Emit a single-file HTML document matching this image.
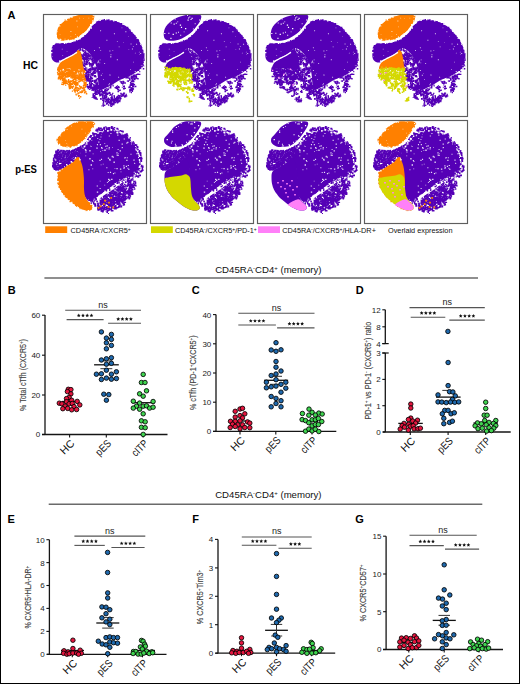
<!DOCTYPE html>
<html><head><meta charset="utf-8"><style>
html,body{margin:0;padding:0;background:#fff;}
#w{position:relative;width:518px;height:682px;border:1px solid #000;overflow:hidden;background:#fff;}
svg{position:absolute;left:-1px;top:-1px;}
text{font-family:"Liberation Sans", sans-serif;}
</style></head><body><div id="w">
<svg width="520" height="684" viewBox="0 0 520 684">
<defs><g id="hcb"><path d="M12,30 C12.58,29.55 12.67,29.42 14,29.3 C15.33,29.18 17.83,29.38 20,29.3 C22.17,29.22 24.83,29.13 27,28.8 C29.17,28.47 31.17,28.02 33,27.3 C34.83,26.58 36.33,25.63 38,24.5 C39.67,23.37 41.5,21.92 43,20.5 C44.5,19.08 45.83,17.5 47,16 C48.17,14.5 49.08,12.75 50,11.5 C50.92,10.25 51.5,9.33 52.5,8.5 C53.5,7.67 54.42,7 56,6.5 C57.58,6 59.83,5.53 62,5.5 C64.17,5.47 66.83,5.88 69,6.3 C71.17,6.72 73,7.22 75,8 C77,8.78 79.17,9.92 81,11 C82.83,12.08 84.42,13.08 86,14.5 C87.58,15.92 89.08,17.83 90.5,19.5 C91.92,21.17 93.33,22.83 94.5,24.5 C95.67,26.17 96.58,27.75 97.5,29.5 C98.42,31.25 99.33,33.08 100,35 C100.67,36.92 101.33,39 101.5,41 C101.67,43 101.25,45 101,47 C100.75,49 100.93,51.43 100,53 C99.07,54.57 96.93,55.27 95.4,56.4 C93.87,57.53 92.37,58.83 90.8,59.8 C89.23,60.77 88.13,61.23 86,62.2 C83.87,63.17 80.67,64.25 78,65.6 C75.33,66.95 72.5,68.93 70,70.3 C67.5,71.67 65.08,72.85 63,73.8 C60.92,74.75 58.75,76.63 57.5,76 C56.25,75.37 56,72.67 55.5,70 C55,67.33 55,63.33 54.5,60 C54,56.67 53.5,53 52.5,50 C51.5,47 49.92,44.17 48.5,42 C47.08,39.83 45.42,38.25 44,37 C42.58,35.75 41.33,34.83 40,34.5 C38.67,34.17 37.17,34.33 36,35 C34.83,35.67 34.17,37.5 33,38.5 C31.83,39.5 30.5,40.17 29,41 C27.5,41.83 25.67,42.58 24,43.5 C22.33,44.42 20.33,45.67 19,46.5 C17.67,47.33 17.17,48.25 16,48.5 C14.83,48.75 13.17,48.58 12,48 C10.83,47.42 9.62,46.33 9,45 C8.38,43.67 8.3,41.67 8.3,40 C8.3,38.33 8.63,36.33 9,35 C9.37,33.67 10,32.83 10.5,32 C11,31.17 11.42,30.45 12,30Z" fill="#5500b6" /><path d="M50 44.5h0.9v0.9h-0.9zM55.2 46.5h0.9v0.9h-0.9zM66.6 61h0.8v0.8h-0.8zM97.9 51.3h0.7v0.7h-0.7zM9.3 42.4h0.7v0.7h-0.7zM51.1 36.1h0.9v0.9h-0.9zM67.5 40.3h0.9v0.9h-0.9zM73.9 27.3h0.8v0.8h-0.8zM66.6 60.1h0.7v0.7h-0.7zM78.6 13.5h0.7v0.7h-0.7zM18.8 34.8h0.8v0.8h-0.8zM80 28.4h0.6v0.6h-0.6zM16.2 46.1h1v1h-1zM97.1 39h1.1v1.1h-1.1zM90.2 47.7h0.7v0.7h-0.7zM63.4 25.7h1v1h-1zM60 65.2h0.8v0.8h-0.8zM99.2 51.3h1v1h-1zM91.7 56.9h1.1v1.1h-1.1zM93 29.7h1.1v1.1h-1.1zM88.9 34.4h1.1v1.1h-1.1zM61.2 49.1h0.9v0.9h-0.9zM75.7 32.4h0.9v0.9h-0.9zM54.3 48.4h0.8v0.8h-0.8zM70.9 19.2h1.1v1.1h-1.1zM69.4 36.3h0.8v0.8h-0.8zM89.9 32.2h0.8v0.8h-0.8zM87 55.3h0.8v0.8h-0.8zM23.7 36.9h0.7v0.7h-0.7zM99.5 37.1h0.6v0.6h-0.6zM73.8 45.2h1.1v1.1h-1.1zM85.3 21.9h0.6v0.6h-0.6zM66.4 36.5h1v1h-1zM56.4 48.4h0.8v0.8h-0.8zM66.1 69.2h0.9v0.9h-0.9zM95.9 37.8h0.7v0.7h-0.7zM75.1 62.7h1v1h-1zM57.8 60.7h1.1v1.1h-1.1zM87.6 29.6h0.9v0.9h-0.9zM59.3 59.4h0.6v0.6h-0.6zM82.3 17.2h1.1v1.1h-1.1zM55.9 56h1v1h-1zM96.1 39.9h0.7v0.7h-0.7zM67.4 41.9h0.9v0.9h-0.9zM56.7 45.4h0.9v0.9h-0.9zM54.6 47.6h1.2v1.2h-1.2zM55.9 33.3h0.9v0.9h-0.9zM53.6 53.8h0.9v0.9h-0.9zM91.9 38.7h0.7v0.7h-0.7zM65.4 70.2h1.1v1.1h-1.1zM19.4 41.1h0.7v0.7h-0.7zM57.3 35.9h0.8v0.8h-0.8zM57.1 16.3h1v1h-1zM67.3 42.4h1v1h-1zM85.5 34.9h0.7v0.7h-0.7z" fill="#fff" fill-opacity="0.75"/><path d="M44.3 48.2h1.4v1.4h-1.4zM43.7 49.8h1.1v1.1h-1.1zM43.1 50.1h1.2v1.2h-1.2zM43.1 49.7h1.4v1.4h-1.4zM42.7 48.9h1.4v1.4h-1.4zM52 72h1.3v1.3h-1.3zM52.4 70.9h1.1v1.1h-1.1zM54.2 71h1.1v1.1h-1.1zM54.2 69.8h1.2v1.2h-1.2zM51.9 71.8h1.1v1.1h-1.1zM49.9 73.9h1.3v1.3h-1.3zM50.3 72.7h1.3v1.3h-1.3zM49.1 74.9h1.6v1.6h-1.6zM48.7 72.8h1.4v1.4h-1.4zM50.2 72.4h1.4v1.4h-1.4zM45.5 66.7h1.1v1.1h-1.1zM46.6 67.1h1.2v1.2h-1.2zM45.8 65.8h1.2v1.2h-1.2zM47.6 67.5h1.2v1.2h-1.2zM47.5 66.8h1.2v1.2h-1.2zM41 46.5h1.4v1.4h-1.4zM42.9 46.6h1.5v1.5h-1.5zM41.3 47.5h1.4v1.4h-1.4zM43 48.1h1.3v1.3h-1.3zM42.8 46.9h1.2v1.2h-1.2zM48.4 52.8h1.4v1.4h-1.4zM48.6 53h1.3v1.3h-1.3zM49.7 53.3h1.5v1.5h-1.5zM49 53.3h1.3v1.3h-1.3zM48.7 53h1.1v1.1h-1.1zM56.2 72.7h1.3v1.3h-1.3zM53.6 72h1.2v1.2h-1.2zM54.7 73.4h1.5v1.5h-1.5zM53.5 72.7h1.6v1.6h-1.6zM55 70.9h1.5v1.5h-1.5zM45.1 40.3h1.3v1.3h-1.3zM45.7 41.7h1.3v1.3h-1.3zM44.3 43.2h1.1v1.1h-1.1zM45.5 42.3h1v1h-1zM46.2 40.8h1.6v1.6h-1.6zM49 58.6h1.1v1.1h-1.1zM48.9 60.8h1.4v1.4h-1.4zM48.9 59.9h1.5v1.5h-1.5zM47.5 61.2h1v1h-1zM47.3 60h1.5v1.5h-1.5zM48.2 72.9h1v1h-1zM49.4 73.6h1.2v1.2h-1.2zM48.5 72.6h1.1v1.1h-1.1zM47.4 72.8h1.5v1.5h-1.5zM47.4 72.3h1.5v1.5h-1.5zM56.7 73.8h1.1v1.1h-1.1zM56.4 74.3h1.4v1.4h-1.4zM54.8 73.6h1.4v1.4h-1.4zM55.4 74.3h1.3v1.3h-1.3zM56.5 73.5h1.3v1.3h-1.3zM51.5 73.2h1.6v1.6h-1.6zM50.4 74.8h1v1h-1zM51.4 72.6h1.1v1.1h-1.1zM51.5 75h1.2v1.2h-1.2zM50.9 73.7h1.4v1.4h-1.4zM46.3 53.9h1.5v1.5h-1.5zM47.8 54.4h1v1h-1zM45.7 55.7h1.1v1.1h-1.1zM45.4 55.4h1.1v1.1h-1.1zM47.3 53.6h1.2v1.2h-1.2zM59.6 79.6h1.1v1.1h-1.1zM58.8 77.7h1.3v1.3h-1.3zM59.3 78.2h1.3v1.3h-1.3zM57.4 79.6h1.4v1.4h-1.4zM59.5 77.2h1.4v1.4h-1.4zM50.3 57.9h1.2v1.2h-1.2zM51 56h1.2v1.2h-1.2zM49.5 57.8h1.5v1.5h-1.5zM50.2 55.1h1.3v1.3h-1.3zM48.3 55.1h1.2v1.2h-1.2zM43.8 41.1h1.5v1.5h-1.5zM42.7 38.8h1.6v1.6h-1.6zM42.7 39.4h1.5v1.5h-1.5zM43.2 41.2h1.4v1.4h-1.4zM44.3 38.8h1.6v1.6h-1.6zM51.2 74.1h1.1v1.1h-1.1zM53.3 73.5h1.1v1.1h-1.1zM52.3 73.8h1.1v1.1h-1.1zM51.2 74h1v1h-1zM52.6 75.1h1.2v1.2h-1.2zM50.3 47.8h1.4v1.4h-1.4zM49.5 49.3h1.6v1.6h-1.6zM50.4 47.9h1.5v1.5h-1.5zM48.6 46.8h1.4v1.4h-1.4zM47.8 49.5h1.2v1.2h-1.2zM48.6 51.9h1v1h-1zM47.8 50h1.6v1.6h-1.6zM48 50.6h1.6v1.6h-1.6zM48.1 50.5h1.2v1.2h-1.2zM47.6 51.5h1.2v1.2h-1.2zM51.5 67.1h1.6v1.6h-1.6zM52.2 68.5h1.4v1.4h-1.4zM50.6 66.8h1.5v1.5h-1.5zM50.8 68.1h1.2v1.2h-1.2zM50.4 65.8h1.4v1.4h-1.4zM45.3 64h1.4v1.4h-1.4zM43.7 64.2h1v1h-1zM44 63.9h1.5v1.5h-1.5zM44.8 64h1.1v1.1h-1.1zM42.9 62h1.6v1.6h-1.6zM46.3 68.3h1v1h-1zM45.8 65.7h1.5v1.5h-1.5zM44.3 66h1.3v1.3h-1.3zM46.1 65.7h1.4v1.4h-1.4zM44.7 66.8h1v1h-1zM46.3 49.9h1.2v1.2h-1.2zM46.4 48.9h1.5v1.5h-1.5zM45.4 49.3h1.3v1.3h-1.3zM44.8 48.5h1v1h-1zM46 48.1h1.1v1.1h-1.1zM35.3 35.5h1.6v1.6h-1.6zM37.5 35.2h1.2v1.2h-1.2zM36.4 33.8h1.2v1.2h-1.2zM35.6 35.8h1.3v1.3h-1.3zM36.4 36h1.2v1.2h-1.2zM61.7 76.1h1.5v1.5h-1.5zM62.9 75.9h1.6v1.6h-1.6zM60.7 77h1.5v1.5h-1.5zM61.9 74.5h1.5v1.5h-1.5zM61.1 75.2h1.6v1.6h-1.6zM42.2 40.9h1.2v1.2h-1.2zM41.6 39.4h1.3v1.3h-1.3zM41 40.2h1.5v1.5h-1.5zM42.8 39.3h1.3v1.3h-1.3zM40.9 39.9h1.5v1.5h-1.5zM44.6 74h1.3v1.3h-1.3zM44.3 72.8h1.3v1.3h-1.3zM46.3 72.7h1.4v1.4h-1.4zM45.4 73.1h1.2v1.2h-1.2zM46.2 72.5h1.3v1.3h-1.3zM46.6 43.9h1.5v1.5h-1.5zM49.3 45.2h1.2v1.2h-1.2zM48.9 43.3h1.4v1.4h-1.4zM48 44.6h1.2v1.2h-1.2zM49.4 43.6h1.5v1.5h-1.5zM42.6 58.1h1.2v1.2h-1.2zM43.4 56.4h1.3v1.3h-1.3zM41 56.7h1.1v1.1h-1.1zM43.3 56.3h1.4v1.4h-1.4zM42.2 58.7h1.5v1.5h-1.5zM40.6 41h1.4v1.4h-1.4zM39.2 40.9h1.2v1.2h-1.2zM41.4 41h1.4v1.4h-1.4zM40 39.8h1.1v1.1h-1.1zM39.3 41.7h1.1v1.1h-1.1zM49.5 53.7h1.6v1.6h-1.6zM50.9 53.7h1.2v1.2h-1.2zM49.2 53.4h1.3v1.3h-1.3zM51.5 52.6h1.1v1.1h-1.1zM49.8 54.1h1v1h-1zM52 72h1.6v1.6h-1.6zM52.5 73.7h1v1h-1zM50.2 71.4h1.3v1.3h-1.3zM50.2 71.8h1v1h-1zM53.1 72.7h1.2v1.2h-1.2zM41.1 51.4h1.5v1.5h-1.5zM38.9 50.4h1.5v1.5h-1.5zM40.1 51.2h1v1h-1zM40.4 51h1.3v1.3h-1.3zM39 51.5h1.5v1.5h-1.5zM39 44h1.3v1.3h-1.3zM38.9 43.8h1.6v1.6h-1.6zM39.7 42.9h1.1v1.1h-1.1zM39.2 41.2h1.5v1.5h-1.5zM39.6 41.8h1.1v1.1h-1.1zM42.6 43.3h1.5v1.5h-1.5zM43.4 43.9h1.3v1.3h-1.3zM43 44.6h1.2v1.2h-1.2zM43.4 46.2h1.1v1.1h-1.1zM43 43.1h1.5v1.5h-1.5zM46.8 62.1h1.1v1.1h-1.1zM46.6 64.7h1.3v1.3h-1.3zM47 62.9h1.2v1.2h-1.2zM47.6 62.8h1.4v1.4h-1.4zM46.8 63.8h1.5v1.5h-1.5zM51.5 80.8h1.1v1.1h-1.1zM48.7 83h1v1h-1zM49.9 82.1h1.3v1.3h-1.3zM51.7 82.3h1v1h-1zM49.6 80.7h1.5v1.5h-1.5zM48.1 59.8h1.4v1.4h-1.4zM50 60.5h1.1v1.1h-1.1zM49.7 58.7h1.6v1.6h-1.6zM49.1 58.5h1.3v1.3h-1.3zM49.1 59.5h1.2v1.2h-1.2zM52.8 65.5h1v1h-1zM53.7 64h1.5v1.5h-1.5zM53.2 65.7h1.2v1.2h-1.2zM53.4 64.4h1.1v1.1h-1.1zM53.2 64.9h1.3v1.3h-1.3zM42 54.9h1.5v1.5h-1.5zM41.2 54.1h1.4v1.4h-1.4zM42.4 55.8h1.2v1.2h-1.2zM41.2 54.1h1.1v1.1h-1.1zM39.9 56.5h1.4v1.4h-1.4zM50.1 73.1h1.3v1.3h-1.3zM50.3 73.6h1.1v1.1h-1.1zM50.5 74.4h1.1v1.1h-1.1zM48.9 74.5h1.6v1.6h-1.6zM50.8 74.8h1.4v1.4h-1.4zM48.6 66.5h1.6v1.6h-1.6zM46.2 67.2h1.3v1.3h-1.3zM48.6 68.9h1.5v1.5h-1.5zM47.8 68.6h1.2v1.2h-1.2zM46 68.2h1.1v1.1h-1.1zM43.1 63.6h1.5v1.5h-1.5zM41.6 64.9h1.6v1.6h-1.6zM43.8 63h1.2v1.2h-1.2zM41.5 63.7h1.2v1.2h-1.2zM41.6 63.9h1.5v1.5h-1.5zM38.8 40.7h1.1v1.1h-1.1zM40 39.2h1.3v1.3h-1.3zM39.3 40.6h1.1v1.1h-1.1zM40 41.9h1.1v1.1h-1.1zM38.2 39.8h1.2v1.2h-1.2zM49.4 47.8h1.1v1.1h-1.1zM49.8 45.3h1.1v1.1h-1.1zM50.9 47.4h1.4v1.4h-1.4zM49.7 46.9h1.1v1.1h-1.1zM48.8 45.5h1.2v1.2h-1.2zM47 64.1h1.5v1.5h-1.5zM47 63.6h1.1v1.1h-1.1zM48.1 63.7h1.1v1.1h-1.1zM48.5 63.4h1.6v1.6h-1.6zM46.8 62.1h1.5v1.5h-1.5zM50.4 43.4h1.2v1.2h-1.2zM50 45.6h1.3v1.3h-1.3zM49 44.1h1.4v1.4h-1.4zM50.1 45.3h1.3v1.3h-1.3zM48.7 45.1h1.4v1.4h-1.4zM56 80h1.6v1.6h-1.6zM58.3 80.1h1.5v1.5h-1.5zM56.3 81.3h1.3v1.3h-1.3zM59.1 80.1h1.2v1.2h-1.2zM57.1 80.5h1.3v1.3h-1.3zM42 61h1.2v1.2h-1.2zM41.3 61.3h1.5v1.5h-1.5zM41.9 60.1h1.6v1.6h-1.6zM41.3 60.2h1.5v1.5h-1.5zM41.1 59.7h1.4v1.4h-1.4zM48.6 50.3h1.2v1.2h-1.2zM46.5 50.1h1.5v1.5h-1.5zM49 50.9h1.3v1.3h-1.3zM49 51.4h1.2v1.2h-1.2zM48.1 49.9h1.1v1.1h-1.1zM51.8 46.3h1.1v1.1h-1.1zM49.4 48.3h1.2v1.2h-1.2zM51.3 48.5h1.2v1.2h-1.2zM51.5 45.9h1v1h-1zM50.9 46.5h1.1v1.1h-1.1zM51.1 81.1h1.1v1.1h-1.1zM50.9 79h1.1v1.1h-1.1zM49.5 79.2h1.6v1.6h-1.6zM49.5 80.3h1v1h-1zM49.3 81.5h1.3v1.3h-1.3zM51.8 79.2h1.6v1.6h-1.6zM51.8 78.4h1.4v1.4h-1.4zM53.2 79.6h1v1h-1zM52 79.2h1.4v1.4h-1.4zM53.2 79.6h1.5v1.5h-1.5zM37.8 42.4h1v1h-1zM37.9 42.5h1.2v1.2h-1.2zM38.4 42.1h1.5v1.5h-1.5zM37.4 40.8h1.5v1.5h-1.5zM37.9 40.7h1.6v1.6h-1.6zM47.5 71.4h1.3v1.3h-1.3zM46.5 71h1.5v1.5h-1.5zM47.7 69.2h1v1h-1zM47.8 71h1.1v1.1h-1.1zM45.8 69.4h1.2v1.2h-1.2zM42.5 64.8h1.6v1.6h-1.6zM44.9 64.3h1.4v1.4h-1.4zM42.1 64.8h1.5v1.5h-1.5zM44.2 66h1.3v1.3h-1.3zM43.3 64h1.4v1.4h-1.4zM38.9 49.2h1.5v1.5h-1.5zM40.9 48.6h1.4v1.4h-1.4zM39.3 48.3h1.4v1.4h-1.4zM38.9 49h1.4v1.4h-1.4zM38.7 47.5h1.5v1.5h-1.5zM52.3 65.5h1v1h-1zM53.3 65.2h1.1v1.1h-1.1zM53.5 67.3h1.1v1.1h-1.1zM52.4 65.2h1.2v1.2h-1.2zM52.5 65.6h1.2v1.2h-1.2zM48.4 75.8h1.2v1.2h-1.2zM48.5 74.7h1.5v1.5h-1.5zM50.2 74.6h1.4v1.4h-1.4zM49.3 74.6h1v1h-1zM50.9 74.6h1.3v1.3h-1.3zM45.7 43.4h1.2v1.2h-1.2zM47.6 45.2h1.4v1.4h-1.4zM46.7 43.9h1.2v1.2h-1.2zM45.6 45.2h1.1v1.1h-1.1zM47.1 43.3h1.4v1.4h-1.4zM42.3 44.1h1.4v1.4h-1.4zM42.9 43.4h1.5v1.5h-1.5zM43.6 43.1h1.3v1.3h-1.3zM42.9 43.6h1.5v1.5h-1.5zM44.1 44.8h1v1h-1zM37.5 40.5h1.3v1.3h-1.3zM37.8 41h1.4v1.4h-1.4zM36.9 40.4h1.5v1.5h-1.5zM37.8 40.5h1.2v1.2h-1.2zM37.7 40.3h1.1v1.1h-1.1zM50.4 70.5h1.4v1.4h-1.4zM52.1 72.3h1.5v1.5h-1.5zM51.9 71.1h1.2v1.2h-1.2zM52 72.7h1.4v1.4h-1.4zM50.1 70h1.4v1.4h-1.4zM42.1 49.3h1.1v1.1h-1.1zM40.9 49.2h1v1h-1zM42.5 50h1.1v1.1h-1.1zM40.3 51h1v1h-1zM41.2 50h1.3v1.3h-1.3zM39.7 37h1.1v1.1h-1.1zM39.2 35.8h1.5v1.5h-1.5zM41.4 36.3h1.5v1.5h-1.5zM40.7 37.9h1.5v1.5h-1.5zM40.6 36.3h1.2v1.2h-1.2zM43.9 39h1.2v1.2h-1.2zM45 40.6h1.2v1.2h-1.2zM44.2 38.5h1.3v1.3h-1.3zM44.9 40h1.4v1.4h-1.4zM44.6 40.8h1.5v1.5h-1.5zM40.3 44.2h1.1v1.1h-1.1zM41.1 45.3h1v1h-1zM40.1 43.1h1.3v1.3h-1.3zM39.8 44.7h1.4v1.4h-1.4zM40.3 44.3h1.6v1.6h-1.6zM61.1 90.6h1.3v1.3h-1.3zM59.6 90.1h1.3v1.3h-1.3zM58.5 91.3h1.2v1.2h-1.2zM59.3 89.4h1.1v1.1h-1.1zM60 91.6h1.1v1.1h-1.1zM59.1 85.7h1.4v1.4h-1.4zM58.9 84.5h1.1v1.1h-1.1zM57.8 84.5h1.1v1.1h-1.1zM57 84.1h1.6v1.6h-1.6zM59.3 83.4h1.5v1.5h-1.5zM45.2 58.9h1.1v1.1h-1.1zM44.4 56.7h1.4v1.4h-1.4zM43.1 57.4h1.4v1.4h-1.4zM44.8 57.7h1.6v1.6h-1.6zM43.7 57.9h1.1v1.1h-1.1zM43.8 70h1.3v1.3h-1.3zM44.2 71.7h1.4v1.4h-1.4zM43.3 71.4h1.4v1.4h-1.4zM43.5 72.4h1.1v1.1h-1.1zM45.4 72.5h1.6v1.6h-1.6zM51.5 77.1h1.6v1.6h-1.6zM53.3 75.3h1.6v1.6h-1.6zM53.2 77.3h1.4v1.4h-1.4zM54.6 76.3h1.1v1.1h-1.1zM51.7 75h1.2v1.2h-1.2zM39.9 50h1v1h-1zM38.6 49.3h1.5v1.5h-1.5zM40.3 51h1.1v1.1h-1.1zM41.2 51.1h1.3v1.3h-1.3zM41.3 50.1h1.2v1.2h-1.2zM57 80.6h1.4v1.4h-1.4zM59.1 82.5h1v1h-1zM59 80.7h1.2v1.2h-1.2zM59.2 81.1h1.3v1.3h-1.3zM58.8 82.2h1.6v1.6h-1.6zM44.9 61.5h1.3v1.3h-1.3zM44.9 61.6h1.5v1.5h-1.5zM45 60.9h1.3v1.3h-1.3zM47 61.7h1.1v1.1h-1.1zM45.4 60.5h1.2v1.2h-1.2zM51.3 56.7h1.3v1.3h-1.3zM51 56.7h1.5v1.5h-1.5zM51.3 58.7h1.3v1.3h-1.3zM51.8 57.3h1.1v1.1h-1.1zM53.1 56.9h1.3v1.3h-1.3zM47.2 73.7h1.3v1.3h-1.3zM46.1 74.7h1.4v1.4h-1.4zM46 72.8h1.5v1.5h-1.5zM48.6 73.7h1v1h-1zM48.4 72.4h1.6v1.6h-1.6zM43.2 66.7h1.1v1.1h-1.1zM42.5 63.8h1.5v1.5h-1.5zM43.3 65h1.3v1.3h-1.3zM41.6 65.3h1.2v1.2h-1.2zM41.3 63.9h1.4v1.4h-1.4zM50.6 71.4h1.3v1.3h-1.3zM52.6 71.3h1.2v1.2h-1.2zM52.6 69.2h1.6v1.6h-1.6zM52.9 69.3h1.1v1.1h-1.1zM52.3 69.8h1.5v1.5h-1.5zM42.5 37.4h1.2v1.2h-1.2zM41 38.4h1.2v1.2h-1.2zM41.4 38.1h1.4v1.4h-1.4zM41.9 37.5h1.5v1.5h-1.5zM42.3 38.7h1.4v1.4h-1.4zM44.7 65.5h1.4v1.4h-1.4zM42.3 64.1h1.4v1.4h-1.4zM43.5 65.8h1.5v1.5h-1.5zM44.4 65.3h1.6v1.6h-1.6zM44.1 64.4h1.4v1.4h-1.4zM54.3 76.5h1.2v1.2h-1.2zM54.2 77.1h1.2v1.2h-1.2zM56.4 77.3h1.4v1.4h-1.4zM54.3 75.5h1v1h-1zM56.6 76.7h1.2v1.2h-1.2zM55.6 75.4h1.3v1.3h-1.3zM56 76.7h1.5v1.5h-1.5zM56 76.2h1.5v1.5h-1.5zM55.8 76.1h1.5v1.5h-1.5zM55.7 76.5h1v1h-1zM52.7 79.2h1.2v1.2h-1.2zM52.5 78.1h1.2v1.2h-1.2zM54.7 78.7h1.3v1.3h-1.3zM52.3 79.6h1.5v1.5h-1.5zM54.7 78.3h1.1v1.1h-1.1zM42.4 39.9h1.1v1.1h-1.1zM41.9 37.4h1.3v1.3h-1.3zM41.1 38h1.3v1.3h-1.3zM41.1 38.1h1.1v1.1h-1.1zM41.2 38h1.2v1.2h-1.2zM55.9 79.1h1.2v1.2h-1.2zM56.6 79.2h1.5v1.5h-1.5zM54.5 76.7h1.2v1.2h-1.2zM54.1 79.2h1.3v1.3h-1.3zM55.2 78h1v1h-1zM58.9 77h1.6v1.6h-1.6zM60.9 76.7h1.2v1.2h-1.2zM61.1 75.8h1.3v1.3h-1.3zM58.5 77.2h1.2v1.2h-1.2zM60.9 77.1h1.2v1.2h-1.2zM52 66.3h1.5v1.5h-1.5zM51.6 65.9h1.5v1.5h-1.5zM53.7 68.1h1.1v1.1h-1.1zM51.6 65.8h1.2v1.2h-1.2zM53.4 67.8h1.2v1.2h-1.2zM59.8 88.3h1.5v1.5h-1.5zM62.5 86.1h1.5v1.5h-1.5zM62 87.1h1.4v1.4h-1.4zM59.8 86.2h1.3v1.3h-1.3zM62.4 86.1h1.1v1.1h-1.1zM60 81.3h1.1v1.1h-1.1zM59.5 83.1h1v1h-1zM60.8 81.3h1.5v1.5h-1.5zM60.3 83.5h1.6v1.6h-1.6zM61 82.7h1.5v1.5h-1.5zM49.4 55.4h1.3v1.3h-1.3zM48.2 54.4h1.4v1.4h-1.4zM47.5 56.7h1.1v1.1h-1.1zM49.3 54.5h1.1v1.1h-1.1zM47.4 56.5h1.3v1.3h-1.3zM40.9 54.6h1.4v1.4h-1.4zM42.4 53.4h1.3v1.3h-1.3zM41.1 55.7h1.2v1.2h-1.2zM39.9 53.6h1.1v1.1h-1.1zM42.3 55.4h1.5v1.5h-1.5zM46.5 54.6h1.6v1.6h-1.6zM44.4 54.8h1.5v1.5h-1.5zM45.9 55h1v1h-1zM45.8 55.7h1.3v1.3h-1.3zM45.1 55h1.6v1.6h-1.6zM46.4 57.8h1.5v1.5h-1.5zM45.2 57.8h1.2v1.2h-1.2zM45.4 60.1h1.4v1.4h-1.4zM47.5 58.8h1.6v1.6h-1.6zM46.5 57.9h1.1v1.1h-1.1zM59.8 87h1.3v1.3h-1.3zM60.2 84.7h1.4v1.4h-1.4zM61 86.5h1.1v1.1h-1.1zM62.5 86.9h1v1h-1zM60.3 85.4h1v1h-1zM51.5 77.5h1.6v1.6h-1.6zM51.4 78h1.4v1.4h-1.4zM51.8 79.1h1.2v1.2h-1.2zM52.7 77h1.2v1.2h-1.2zM52.6 79.2h1.5v1.5h-1.5zM47.6 41.5h1.2v1.2h-1.2zM47.1 40.7h1.2v1.2h-1.2zM47.5 42.5h1.2v1.2h-1.2zM47.5 41.2h1.2v1.2h-1.2zM46.1 41.2h1.5v1.5h-1.5zM49.7 57h1.4v1.4h-1.4zM51.8 58.1h1.5v1.5h-1.5zM50.7 58.3h1.4v1.4h-1.4zM50.3 57.6h1.4v1.4h-1.4zM49.2 58.3h1.5v1.5h-1.5zM43.9 46.5h1.3v1.3h-1.3zM45 46.4h1.1v1.1h-1.1zM43.2 47.3h1.1v1.1h-1.1zM44.8 46h1.5v1.5h-1.5zM43.5 46.8h1.6v1.6h-1.6zM51.8 72.8h1.5v1.5h-1.5zM53.8 73.4h1.2v1.2h-1.2zM53.2 74.6h1.5v1.5h-1.5zM52.2 73.1h1.6v1.6h-1.6zM52.7 72.9h1.3v1.3h-1.3zM46.8 65.3h1.6v1.6h-1.6zM47.7 63.7h1.4v1.4h-1.4zM48.8 66.1h1.3v1.3h-1.3zM48.6 65.3h1v1h-1zM47.9 63.5h1.3v1.3h-1.3zM49.3 48.6h1.6v1.6h-1.6zM48.4 48.8h1.4v1.4h-1.4zM49.2 49.4h1.1v1.1h-1.1zM47.8 50.4h1.4v1.4h-1.4zM49.4 50.1h1.4v1.4h-1.4zM43.9 42h1.3v1.3h-1.3zM43.3 41.6h1.2v1.2h-1.2zM42.3 41.1h1.2v1.2h-1.2zM42.7 41h1.2v1.2h-1.2zM42.1 42.2h1.3v1.3h-1.3zM45.5 54.8h1.4v1.4h-1.4zM45.8 55h1.3v1.3h-1.3zM44.2 57.3h1.4v1.4h-1.4zM46.2 56h1v1h-1zM45.2 56.3h1.4v1.4h-1.4zM55.4 72.4h1.3v1.3h-1.3zM54.1 73h1.2v1.2h-1.2zM54 73h1.5v1.5h-1.5zM54.2 71.8h1.3v1.3h-1.3zM54.4 71.8h1v1h-1zM43.5 42.8h1.4v1.4h-1.4zM45.4 43.5h1.3v1.3h-1.3zM43.9 44.7h1.2v1.2h-1.2zM44.9 44.2h1.4v1.4h-1.4zM43.7 42.4h1.4v1.4h-1.4zM36.5 33.9h1.6v1.6h-1.6zM36.3 35.4h1.3v1.3h-1.3zM38.9 35.9h1.3v1.3h-1.3zM39 34.2h1.3v1.3h-1.3zM39.2 35.2h1.1v1.1h-1.1zM46.4 70.3h1.4v1.4h-1.4zM46 68.2h1.3v1.3h-1.3zM47 69.4h1.6v1.6h-1.6zM47.7 70.3h1.5v1.5h-1.5zM47.7 70.3h1.5v1.5h-1.5zM51.7 73.8h1.5v1.5h-1.5zM53 75h1.6v1.6h-1.6zM52 76.2h1v1h-1zM52.8 74.6h1v1h-1zM52.9 74.9h1.2v1.2h-1.2zM45.9 49.9h1.3v1.3h-1.3zM46.1 51.5h1v1h-1zM48.2 49.3h1.4v1.4h-1.4zM47.7 49.2h1.3v1.3h-1.3zM46.2 51.7h1.1v1.1h-1.1zM44.8 40.2h1.6v1.6h-1.6zM44.4 39.7h1.5v1.5h-1.5zM45.4 42.1h1.1v1.1h-1.1zM45 42.2h1.1v1.1h-1.1zM45.7 40.1h1.1v1.1h-1.1zM48 70.8h1v1h-1zM47.3 70.1h1.4v1.4h-1.4zM47.2 70.6h1v1h-1zM48.1 70.5h1.2v1.2h-1.2zM46.9 69.9h1.4v1.4h-1.4zM51.2 55.2h1.6v1.6h-1.6zM50.8 54.8h1.2v1.2h-1.2zM50.2 54.6h1.5v1.5h-1.5zM52.1 54.5h1.4v1.4h-1.4zM51.9 54.8h1.1v1.1h-1.1zM57.7 76.3h1.6v1.6h-1.6zM56.2 77.8h1.3v1.3h-1.3zM55.9 75.8h1.4v1.4h-1.4zM57.6 76.8h1.1v1.1h-1.1zM55.8 77.6h1.5v1.5h-1.5zM41.9 44.5h1.1v1.1h-1.1zM40.4 44.9h1.6v1.6h-1.6zM42.3 45h1.2v1.2h-1.2zM40.6 46.4h1.6v1.6h-1.6zM42.3 44.7h1.5v1.5h-1.5zM50.8 61.6h1.6v1.6h-1.6zM51.4 61h1.5v1.5h-1.5zM52.3 62.2h1.3v1.3h-1.3zM51.5 61.1h1.6v1.6h-1.6zM51 60.9h1.6v1.6h-1.6zM60.7 83.3h1.3v1.3h-1.3zM61.7 84.2h1.2v1.2h-1.2zM62.9 83h1.2v1.2h-1.2zM62.3 84.5h1.5v1.5h-1.5zM62.8 84.8h1.2v1.2h-1.2zM52.5 83.1h1.3v1.3h-1.3zM53.3 84.2h1.3v1.3h-1.3zM53.5 84.8h1.3v1.3h-1.3zM52.2 82.6h1.1v1.1h-1.1zM51.4 83.7h1.5v1.5h-1.5zM53.2 77.6h1.4v1.4h-1.4zM51.8 76.2h1.1v1.1h-1.1zM53.7 75.9h1.2v1.2h-1.2zM53.9 77.3h1v1h-1zM51.6 76.6h1.2v1.2h-1.2zM42.1 44.4h1.5v1.5h-1.5zM42.9 43.3h1.2v1.2h-1.2zM43 45h1.3v1.3h-1.3zM42 44.2h1.3v1.3h-1.3zM41 43.1h1.5v1.5h-1.5zM51.4 56.1h1.2v1.2h-1.2zM51.4 54.1h1.2v1.2h-1.2zM51.5 55.6h1v1h-1zM51.7 55.4h1.3v1.3h-1.3zM50.6 53.8h1.2v1.2h-1.2zM46.9 56h1.5v1.5h-1.5zM48.1 54.7h1.1v1.1h-1.1zM45.2 56.8h1.3v1.3h-1.3zM46.3 55.1h1.5v1.5h-1.5zM47.1 56.2h1v1h-1zM45.5 71.7h1.2v1.2h-1.2zM44.9 73.2h1v1h-1zM45.9 73.1h1.1v1.1h-1.1zM45.9 72.4h1.4v1.4h-1.4zM45.9 71.2h1.3v1.3h-1.3zM43.2 62.9h1.4v1.4h-1.4zM43 62.4h1.6v1.6h-1.6zM44.3 61.7h1.4v1.4h-1.4zM44.4 63.6h1.1v1.1h-1.1zM44.8 62.7h1.4v1.4h-1.4zM43.3 60.8h1.4v1.4h-1.4zM45.4 60.8h1.2v1.2h-1.2zM44.4 60.1h1.2v1.2h-1.2zM43.5 59.1h1.2v1.2h-1.2zM43 60.4h1.5v1.5h-1.5zM53.4 70.8h1.4v1.4h-1.4zM53.8 70.1h1.5v1.5h-1.5zM52.8 70.5h1.2v1.2h-1.2zM54 68.6h1.3v1.3h-1.3zM53.6 68.1h1.1v1.1h-1.1zM42.3 62.9h1.1v1.1h-1.1zM42.8 62.2h1.3v1.3h-1.3zM43.1 60.6h1.3v1.3h-1.3zM42.6 62.4h1.4v1.4h-1.4zM43.1 62.8h1.2v1.2h-1.2zM42.3 55.4h1.5v1.5h-1.5zM40.8 55.8h1.2v1.2h-1.2zM41.8 53.3h1.3v1.3h-1.3zM40.1 55.9h1.1v1.1h-1.1zM40.7 54.1h1.6v1.6h-1.6zM50.9 83.1h1.6v1.6h-1.6zM50.1 83.2h1.2v1.2h-1.2zM51 82.3h1.4v1.4h-1.4zM52.5 83.5h1.3v1.3h-1.3zM51.9 83.8h1.6v1.6h-1.6zM53.6 53.7h1.2v1.2h-1.2zM52.3 54.2h1.3v1.3h-1.3zM52.5 55.6h1.3v1.3h-1.3zM52.9 52.9h1.4v1.4h-1.4zM51.9 53.6h1.5v1.5h-1.5zM40.5 55.5h1.1v1.1h-1.1zM41.6 55.2h1.2v1.2h-1.2zM42.5 55.9h1.1v1.1h-1.1zM43.3 53.6h1v1h-1zM42.4 55.3h1.2v1.2h-1.2zM49.3 74.9h1.5v1.5h-1.5zM50.4 76.2h1v1h-1zM49.9 75.4h1.4v1.4h-1.4zM51.7 74.2h1.3v1.3h-1.3zM51.4 73.7h1.2v1.2h-1.2zM60.4 77.6h1.3v1.3h-1.3zM59.5 77.2h1.2v1.2h-1.2zM58.2 75.9h1.6v1.6h-1.6zM58.4 78.4h1.3v1.3h-1.3zM58.1 76.7h1.1v1.1h-1.1zM43.8 61.7h1v1h-1zM41.9 61.9h1.3v1.3h-1.3zM42.2 62.2h1v1h-1zM42.2 60.8h1.5v1.5h-1.5zM44.8 61.7h1.3v1.3h-1.3zM35.9 40.1h1.5v1.5h-1.5zM36.2 40.3h1.1v1.1h-1.1zM36.7 38.4h1.3v1.3h-1.3zM36.5 39.7h1.4v1.4h-1.4zM36.2 38.3h1.1v1.1h-1.1z" fill="#5500b6" /><path d="M99.2 53.9h1.6v1.6h-1.6zM97.9 52.5h1.4v1.4h-1.4zM98.2 52.4h1.1v1.1h-1.1zM99.8 54.1h1.5v1.5h-1.5zM97.9 54.3h1.3v1.3h-1.3zM74.2 88.4h1v1h-1zM72.9 85.8h1.6v1.6h-1.6zM74.7 87.6h1.2v1.2h-1.2zM74.2 88.2h1.1v1.1h-1.1zM72.9 85.5h1.3v1.3h-1.3zM75.3 72.1h1.1v1.1h-1.1zM73.4 73.5h1.2v1.2h-1.2zM75.1 72h1.3v1.3h-1.3zM72.5 73.6h1.5v1.5h-1.5zM73.8 71.3h1.3v1.3h-1.3zM73.7 85.4h1v1h-1zM74.1 87.4h1.1v1.1h-1.1zM72.7 85.8h1.6v1.6h-1.6zM71.4 84.5h1.5v1.5h-1.5zM73 85.8h1.5v1.5h-1.5zM80.9 78.6h1.2v1.2h-1.2zM82.6 79.7h1.2v1.2h-1.2zM82.4 80.6h1.4v1.4h-1.4zM81.4 80.9h1.5v1.5h-1.5zM83.4 81.4h1v1h-1zM70.3 88.3h1.4v1.4h-1.4zM71.7 88.5h1v1h-1zM69.9 89.9h1.4v1.4h-1.4zM69.7 89.9h1.3v1.3h-1.3zM70.5 90.2h1.1v1.1h-1.1zM89.3 73.9h1.5v1.5h-1.5zM86.8 75.2h1.1v1.1h-1.1zM88.6 75.2h1.4v1.4h-1.4zM88.4 74.3h1.5v1.5h-1.5zM87.8 73.4h1.3v1.3h-1.3zM80 71.9h1.2v1.2h-1.2zM80.4 72.4h1.4v1.4h-1.4zM79.2 70.5h1.1v1.1h-1.1zM78.8 72.7h1v1h-1zM80.5 71.5h1.5v1.5h-1.5zM61.5 79h1.4v1.4h-1.4zM61.3 79.4h1.1v1.1h-1.1zM60.2 79.4h1v1h-1zM60.7 77.8h1.5v1.5h-1.5zM60.7 78.4h1.3v1.3h-1.3zM66.9 91.5h1.1v1.1h-1.1zM67.8 91.7h1.4v1.4h-1.4zM67.2 88.8h1.3v1.3h-1.3zM67.3 91.1h1.2v1.2h-1.2zM68.2 89.9h1.4v1.4h-1.4zM80.3 73.9h1.3v1.3h-1.3zM81.5 73.7h1.4v1.4h-1.4zM80.6 74.2h1.3v1.3h-1.3zM80 74.1h1.5v1.5h-1.5zM79.9 74.2h1.4v1.4h-1.4zM62.1 80h1.6v1.6h-1.6zM63.8 79.7h1.2v1.2h-1.2zM63 79h1.5v1.5h-1.5zM63.9 78.6h1.4v1.4h-1.4zM62.9 79.6h1.5v1.5h-1.5zM91.1 64.8h1.4v1.4h-1.4zM88.6 64.2h1.1v1.1h-1.1zM90.2 64.3h1.4v1.4h-1.4zM88.4 65.7h1.4v1.4h-1.4zM89.1 64.5h1.2v1.2h-1.2zM65.7 84.5h1.4v1.4h-1.4zM68.2 84.7h1.3v1.3h-1.3zM67.6 85.3h1.4v1.4h-1.4zM67.3 85.6h1v1h-1zM67.7 83.7h1.2v1.2h-1.2zM61.6 77.6h1.5v1.5h-1.5zM61.7 76.5h1.2v1.2h-1.2zM63.1 76.2h1.1v1.1h-1.1zM61.5 78.6h1.5v1.5h-1.5zM63.5 76h1.3v1.3h-1.3zM77.4 79.7h1.1v1.1h-1.1zM77.9 81.3h1.6v1.6h-1.6zM78.6 81h1.4v1.4h-1.4zM77.2 78.7h1.5v1.5h-1.5zM76.3 81.1h1.5v1.5h-1.5zM69.9 87.5h1.2v1.2h-1.2zM67.9 90h1.1v1.1h-1.1zM68.8 89.4h1.2v1.2h-1.2zM69.3 89h1.2v1.2h-1.2zM70.1 89h1.4v1.4h-1.4zM63 88.6h1.1v1.1h-1.1zM63 89.2h1.3v1.3h-1.3zM62.9 88.8h1.4v1.4h-1.4zM62.9 89.3h1.4v1.4h-1.4zM64.9 90.3h1.5v1.5h-1.5zM82.1 81.9h1.4v1.4h-1.4zM79.6 80.6h1.4v1.4h-1.4zM80.4 81.5h1.5v1.5h-1.5zM81.2 82.5h1.2v1.2h-1.2zM79.3 80.6h1.5v1.5h-1.5zM75.6 81.7h1.5v1.5h-1.5zM73.6 82.6h1.6v1.6h-1.6zM74.8 80.8h1.3v1.3h-1.3zM75.4 81.2h1.3v1.3h-1.3zM76.2 82h1.2v1.2h-1.2zM71.9 84.6h1.1v1.1h-1.1zM72.2 85.9h1.3v1.3h-1.3zM72.4 85.9h1.2v1.2h-1.2zM74 85h1.2v1.2h-1.2zM73.1 86.8h1.2v1.2h-1.2zM85.1 61.1h1.5v1.5h-1.5zM82.4 61.9h1.3v1.3h-1.3zM85.1 63.5h1.2v1.2h-1.2zM82.3 63.2h1.4v1.4h-1.4zM85.1 61.4h1.4v1.4h-1.4zM96 59.7h1.4v1.4h-1.4zM96.2 57.1h1.1v1.1h-1.1zM94.1 59.4h1.4v1.4h-1.4zM94.7 59.6h1.3v1.3h-1.3zM93.8 59.6h1.4v1.4h-1.4zM69 90.6h1.1v1.1h-1.1zM67.2 91.1h1.2v1.2h-1.2zM69.2 89h1.3v1.3h-1.3zM69.2 89.7h1.2v1.2h-1.2zM68.3 89.4h1.4v1.4h-1.4zM65 87.2h1.5v1.5h-1.5zM63.7 88.8h1.4v1.4h-1.4zM64.3 86.2h1.3v1.3h-1.3zM63.3 88.2h1.2v1.2h-1.2zM63.3 86.5h1.2v1.2h-1.2zM89.4 66.6h1.3v1.3h-1.3zM90.1 66.8h1.4v1.4h-1.4zM89 66h1.2v1.2h-1.2zM89.6 66.1h1.3v1.3h-1.3zM88.6 66.6h1.3v1.3h-1.3zM67.5 86.5h1.4v1.4h-1.4zM67.5 85.4h1.1v1.1h-1.1zM68.3 84.4h1.5v1.5h-1.5zM66.4 86.3h1.5v1.5h-1.5zM67.8 84.1h1.5v1.5h-1.5zM64.2 87.5h1v1h-1zM62.8 85.4h1.1v1.1h-1.1zM64.9 85h1.2v1.2h-1.2zM64.7 85h1.3v1.3h-1.3zM64.5 87.5h1.5v1.5h-1.5zM89 71.7h1.2v1.2h-1.2zM89.6 70h1.5v1.5h-1.5zM87.1 69.3h1.4v1.4h-1.4zM89.2 71.3h1v1h-1zM89.5 71.9h1.5v1.5h-1.5zM84.2 63.1h1.4v1.4h-1.4zM82.8 62.2h1.3v1.3h-1.3zM83.5 61.3h1.2v1.2h-1.2zM83.7 62.8h1.6v1.6h-1.6zM83.2 62.8h1.1v1.1h-1.1zM76.2 87.1h1.2v1.2h-1.2zM76.1 85.7h1v1h-1zM74.7 86.5h1.4v1.4h-1.4zM73.4 84.7h1.4v1.4h-1.4zM76.1 86.1h1.5v1.5h-1.5zM63.8 84.7h1.3v1.3h-1.3zM63.8 86.3h1.3v1.3h-1.3zM63.9 84.6h1.4v1.4h-1.4zM65 85.7h1.1v1.1h-1.1zM64.4 84.8h1.3v1.3h-1.3zM73 73.4h1.1v1.1h-1.1zM72.2 73h1.3v1.3h-1.3zM71.5 73h1.3v1.3h-1.3zM73.7 74h1.5v1.5h-1.5zM71.9 73.1h1.2v1.2h-1.2zM71.7 85h1.3v1.3h-1.3zM69.4 86.1h1.5v1.5h-1.5zM70.1 86.6h1.4v1.4h-1.4zM70.5 85.2h1.4v1.4h-1.4zM71.8 87.4h1.6v1.6h-1.6zM61.5 81h1.4v1.4h-1.4zM61 81.5h1.5v1.5h-1.5zM63.1 81.8h1.3v1.3h-1.3zM61.7 82.9h1.3v1.3h-1.3zM62.6 81.2h1.6v1.6h-1.6zM69.1 78.8h1.3v1.3h-1.3zM68.6 80.1h1.2v1.2h-1.2zM67 79.7h1.4v1.4h-1.4zM68.1 81.2h1.2v1.2h-1.2zM68.4 81.6h1.2v1.2h-1.2zM91.1 63.5h1.2v1.2h-1.2zM89.2 64.7h1.1v1.1h-1.1zM90.6 64.2h1.4v1.4h-1.4zM89.1 66.1h1.1v1.1h-1.1zM91 63.9h1.3v1.3h-1.3zM89.2 75.4h1.1v1.1h-1.1zM87.3 74.1h1.4v1.4h-1.4zM88.2 72.9h1.3v1.3h-1.3zM87.7 73.8h1.6v1.6h-1.6zM88 75.2h1.6v1.6h-1.6zM64.8 72.6h1v1h-1zM66.4 72.8h1.6v1.6h-1.6zM66.5 73.4h1.2v1.2h-1.2zM67 71.4h1.5v1.5h-1.5zM66.9 73h1.5v1.5h-1.5zM64.5 83.4h1.5v1.5h-1.5zM66.3 84.7h1v1h-1zM64.3 85.6h1.4v1.4h-1.4zM64.7 86h1.3v1.3h-1.3zM64 86.2h1.2v1.2h-1.2zM64.9 75.2h1v1h-1zM63.8 74.3h1v1h-1zM65.1 74.3h1.1v1.1h-1.1zM63 74.2h1.3v1.3h-1.3zM64.2 75h1.3v1.3h-1.3zM86 72.3h1.5v1.5h-1.5zM85.3 72.4h1.6v1.6h-1.6zM86.5 70.6h1.6v1.6h-1.6zM85.5 72.8h1.5v1.5h-1.5zM86.4 72.6h1.4v1.4h-1.4zM73.9 83.5h1.4v1.4h-1.4zM75 83h1.3v1.3h-1.3zM74.6 80.7h1.4v1.4h-1.4zM74 82.3h1.5v1.5h-1.5zM75.5 82.9h1.1v1.1h-1.1zM80 78.7h1.3v1.3h-1.3zM80.2 79.5h1.4v1.4h-1.4zM78.5 79.6h1.4v1.4h-1.4zM80 78.5h1.3v1.3h-1.3zM79.6 79.7h1.1v1.1h-1.1zM90.7 61.7h1.2v1.2h-1.2zM92.6 59.9h1.2v1.2h-1.2zM90.6 61.1h1v1h-1zM90.5 60.3h1v1h-1zM91.8 61.9h1.6v1.6h-1.6zM72.7 83.4h1.5v1.5h-1.5zM73.1 83.5h1.1v1.1h-1.1zM72.3 85h1.6v1.6h-1.6zM74.5 84.2h1.2v1.2h-1.2zM74 84.2h1.2v1.2h-1.2zM87.8 78h1.2v1.2h-1.2zM86.2 77.3h1.3v1.3h-1.3zM88.7 76.4h1.4v1.4h-1.4zM86.6 76.4h1.1v1.1h-1.1zM86 75.3h1.4v1.4h-1.4zM74.5 85.4h1.3v1.3h-1.3zM74.4 87.3h1.4v1.4h-1.4zM73.7 88.1h1.5v1.5h-1.5zM72.8 85.4h1.1v1.1h-1.1zM73.8 85.8h1.2v1.2h-1.2zM73.9 82.4h1.6v1.6h-1.6zM76.2 82.4h1.1v1.1h-1.1zM73.7 82.4h1.5v1.5h-1.5zM73.4 82.8h1.4v1.4h-1.4zM73.5 83.5h1.1v1.1h-1.1zM67.8 69.3h1.2v1.2h-1.2zM69.6 71.4h1.2v1.2h-1.2zM67.3 70.8h1.3v1.3h-1.3zM69.3 70.4h1.2v1.2h-1.2zM67.3 70.2h1.1v1.1h-1.1zM67 89.5h1.2v1.2h-1.2zM66.6 87.1h1.5v1.5h-1.5zM65.7 88.2h1.5v1.5h-1.5zM68.2 88.2h1.2v1.2h-1.2zM66 87.8h1.1v1.1h-1.1zM79.3 69h1.3v1.3h-1.3zM80 66.9h1.4v1.4h-1.4zM80 68.3h1.4v1.4h-1.4zM81.5 68.3h1.4v1.4h-1.4zM79.4 66.8h1.6v1.6h-1.6zM68.7 89.2h1.1v1.1h-1.1zM69.5 87.1h1.2v1.2h-1.2zM70.5 87.8h1.5v1.5h-1.5zM70.6 87.4h1.4v1.4h-1.4zM69.6 89.4h1.5v1.5h-1.5zM62.1 77.1h1.1v1.1h-1.1zM62.4 78.3h1.5v1.5h-1.5zM60 78.5h1v1h-1zM62.3 78h1.2v1.2h-1.2zM61.1 77h1.3v1.3h-1.3zM87.8 75.7h1.5v1.5h-1.5zM88.4 74.2h1.5v1.5h-1.5zM88.7 73.8h1.1v1.1h-1.1zM87.9 75.2h1.4v1.4h-1.4zM89.7 74.4h1.4v1.4h-1.4zM75.8 86.3h1.2v1.2h-1.2zM76.7 85.5h1v1h-1zM76.4 83.6h1.4v1.4h-1.4zM76.3 85.2h1v1h-1zM73.7 85.3h1.4v1.4h-1.4zM70.3 85.7h1.3v1.3h-1.3zM69.1 86.2h1v1h-1zM68.1 85.5h1.1v1.1h-1.1zM71 85.9h1.3v1.3h-1.3zM70.8 86.4h1.1v1.1h-1.1zM88.4 62.1h1.6v1.6h-1.6zM89.2 62.8h1.5v1.5h-1.5zM87.6 61.6h1.3v1.3h-1.3zM90.1 62.5h1.3v1.3h-1.3zM87.7 62.8h1.4v1.4h-1.4zM66.6 85.5h1.1v1.1h-1.1zM68.1 85.5h1.3v1.3h-1.3zM68.1 86.7h1.1v1.1h-1.1zM66.8 86.1h1.3v1.3h-1.3zM67.2 87.6h1.6v1.6h-1.6zM66.6 88.4h1.6v1.6h-1.6zM67.3 89.8h1.3v1.3h-1.3zM66.7 88.5h1.2v1.2h-1.2zM67.3 89.9h1.1v1.1h-1.1zM65.5 87.8h1.5v1.5h-1.5zM90.6 70.1h1.5v1.5h-1.5zM88.8 69.9h1.4v1.4h-1.4zM89.2 68.7h1.4v1.4h-1.4zM88 70.6h1.3v1.3h-1.3zM90 69.3h1.1v1.1h-1.1zM67.1 83.2h1v1h-1zM68.4 83.2h1.1v1.1h-1.1zM66.5 80.8h1.2v1.2h-1.2zM66.3 81h1v1h-1zM68 82.8h1.3v1.3h-1.3zM88.7 76.8h1.2v1.2h-1.2zM87.5 75.8h1.5v1.5h-1.5zM88.9 74.6h1.2v1.2h-1.2zM88.3 75.3h1.6v1.6h-1.6zM86.9 75.1h1.1v1.1h-1.1zM92.6 63h1.5v1.5h-1.5zM92.4 64.1h1.1v1.1h-1.1zM91.7 61.3h1.5v1.5h-1.5zM94.2 63.9h1.5v1.5h-1.5zM93.2 63.5h1.2v1.2h-1.2zM77.2 83.9h1.4v1.4h-1.4zM77.1 83.3h1.3v1.3h-1.3zM76 82.3h1.6v1.6h-1.6zM76.6 84h1.1v1.1h-1.1zM76.4 84.1h1.5v1.5h-1.5zM87.9 63.7h1.6v1.6h-1.6zM88.6 64.4h1.1v1.1h-1.1zM88.6 65.3h1.1v1.1h-1.1zM86 63.4h1.5v1.5h-1.5zM86.6 65.5h1.1v1.1h-1.1zM90.1 72h1.4v1.4h-1.4zM89 71h1.5v1.5h-1.5zM89.8 69.5h1.5v1.5h-1.5zM91.9 71.7h1.5v1.5h-1.5zM89.3 70.7h1.5v1.5h-1.5zM72.9 84h1v1h-1zM74.8 84.3h1.2v1.2h-1.2zM75.1 83.3h1.5v1.5h-1.5zM72.9 82.7h1.1v1.1h-1.1zM73.6 82.1h1.3v1.3h-1.3zM75.4 72.9h1.4v1.4h-1.4zM74.2 74.8h1.4v1.4h-1.4zM72.7 72.1h1.2v1.2h-1.2zM72.8 72.7h1.5v1.5h-1.5zM74.3 72.8h1.4v1.4h-1.4zM70.9 82.8h1.2v1.2h-1.2zM68.5 82.2h1.3v1.3h-1.3zM70.5 81.1h1.3v1.3h-1.3zM70.6 82.1h1.4v1.4h-1.4zM69.1 83.4h1.2v1.2h-1.2zM92.9 62h1.2v1.2h-1.2zM90.7 60.5h1.1v1.1h-1.1zM90.7 61.2h1.4v1.4h-1.4zM93 60.3h1.2v1.2h-1.2zM92.4 60.2h1.6v1.6h-1.6zM88.8 69.4h1.2v1.2h-1.2zM88 69h1.5v1.5h-1.5zM87.1 68.5h1.2v1.2h-1.2zM86.9 67.8h1.2v1.2h-1.2zM87.9 66.8h1.6v1.6h-1.6zM70.8 85h1.3v1.3h-1.3zM71.5 84.1h1.2v1.2h-1.2zM70.5 84.2h1.5v1.5h-1.5zM69.6 84.7h1.6v1.6h-1.6zM71.1 84.3h1.3v1.3h-1.3zM90.6 62h1.3v1.3h-1.3zM89.7 61.4h1.4v1.4h-1.4zM90.4 60.8h1.6v1.6h-1.6zM89.2 63h1v1h-1zM89.5 60.8h1.3v1.3h-1.3zM61.5 78.6h1.5v1.5h-1.5zM60.4 78.8h1.5v1.5h-1.5zM61.8 77.8h1.2v1.2h-1.2zM60.3 77.1h1.3v1.3h-1.3zM61 78.1h1.3v1.3h-1.3zM65.8 88h1.2v1.2h-1.2zM67.9 88.4h1.1v1.1h-1.1zM67 89.5h1.2v1.2h-1.2zM68.1 88.3h1.5v1.5h-1.5zM67.4 89.5h1.2v1.2h-1.2zM66.3 78.8h1.1v1.1h-1.1zM65.5 77.8h1.6v1.6h-1.6zM66.5 78.3h1.2v1.2h-1.2zM65.3 79.3h1.1v1.1h-1.1zM65.6 78.4h1.3v1.3h-1.3zM76.4 75.4h1.4v1.4h-1.4zM75.4 76.1h1.1v1.1h-1.1zM74.5 76.7h1.6v1.6h-1.6zM76.7 75.9h1.1v1.1h-1.1zM75 75.1h1.1v1.1h-1.1zM85.9 65.7h1.1v1.1h-1.1zM84.7 66.7h1.2v1.2h-1.2zM86 65.1h1.6v1.6h-1.6zM84.6 66.3h1.3v1.3h-1.3zM83.8 66.4h1.2v1.2h-1.2zM78.1 67.2h1.2v1.2h-1.2zM76.4 66.5h1.1v1.1h-1.1zM77.4 66.9h1.2v1.2h-1.2zM77.4 67.9h1.3v1.3h-1.3zM78.2 68.4h1.5v1.5h-1.5z" fill="#5500b6" /><path d="M12.3 28.8h1.7v1.7h-1.7zM18.8 29.1h1.4v1.4h-1.4zM14.7 28.8h1.1v1.1h-1.1zM17.3 28.5h1.7v1.7h-1.7zM13.9 28.9h1v1h-1zM24.8 28.6h1.3v1.3h-1.3zM21.7 29.4h1.2v1.2h-1.2zM20.9 29.1h1.1v1.1h-1.1zM20.1 29.7h1.4v1.4h-1.4zM24.1 29.6h1.2v1.2h-1.2zM28.8 28.1h1.2v1.2h-1.2zM30.3 26.9h1.3v1.3h-1.3zM29.8 27.9h0.9v0.9h-0.9zM30.5 26.8h1.4v1.4h-1.4zM33.1 26.1h1v1h-1zM32.6 26.4h1.4v1.4h-1.4zM36.1 24.9h1.4v1.4h-1.4zM34.9 25.7h1.6v1.6h-1.6zM39.6 23.5h1.5v1.5h-1.5zM40.8 21.1h1v1h-1zM37.5 23.8h1.7v1.7h-1.7zM42.6 21.4h1v1h-1zM41.4 21.8h1.5v1.5h-1.5zM45.6 16.4h1v1h-1zM46.1 16.8h1.6v1.6h-1.6zM45.3 18.8h1v1h-1zM47.2 16.5h1.2v1.2h-1.2zM47 15.4h1.5v1.5h-1.5zM47.3 13.8h1.1v1.1h-1.1zM48.5 11.4h1.6v1.6h-1.6zM47.3 14.4h1v1h-1zM52.9 8.8h1.2v1.2h-1.2zM50.1 11h1.6v1.6h-1.6zM49.9 11.2h1.6v1.6h-1.6zM53.7 7.4h1.5v1.5h-1.5zM52.7 7.5h1.4v1.4h-1.4zM54.2 7.4h1.2v1.2h-1.2zM60.9 5.1h1.4v1.4h-1.4zM61 5.5h0.9v0.9h-0.9zM56.8 5.6h1v1h-1zM56.2 6.1h1.2v1.2h-1.2zM64.3 6h1.4v1.4h-1.4zM66.1 5.7h1.4v1.4h-1.4zM65.2 5.2h1.3v1.3h-1.3zM63.4 5.9h1.5v1.5h-1.5zM63 5.5h1.3v1.3h-1.3zM70.4 6.1h0.9v0.9h-0.9zM74.1 8.4h1.3v1.3h-1.3zM72.2 6.9h1.5v1.5h-1.5zM73.8 8.3h1.3v1.3h-1.3zM79.8 11.7h0.9v0.9h-0.9zM76.7 9.1h1.1v1.1h-1.1zM78 9.1h1.5v1.5h-1.5zM79.5 9.7h1.5v1.5h-1.5zM75.5 8.8h1.5v1.5h-1.5zM84.6 14.8h1.2v1.2h-1.2zM83.9 12.8h1.5v1.5h-1.5zM82.4 12.1h1.1v1.1h-1.1zM80.9 12.2h1v1h-1zM86.5 15.2h1v1h-1zM88 17.9h1.4v1.4h-1.4zM89.2 18.9h0.9v0.9h-0.9zM85.6 15.1h1.5v1.5h-1.5zM89.1 19h1.1v1.1h-1.1zM91.2 22.7h1.2v1.2h-1.2zM92.5 24.3h1.4v1.4h-1.4zM92 21.4h1v1h-1zM89.3 19.5h1.5v1.5h-1.5zM93 24.1h1.7v1.7h-1.7zM95.3 26h0.9v0.9h-0.9zM94 25.4h1.7v1.7h-1.7zM94.5 25.3h1.5v1.5h-1.5zM94.6 26.3h1v1h-1zM97.6 34h1.5v1.5h-1.5zM99.1 34.3h0.9v0.9h-0.9zM96.4 31.1h1.3v1.3h-1.3zM97.5 30.1h1v1h-1zM98.5 37.2h1.6v1.6h-1.6zM99.6 39.3h1.1v1.1h-1.1zM100.4 39h1.3v1.3h-1.3zM98.3 35h1v1h-1zM99.6 43.8h1.4v1.4h-1.4zM100 44.3h1.5v1.5h-1.5zM99.4 45.7h1.7v1.7h-1.7zM100.6 45.4h1.4v1.4h-1.4zM99.4 46.8h1.2v1.2h-1.2zM99.5 51.3h1.7v1.7h-1.7zM100.7 46.8h0.9v0.9h-0.9zM98.6 46.7h1.6v1.6h-1.6zM95 55.4h1.5v1.5h-1.5zM95.2 54.3h1.1v1.1h-1.1zM94.2 54.8h1.4v1.4h-1.4zM97.7 52.9h1.5v1.5h-1.5zM8.4 36.7h1.6v1.6h-1.6zM9.4 37.6h0.9v0.9h-0.9zM9.2 37h0.9v0.9h-0.9zM8.3 35.8h1.4v1.4h-1.4zM9.1 32.3h1.7v1.7h-1.7zM8.7 33.6h1.3v1.3h-1.3zM9.7 31h1.5v1.5h-1.5zM10.4 31.4h1.6v1.6h-1.6z" fill="#5500b6" /><path d="M11.6 28.7h0.9v0.9h-0.9zM17.7 28h1.1v1.1h-1.1zM17.3 28.2h0.8v0.8h-0.8zM16.6 28h1.2v1.2h-1.2zM25.6 27.4h1.1v1.1h-1.1zM20.9 28.6h1.4v1.4h-1.4zM24.2 27.7h1.1v1.1h-1.1zM22.9 28.4h1.2v1.2h-1.2zM27.1 27.2h1.2v1.2h-1.2zM30.6 27.2h0.9v0.9h-0.9zM28.2 26.9h1.2v1.2h-1.2zM36 24.3h1.1v1.1h-1.1zM37.1 24.3h0.9v0.9h-0.9zM35 24.4h1.1v1.1h-1.1zM39.9 21.3h1.3v1.3h-1.3zM41.1 19.5h1.2v1.2h-1.2zM39 21h1.1v1.1h-1.1zM39.8 20.4h1.3v1.3h-1.3zM43.2 17.5h1.2v1.2h-1.2zM45.5 15.3h1.2v1.2h-1.2zM45.9 15.2h1.1v1.1h-1.1zM48.3 10.6h0.9v0.9h-0.9zM45.5 14.3h1.4v1.4h-1.4zM47.4 13.6h1.3v1.3h-1.3zM51.7 8.1h1.1v1.1h-1.1zM51.1 8.9h1.1v1.1h-1.1zM52.3 7.3h1v1h-1zM52.2 7.6h0.9v0.9h-0.9zM56.2 5.9h1.1v1.1h-1.1zM57.2 4.7h1.1v1.1h-1.1zM57 5.7h1v1h-1zM66.6 5.5h1.1v1.1h-1.1zM67.2 4.5h1.1v1.1h-1.1zM67.5 4.9h1v1h-1zM62 4.9h1.4v1.4h-1.4zM70.9 5.1h1.5v1.5h-1.5zM74.2 7h0.8v0.8h-0.8zM70.1 6.1h1.3v1.3h-1.3zM79.1 8.3h1.3v1.3h-1.3zM80.5 9.6h1.1v1.1h-1.1zM79.4 9.7h1.3v1.3h-1.3zM79.5 8.7h0.8v0.8h-0.8zM82.2 10.1h0.9v0.9h-0.9zM83.1 11.4h1.1v1.1h-1.1zM85.6 12.5h1v1h-1zM87 13.8h1.1v1.1h-1.1zM86.7 15.4h0.8v0.8h-0.8zM88.2 16.7h1.2v1.2h-1.2zM89.8 18h1.5v1.5h-1.5zM90.9 18.6h1.3v1.3h-1.3zM93.6 23.9h1.2v1.2h-1.2zM92.7 21.3h1.1v1.1h-1.1zM91.8 19.4h1.4v1.4h-1.4zM97.2 26.7h1.2v1.2h-1.2zM95.1 24h0.9v0.9h-0.9zM97 27.4h0.9v0.9h-0.9zM97.3 30h0.9v0.9h-0.9zM99.3 34.1h1.4v1.4h-1.4zM97.5 29.6h1.1v1.1h-1.1zM101.4 36.3h1v1h-1zM100.3 37.5h0.9v0.9h-0.9zM100.7 38.5h1.1v1.1h-1.1zM100.6 44.7h0.8v0.8h-0.8zM102.1 44.8h0.8v0.8h-0.8zM102 43.1h1.4v1.4h-1.4zM99.9 52.3h1.5v1.5h-1.5zM100.7 46.7h1.4v1.4h-1.4zM100.5 48.9h1.1v1.1h-1.1zM98.2 54.4h1.5v1.5h-1.5zM98.4 53.3h1.4v1.4h-1.4zM96.6 55.8h1.3v1.3h-1.3zM7.2 34.6h1.2v1.2h-1.2zM8 37.9h1.4v1.4h-1.4zM7.2 35h1v1h-1zM8.5 31.7h0.9v0.9h-0.9zM8.6 34.5h1v1h-1zM10 29.3h1.4v1.4h-1.4z" fill="#fff" /></g><g id="peb"><path d="M66.3 46.1h1.3v1.3h-1.3zM80.5 74.2h1.5v1.5h-1.5zM54.7 25.2h1.1v1.1h-1.1zM42.5 55.3h1.2v1.2h-1.2zM80.7 24.8h1.3v1.3h-1.3zM75.6 80h1.6v1.6h-1.6zM11.8 33h1.5v1.5h-1.5zM82.6 15.3h1.8v1.8h-1.8zM49.8 52.3h1.4v1.4h-1.4zM52.8 21h1.1v1.1h-1.1zM87 24.8h1.7v1.7h-1.7zM77.7 54.6h1.7v1.7h-1.7zM19.7 45.6h1.8v1.8h-1.8zM89.1 40h1.4v1.4h-1.4zM49.4 37.7h1.9v1.9h-1.9zM98.6 47.4h1.5v1.5h-1.5zM58.7 69.2h1.3v1.3h-1.3zM63.8 52.6h1.6v1.6h-1.6zM79 36.9h1.6v1.6h-1.6zM69.7 81.9h1.9v1.9h-1.9zM88.7 47h1.4v1.4h-1.4zM81.6 71.3h1.5v1.5h-1.5zM32.1 29.7h1.4v1.4h-1.4zM51.9 26.3h1.9v1.9h-1.9zM56.5 67.6h1.1v1.1h-1.1zM63.1 41.4h1.6v1.6h-1.6zM85.6 31.2h1.5v1.5h-1.5zM62.3 60h1.8v1.8h-1.8zM61.7 26.9h1.4v1.4h-1.4zM49 16.7h1.8v1.8h-1.8zM68 15.6h1.5v1.5h-1.5zM25.3 37.2h1.7v1.7h-1.7zM58.4 8.6h1.7v1.7h-1.7zM87.7 71.2h1.7v1.7h-1.7zM9.6 44.8h1.2v1.2h-1.2zM77.8 19.7h1.7v1.7h-1.7zM43.8 31.2h1.8v1.8h-1.8zM58.6 86.5h1.2v1.2h-1.2zM63.1 48.4h1.7v1.7h-1.7zM96.2 31.3h1.7v1.7h-1.7zM56.5 53.1h1.2v1.2h-1.2zM40.7 31.9h1.9v1.9h-1.9zM77.5 43.2h1.6v1.6h-1.6zM48.9 49.3h1.4v1.4h-1.4zM45.3 24.3h1.1v1.1h-1.1zM47.9 25.9h1.7v1.7h-1.7zM82.7 67h1.5v1.5h-1.5zM30.2 37.9h1.5v1.5h-1.5zM16.5 46h1.5v1.5h-1.5zM73.5 81.2h1.7v1.7h-1.7zM65.4 69.9h1.6v1.6h-1.6zM86.4 64.8h1.6v1.6h-1.6zM43.5 57.5h1.8v1.8h-1.8zM37.1 38.5h1.2v1.2h-1.2zM58.9 11.7h1.3v1.3h-1.3zM50.4 13.9h1.9v1.9h-1.9zM72.5 22.5h1.4v1.4h-1.4zM66.9 63.5h1.3v1.3h-1.3zM94.9 32.5h1.3v1.3h-1.3zM85.2 17.9h1.6v1.6h-1.6zM93.9 44.9h1.4v1.4h-1.4zM64.7 29h1.2v1.2h-1.2zM43.7 28.3h1.3v1.3h-1.3zM54.1 8.1h1.6v1.6h-1.6zM72.3 25.6h1.1v1.1h-1.1zM58.1 13h1.3v1.3h-1.3zM49.9 81.7h1.4v1.4h-1.4zM83.4 50.5h1.1v1.1h-1.1zM25.7 39.4h1.5v1.5h-1.5zM61.3 11.5h1.8v1.8h-1.8zM76.5 70.2h1.3v1.3h-1.3zM63.7 58.1h1.5v1.5h-1.5zM81.3 33.9h1.3v1.3h-1.3zM40.7 30.3h1.6v1.6h-1.6zM70.2 21.2h1.3v1.3h-1.3zM53.5 63.2h1.6v1.6h-1.6zM93 51.1h1.4v1.4h-1.4zM71.3 67.3h1.5v1.5h-1.5zM40.6 50.5h1.6v1.6h-1.6zM53.3 18.5h1.8v1.8h-1.8zM70.1 23.3h1.7v1.7h-1.7zM90.3 50.4h1.8v1.8h-1.8zM96.4 38.1h1.9v1.9h-1.9zM64.2 56.9h1.7v1.7h-1.7zM67.1 18.5h1.8v1.8h-1.8zM57.4 80.7h1.3v1.3h-1.3zM78.8 68.2h1.8v1.8h-1.8zM45.4 20.1h1.5v1.5h-1.5zM82.7 36h1.2v1.2h-1.2zM11.2 41.1h1.6v1.6h-1.6zM92.5 49.6h1.8v1.8h-1.8zM55.4 15.4h1.3v1.3h-1.3zM47 59.8h1.7v1.7h-1.7zM76.8 60.8h1.3v1.3h-1.3zM47.7 37.3h1.5v1.5h-1.5zM83.1 55.1h1.7v1.7h-1.7zM75.2 67.4h1.9v1.9h-1.9zM43.1 38.8h1.1v1.1h-1.1zM68.8 54.7h1.6v1.6h-1.6zM82.4 46.5h1.1v1.1h-1.1zM54 44.5h1.4v1.4h-1.4zM65.5 56.1h1.7v1.7h-1.7zM87.1 69.4h1.4v1.4h-1.4zM73.2 23.4h1.6v1.6h-1.6zM42.2 21.5h1.2v1.2h-1.2zM46 15.2h1.8v1.8h-1.8zM67.9 6.5h1.7v1.7h-1.7zM62.6 42.9h1.5v1.5h-1.5zM95.8 36.9h1.6v1.6h-1.6zM66.3 36.3h1.4v1.4h-1.4zM77.1 59.4h1.5v1.5h-1.5zM55.1 23.9h1.7v1.7h-1.7zM49.9 23.8h1.6v1.6h-1.6zM61.5 12.2h1.5v1.5h-1.5zM38.5 33.1h1.3v1.3h-1.3zM85.6 23.9h1.2v1.2h-1.2zM57.2 14.7h1.4v1.4h-1.4zM77.5 22.1h1.7v1.7h-1.7zM57.6 12.2h1.3v1.3h-1.3zM63.1 13.1h1.3v1.3h-1.3zM60.9 75.1h1.5v1.5h-1.5zM68.9 5.6h1.3v1.3h-1.3zM11.7 47.5h1.8v1.8h-1.8zM78.7 54.7h1.2v1.2h-1.2zM74 50.5h1.2v1.2h-1.2zM68 38.1h1.7v1.7h-1.7zM13.7 29.6h1.2v1.2h-1.2zM77 17.7h1.3v1.3h-1.3zM48.9 24.7h1.4v1.4h-1.4zM87 41.2h1.7v1.7h-1.7zM65.5 45.5h1.5v1.5h-1.5zM41.7 21.8h1.5v1.5h-1.5zM36.4 33.3h1.2v1.2h-1.2zM91.5 41.5h1.3v1.3h-1.3zM87.3 33.7h1.6v1.6h-1.6zM49.5 68.1h1.5v1.5h-1.5zM42.7 28.8h1.6v1.6h-1.6zM84 64.2h1.5v1.5h-1.5zM85.3 17.2h1.6v1.6h-1.6zM78.4 62.7h1.9v1.9h-1.9zM88.1 25.7h1.9v1.9h-1.9zM38.2 37.2h1.9v1.9h-1.9zM23.8 38.7h1.6v1.6h-1.6zM33.3 27.6h1.7v1.7h-1.7zM64.1 68.6h1.7v1.7h-1.7zM53.9 65.1h1.5v1.5h-1.5zM47.8 61.9h1.3v1.3h-1.3zM20.6 38.1h1.2v1.2h-1.2zM50 70.6h1.1v1.1h-1.1zM66.4 14.3h1.5v1.5h-1.5zM73.2 40.3h1.4v1.4h-1.4zM74.7 14.8h1.4v1.4h-1.4zM72.1 76.4h1.9v1.9h-1.9zM85.4 16.4h1.4v1.4h-1.4zM93.4 35h1.6v1.6h-1.6zM82.7 28.6h1.7v1.7h-1.7zM24 34.6h1.3v1.3h-1.3zM58.8 77.7h1.8v1.8h-1.8zM64.9 19.2h1.7v1.7h-1.7zM36.8 26.6h1.3v1.3h-1.3zM44.5 72.7h1.8v1.8h-1.8zM76.4 67.6h1.3v1.3h-1.3zM37.8 30.9h1.4v1.4h-1.4zM91.8 44.3h1.7v1.7h-1.7zM79.7 20.8h1.6v1.6h-1.6zM73.3 46.4h1.8v1.8h-1.8zM74.2 7.5h1.3v1.3h-1.3zM65.6 10h1.9v1.9h-1.9zM96.1 42.6h1.6v1.6h-1.6zM41.7 56.9h1.4v1.4h-1.4zM48.8 69.4h1.2v1.2h-1.2zM46 31.8h1.3v1.3h-1.3zM39.5 29.7h1.8v1.8h-1.8zM68.2 45.3h1.7v1.7h-1.7zM70.8 31.8h1.6v1.6h-1.6zM76.1 50.6h1.7v1.7h-1.7zM66.1 84.6h1.3v1.3h-1.3zM56.7 82.8h1.2v1.2h-1.2zM74.1 27.5h1.7v1.7h-1.7zM47.2 50.9h1.3v1.3h-1.3zM67.1 59h1.2v1.2h-1.2zM71.8 48.6h1.5v1.5h-1.5zM46.7 63.5h1.6v1.6h-1.6zM65.7 78.5h1.5v1.5h-1.5zM62 81.8h1.1v1.1h-1.1zM41.6 37h1.4v1.4h-1.4zM74.2 62.9h1.2v1.2h-1.2zM52.2 78.6h1.6v1.6h-1.6zM23.9 38.8h1.8v1.8h-1.8zM61.8 60.1h1.5v1.5h-1.5zM43.2 60.9h1.5v1.5h-1.5zM80.9 46h1.2v1.2h-1.2zM74.5 39.2h1.7v1.7h-1.7zM97.1 49.9h1.3v1.3h-1.3zM41.2 47.7h1.4v1.4h-1.4zM17.9 39h1.6v1.6h-1.6zM82.4 70.1h1.8v1.8h-1.8zM81.2 40.1h1.6v1.6h-1.6zM72.8 27.6h1.5v1.5h-1.5zM47.2 71.7h1.8v1.8h-1.8zM79.2 37.5h1.4v1.4h-1.4zM25.8 35.8h1.7v1.7h-1.7zM77.2 29.1h1.5v1.5h-1.5zM51 72.5h1.9v1.9h-1.9zM38.7 24.4h1.3v1.3h-1.3zM79.5 16.7h1.5v1.5h-1.5zM65.5 50.1h1.9v1.9h-1.9zM55.1 46.8h1.8v1.8h-1.8zM76.7 17.1h1.7v1.7h-1.7zM95.9 47.2h1.4v1.4h-1.4zM29.4 28.6h1.3v1.3h-1.3zM62.8 68h1.6v1.6h-1.6zM92.8 29.1h1.2v1.2h-1.2zM61.3 27.7h1.9v1.9h-1.9zM84.2 25.8h1.5v1.5h-1.5zM43.4 34.5h1.4v1.4h-1.4zM52.2 61.2h1.1v1.1h-1.1zM57.4 15.6h1.9v1.9h-1.9zM58.8 55.5h1.4v1.4h-1.4zM72.5 65.6h1.8v1.8h-1.8zM61.2 27.9h1.6v1.6h-1.6zM43.8 49.6h1.7v1.7h-1.7zM71.4 71.9h1.7v1.7h-1.7zM40 45.4h1.7v1.7h-1.7zM66.2 78.1h1.3v1.3h-1.3zM69.1 23.6h1.2v1.2h-1.2zM51.9 60.4h1.6v1.6h-1.6zM56.8 46.1h1.3v1.3h-1.3zM67.1 61.4h1.3v1.3h-1.3zM85.8 31.6h1.8v1.8h-1.8zM20.6 34.7h1.4v1.4h-1.4zM95.2 30.5h1.4v1.4h-1.4zM88.1 27.7h1.5v1.5h-1.5zM66.3 54.5h1.4v1.4h-1.4zM67.3 31.9h1.2v1.2h-1.2zM60.9 73.7h1.2v1.2h-1.2zM69.6 43.7h1.5v1.5h-1.5zM84 49.4h1.4v1.4h-1.4zM67 17.3h1.8v1.8h-1.8zM55.6 8.4h1.5v1.5h-1.5zM47.2 27.4h1.8v1.8h-1.8zM69.8 10.6h1.4v1.4h-1.4zM74.7 34.5h1.2v1.2h-1.2zM73 42.2h1.7v1.7h-1.7zM52.6 74.6h1.5v1.5h-1.5zM74 46.9h1.6v1.6h-1.6zM78.1 78.6h1.5v1.5h-1.5zM98.6 45.3h1.9v1.9h-1.9zM16 37.3h1.6v1.6h-1.6zM82.7 49.4h1.7v1.7h-1.7zM42.5 62.9h1.7v1.7h-1.7zM63 6.5h1.6v1.6h-1.6zM44.9 58.4h1.2v1.2h-1.2zM89.3 46.9h1.6v1.6h-1.6zM90.2 21.7h1.7v1.7h-1.7zM60 60.3h1.4v1.4h-1.4zM79.4 31.4h1.6v1.6h-1.6zM80.1 13.1h1.2v1.2h-1.2zM41 38.7h1.7v1.7h-1.7zM49.6 30.9h1.6v1.6h-1.6zM66.6 44.4h1.2v1.2h-1.2zM67.4 73.9h1.4v1.4h-1.4zM73.4 50.6h1.2v1.2h-1.2zM86.5 31.6h1.5v1.5h-1.5zM77.5 79.9h1.8v1.8h-1.8zM47.8 79.1h1.7v1.7h-1.7zM68.5 74.5h1.4v1.4h-1.4zM49 13.7h1.4v1.4h-1.4zM63.2 43.3h1.2v1.2h-1.2zM49.3 53.4h1.2v1.2h-1.2zM97.2 35.8h1.4v1.4h-1.4zM15.2 36.1h1.6v1.6h-1.6zM52.2 32.7h1.5v1.5h-1.5zM14.4 31.2h1.4v1.4h-1.4zM78.2 41.8h1.4v1.4h-1.4zM67.9 28.5h1.5v1.5h-1.5zM57.4 60.8h1.8v1.8h-1.8zM49 36.3h1.5v1.5h-1.5zM81.8 30.8h1.2v1.2h-1.2zM72.5 10.6h1.1v1.1h-1.1zM12.7 44.9h1.2v1.2h-1.2zM82.5 50.2h1.6v1.6h-1.6zM63.8 42.5h1.4v1.4h-1.4zM64.6 85.8h1.9v1.9h-1.9zM83.8 26h1.5v1.5h-1.5zM48.9 16.5h1.3v1.3h-1.3zM59.9 78.5h1.5v1.5h-1.5zM85.7 39.9h1.8v1.8h-1.8zM49.2 35.7h1.4v1.4h-1.4zM78.3 20.2h1.4v1.4h-1.4zM61.5 38h1.1v1.1h-1.1zM35 28h1.4v1.4h-1.4zM57.9 89.2h1.2v1.2h-1.2zM51 13.4h1.5v1.5h-1.5zM18.9 32.8h1.1v1.1h-1.1zM55.4 45h1.3v1.3h-1.3zM73.5 43.9h1.6v1.6h-1.6zM81.9 39.6h1.4v1.4h-1.4zM87.8 58h1.6v1.6h-1.6zM57.1 55.7h1.2v1.2h-1.2zM31.4 35.3h1.3v1.3h-1.3zM46.9 68.5h1.4v1.4h-1.4zM94 25.7h1.5v1.5h-1.5zM47.2 72.9h1.2v1.2h-1.2zM58.1 43.7h1.6v1.6h-1.6zM49.3 11.7h1.5v1.5h-1.5zM77 72h1.2v1.2h-1.2zM63.5 17.7h1.2v1.2h-1.2zM55.9 30.3h1.6v1.6h-1.6zM56.3 24.3h1.8v1.8h-1.8zM63.8 44.3h1.3v1.3h-1.3zM69 33.8h1.6v1.6h-1.6zM58.6 79.1h1.8v1.8h-1.8zM77.1 22.3h1.4v1.4h-1.4zM16.6 33.7h1.2v1.2h-1.2zM30.3 29.8h1.5v1.5h-1.5zM64.9 84.6h1.1v1.1h-1.1zM51.2 56.7h1.8v1.8h-1.8zM83.3 40.4h1.5v1.5h-1.5zM80.2 26.9h1.3v1.3h-1.3zM83.7 34.4h1.4v1.4h-1.4zM10.7 43.9h1.9v1.9h-1.9zM71.5 82.3h1.2v1.2h-1.2zM14.3 39.6h1.8v1.8h-1.8zM67.2 70.2h1.5v1.5h-1.5zM17.9 45.5h1.8v1.8h-1.8zM26.8 38.2h1.7v1.7h-1.7zM59.8 21.4h1.5v1.5h-1.5zM14.2 48.2h1.1v1.1h-1.1zM95.8 29.9h1.5v1.5h-1.5zM88 41.2h1.7v1.7h-1.7zM22.6 42.9h1.7v1.7h-1.7zM51 20.5h1.8v1.8h-1.8zM64.4 16.5h1.1v1.1h-1.1zM59.1 86.1h1.3v1.3h-1.3zM80 36.9h1.6v1.6h-1.6zM69.8 15.1h1.8v1.8h-1.8zM48.5 48.9h1.8v1.8h-1.8zM24.9 40.2h1.7v1.7h-1.7zM48.9 19.8h1.6v1.6h-1.6zM80.7 43.3h1.4v1.4h-1.4zM20.6 39.5h1.8v1.8h-1.8zM41 45.6h1.7v1.7h-1.7zM47.1 43.7h1.2v1.2h-1.2zM57.6 75.3h1.3v1.3h-1.3zM49.6 45.9h1.9v1.9h-1.9zM69.5 83.8h1.3v1.3h-1.3zM48.5 65.3h1.2v1.2h-1.2zM60.6 58.7h1.1v1.1h-1.1zM46.7 38.1h1.8v1.8h-1.8zM83.2 52.6h1.2v1.2h-1.2zM71 81.2h1.6v1.6h-1.6zM60.9 85.9h1.5v1.5h-1.5zM59.5 64.8h1.6v1.6h-1.6zM86.9 51h1.3v1.3h-1.3zM86.6 66.1h1.2v1.2h-1.2zM50.4 77.9h1.6v1.6h-1.6zM74.8 21.6h1.7v1.7h-1.7zM86.7 54.1h1.9v1.9h-1.9zM68.3 76h1.8v1.8h-1.8zM81.6 45.7h1.1v1.1h-1.1zM50 53.4h1.1v1.1h-1.1zM23.4 39.3h1.1v1.1h-1.1zM16.4 43.9h1.8v1.8h-1.8zM49.1 65.2h1.7v1.7h-1.7zM81.5 73.2h1.5v1.5h-1.5zM33.9 33.7h1.6v1.6h-1.6zM53.9 29.7h1.2v1.2h-1.2zM72.2 16.8h1.7v1.7h-1.7zM81.1 51h1.6v1.6h-1.6zM86.7 45.8h1.7v1.7h-1.7zM60.4 21.1h1.6v1.6h-1.6zM83.5 43.1h1.3v1.3h-1.3zM95.7 31.4h1.5v1.5h-1.5zM58.2 29.5h1.5v1.5h-1.5zM83.6 52.3h1.9v1.9h-1.9zM93.2 50.2h1.3v1.3h-1.3zM78.1 23.7h1.2v1.2h-1.2zM66.2 40.2h1.2v1.2h-1.2zM53.4 51.3h1.7v1.7h-1.7zM60.5 79.2h1.8v1.8h-1.8zM55.7 35.7h1.5v1.5h-1.5zM74.1 42.9h1.1v1.1h-1.1zM44.5 32.6h1.1v1.1h-1.1zM81.6 76.8h1.6v1.6h-1.6zM71.5 68.7h1.2v1.2h-1.2zM70.3 22h1.5v1.5h-1.5zM50 82.5h1.2v1.2h-1.2zM56.4 60.7h1.2v1.2h-1.2zM62.5 32.1h1.1v1.1h-1.1zM57.9 9h1.5v1.5h-1.5zM67.2 50.8h1.6v1.6h-1.6zM30.5 38.3h1.7v1.7h-1.7zM90 61.9h1.3v1.3h-1.3zM41.8 28.9h1.7v1.7h-1.7zM71.7 76.2h1.5v1.5h-1.5zM49.6 21h1.2v1.2h-1.2zM69.3 42h1.6v1.6h-1.6zM43.9 53.3h1.3v1.3h-1.3zM86.1 73h1.5v1.5h-1.5zM59 36.7h1.7v1.7h-1.7zM46.3 60.5h1.2v1.2h-1.2zM79.4 76.1h1.2v1.2h-1.2zM39.3 26h1.4v1.4h-1.4zM49.6 15h1.2v1.2h-1.2zM73.8 44.5h1.7v1.7h-1.7zM61.2 37.7h1.2v1.2h-1.2zM86.1 63.3h1.3v1.3h-1.3zM50.9 14.3h1.5v1.5h-1.5zM82.5 27h1.8v1.8h-1.8zM76.7 36.8h1.7v1.7h-1.7zM63.1 55.8h1.4v1.4h-1.4zM55.5 41.7h1.9v1.9h-1.9zM59.3 13.2h1.6v1.6h-1.6zM52 71h1.8v1.8h-1.8zM16.3 44.8h1.1v1.1h-1.1zM65.2 11.2h1.6v1.6h-1.6zM65.6 15.8h1.8v1.8h-1.8zM59 7.7h1.2v1.2h-1.2zM53.8 38.5h1.2v1.2h-1.2zM82.3 16.4h1.7v1.7h-1.7zM46.1 58.9h1.8v1.8h-1.8zM71.7 24.4h1.3v1.3h-1.3zM53.5 19.6h1.3v1.3h-1.3zM82.5 77.2h1.7v1.7h-1.7zM58.1 52.6h1.1v1.1h-1.1zM40.9 23.3h1.6v1.6h-1.6zM52.4 61.3h1.4v1.4h-1.4zM76.7 51h1.5v1.5h-1.5zM33.7 26.7h1.9v1.9h-1.9zM39.3 36.4h1.5v1.5h-1.5zM80.8 70.2h1.8v1.8h-1.8zM93.1 27.6h1.7v1.7h-1.7zM71.4 58.6h1.5v1.5h-1.5zM91.9 53h1.9v1.9h-1.9zM18.4 35.7h1.2v1.2h-1.2zM74 44.3h1.4v1.4h-1.4zM65.2 6.6h1.3v1.3h-1.3zM56.2 61.7h1.6v1.6h-1.6zM74.9 41.9h1.8v1.8h-1.8zM78.2 48.1h1.6v1.6h-1.6zM81.7 29h1.3v1.3h-1.3zM54.1 48.4h1.1v1.1h-1.1zM54.1 83.6h1.8v1.8h-1.8zM57.7 65h1.4v1.4h-1.4zM57.5 57.2h1.6v1.6h-1.6zM60.3 67.8h1.6v1.6h-1.6zM37.4 35h1.7v1.7h-1.7zM89.2 52.4h1.5v1.5h-1.5zM69 7.1h1.4v1.4h-1.4zM36.8 29h1.2v1.2h-1.2zM25.8 36.6h1.6v1.6h-1.6zM85.7 32.1h1.7v1.7h-1.7zM73.4 13.7h1.3v1.3h-1.3zM65.3 54.9h1.7v1.7h-1.7zM79.2 75.2h1.2v1.2h-1.2zM74.1 81.8h1.6v1.6h-1.6zM36.2 34.5h1.3v1.3h-1.3zM42.7 41.8h1.5v1.5h-1.5zM93 34.9h1.3v1.3h-1.3zM68.4 38h1.8v1.8h-1.8zM81.4 53.8h1.6v1.6h-1.6zM46.7 20.6h1.3v1.3h-1.3zM74.6 47.3h1.5v1.5h-1.5zM68.2 85.5h1.2v1.2h-1.2zM54.6 62.3h1.6v1.6h-1.6zM44.7 56.6h1.8v1.8h-1.8zM84.7 43.9h1.7v1.7h-1.7zM57.7 48.8h1.6v1.6h-1.6zM77.2 36.7h1.6v1.6h-1.6zM45.4 16h1.7v1.7h-1.7zM71 37.9h1.2v1.2h-1.2zM46.2 79.6h1.8v1.8h-1.8zM71.1 37.7h1.8v1.8h-1.8zM54.6 33.9h1.8v1.8h-1.8zM69.6 9.8h1.2v1.2h-1.2zM51.7 71.5h1.5v1.5h-1.5zM56.7 16.4h1.6v1.6h-1.6zM45.9 35.9h1.3v1.3h-1.3zM62.3 76h1.5v1.5h-1.5zM63.5 52.5h1.7v1.7h-1.7zM96.3 47.2h1.1v1.1h-1.1zM74.3 70.2h1.4v1.4h-1.4zM63 8.1h1.7v1.7h-1.7zM69.7 74.1h1.5v1.5h-1.5zM92.2 40.6h1.1v1.1h-1.1zM16.9 32.7h1.3v1.3h-1.3zM67.3 81h1.8v1.8h-1.8zM40.7 47.7h1.5v1.5h-1.5zM63.2 67.4h1.4v1.4h-1.4zM96.3 53.9h1.7v1.7h-1.7zM60.4 88.5h1.2v1.2h-1.2zM60.5 33.4h1.5v1.5h-1.5zM38.7 27.7h1.8v1.8h-1.8zM69.4 76.2h1.9v1.9h-1.9zM48.5 50.7h1.1v1.1h-1.1zM67 27.9h1.9v1.9h-1.9zM83.8 57.6h1.4v1.4h-1.4zM48.1 51.6h1.8v1.8h-1.8zM77.3 45.4h1.5v1.5h-1.5zM86.6 59.2h1.6v1.6h-1.6zM85.7 49.2h1.6v1.6h-1.6zM81.7 26.8h1.6v1.6h-1.6zM71.4 50.1h1.6v1.6h-1.6zM61.8 27.9h1.1v1.1h-1.1zM49.7 30h1.5v1.5h-1.5zM97.3 37.2h1.7v1.7h-1.7zM71.2 42.1h1.7v1.7h-1.7zM10.6 47.4h1.6v1.6h-1.6zM45.4 72.3h1.2v1.2h-1.2zM34.5 33.7h1.3v1.3h-1.3zM50.1 22.2h1.7v1.7h-1.7zM58.7 44.2h1.7v1.7h-1.7zM76.2 26.1h1.4v1.4h-1.4zM58.8 57.3h1.4v1.4h-1.4zM48.1 32h1.5v1.5h-1.5zM34.8 32.6h1.1v1.1h-1.1zM30.8 35.9h1.8v1.8h-1.8zM48.9 62.9h1.7v1.7h-1.7zM44 22.3h1.1v1.1h-1.1zM86.7 54h1.7v1.7h-1.7zM62.3 14.3h1.6v1.6h-1.6zM52.8 13.6h1.1v1.1h-1.1zM39.9 36.6h1.8v1.8h-1.8zM43.2 36h1.6v1.6h-1.6zM76.3 9.9h1.6v1.6h-1.6zM54.7 34.6h1.7v1.7h-1.7zM46 36.1h1.8v1.8h-1.8zM27.3 38.8h1.7v1.7h-1.7zM50.8 34h1.2v1.2h-1.2zM57 47.5h1.7v1.7h-1.7zM50.8 26.6h1.7v1.7h-1.7zM83.9 23.6h1.8v1.8h-1.8zM52.4 34.5h1.3v1.3h-1.3zM51 52.9h1.6v1.6h-1.6zM63.6 65.7h1.7v1.7h-1.7zM89 32.2h1.5v1.5h-1.5zM84.9 18.5h1.5v1.5h-1.5zM96.2 39h1.4v1.4h-1.4zM47.1 46h1.7v1.7h-1.7zM18.7 44.4h1.4v1.4h-1.4zM35.2 32h1.9v1.9h-1.9zM67.2 62.8h1.6v1.6h-1.6zM28.9 39.2h1.8v1.8h-1.8zM59.2 78.4h1.7v1.7h-1.7zM80.1 33.7h1.7v1.7h-1.7zM74.5 44.6h1.4v1.4h-1.4zM66.7 74.1h1.8v1.8h-1.8zM86.7 48.6h1.7v1.7h-1.7zM91.6 55.6h1.2v1.2h-1.2zM45.1 63.6h1.1v1.1h-1.1zM70.6 6.2h1.7v1.7h-1.7zM64 37.4h1.6v1.6h-1.6zM70.8 63.4h1.6v1.6h-1.6zM48.4 21.8h1.2v1.2h-1.2zM93.4 29.7h1.4v1.4h-1.4zM24.7 30.1h1.3v1.3h-1.3zM79.8 79.3h1.6v1.6h-1.6zM66.1 56.6h1.1v1.1h-1.1zM70.1 32.5h1.6v1.6h-1.6zM62 42.1h1.6v1.6h-1.6zM59.2 25.7h1.3v1.3h-1.3zM73.3 33.4h1.1v1.1h-1.1zM65.4 23h1.7v1.7h-1.7zM78.9 27.6h1.5v1.5h-1.5zM38.9 37.6h1.8v1.8h-1.8zM60.8 59h1.8v1.8h-1.8zM91.8 62.6h1.1v1.1h-1.1zM69.4 52.3h1.7v1.7h-1.7zM59.1 29.1h1.4v1.4h-1.4zM20.7 40.7h1.5v1.5h-1.5zM65.9 59.5h1.7v1.7h-1.7zM50.9 12.2h1.5v1.5h-1.5zM67 30.1h1.6v1.6h-1.6zM14.7 28h1.7v1.7h-1.7zM78.5 75.9h1.4v1.4h-1.4zM41.4 27.4h1.2v1.2h-1.2zM28.6 33.3h1.4v1.4h-1.4zM52.4 76.6h1.4v1.4h-1.4zM51.2 73.9h1.5v1.5h-1.5zM89.8 28.5h1.8v1.8h-1.8zM92.7 25h1.2v1.2h-1.2zM74.8 61.9h1.3v1.3h-1.3zM97.4 44.6h1.9v1.9h-1.9zM54.1 66.8h1.2v1.2h-1.2zM82.1 42.9h1.3v1.3h-1.3zM47.1 61.3h1.8v1.8h-1.8zM77.7 37h1.2v1.2h-1.2zM90.7 42h1.9v1.9h-1.9zM69.7 72.7h1.6v1.6h-1.6zM68.9 14.3h1.4v1.4h-1.4zM81.2 23.5h1.1v1.1h-1.1zM77.4 42.6h1.5v1.5h-1.5zM81.2 22.6h1.4v1.4h-1.4zM21.2 44h1.3v1.3h-1.3zM69.6 35.9h1.6v1.6h-1.6zM60.9 55.5h1.4v1.4h-1.4zM46.6 15.4h1.6v1.6h-1.6zM37.7 29h1.8v1.8h-1.8zM46.5 14h1.6v1.6h-1.6zM44.9 37.8h1.6v1.6h-1.6zM54.4 82h1.3v1.3h-1.3zM82.4 77.5h1.3v1.3h-1.3zM56.8 79.3h1.5v1.5h-1.5zM59 21.2h1.5v1.5h-1.5zM54.2 23h1.2v1.2h-1.2zM87.8 28.9h1.8v1.8h-1.8zM76.3 55.2h1.8v1.8h-1.8zM67.9 14.5h1.1v1.1h-1.1zM72.4 29.2h1.2v1.2h-1.2zM17.2 31.7h1.2v1.2h-1.2zM44.2 49.7h1.3v1.3h-1.3zM43.9 21.9h1.4v1.4h-1.4zM12.2 37h1.8v1.8h-1.8zM59.4 27.9h1.5v1.5h-1.5zM56.9 17.2h1.5v1.5h-1.5zM29.2 33.9h1.7v1.7h-1.7zM13.1 46.3h1.6v1.6h-1.6zM85.3 16.8h1.7v1.7h-1.7zM69.4 65.9h1.9v1.9h-1.9zM93.8 50.4h1.7v1.7h-1.7zM20 29.8h1.4v1.4h-1.4zM54.5 49.4h1.5v1.5h-1.5zM76.7 68.2h1.4v1.4h-1.4zM40.9 40.8h1.7v1.7h-1.7zM76.1 78h1.3v1.3h-1.3zM59.1 52.3h1.3v1.3h-1.3zM53.5 9.4h1.9v1.9h-1.9zM89.6 40.2h1.2v1.2h-1.2zM32.6 35.3h1.9v1.9h-1.9zM67.8 5.4h1.4v1.4h-1.4zM89 53h1.5v1.5h-1.5zM71 64.5h1.4v1.4h-1.4zM64.7 6.6h1.6v1.6h-1.6zM84.4 57.9h1.5v1.5h-1.5zM71.5 72.1h1.4v1.4h-1.4zM67.4 85.8h1.1v1.1h-1.1zM61.1 83h1.1v1.1h-1.1zM70.1 60.1h1.8v1.8h-1.8zM57.6 63.2h1.7v1.7h-1.7zM73.2 19h1.2v1.2h-1.2zM88.6 45.5h1.7v1.7h-1.7zM64.4 28.6h1.1v1.1h-1.1zM68.5 20.8h1.3v1.3h-1.3zM67 11.7h1.4v1.4h-1.4zM57.7 87.2h1.4v1.4h-1.4zM82.1 75.1h1.7v1.7h-1.7zM80.4 23.9h1.5v1.5h-1.5zM46.6 57h1.9v1.9h-1.9zM78.7 24.2h1.5v1.5h-1.5zM66 75.1h1.4v1.4h-1.4zM17.5 40.5h1.2v1.2h-1.2zM90.7 38.7h1.1v1.1h-1.1zM68.9 46.8h1.2v1.2h-1.2zM93 32.2h1.9v1.9h-1.9zM60.3 66.6h1.7v1.7h-1.7zM37.2 27.4h1.6v1.6h-1.6zM67.1 67h1.5v1.5h-1.5zM64.8 55.2h1.7v1.7h-1.7zM55.3 33h1.3v1.3h-1.3zM40.9 28h1.5v1.5h-1.5zM60.4 34.1h1.2v1.2h-1.2zM62.5 25.5h1.8v1.8h-1.8zM51.1 54.1h1.6v1.6h-1.6zM52.3 8.8h1.7v1.7h-1.7zM59.9 13.9h1.9v1.9h-1.9zM86.7 59h1.2v1.2h-1.2zM67.3 37.4h1.4v1.4h-1.4zM44.9 48.8h1.6v1.6h-1.6zM66.6 46.6h1.7v1.7h-1.7zM31.2 31h1.7v1.7h-1.7zM53.5 35.5h1.2v1.2h-1.2zM73.4 45.3h1.3v1.3h-1.3zM45.3 53.9h1.9v1.9h-1.9zM65.9 32.6h1.2v1.2h-1.2zM43.4 32.3h1.2v1.2h-1.2zM75.2 81.7h1.7v1.7h-1.7zM19.3 29.6h1.2v1.2h-1.2zM53.7 62.8h1.5v1.5h-1.5zM77.1 78.3h1.7v1.7h-1.7zM47.2 59.6h1.6v1.6h-1.6zM71.5 70.9h1.8v1.8h-1.8zM50.3 72.9h1.5v1.5h-1.5zM85.2 43h1.8v1.8h-1.8zM76.7 13.2h1.3v1.3h-1.3zM56 67.3h1.4v1.4h-1.4zM71.8 24.8h1.8v1.8h-1.8zM28.6 38.9h1.4v1.4h-1.4zM61.6 74.9h1.6v1.6h-1.6zM70.3 42.9h1.5v1.5h-1.5zM38.8 40.9h1.8v1.8h-1.8zM80.4 32.7h1.7v1.7h-1.7zM91.1 36.8h1.9v1.9h-1.9zM87.6 51.1h1.8v1.8h-1.8zM46.6 48h1.2v1.2h-1.2zM9.7 41.6h1.2v1.2h-1.2zM42.5 46.6h1.4v1.4h-1.4zM77.2 72.5h1.5v1.5h-1.5zM57.5 89.5h1.5v1.5h-1.5zM50.1 66.8h1.1v1.1h-1.1zM54.9 6.5h1.7v1.7h-1.7zM77.9 44.4h1.8v1.8h-1.8zM52.7 37.5h1.2v1.2h-1.2zM45.5 35.1h1.7v1.7h-1.7zM83.8 14h1.5v1.5h-1.5zM56.8 38.5h1.5v1.5h-1.5zM96.2 38.8h1.4v1.4h-1.4zM59.6 82h1.6v1.6h-1.6zM97.4 35.8h1.7v1.7h-1.7zM67.3 13.4h1.7v1.7h-1.7zM75 27.5h1.3v1.3h-1.3zM55.6 52h1.4v1.4h-1.4zM82.2 25.2h1.6v1.6h-1.6zM57 16.6h1.8v1.8h-1.8zM18.5 43.5h1.6v1.6h-1.6zM82.1 63.7h1.5v1.5h-1.5zM59.2 48.5h1.3v1.3h-1.3zM92.4 23.6h1.9v1.9h-1.9zM94.7 50.3h1.8v1.8h-1.8zM72.3 50.8h1.2v1.2h-1.2zM64.3 38.2h1.7v1.7h-1.7zM74.3 36.7h1.3v1.3h-1.3zM54 11.6h1.4v1.4h-1.4zM88.7 51.2h1.2v1.2h-1.2zM56.3 72.6h1.8v1.8h-1.8zM73.2 30.8h1.1v1.1h-1.1zM70.1 50.7h1.4v1.4h-1.4zM41.9 47.2h1.4v1.4h-1.4zM73.7 27h1.5v1.5h-1.5zM55.1 42.7h1.2v1.2h-1.2zM81.4 28.5h1.3v1.3h-1.3zM81.2 78.3h1.6v1.6h-1.6zM73.3 28.7h1.9v1.9h-1.9zM77.2 78.4h1.4v1.4h-1.4zM32.9 29.3h1.8v1.8h-1.8zM82.2 17.5h1.5v1.5h-1.5zM41.2 39h1.4v1.4h-1.4zM45.2 39.4h1.3v1.3h-1.3zM71.3 56.2h1.6v1.6h-1.6zM74.9 25.7h1.1v1.1h-1.1zM88.4 64.2h1.5v1.5h-1.5zM94 36.8h1.4v1.4h-1.4zM81.7 13.1h1.3v1.3h-1.3zM85.9 29.3h1.6v1.6h-1.6zM62.4 64.3h1.3v1.3h-1.3zM36.8 36.8h1.9v1.9h-1.9zM60.3 73.9h1.6v1.6h-1.6zM72.6 42.8h1.8v1.8h-1.8zM54.1 60.2h1.1v1.1h-1.1zM66.7 15h1.2v1.2h-1.2zM93.5 25.4h1.8v1.8h-1.8zM65.8 7.9h1.2v1.2h-1.2zM69.6 82.8h1.3v1.3h-1.3zM48.8 15.7h1.6v1.6h-1.6zM76.1 39h1.2v1.2h-1.2zM65.6 34h1.3v1.3h-1.3zM75.1 65.7h1.2v1.2h-1.2zM64.8 31.2h1.3v1.3h-1.3zM44.1 43.4h1.5v1.5h-1.5zM61 58.7h1.6v1.6h-1.6zM69.4 83.4h1.5v1.5h-1.5zM83.4 40.1h1.1v1.1h-1.1zM62.9 49.8h1.3v1.3h-1.3zM68.5 32.6h1.8v1.8h-1.8zM55.3 38.8h1.6v1.6h-1.6zM65.3 74.3h1.4v1.4h-1.4zM79.7 37.5h1.4v1.4h-1.4zM11.7 40.7h1.7v1.7h-1.7zM82.4 48.7h1.8v1.8h-1.8zM62.7 46.4h1.5v1.5h-1.5zM67.3 33.4h1.3v1.3h-1.3zM81.3 17.2h1.8v1.8h-1.8zM69.3 81.2h1.7v1.7h-1.7zM57.9 62.2h1.7v1.7h-1.7zM50.8 50.2h1.3v1.3h-1.3zM47 68.4h1.8v1.8h-1.8zM68.7 33.9h1.1v1.1h-1.1zM68.2 75.8h1.1v1.1h-1.1zM85.8 56.5h1.4v1.4h-1.4zM73.3 7h1.9v1.9h-1.9zM94.4 47.2h1.7v1.7h-1.7zM45.8 22.7h1.7v1.7h-1.7zM52.2 62.4h1.5v1.5h-1.5zM92.5 38.7h1.3v1.3h-1.3zM80.9 65.4h1.5v1.5h-1.5zM43.9 28.3h1.2v1.2h-1.2zM88.1 23.7h1.7v1.7h-1.7zM50.9 47.2h1.8v1.8h-1.8zM46.7 20.2h1.4v1.4h-1.4zM89.7 20.4h1.3v1.3h-1.3zM73.2 18.3h1.4v1.4h-1.4zM32 36.8h1.3v1.3h-1.3zM96.6 31.5h1.9v1.9h-1.9zM47.1 72.4h1.7v1.7h-1.7zM55 76.8h1.3v1.3h-1.3zM54.2 64h1.7v1.7h-1.7zM42.6 31.5h1.7v1.7h-1.7zM95 32.9h1.1v1.1h-1.1zM40.2 39.4h1.2v1.2h-1.2zM49.4 25.2h1.1v1.1h-1.1zM46.7 55.2h1.3v1.3h-1.3zM73.7 61.2h1.2v1.2h-1.2zM46.2 34.2h1.6v1.6h-1.6zM97 33.4h1.1v1.1h-1.1zM58.5 83.2h1.2v1.2h-1.2zM10.3 39.5h1.8v1.8h-1.8zM70.9 33.2h1.8v1.8h-1.8zM13.3 32.9h1.4v1.4h-1.4zM55.3 68h1.1v1.1h-1.1zM90.2 31.1h1.7v1.7h-1.7zM83.5 26h1.3v1.3h-1.3zM78.3 31.8h1.3v1.3h-1.3zM70.3 26.3h1.9v1.9h-1.9zM88.6 20.9h1.5v1.5h-1.5zM58.9 73.1h1.2v1.2h-1.2zM84.8 61.1h1.4v1.4h-1.4zM52.6 46.6h1.3v1.3h-1.3zM27.5 30h1.2v1.2h-1.2zM60.9 40.6h1.4v1.4h-1.4zM62.3 32.7h1.2v1.2h-1.2zM65 69.5h1.4v1.4h-1.4zM79.8 16.4h1.8v1.8h-1.8zM63.4 53.6h1.7v1.7h-1.7zM60.3 36.4h1.3v1.3h-1.3zM62.2 56.7h1.8v1.8h-1.8zM74 28.2h1.2v1.2h-1.2zM83 32.8h1.4v1.4h-1.4zM62.3 75.5h1.8v1.8h-1.8zM67.2 79.4h1.2v1.2h-1.2zM41.3 30.7h1.9v1.9h-1.9zM41.1 30.1h1.1v1.1h-1.1zM51.3 20.5h1.9v1.9h-1.9zM89 46.7h1.5v1.5h-1.5zM66.3 67.3h1.1v1.1h-1.1zM92 45.7h1.2v1.2h-1.2zM77.8 62.1h1.4v1.4h-1.4zM74.9 43h1.5v1.5h-1.5zM49.9 72.4h1.8v1.8h-1.8zM83.2 64.7h1.7v1.7h-1.7zM47.9 54.8h1.7v1.7h-1.7zM75.8 42.8h1.1v1.1h-1.1zM57.9 32.3h1.4v1.4h-1.4zM40.8 44.4h1.5v1.5h-1.5zM81.6 68.5h1.4v1.4h-1.4zM89.1 28.5h1.6v1.6h-1.6zM72.2 40.5h1.7v1.7h-1.7zM47.4 14.4h1.7v1.7h-1.7zM63.4 50.9h1.1v1.1h-1.1zM47.6 81.4h1.4v1.4h-1.4zM59.7 30.4h1.2v1.2h-1.2zM87.4 52.5h1.5v1.5h-1.5zM56.4 76.2h1.2v1.2h-1.2zM34.5 33.7h1.5v1.5h-1.5zM26.4 31.7h1.2v1.2h-1.2zM85.8 17.4h1.4v1.4h-1.4zM61.5 63.9h1.5v1.5h-1.5zM51.8 13.7h1.1v1.1h-1.1zM97.9 49.1h1.7v1.7h-1.7zM77.7 51.4h1.9v1.9h-1.9zM64.9 10h1.8v1.8h-1.8zM80.4 67.2h1.5v1.5h-1.5zM80.9 29.4h1.6v1.6h-1.6zM78.7 74.6h1.7v1.7h-1.7zM48.1 27.4h1.2v1.2h-1.2zM80.7 15.6h1.7v1.7h-1.7zM67 26.2h1.5v1.5h-1.5zM61.1 35.6h1.5v1.5h-1.5zM15.3 33.6h1.7v1.7h-1.7zM48.3 52.7h1.4v1.4h-1.4zM66 28.7h1.6v1.6h-1.6zM88.2 45.8h1.2v1.2h-1.2zM40.6 33.6h1.1v1.1h-1.1zM21.2 31.2h1.7v1.7h-1.7zM57.4 83h1.6v1.6h-1.6zM61 45.1h1.8v1.8h-1.8zM75.6 66.4h1.3v1.3h-1.3zM68.3 67.4h1.2v1.2h-1.2zM12.1 43.6h1.6v1.6h-1.6zM30.9 29h1.3v1.3h-1.3zM61.8 83h1.1v1.1h-1.1zM49.4 31.1h1.5v1.5h-1.5zM72 54h1.1v1.1h-1.1zM17.9 29.4h1.1v1.1h-1.1zM22.1 41.9h1.7v1.7h-1.7zM22 42h1.2v1.2h-1.2zM97.9 44.1h1.5v1.5h-1.5zM58.7 21.1h1.2v1.2h-1.2zM61.2 37.3h1.3v1.3h-1.3zM57.7 75h1.3v1.3h-1.3zM21.9 32.3h1.8v1.8h-1.8zM72.5 10.7h1.5v1.5h-1.5zM88.7 56.3h1.8v1.8h-1.8zM84.1 46h1.2v1.2h-1.2zM75.9 72.4h1.7v1.7h-1.7zM45.6 28.7h1.2v1.2h-1.2zM61.6 68.9h1.8v1.8h-1.8zM65.6 71.3h1.4v1.4h-1.4zM24.4 43.8h1.4v1.4h-1.4zM55.2 20.8h1.8v1.8h-1.8zM76.1 60h1.1v1.1h-1.1zM48.9 11.6h1.5v1.5h-1.5zM21 34.4h1.3v1.3h-1.3zM21 32.7h1.7v1.7h-1.7zM69.5 69.7h1.3v1.3h-1.3zM80.1 13.3h1.6v1.6h-1.6zM65.9 6.3h1.6v1.6h-1.6zM72.5 42h1.4v1.4h-1.4zM72.1 36.6h1.5v1.5h-1.5zM51.1 48.9h1.1v1.1h-1.1zM43.3 21h1.2v1.2h-1.2zM48.7 79.3h1.8v1.8h-1.8zM10.4 46.3h1.8v1.8h-1.8zM45.5 27.6h1.5v1.5h-1.5zM95 32.4h1.2v1.2h-1.2zM75.2 55.1h1.9v1.9h-1.9zM9.1 44.1h1.8v1.8h-1.8zM59.8 38.7h1.8v1.8h-1.8zM76.3 71.3h1.7v1.7h-1.7zM87 62.7h1.1v1.1h-1.1zM43.7 28.8h1.6v1.6h-1.6zM88.8 31h1.5v1.5h-1.5zM61.3 10.1h1.9v1.9h-1.9zM64.2 66.6h1.4v1.4h-1.4zM60.5 61.1h1.3v1.3h-1.3zM75.8 54.2h1.7v1.7h-1.7zM90.4 44.3h1.9v1.9h-1.9zM12.6 30.7h1.2v1.2h-1.2zM69.2 9.6h1.4v1.4h-1.4zM64.1 69.7h1.4v1.4h-1.4zM66.8 75.1h1.6v1.6h-1.6zM39.7 38.9h1.7v1.7h-1.7zM91.9 60.9h1.2v1.2h-1.2zM41.9 49h1.4v1.4h-1.4zM48.7 34.2h1.1v1.1h-1.1zM18.9 43.3h1.4v1.4h-1.4zM64.6 12.8h1.6v1.6h-1.6zM70.6 26h1.1v1.1h-1.1zM92.9 45.5h1.4v1.4h-1.4zM78.6 22h1.9v1.9h-1.9zM74.6 8.6h1.1v1.1h-1.1zM49.7 76h1.5v1.5h-1.5zM44.8 78.6h1.6v1.6h-1.6zM18 34.2h1.4v1.4h-1.4zM85.8 73.8h1.8v1.8h-1.8zM61.5 30.8h1.1v1.1h-1.1zM56.1 31.8h1.2v1.2h-1.2zM81.1 63.1h1.3v1.3h-1.3zM70.3 71.6h1.7v1.7h-1.7zM79.5 15.9h1.6v1.6h-1.6zM78.9 67.5h1.6v1.6h-1.6zM73.2 35.8h1.2v1.2h-1.2zM74.3 60.5h1.2v1.2h-1.2zM66.6 47.2h1.4v1.4h-1.4zM66.9 22.8h1.3v1.3h-1.3zM59.2 48.1h1.6v1.6h-1.6zM81.9 58.4h1.5v1.5h-1.5zM90.4 45h1.3v1.3h-1.3zM45.5 19h1.5v1.5h-1.5zM78.8 15.1h1.4v1.4h-1.4zM47.6 28.6h1.3v1.3h-1.3zM67.1 24.2h1.2v1.2h-1.2zM81.6 52.8h1.9v1.9h-1.9zM47.7 50.4h1.5v1.5h-1.5zM55.6 13h1.3v1.3h-1.3zM86.5 58.7h1.4v1.4h-1.4zM68.4 32.5h1.3v1.3h-1.3zM35.2 29.6h1.9v1.9h-1.9zM48.5 38.4h1.6v1.6h-1.6zM64.6 78.6h1.5v1.5h-1.5zM86 17.5h1.5v1.5h-1.5zM75.7 18.4h1.5v1.5h-1.5zM51.5 34h1.2v1.2h-1.2zM91.1 49h1.3v1.3h-1.3zM53.4 38.2h1.6v1.6h-1.6zM62.8 20.9h1.3v1.3h-1.3zM64.6 86.7h1.2v1.2h-1.2zM52.6 55.5h1.3v1.3h-1.3zM87.4 63.4h1.9v1.9h-1.9zM47.1 80.3h1.2v1.2h-1.2zM49.9 78.1h1.4v1.4h-1.4zM48.8 53.1h1.6v1.6h-1.6zM86.2 46.5h1.4v1.4h-1.4zM60.5 7.8h1.7v1.7h-1.7zM36.8 25.5h1.3v1.3h-1.3zM87.3 22.7h1.3v1.3h-1.3zM83.8 58.9h1.2v1.2h-1.2zM45.2 20.3h1.8v1.8h-1.8zM57.8 69.7h1.2v1.2h-1.2zM22.4 42.8h1.6v1.6h-1.6zM65.3 6.4h1.2v1.2h-1.2zM51.5 54.5h1.5v1.5h-1.5zM76.8 40.3h1.2v1.2h-1.2zM80.7 50.6h1.2v1.2h-1.2zM55.3 51.7h1.2v1.2h-1.2zM66.1 74.9h1.6v1.6h-1.6zM69 76.4h1.7v1.7h-1.7zM55.5 52.9h1.6v1.6h-1.6zM57.4 17.6h1.3v1.3h-1.3zM45.6 32.6h1.2v1.2h-1.2zM46.8 33.9h1.3v1.3h-1.3zM88.8 65.1h1.7v1.7h-1.7zM85.3 39.3h1.6v1.6h-1.6zM48.5 54.7h1.6v1.6h-1.6zM63.3 42.7h1.7v1.7h-1.7zM45.2 40.9h1.2v1.2h-1.2zM91.4 59.8h1.2v1.2h-1.2zM88.7 54.3h1.8v1.8h-1.8zM59.7 14.8h1.7v1.7h-1.7zM93.2 40.3h1.4v1.4h-1.4zM49.5 22.6h1.4v1.4h-1.4zM55.1 55.2h1.5v1.5h-1.5zM81.9 60.6h1.7v1.7h-1.7zM59.8 22h1.4v1.4h-1.4zM83 39.2h1.2v1.2h-1.2zM41.6 53.2h1.1v1.1h-1.1zM15.6 31.1h1.1v1.1h-1.1zM78.7 46h1.3v1.3h-1.3zM68.3 26.4h1.2v1.2h-1.2zM72.2 37.4h1.6v1.6h-1.6zM51.9 82.5h1.4v1.4h-1.4zM63.5 56.8h1.3v1.3h-1.3zM61.8 62.1h1.1v1.1h-1.1zM42 57.2h1.8v1.8h-1.8zM71.3 15.2h1.2v1.2h-1.2zM63.9 33.2h1.6v1.6h-1.6zM84.1 47.4h1.6v1.6h-1.6zM54.6 10.8h1.3v1.3h-1.3zM82 27.3h1.6v1.6h-1.6zM17.8 34h1.1v1.1h-1.1zM53.2 44.6h1.2v1.2h-1.2zM76.3 18.4h1.1v1.1h-1.1zM43.7 29.1h1.8v1.8h-1.8zM45.3 48.8h1.7v1.7h-1.7zM50 28.1h1.8v1.8h-1.8zM85.9 65.2h1.9v1.9h-1.9zM48.4 72.9h1.1v1.1h-1.1zM75.3 10.5h1.5v1.5h-1.5zM59 56h1.8v1.8h-1.8zM51.4 41.8h1.2v1.2h-1.2zM98.7 45.2h1.5v1.5h-1.5zM36 28.8h1.7v1.7h-1.7zM46.6 80.9h1.7v1.7h-1.7zM50.9 16.5h1.5v1.5h-1.5zM95 52h1.5v1.5h-1.5zM13.3 30.3h1.2v1.2h-1.2zM54.6 52h1.2v1.2h-1.2zM49.6 36.4h1.3v1.3h-1.3zM67.7 69.4h1.7v1.7h-1.7zM84.1 63.6h1.7v1.7h-1.7zM90.4 64.2h1.5v1.5h-1.5zM64.4 81.1h1.7v1.7h-1.7zM79.1 50.8h1.5v1.5h-1.5zM9 44.5h1.9v1.9h-1.9zM61.7 9.3h1.5v1.5h-1.5zM51.6 59.9h1.4v1.4h-1.4zM78.6 74.9h1.5v1.5h-1.5zM81.6 13.5h1.6v1.6h-1.6zM32.1 37.2h1.9v1.9h-1.9zM47.7 30.1h1.2v1.2h-1.2zM78.5 42.3h1.8v1.8h-1.8zM82.7 14.5h1.8v1.8h-1.8zM69.3 7.9h1.5v1.5h-1.5zM96.3 29.2h1.1v1.1h-1.1zM81.1 72.3h1.2v1.2h-1.2zM21.7 43h1.6v1.6h-1.6zM48.7 18.5h1.1v1.1h-1.1zM46.7 47.6h1.5v1.5h-1.5zM58.6 80h1.9v1.9h-1.9zM29.4 29.5h1.5v1.5h-1.5zM79.2 35.8h1.7v1.7h-1.7zM67.2 21.4h1.4v1.4h-1.4zM48.5 53.2h1.2v1.2h-1.2zM55.1 67.2h1.2v1.2h-1.2zM37.5 38.7h1.8v1.8h-1.8zM70.5 73.3h1.5v1.5h-1.5zM88.8 48.3h1.2v1.2h-1.2zM28.4 38.4h1.4v1.4h-1.4zM66.2 72.9h1.8v1.8h-1.8zM51.6 40.8h1.2v1.2h-1.2zM32.9 32.2h1.4v1.4h-1.4zM41.3 47.5h1.3v1.3h-1.3zM71.9 57.5h1.1v1.1h-1.1zM89.2 37.4h1.2v1.2h-1.2zM65.6 29.3h1.6v1.6h-1.6zM81.2 43.6h1.6v1.6h-1.6zM86.6 33.6h1.8v1.8h-1.8zM74.5 65h1.8v1.8h-1.8zM35.4 34.5h1.6v1.6h-1.6zM14.6 32.4h1.3v1.3h-1.3zM63.3 31h1.5v1.5h-1.5zM16 45.9h1.7v1.7h-1.7zM90.3 46.1h1.6v1.6h-1.6zM74.7 21h1.7v1.7h-1.7zM77.2 60.8h1.5v1.5h-1.5zM82.5 66.9h1.8v1.8h-1.8zM52.9 39.9h1.8v1.8h-1.8zM91.1 34.3h1.1v1.1h-1.1zM60.6 9.4h1.5v1.5h-1.5zM55.7 35.2h1.2v1.2h-1.2zM79.2 65.3h1.7v1.7h-1.7zM62.4 61.8h1.8v1.8h-1.8zM74.1 26.9h1.7v1.7h-1.7zM75.3 28.9h1.5v1.5h-1.5zM53.2 79.9h1.7v1.7h-1.7zM79.8 29.4h1.9v1.9h-1.9zM86.1 58.8h1.7v1.7h-1.7zM85.7 56.9h1.4v1.4h-1.4zM57.3 13h1.3v1.3h-1.3zM59.5 61.4h1.9v1.9h-1.9zM51.6 77.6h1.7v1.7h-1.7zM67 84.1h1.7v1.7h-1.7zM42.9 42.7h1.8v1.8h-1.8zM83.8 17.3h1.8v1.8h-1.8zM44.2 31.4h1.2v1.2h-1.2zM79.7 73.8h1.2v1.2h-1.2zM52.5 35h1.4v1.4h-1.4zM54 67.8h1.9v1.9h-1.9zM73.3 73.3h1.7v1.7h-1.7zM51.3 45.5h1.7v1.7h-1.7zM51.4 36.8h1.3v1.3h-1.3zM85.9 22.3h1.7v1.7h-1.7zM41.4 26.4h1.4v1.4h-1.4zM19.7 39.7h1.3v1.3h-1.3zM45.2 19.6h1.6v1.6h-1.6zM66.4 71.9h1.8v1.8h-1.8zM48.6 61.9h1.8v1.8h-1.8zM70.7 58.5h1.5v1.5h-1.5zM58.6 58.2h1.1v1.1h-1.1zM13.8 38.9h1.7v1.7h-1.7zM63.8 48.9h1.9v1.9h-1.9zM29 34.1h1.9v1.9h-1.9zM41.7 56h1.6v1.6h-1.6zM53.4 84.7h1.2v1.2h-1.2zM55.2 22.5h1.6v1.6h-1.6zM79.3 24h1.2v1.2h-1.2zM49.7 23.5h1.1v1.1h-1.1zM69.6 7.2h1.5v1.5h-1.5zM43.1 37.8h1.8v1.8h-1.8zM78.1 26.9h1.5v1.5h-1.5zM75.7 25.6h1.6v1.6h-1.6zM47.6 70.4h1.4v1.4h-1.4zM84.7 16.2h1.6v1.6h-1.6zM95.1 55.1h1.2v1.2h-1.2zM60.5 6h1.7v1.7h-1.7zM94.9 47.8h1.4v1.4h-1.4zM95.9 36.4h1.9v1.9h-1.9zM55.1 8.4h1.2v1.2h-1.2zM41.9 49.3h1.6v1.6h-1.6zM87.9 71.2h1.4v1.4h-1.4zM29.9 39.2h1.1v1.1h-1.1zM47.5 26.5h1.4v1.4h-1.4zM71.5 36h1.8v1.8h-1.8zM43.9 30.7h1.8v1.8h-1.8zM20.5 44.2h1.1v1.1h-1.1zM79.7 38.6h1.8v1.8h-1.8zM26 35.6h1.4v1.4h-1.4zM83.4 50.2h1.4v1.4h-1.4zM73.2 37.7h1.2v1.2h-1.2zM56.4 39.2h1.8v1.8h-1.8zM40 23.9h1.6v1.6h-1.6zM80.5 14.5h1.5v1.5h-1.5zM70.6 23h1.5v1.5h-1.5zM56.3 8.7h1.9v1.9h-1.9zM57.5 37.1h1.7v1.7h-1.7zM45.8 46.4h1.5v1.5h-1.5zM75 60.4h1.6v1.6h-1.6zM58.9 78h1.5v1.5h-1.5zM83.2 42.5h1.9v1.9h-1.9zM93.3 37.4h1.4v1.4h-1.4zM22.7 40.9h1.4v1.4h-1.4zM51.4 31.5h1.8v1.8h-1.8zM91.8 35h1.8v1.8h-1.8zM86.3 50.1h1.4v1.4h-1.4zM68.3 14.4h1.6v1.6h-1.6zM83.1 48.1h1.3v1.3h-1.3zM9.7 46.2h1.3v1.3h-1.3zM77.2 18.2h1.2v1.2h-1.2zM42.7 38h1.3v1.3h-1.3zM59.4 88.4h1.5v1.5h-1.5zM20 34.4h1.8v1.8h-1.8zM85.4 28.1h1.3v1.3h-1.3zM67.2 46.8h1.8v1.8h-1.8zM71.5 29.6h1.7v1.7h-1.7zM18.1 43h1.5v1.5h-1.5zM88.3 32.2h1.7v1.7h-1.7zM82.9 12.6h1.9v1.9h-1.9zM71.7 28.1h1.3v1.3h-1.3zM65.7 64.5h1.2v1.2h-1.2zM65.1 61.3h1.3v1.3h-1.3zM95.1 37.5h1.1v1.1h-1.1zM14.6 28.5h1.5v1.5h-1.5zM70.3 39.7h1.1v1.1h-1.1zM12.6 45.8h1.2v1.2h-1.2zM50.9 54.5h1.6v1.6h-1.6zM96.9 50h1.9v1.9h-1.9zM64.9 68.8h1.7v1.7h-1.7zM63.4 50.4h1.2v1.2h-1.2zM47.8 82.7h1.1v1.1h-1.1zM57.3 26.9h1.6v1.6h-1.6zM59.2 8.4h1.3v1.3h-1.3zM65.4 84.3h1.3v1.3h-1.3zM47.2 49.7h1.7v1.7h-1.7zM55.6 59.9h1.6v1.6h-1.6zM45 16.1h1.5v1.5h-1.5zM42.8 44.1h1.2v1.2h-1.2zM88.7 26.5h1.9v1.9h-1.9zM72.5 57.6h1.5v1.5h-1.5zM84.9 58.8h1.5v1.5h-1.5zM52.1 68.7h1.4v1.4h-1.4zM47 70.1h1.2v1.2h-1.2zM50.7 57.7h1.5v1.5h-1.5zM42.3 50.7h1.6v1.6h-1.6zM90.6 36.8h1.5v1.5h-1.5zM55.3 32.9h1.4v1.4h-1.4zM77.6 59h1.5v1.5h-1.5zM67.6 34.7h1.3v1.3h-1.3zM60.1 43.9h1.5v1.5h-1.5zM79.4 65h1.3v1.3h-1.3zM80.3 64.4h1.2v1.2h-1.2zM92.8 41.1h1.8v1.8h-1.8zM69.6 82.4h1.2v1.2h-1.2zM89.3 58.6h1.4v1.4h-1.4zM65.6 7.5h1.7v1.7h-1.7zM42 38.9h1.7v1.7h-1.7zM71.5 76.4h1.3v1.3h-1.3zM86.2 43h1.1v1.1h-1.1zM87.8 21.4h1.6v1.6h-1.6zM56.7 12.3h1.3v1.3h-1.3zM92.9 39.4h1.5v1.5h-1.5zM62 30.5h1.6v1.6h-1.6zM47.1 64.9h1.4v1.4h-1.4zM40.2 30.7h1.7v1.7h-1.7zM79.3 65.6h1.8v1.8h-1.8zM45.2 75.7h1.6v1.6h-1.6zM74.9 13.9h1.5v1.5h-1.5zM49.7 12.1h1.8v1.8h-1.8zM52.4 74.3h1.4v1.4h-1.4zM56.1 7.7h1.3v1.3h-1.3zM51 33.1h1.3v1.3h-1.3zM96.9 33.5h1.7v1.7h-1.7zM93.2 32.9h1.1v1.1h-1.1zM77.2 69.2h1.9v1.9h-1.9zM86.9 37.8h1.2v1.2h-1.2zM43.6 56.6h1.8v1.8h-1.8zM47.7 75.9h1.4v1.4h-1.4zM42.1 47.4h1.4v1.4h-1.4zM77.8 66.8h1.4v1.4h-1.4zM83.8 70.6h1.4v1.4h-1.4zM74 28.1h1.5v1.5h-1.5zM72.8 17.5h1.4v1.4h-1.4zM58.3 8.2h1.3v1.3h-1.3zM23.4 29.5h1.6v1.6h-1.6zM58 16.8h1.2v1.2h-1.2zM59.7 74.6h1.2v1.2h-1.2zM59.8 43h1.9v1.9h-1.9zM61.9 25.2h1.8v1.8h-1.8zM14.2 30h1.2v1.2h-1.2zM83.4 46.2h1.6v1.6h-1.6zM52.9 52.4h1.6v1.6h-1.6zM90.3 30.9h1.5v1.5h-1.5zM44 17.5h1.9v1.9h-1.9zM22.6 36h1.4v1.4h-1.4zM57.4 70h1.2v1.2h-1.2zM65.8 57.2h1.3v1.3h-1.3zM53.7 71.1h1.7v1.7h-1.7zM77.3 61.4h1.7v1.7h-1.7zM98 49.9h1.5v1.5h-1.5zM63.2 53.1h1.1v1.1h-1.1zM77.7 37.3h1.4v1.4h-1.4zM51.6 83.2h1.3v1.3h-1.3zM92.7 41.6h1.6v1.6h-1.6zM52.1 23.4h1.7v1.7h-1.7zM76.3 62.9h1.2v1.2h-1.2zM52.7 19.3h1.3v1.3h-1.3zM89 46.9h1.7v1.7h-1.7zM24.8 32.4h1.7v1.7h-1.7zM77 21.7h1.8v1.8h-1.8zM88.3 26.6h1.4v1.4h-1.4zM52.8 29h1.8v1.8h-1.8zM56.6 86.2h1.8v1.8h-1.8zM59.9 52h1.4v1.4h-1.4zM47.7 47.2h1.2v1.2h-1.2zM33.7 32.8h1.6v1.6h-1.6zM59.3 64.1h1.8v1.8h-1.8zM45.6 46.4h1.8v1.8h-1.8zM23.2 29.1h1.4v1.4h-1.4zM56.4 75.6h1.3v1.3h-1.3zM32.8 32.4h1.2v1.2h-1.2zM65.8 42h1.4v1.4h-1.4zM43.9 31h1.8v1.8h-1.8zM85.5 60.4h1.8v1.8h-1.8zM47.3 20.2h1.3v1.3h-1.3zM71.4 27.9h1.8v1.8h-1.8zM86.5 60.3h1.8v1.8h-1.8zM95.6 44.3h1.5v1.5h-1.5zM83.9 49.7h1.7v1.7h-1.7zM76.2 20.8h1.4v1.4h-1.4zM52.1 70.4h1.7v1.7h-1.7zM60.7 53.2h1.6v1.6h-1.6zM42.3 37.9h1.1v1.1h-1.1zM61 66.7h1.4v1.4h-1.4zM65.3 63.5h1.3v1.3h-1.3zM69.2 55.5h1.2v1.2h-1.2zM52.7 52.9h1.2v1.2h-1.2zM54.4 13.3h1.6v1.6h-1.6zM84.5 64.2h1.4v1.4h-1.4zM83.7 37.9h1.6v1.6h-1.6zM69.1 74.8h1.2v1.2h-1.2zM75.7 76.2h1.2v1.2h-1.2zM52.8 35.8h1.6v1.6h-1.6zM16.7 46.1h1.6v1.6h-1.6zM77.6 9.9h1.6v1.6h-1.6zM79.6 10.3h1.2v1.2h-1.2zM87.6 46.7h1.2v1.2h-1.2zM46.4 21.3h1.6v1.6h-1.6zM66.7 83.2h1.7v1.7h-1.7zM70.5 25.6h1.2v1.2h-1.2zM22 29.8h1.6v1.6h-1.6zM75.5 80.2h1.8v1.8h-1.8zM47.1 25.5h1.2v1.2h-1.2zM80 74.1h1.5v1.5h-1.5zM80.3 25.3h1.3v1.3h-1.3zM83.7 71.4h1.6v1.6h-1.6zM68.3 27.7h1.3v1.3h-1.3zM64.3 16.4h1.4v1.4h-1.4zM70.8 83.3h1.2v1.2h-1.2zM67.2 60.2h1.2v1.2h-1.2zM59.3 49.2h1.7v1.7h-1.7zM91.3 23.2h1.4v1.4h-1.4zM70.5 8.2h1.6v1.6h-1.6zM50.6 82.2h1.2v1.2h-1.2zM92.8 55.1h1.1v1.1h-1.1zM62.7 38.7h1.6v1.6h-1.6zM45.8 57.2h1.6v1.6h-1.6zM38.1 32.9h1.8v1.8h-1.8zM56.7 19.2h1.5v1.5h-1.5zM15.3 46.3h1.1v1.1h-1.1zM58.6 58.7h1.3v1.3h-1.3zM61 54.9h1.7v1.7h-1.7zM64.3 62.2h1.5v1.5h-1.5zM34 29.2h1.3v1.3h-1.3zM87.7 43.9h1.2v1.2h-1.2zM67.8 47.8h1.4v1.4h-1.4zM38.9 31.1h1.3v1.3h-1.3zM70.1 12.2h1.7v1.7h-1.7zM69.2 21.5h1.7v1.7h-1.7zM67.6 85.6h1.3v1.3h-1.3zM62.8 51.5h1.5v1.5h-1.5zM67.5 24.7h1.8v1.8h-1.8zM70.3 82.5h1.4v1.4h-1.4zM72.6 46.9h1.3v1.3h-1.3zM60.3 60.2h1.7v1.7h-1.7zM67 35.6h1.2v1.2h-1.2zM78.1 15h1.9v1.9h-1.9zM48 40.6h1.1v1.1h-1.1zM22.2 38.3h1.5v1.5h-1.5zM79.5 10.9h1.1v1.1h-1.1zM54.6 41.2h1.4v1.4h-1.4zM78.5 69.7h1.6v1.6h-1.6zM61.8 82.3h1.5v1.5h-1.5zM82.6 18.9h1.7v1.7h-1.7zM90.9 23.9h1.8v1.8h-1.8zM20.1 41.2h1.3v1.3h-1.3zM24.1 38.9h1.9v1.9h-1.9zM86 19h1.5v1.5h-1.5zM67.9 70.3h1.8v1.8h-1.8zM93.5 41.3h1.4v1.4h-1.4zM83.1 43.3h1.7v1.7h-1.7zM53.1 27h1.1v1.1h-1.1zM53.3 7.7h1.8v1.8h-1.8zM92.4 39.4h1.4v1.4h-1.4zM53.7 74h1.6v1.6h-1.6zM89.3 65.5h1.4v1.4h-1.4zM51.9 12.3h1.9v1.9h-1.9zM61.9 35.8h1.5v1.5h-1.5zM81.7 65.3h1.2v1.2h-1.2zM68.4 41.3h1.9v1.9h-1.9zM70.7 43.6h1.6v1.6h-1.6zM73.8 63.4h1.6v1.6h-1.6zM90.4 63.1h1.5v1.5h-1.5zM82.3 41.3h1.5v1.5h-1.5zM66.3 34h1.5v1.5h-1.5zM64.7 8.4h1.7v1.7h-1.7zM74.3 21.4h1.8v1.8h-1.8zM74.9 49.8h1.4v1.4h-1.4zM87.5 62.1h1.1v1.1h-1.1zM60.6 77.5h1.9v1.9h-1.9zM91.3 39.8h1.1v1.1h-1.1zM49 35.5h1.2v1.2h-1.2zM77.4 77.3h1.6v1.6h-1.6zM47.7 53.6h1.7v1.7h-1.7zM71.9 9.9h1.4v1.4h-1.4zM72.2 33.5h1.6v1.6h-1.6zM66.8 11.7h1.8v1.8h-1.8zM71.9 74h1.8v1.8h-1.8zM96.3 32.2h1.7v1.7h-1.7zM99.1 48.8h1.3v1.3h-1.3zM61 19.7h1.1v1.1h-1.1zM65.9 22.4h1.1v1.1h-1.1zM49.4 78.2h1.8v1.8h-1.8zM84.4 30.6h1.8v1.8h-1.8zM69.3 65.7h1.4v1.4h-1.4zM69.1 68.4h1.6v1.6h-1.6zM96 42.5h1.7v1.7h-1.7zM63 63.3h1.8v1.8h-1.8zM88.7 20.9h1.8v1.8h-1.8zM67.4 57.9h1.6v1.6h-1.6zM60.8 6.5h1.3v1.3h-1.3zM17.8 47.3h1.8v1.8h-1.8zM69.5 9.7h1.6v1.6h-1.6zM31.2 32.2h1.6v1.6h-1.6zM45.7 57.8h1.3v1.3h-1.3zM73.4 62.8h1.7v1.7h-1.7zM39 24.7h1.9v1.9h-1.9zM44 71.3h1.3v1.3h-1.3zM68.5 69.1h1.5v1.5h-1.5zM50.8 41.4h1.4v1.4h-1.4zM83.5 16.5h1.8v1.8h-1.8zM63.8 28.6h1.4v1.4h-1.4zM79.2 17.3h1.7v1.7h-1.7zM51.2 62.1h1.8v1.8h-1.8zM13.3 30.9h1.5v1.5h-1.5zM46.9 16.1h1.1v1.1h-1.1zM47.7 75.8h1.3v1.3h-1.3zM55 57.9h1.7v1.7h-1.7zM73.4 10.9h1.8v1.8h-1.8zM65.4 11.9h1.8v1.8h-1.8zM75.8 45.5h1.3v1.3h-1.3zM60.4 31.8h1.2v1.2h-1.2zM47.1 20.2h1.4v1.4h-1.4zM58.2 44.7h1.5v1.5h-1.5zM96.8 45h1.4v1.4h-1.4zM47.2 54h1.7v1.7h-1.7zM30.3 37.9h1.5v1.5h-1.5zM87 44.7h1.7v1.7h-1.7zM78.1 38.3h1.1v1.1h-1.1zM37.9 35.4h1.6v1.6h-1.6zM50.8 63.3h1.3v1.3h-1.3zM62.1 38.5h1.6v1.6h-1.6zM53.2 36.7h1.6v1.6h-1.6zM72 77.2h1.8v1.8h-1.8zM61.1 66h1.3v1.3h-1.3zM61.2 52.7h1.8v1.8h-1.8zM47.8 40.3h1.7v1.7h-1.7zM91.3 23.3h1.8v1.8h-1.8zM75.4 42h1.5v1.5h-1.5zM51.5 43.2h1.2v1.2h-1.2zM88 43.2h1.6v1.6h-1.6zM91.5 33.1h1.1v1.1h-1.1zM85.1 31.3h1.8v1.8h-1.8zM85.8 34.6h1.7v1.7h-1.7zM51.5 77h1.7v1.7h-1.7zM60 42.1h1.4v1.4h-1.4zM65.8 23.1h1.7v1.7h-1.7zM48.4 60.7h1.2v1.2h-1.2zM77.1 39.5h1.8v1.8h-1.8zM61 42.2h1.6v1.6h-1.6zM83.3 25h1.6v1.6h-1.6zM49.2 65.2h1.4v1.4h-1.4zM56.9 81h1.1v1.1h-1.1zM57.2 57.1h1.5v1.5h-1.5zM17.5 36.1h1.4v1.4h-1.4zM64.8 52.5h1.7v1.7h-1.7zM60.6 47.3h1.2v1.2h-1.2zM49 74.5h1.4v1.4h-1.4zM53.3 29.7h1.7v1.7h-1.7zM16.3 44h1.9v1.9h-1.9zM81 30.9h1.5v1.5h-1.5zM78.7 20.8h1.8v1.8h-1.8zM55.1 20.2h1.4v1.4h-1.4zM69.4 38h1.8v1.8h-1.8zM21.2 41.6h1.6v1.6h-1.6zM42.1 52.9h1.2v1.2h-1.2zM58.8 89.3h1.4v1.4h-1.4zM46.7 38.9h1.9v1.9h-1.9zM49.3 80.6h1.1v1.1h-1.1zM55.4 87.9h1.2v1.2h-1.2zM67.8 14.9h1.8v1.8h-1.8zM88.7 29.2h1.9v1.9h-1.9zM89 68.5h1.3v1.3h-1.3zM56.7 73.8h1.2v1.2h-1.2zM71.4 30h1.8v1.8h-1.8zM92.9 54.3h1.7v1.7h-1.7zM58.8 89.9h1.9v1.9h-1.9zM49.4 41.1h1.7v1.7h-1.7zM53.4 57.4h1.7v1.7h-1.7zM60 75.1h1.3v1.3h-1.3zM58.4 68.6h1.5v1.5h-1.5zM64.2 39.7h1.3v1.3h-1.3zM59.2 7.7h1.4v1.4h-1.4zM77.2 61.1h1.2v1.2h-1.2zM56.6 46.9h1.6v1.6h-1.6zM55.7 29.9h1.8v1.8h-1.8zM87.2 61.5h1.1v1.1h-1.1zM67.6 40.6h1.2v1.2h-1.2zM48.5 53.6h1.3v1.3h-1.3zM61.8 43.5h1.6v1.6h-1.6zM75.5 78.8h1.3v1.3h-1.3zM58.3 61.4h1.4v1.4h-1.4zM81.8 38.9h1.2v1.2h-1.2zM61.3 88.3h1.1v1.1h-1.1zM57.1 21.4h1.7v1.7h-1.7zM88 53.4h1.6v1.6h-1.6zM72.8 56.6h1.9v1.9h-1.9zM50.2 80.5h1.1v1.1h-1.1zM70.9 80.7h1.7v1.7h-1.7zM57.9 79.1h1.8v1.8h-1.8zM76.5 58.9h1.1v1.1h-1.1zM43.5 20.8h1.2v1.2h-1.2zM44.4 60.4h1.5v1.5h-1.5zM91.6 61h1.7v1.7h-1.7zM70.8 11h1.5v1.5h-1.5zM74.2 35.2h1.7v1.7h-1.7zM59.7 19.6h1.6v1.6h-1.6zM59.1 29.8h1.6v1.6h-1.6zM16.7 33.4h1.1v1.1h-1.1zM97.3 38.4h1.6v1.6h-1.6zM74.2 56h1.6v1.6h-1.6zM77.9 21.2h1.7v1.7h-1.7zM53.6 78.1h1.3v1.3h-1.3zM56.2 88h1.5v1.5h-1.5zM65.7 13.7h1.5v1.5h-1.5zM91.6 30.3h1.8v1.8h-1.8zM39.3 39.1h1.4v1.4h-1.4zM56.4 39.7h1.6v1.6h-1.6zM24.8 41h1.4v1.4h-1.4zM71.6 40.3h1.3v1.3h-1.3zM48.9 53.9h1.5v1.5h-1.5zM68.4 81.8h1.3v1.3h-1.3zM50.4 60.7h1.9v1.9h-1.9zM15.6 46.7h1.6v1.6h-1.6zM89.9 20.8h1.2v1.2h-1.2zM70.2 30.1h1.8v1.8h-1.8zM77.4 31.7h1.8v1.8h-1.8zM87.3 47.6h1.6v1.6h-1.6zM26.1 30.7h1.5v1.5h-1.5zM56.3 31.1h1.8v1.8h-1.8zM69.5 14h1.1v1.1h-1.1zM88.7 55.1h1.8v1.8h-1.8zM76.6 9.2h1.8v1.8h-1.8zM62.7 69.7h1.8v1.8h-1.8zM35.6 26.3h1.4v1.4h-1.4zM86.5 20.6h1.7v1.7h-1.7zM73.8 64.8h1.6v1.6h-1.6zM61.6 87.9h1.7v1.7h-1.7zM60.1 6.5h1.4v1.4h-1.4zM88.2 28.9h1.3v1.3h-1.3zM72.3 29.3h1.1v1.1h-1.1zM66.6 54.6h1.9v1.9h-1.9zM79.7 34.2h1.4v1.4h-1.4zM60.6 47.9h1.8v1.8h-1.8zM59.7 57.3h1.5v1.5h-1.5zM83 71.2h1.3v1.3h-1.3zM25.5 41h1.5v1.5h-1.5zM75.8 20.2h1.5v1.5h-1.5zM50 66.1h1.8v1.8h-1.8zM41.7 42.1h1.7v1.7h-1.7zM59.2 13.1h1.6v1.6h-1.6zM51.7 55h1.9v1.9h-1.9zM43.9 50.2h1.7v1.7h-1.7zM65.6 31.5h1.2v1.2h-1.2zM72.1 38.5h1.6v1.6h-1.6zM45.5 78h1.1v1.1h-1.1zM17.7 32.7h1.3v1.3h-1.3zM51 51.1h1.8v1.8h-1.8zM54.5 75.1h1.4v1.4h-1.4zM60.7 68.8h1.8v1.8h-1.8zM40.8 32.9h1.7v1.7h-1.7zM87.7 36.4h1.3v1.3h-1.3zM48.9 30.5h1.5v1.5h-1.5zM66.7 81.9h1.5v1.5h-1.5zM50.4 42.8h1.2v1.2h-1.2zM62.3 9.6h1.8v1.8h-1.8zM52.3 43.2h1.8v1.8h-1.8zM73.4 77.7h1.2v1.2h-1.2zM54.1 8.1h1.5v1.5h-1.5zM63.1 58h1.6v1.6h-1.6zM63 48.6h1.7v1.7h-1.7zM46.1 40.8h1.7v1.7h-1.7zM62 33.2h1.7v1.7h-1.7zM89.4 28.3h1.8v1.8h-1.8zM66.7 30.2h1.3v1.3h-1.3zM77.5 54.3h1.3v1.3h-1.3zM80.7 74.7h1.5v1.5h-1.5zM66.1 81.7h1.7v1.7h-1.7zM57.7 31.8h1.6v1.6h-1.6zM51.7 55h1.7v1.7h-1.7zM67.6 47.2h1.5v1.5h-1.5zM55.5 73.5h1.2v1.2h-1.2zM66.7 24.2h1.4v1.4h-1.4zM60.8 45.1h1.3v1.3h-1.3zM77.4 36h1.2v1.2h-1.2zM70.7 82h1.6v1.6h-1.6zM70.3 61.1h1.9v1.9h-1.9zM64.3 26.8h1.3v1.3h-1.3zM56.3 67.6h1.6v1.6h-1.6zM76.5 49.9h1.4v1.4h-1.4zM25.3 32h1.8v1.8h-1.8zM27.6 33.9h1.3v1.3h-1.3zM95.3 54.3h1.3v1.3h-1.3zM51.1 37.7h1.3v1.3h-1.3zM52.2 53.6h1.7v1.7h-1.7zM68 30.3h1.1v1.1h-1.1zM76.6 64.9h1.1v1.1h-1.1zM83.3 40.1h1.2v1.2h-1.2zM86.2 25.3h1.4v1.4h-1.4zM73.1 68.1h1.9v1.9h-1.9zM54.4 25.1h1.6v1.6h-1.6zM62.2 47h1.1v1.1h-1.1zM61.2 43.4h1.6v1.6h-1.6zM45.4 69.1h1.3v1.3h-1.3zM51.7 83.7h1.4v1.4h-1.4zM71.2 30.9h1.6v1.6h-1.6zM70.9 28.9h1.3v1.3h-1.3zM58.1 41h1.5v1.5h-1.5zM70.3 17h1.7v1.7h-1.7zM26.8 41.5h1.3v1.3h-1.3zM87.4 47.1h1.4v1.4h-1.4zM73.7 47.1h1.5v1.5h-1.5zM51.7 45h1.2v1.2h-1.2zM27.2 30.7h1.2v1.2h-1.2zM74.6 71.8h1.7v1.7h-1.7zM41.5 48.2h1.7v1.7h-1.7zM20.1 44.5h1.1v1.1h-1.1zM63.1 85.4h1.6v1.6h-1.6zM58.7 51.1h1.3v1.3h-1.3zM93.6 50.7h1.9v1.9h-1.9zM76.5 24.6h1.5v1.5h-1.5zM79.2 67.7h1.1v1.1h-1.1zM73.1 60.6h1.7v1.7h-1.7zM51.4 71.9h1.3v1.3h-1.3zM82.7 43.3h1.1v1.1h-1.1zM62.5 75h1.4v1.4h-1.4zM56.8 75.9h1.7v1.7h-1.7zM75.9 59.1h1.3v1.3h-1.3zM61.8 66.6h1.2v1.2h-1.2zM13 31.2h1.4v1.4h-1.4zM42.9 64.4h1.7v1.7h-1.7zM53 22.9h1.8v1.8h-1.8zM70.4 35.9h1.9v1.9h-1.9zM82.3 35.4h1.8v1.8h-1.8zM55.2 60.3h1.6v1.6h-1.6zM15.1 48.5h1.4v1.4h-1.4zM15.3 44.1h1.9v1.9h-1.9zM87.4 59.5h1.4v1.4h-1.4zM79.4 65.7h1.9v1.9h-1.9zM54.4 88.4h1.7v1.7h-1.7zM94.2 28h1.6v1.6h-1.6zM61.6 24.5h1.2v1.2h-1.2zM45.9 72.1h1.6v1.6h-1.6zM44.5 43.1h1.3v1.3h-1.3zM55.1 51h1.6v1.6h-1.6zM46.9 62.1h1.6v1.6h-1.6zM64.3 32.2h1.5v1.5h-1.5zM85.9 42.1h1.1v1.1h-1.1zM63.4 63.9h1.3v1.3h-1.3zM84.9 28.2h1.8v1.8h-1.8zM61.7 75.1h1.7v1.7h-1.7zM57.8 32.7h1.9v1.9h-1.9zM97.8 37h1.8v1.8h-1.8zM60.5 15h1.7v1.7h-1.7zM35.9 29.2h1.8v1.8h-1.8zM75.8 36.1h1.5v1.5h-1.5zM88.3 68.5h1.1v1.1h-1.1zM97.4 39.5h1.8v1.8h-1.8zM56.7 71.9h1.2v1.2h-1.2zM50.5 77.5h1.8v1.8h-1.8zM74.5 18.1h1.5v1.5h-1.5zM99.2 48.9h1.4v1.4h-1.4zM75.5 50h1.7v1.7h-1.7zM55.1 28.5h1.6v1.6h-1.6zM59.2 40.4h1.2v1.2h-1.2zM55.6 59.2h1.8v1.8h-1.8zM48.9 64.1h1.9v1.9h-1.9zM48.4 63.7h1.7v1.7h-1.7zM83.4 29.8h1.7v1.7h-1.7zM51.3 84.4h1.7v1.7h-1.7zM49.2 74.5h1.3v1.3h-1.3zM54.6 14.1h1.2v1.2h-1.2zM83.7 42.4h1.3v1.3h-1.3zM41.9 52.4h1.6v1.6h-1.6zM34.3 29h1.1v1.1h-1.1zM59.6 19.1h1.4v1.4h-1.4zM81.2 26h1.6v1.6h-1.6zM77.6 27.5h1.7v1.7h-1.7zM40.4 42.3h1.8v1.8h-1.8zM53.1 71.2h1.5v1.5h-1.5zM69 65.3h1.8v1.8h-1.8zM12.1 43.8h1.4v1.4h-1.4zM80.7 42.6h1.8v1.8h-1.8zM19.5 43h1.2v1.2h-1.2zM70.4 28.1h1.9v1.9h-1.9zM82 18.2h1.7v1.7h-1.7zM74.9 52.9h1.2v1.2h-1.2zM83 54.1h1.7v1.7h-1.7zM62.2 36.2h1.5v1.5h-1.5zM50 80.5h1.5v1.5h-1.5zM50.3 77h1.3v1.3h-1.3zM23.5 41.8h1.2v1.2h-1.2zM80.8 35.2h1.9v1.9h-1.9zM54.1 60.7h1.8v1.8h-1.8zM46.7 73.4h1.8v1.8h-1.8zM40.5 37.9h1.5v1.5h-1.5zM79.4 61.6h1.3v1.3h-1.3zM98.7 44.7h1.9v1.9h-1.9zM94 55.1h1.4v1.4h-1.4zM58.6 14h1.5v1.5h-1.5zM51.7 74.8h1.3v1.3h-1.3zM44.6 64.5h1.7v1.7h-1.7zM52.8 76.3h1.9v1.9h-1.9zM73 63.4h1.5v1.5h-1.5zM64.4 82.5h1.9v1.9h-1.9zM62.9 28.2h1.4v1.4h-1.4zM14.3 39.1h1.7v1.7h-1.7zM44.2 25.1h1.7v1.7h-1.7zM39.6 27.9h1.4v1.4h-1.4zM63 86.3h1.2v1.2h-1.2zM56.4 63.2h1.9v1.9h-1.9zM57.7 15.4h1.3v1.3h-1.3zM95.2 49.6h1.8v1.8h-1.8zM85.9 56.5h1.3v1.3h-1.3zM63.8 79.8h1.2v1.2h-1.2zM78.7 9.7h1.8v1.8h-1.8zM72 54.7h1.6v1.6h-1.6zM61.1 66.1h1.2v1.2h-1.2zM85.5 66.9h1.5v1.5h-1.5zM88.6 35h1.5v1.5h-1.5zM67.9 11h1.5v1.5h-1.5zM51.4 69.7h1.8v1.8h-1.8zM83.9 76.5h1.3v1.3h-1.3zM51.7 12.8h1.7v1.7h-1.7zM54.4 52.5h1.3v1.3h-1.3zM49.8 62h1.8v1.8h-1.8zM76.1 44.9h1.8v1.8h-1.8zM48.4 35.2h1.5v1.5h-1.5zM90 31.1h1.8v1.8h-1.8zM50.4 52.6h1.3v1.3h-1.3zM55.2 28.1h1.7v1.7h-1.7zM88 49h1.3v1.3h-1.3zM54.1 75.1h1.8v1.8h-1.8zM68.9 71.5h1.8v1.8h-1.8zM43.8 35.7h1.8v1.8h-1.8zM67.2 42.7h1.4v1.4h-1.4zM58.6 31.9h1.3v1.3h-1.3zM79 61.3h1.4v1.4h-1.4zM64.8 16.7h1.3v1.3h-1.3zM26.4 34.2h1.7v1.7h-1.7zM95.6 29.6h1.5v1.5h-1.5zM52.6 74.5h1.2v1.2h-1.2zM60.4 46.9h1.2v1.2h-1.2zM56.5 25.1h1.3v1.3h-1.3zM79.1 21.9h1.6v1.6h-1.6zM76.8 23.3h1.6v1.6h-1.6zM97.2 45h1.6v1.6h-1.6zM71 76.9h1.7v1.7h-1.7zM64.8 78.5h1.6v1.6h-1.6zM89.5 20.7h1.3v1.3h-1.3zM57 11.2h1.2v1.2h-1.2zM54.9 44.9h1.7v1.7h-1.7zM66.8 10.5h1.8v1.8h-1.8zM42.3 47.4h1.2v1.2h-1.2zM48.5 26.1h1.7v1.7h-1.7zM87.7 64.4h1.3v1.3h-1.3zM58.4 20.9h1.8v1.8h-1.8zM55.9 27.9h1.8v1.8h-1.8zM76.5 62.8h1.5v1.5h-1.5zM79.7 34.5h1.9v1.9h-1.9zM43.9 23.2h1.2v1.2h-1.2zM18.1 36.4h1.5v1.5h-1.5zM74.9 35.4h1.2v1.2h-1.2zM71.4 29.4h1.8v1.8h-1.8zM23.7 34.8h1.7v1.7h-1.7zM56.7 6.9h1.5v1.5h-1.5zM94 45.6h1.5v1.5h-1.5zM23.3 41.3h1.6v1.6h-1.6zM89 33.1h1.2v1.2h-1.2zM44.6 64.7h1.1v1.1h-1.1zM57.3 65.1h1.3v1.3h-1.3zM91.5 46.6h1.2v1.2h-1.2zM86.7 23.5h1.4v1.4h-1.4zM76.3 68.5h1.4v1.4h-1.4zM42.8 26.2h1.9v1.9h-1.9zM74.6 33.8h1.3v1.3h-1.3zM15.5 41h1.2v1.2h-1.2zM43.3 72.6h1.9v1.9h-1.9zM12.4 35.1h1.7v1.7h-1.7zM62.2 5.5h1.3v1.3h-1.3zM90.1 52.7h1.8v1.8h-1.8zM57.7 16.9h1.4v1.4h-1.4zM70.5 64.8h1.8v1.8h-1.8zM84.9 16.4h1.7v1.7h-1.7zM86.7 16.4h1.2v1.2h-1.2zM59.8 68.8h1.7v1.7h-1.7zM75.1 20.6h1.7v1.7h-1.7zM65.7 32h1.4v1.4h-1.4zM85.8 68.6h1.1v1.1h-1.1zM41.8 40.1h1.5v1.5h-1.5zM92.2 34.6h1.3v1.3h-1.3zM87.9 31.3h1.5v1.5h-1.5zM75.8 70.8h1.7v1.7h-1.7zM51.1 60.3h1.2v1.2h-1.2zM65.5 40.4h1.9v1.9h-1.9zM63 55.6h1.4v1.4h-1.4zM91.9 30h1.8v1.8h-1.8zM59.3 12.7h1.3v1.3h-1.3zM38.8 32.6h1.7v1.7h-1.7zM21.4 31h1.2v1.2h-1.2zM9.8 44.7h1.3v1.3h-1.3zM52.1 43.7h1.6v1.6h-1.6zM27.4 36.3h1.6v1.6h-1.6zM55.3 49.4h1.2v1.2h-1.2zM45.7 78.1h1.4v1.4h-1.4zM79.3 48.2h1.4v1.4h-1.4zM75.8 31.2h1.2v1.2h-1.2zM40.6 23.2h1.4v1.4h-1.4zM76 78.2h1.3v1.3h-1.3zM56.7 86.8h1.9v1.9h-1.9zM53.8 30.6h1.6v1.6h-1.6zM84.5 26.3h1.6v1.6h-1.6zM39.8 23.7h1.3v1.3h-1.3zM60.5 7h1.9v1.9h-1.9zM78.2 15.8h1.6v1.6h-1.6zM55.9 34.9h1.2v1.2h-1.2zM72.1 55.1h1.6v1.6h-1.6zM41.3 23h1.7v1.7h-1.7zM92.1 62.3h1.2v1.2h-1.2zM55.7 11.7h1.7v1.7h-1.7zM80.5 27.1h1.4v1.4h-1.4zM84.2 56.2h1.6v1.6h-1.6zM53.7 54.6h1.6v1.6h-1.6zM80.8 58.5h1.2v1.2h-1.2zM67.9 21.6h1.9v1.9h-1.9zM77.3 76.3h1.8v1.8h-1.8zM59.6 66h1.2v1.2h-1.2zM43.9 61.8h1.4v1.4h-1.4zM66.8 23h1.7v1.7h-1.7zM68.3 48.3h1.7v1.7h-1.7zM77 14.1h1.4v1.4h-1.4zM37.6 35.4h1.4v1.4h-1.4zM54.6 44h1.3v1.3h-1.3zM41.4 52.5h1.7v1.7h-1.7zM51.7 77.8h1.2v1.2h-1.2zM52.3 78.9h1.6v1.6h-1.6zM19.6 41.5h1.7v1.7h-1.7zM71.6 59.6h1.4v1.4h-1.4zM76.5 28.6h1.8v1.8h-1.8zM35.3 29h1.2v1.2h-1.2zM79.8 51.8h1.6v1.6h-1.6zM51.8 53.1h1.7v1.7h-1.7zM66.7 78.7h1.8v1.8h-1.8zM63.1 7.8h1.5v1.5h-1.5zM89.6 20.9h1.5v1.5h-1.5zM17.5 40.2h1.4v1.4h-1.4zM15.2 36.4h1.2v1.2h-1.2zM51.1 83.1h1.5v1.5h-1.5zM50.1 49.4h1.5v1.5h-1.5zM46.2 50.7h1.2v1.2h-1.2zM66.8 22.7h1.6v1.6h-1.6zM46.6 45.4h1.2v1.2h-1.2zM49.7 37.9h1.3v1.3h-1.3zM86.9 66.8h1.8v1.8h-1.8zM73.3 63.1h1.4v1.4h-1.4zM60.4 47.4h1.7v1.7h-1.7zM70.9 54.7h1.4v1.4h-1.4zM87.2 47.3h1.2v1.2h-1.2zM50.8 46.4h1.6v1.6h-1.6zM51.7 26.1h1.2v1.2h-1.2zM57.3 6.7h1.6v1.6h-1.6zM53.1 19.5h1.8v1.8h-1.8zM72.5 25.5h1.6v1.6h-1.6zM65 68.5h1.1v1.1h-1.1zM75.1 79.8h1.3v1.3h-1.3zM94.1 41.3h1.7v1.7h-1.7zM51.6 53h1.7v1.7h-1.7zM34.6 29h1.2v1.2h-1.2zM73.4 55.5h1.6v1.6h-1.6zM41.4 32.1h1.4v1.4h-1.4zM74.9 30.9h1.3v1.3h-1.3zM52.5 56.9h1.6v1.6h-1.6zM73.2 67.7h1.7v1.7h-1.7zM86.1 34.7h1.3v1.3h-1.3zM14.9 41.1h1.2v1.2h-1.2zM74.3 46.6h1.2v1.2h-1.2zM25.8 34.8h1.3v1.3h-1.3zM52.8 36.3h1.9v1.9h-1.9zM20.5 44.1h1.6v1.6h-1.6zM39.1 39.4h1.3v1.3h-1.3zM83.9 59.3h1.9v1.9h-1.9zM76.8 25h1.7v1.7h-1.7zM56.3 58.8h1.7v1.7h-1.7zM19.9 29.1h1.5v1.5h-1.5zM76.5 67.9h1.6v1.6h-1.6zM13.5 36.2h1.1v1.1h-1.1zM80.8 48.7h1.2v1.2h-1.2zM46.7 71.1h1.8v1.8h-1.8zM91.2 32.4h1.4v1.4h-1.4zM62.6 81.7h1.5v1.5h-1.5zM67.8 50h1.6v1.6h-1.6zM88.7 68.3h1.5v1.5h-1.5zM55.3 33.4h1.4v1.4h-1.4zM64 23.9h1.4v1.4h-1.4zM77 25.9h1.6v1.6h-1.6zM87.7 66.9h1.5v1.5h-1.5zM57.6 83.8h1.3v1.3h-1.3zM57.2 16.1h1.2v1.2h-1.2zM62.8 70.8h1.9v1.9h-1.9zM72.9 31.8h1.7v1.7h-1.7zM66.2 18.1h1.6v1.6h-1.6zM42.3 39.9h1.6v1.6h-1.6zM63.3 53.4h1.2v1.2h-1.2zM88.3 69.7h1.2v1.2h-1.2zM67.7 77.7h1.6v1.6h-1.6zM21.6 43.7h1.6v1.6h-1.6zM81.6 28.7h1.6v1.6h-1.6zM55.2 7.5h1.4v1.4h-1.4zM73.6 26.5h1.3v1.3h-1.3zM12.2 30.9h1.4v1.4h-1.4zM58.2 30.9h1.4v1.4h-1.4zM89.2 53.2h1.5v1.5h-1.5zM81 63h1.2v1.2h-1.2zM57 87.7h1.3v1.3h-1.3zM80.1 74.4h1.6v1.6h-1.6zM66.4 74.6h1.9v1.9h-1.9zM61.8 56.2h1.6v1.6h-1.6zM25.7 30.9h1.8v1.8h-1.8zM66.9 9.9h1.4v1.4h-1.4zM57.3 42.3h1.2v1.2h-1.2zM76.2 29.3h1.2v1.2h-1.2zM88.8 35.3h1.4v1.4h-1.4zM53.5 76.3h1.6v1.6h-1.6zM49.1 78.4h1.3v1.3h-1.3zM60.4 61.5h1.8v1.8h-1.8zM93.1 39.6h1.4v1.4h-1.4zM94.4 55.1h1.9v1.9h-1.9zM88.1 58.6h1.3v1.3h-1.3zM35.4 28.6h1.6v1.6h-1.6zM55 15.9h1.2v1.2h-1.2zM52.2 17.1h1.4v1.4h-1.4zM80.1 51h1.6v1.6h-1.6zM45.5 40.6h1.4v1.4h-1.4zM84.8 37.1h1.1v1.1h-1.1zM68.3 24.6h1.6v1.6h-1.6zM47.8 55.8h1.4v1.4h-1.4zM81.2 68.2h1.1v1.1h-1.1zM77.5 34.8h1.4v1.4h-1.4zM56.6 12.2h1.2v1.2h-1.2zM90.2 60.3h1.3v1.3h-1.3zM63.8 13.7h1.8v1.8h-1.8zM60.2 50.2h1.8v1.8h-1.8zM93.2 33.8h1.5v1.5h-1.5zM70.7 51.2h1.6v1.6h-1.6zM64.3 53.3h1.8v1.8h-1.8zM42.5 58.4h1.2v1.2h-1.2zM57.4 17.4h1.2v1.2h-1.2zM49 63.3h1.8v1.8h-1.8zM60.5 24h1.3v1.3h-1.3zM49.7 55.8h1.6v1.6h-1.6zM59.7 42.2h1.9v1.9h-1.9zM71.6 34.5h1.7v1.7h-1.7zM14.4 32.6h1.8v1.8h-1.8zM43.1 49.5h1.4v1.4h-1.4zM39.9 34.8h1.4v1.4h-1.4zM28.2 30.9h1.1v1.1h-1.1zM64.1 27.5h1.1v1.1h-1.1zM52.3 19.1h1.8v1.8h-1.8zM67.3 54h1.8v1.8h-1.8zM70.9 28.3h1.7v1.7h-1.7zM68 78.7h1.9v1.9h-1.9zM78.5 54.1h1.5v1.5h-1.5zM75.2 46.8h1.3v1.3h-1.3zM26.8 36.2h1.6v1.6h-1.6zM69 84.3h1.2v1.2h-1.2zM96.6 40.8h1.4v1.4h-1.4zM83.8 69.8h1.8v1.8h-1.8zM67.3 79.3h1.9v1.9h-1.9zM13.1 47h1.7v1.7h-1.7zM70.4 14.1h1.2v1.2h-1.2zM56.9 26.9h1.4v1.4h-1.4zM80.1 70.2h1.7v1.7h-1.7zM55.5 31.9h1.7v1.7h-1.7zM49.7 14.9h1.6v1.6h-1.6zM63.1 67.7h1.2v1.2h-1.2zM82.1 14.3h1.5v1.5h-1.5zM79.6 39.1h1.4v1.4h-1.4zM69.9 58h1.1v1.1h-1.1zM60 58.3h1.7v1.7h-1.7zM89.2 52.9h1.9v1.9h-1.9zM61.9 72.8h1.7v1.7h-1.7zM63.9 82.3h1.1v1.1h-1.1zM49.9 54.6h1.3v1.3h-1.3zM19.1 43h1.8v1.8h-1.8zM14.4 32.5h1.6v1.6h-1.6zM77.4 39.8h1.9v1.9h-1.9zM67.1 64.3h1.8v1.8h-1.8zM72.4 21.4h1.3v1.3h-1.3zM50.9 44h1.5v1.5h-1.5zM72.8 30.9h1.4v1.4h-1.4zM76.2 43.5h1.5v1.5h-1.5zM56.6 45.1h1.8v1.8h-1.8zM75.2 40.1h1.3v1.3h-1.3z" fill="#5500b6" /><path d="M35.5,36.5 C36,33.5 39.08,30.92 41,28 C42.92,25.08 44.83,21.5 47,19 C49.17,16.5 51.5,14.42 54,13 C56.5,11.58 59.33,10.92 62,10.5 C64.67,10.08 67.33,10.17 70,10.5 C72.67,10.83 75.5,11.42 78,12.5 C80.5,13.58 82.83,15.08 85,17 C87.17,18.92 89.33,21.33 91,24 C92.67,26.67 94.08,29.83 95,33 C95.92,36.17 96.5,40 96.5,43 C96.5,46 96.08,49 95,51 C93.92,53 92,53.92 90,55 C88,56.08 85.33,56.58 83,57.5 C80.67,58.42 78.17,59.33 76,60.5 C73.83,61.67 72,63.08 70,64.5 C68,65.92 66,67.5 64,69 C62,70.5 60,72 58,73.5 C56,75 53.83,76.75 52,78 C50.17,79.25 48.58,81.17 47,81 C45.42,80.83 43.67,78.83 42.5,77 C41.33,75.17 40.5,73.17 40,70 C39.5,66.83 39.83,62 39.5,58 C39.17,54 38.67,49.58 38,46 C37.33,42.42 35,39.5 35.5,36.5Z" fill="#5500b6" /><path d="M74.8 34.4h0.9v0.9h-0.9zM93.4 32.3h1.4v1.4h-1.4zM78.1 13.4h1.1v1.1h-1.1zM53.9 23.4h1.1v1.1h-1.1zM93.6 49.9h1.1v1.1h-1.1zM50.6 77.3h1.2v1.2h-1.2zM67.4 12.2h1.1v1.1h-1.1zM66.4 38.7h1.3v1.3h-1.3zM66.1 38.1h1.3v1.3h-1.3zM45.5 48.6h0.9v0.9h-0.9zM56.8 23.4h1.1v1.1h-1.1zM83.5 55.5h1.2v1.2h-1.2zM91.2 42.4h1v1h-1zM66.9 51.1h1.2v1.2h-1.2zM63.9 61.3h0.9v0.9h-0.9zM73.6 33.9h1.2v1.2h-1.2zM61.3 28.8h1.4v1.4h-1.4zM56.5 18.4h0.9v0.9h-0.9zM88 22.9h0.8v0.8h-0.8zM63.6 24.5h1.2v1.2h-1.2zM64.8 36.9h1.2v1.2h-1.2zM63.4 27.6h0.9v0.9h-0.9zM38.8 56.8h1.3v1.3h-1.3zM74.3 13.9h1.1v1.1h-1.1zM37.5 44.2h1.2v1.2h-1.2zM49.3 47.7h0.9v0.9h-0.9zM68.6 35.5h1.1v1.1h-1.1zM46.3 29.4h1.3v1.3h-1.3zM65.9 58.9h1.4v1.4h-1.4zM81.5 37.3h0.8v0.8h-0.8zM58 26.4h1.4v1.4h-1.4zM71.6 47.3h0.7v0.7h-0.7zM90.4 38.9h1.2v1.2h-1.2zM74.9 32.7h0.9v0.9h-0.9zM54.3 17.3h0.9v0.9h-0.9zM56.6 67.3h1.1v1.1h-1.1zM57.8 12.8h1.1v1.1h-1.1zM48.3 19.1h0.9v0.9h-0.9zM65.8 14.9h1v1h-1zM90.7 51h1.1v1.1h-1.1zM57.1 30.3h0.8v0.8h-0.8zM73.3 11.4h1.1v1.1h-1.1zM53.3 26.7h1.4v1.4h-1.4zM69.9 52.4h1.1v1.1h-1.1zM48.8 39.2h1.2v1.2h-1.2zM53.7 64.7h1.2v1.2h-1.2zM78.6 26.5h1v1h-1zM74.6 28.4h1v1h-1zM84.3 21.1h1.1v1.1h-1.1zM57.7 43.7h0.8v0.8h-0.8zM65.6 27.9h1v1h-1zM77.6 50.8h0.8v0.8h-0.8zM85.3 48.1h1.1v1.1h-1.1zM76.9 47.7h1.4v1.4h-1.4zM91.2 42h0.8v0.8h-0.8zM83.3 21.9h1.1v1.1h-1.1zM41.8 28.2h1.3v1.3h-1.3zM73.4 31.5h1.2v1.2h-1.2zM57.5 15.8h0.9v0.9h-0.9zM46.3 37.4h1.3v1.3h-1.3zM84.4 47h1v1h-1zM42.3 34.7h0.9v0.9h-0.9zM56.4 39.1h1.2v1.2h-1.2zM61.3 64h0.9v0.9h-0.9zM42.4 30.7h1.2v1.2h-1.2zM56.8 60h0.7v0.7h-0.7zM47.2 25h0.9v0.9h-0.9zM64.7 51.2h1v1h-1zM78.8 58.3h1v1h-1zM63.3 46.5h1.1v1.1h-1.1zM49.7 32.7h0.8v0.8h-0.8zM38.3 48.1h1.1v1.1h-1.1zM65.7 26.4h1.1v1.1h-1.1zM76.2 58.6h1.1v1.1h-1.1zM83.8 36.6h1v1h-1zM58.9 27.6h0.8v0.8h-0.8zM87.5 33h1v1h-1zM42.2 29h1.4v1.4h-1.4zM51.3 14.9h1.4v1.4h-1.4zM83.3 39h1.2v1.2h-1.2zM80.3 44.6h1.2v1.2h-1.2zM49.4 40.4h1v1h-1zM84.7 44.2h1.2v1.2h-1.2zM65 58.1h1.3v1.3h-1.3zM68.1 58h1.4v1.4h-1.4zM71.4 51.9h1v1h-1zM81.5 36.2h1.2v1.2h-1.2zM69.7 35.8h1.2v1.2h-1.2zM76.6 29.6h1.3v1.3h-1.3zM59.8 43h0.8v0.8h-0.8zM48 25.3h0.7v0.7h-0.7zM80.6 46.2h1.2v1.2h-1.2zM53.8 70.7h1.4v1.4h-1.4zM79.1 26.2h0.9v0.9h-0.9zM68.8 35h1v1h-1zM59.4 29.2h0.9v0.9h-0.9zM75.6 19.1h1.1v1.1h-1.1zM80.5 47.4h1v1h-1zM62.2 25h1.1v1.1h-1.1zM80.7 17.7h1.1v1.1h-1.1zM69.3 26.5h0.7v0.7h-0.7zM70.5 40.9h1.3v1.3h-1.3zM55.3 20.9h1.1v1.1h-1.1zM58 38.1h1.1v1.1h-1.1zM82.8 45h1.2v1.2h-1.2zM78.6 22.8h1.2v1.2h-1.2zM47.6 43.6h1.4v1.4h-1.4zM61.3 22.2h0.9v0.9h-0.9zM64.9 60.4h1v1h-1zM73.4 47.3h1.3v1.3h-1.3z" fill="#fff" fill-opacity="0.85"/><path d="M41.2 27.1h0.9v0.9h-0.9zM42.8 25.3h1.5v1.5h-1.5zM44.1 23.7h1.3v1.3h-1.3zM46.3 20.2h1v1h-1zM44.2 22.5h1.3v1.3h-1.3zM42.6 26.1h1.1v1.1h-1.1zM42.3 24.8h1.1v1.1h-1.1zM42.2 26.2h1.4v1.4h-1.4zM47.2 18.9h1v1h-1zM51.1 14.8h1.3v1.3h-1.3zM52.3 14.5h1.4v1.4h-1.4zM48.3 16.5h1.4v1.4h-1.4zM50.8 16h1.6v1.6h-1.6zM47.9 17.5h1.5v1.5h-1.5zM57.3 12.9h0.9v0.9h-0.9zM56.8 12.3h1.7v1.7h-1.7zM57.4 11.2h1.4v1.4h-1.4zM56.2 12.5h1.2v1.2h-1.2zM55 12.5h1.5v1.5h-1.5zM57.5 11.8h1.4v1.4h-1.4zM65.6 9.6h1.2v1.2h-1.2zM68.2 10.4h1.5v1.5h-1.5zM68.9 9.5h1.5v1.5h-1.5zM65.4 9.7h1.1v1.1h-1.1zM65.1 10.2h1.6v1.6h-1.6zM64.2 11h1.2v1.2h-1.2zM76.7 13.3h1v1h-1zM76 11.5h1.2v1.2h-1.2zM76.5 12.3h0.9v0.9h-0.9zM68.9 11.1h1.6v1.6h-1.6zM77.1 12.2h1.1v1.1h-1.1zM74.8 11h1.4v1.4h-1.4zM78.3 12.5h1.5v1.5h-1.5zM78.1 14.1h1.4v1.4h-1.4zM81.2 15.4h1.1v1.1h-1.1zM84 15.8h1.6v1.6h-1.6zM80.6 14.9h1.3v1.3h-1.3zM80.1 13.7h1.2v1.2h-1.2zM87.9 20.9h1.5v1.5h-1.5zM88.9 21.2h1v1h-1zM89.1 22.9h1v1h-1zM86.9 20.4h1.5v1.5h-1.5zM86.4 20.8h0.9v0.9h-0.9zM89 23.2h1.2v1.2h-1.2zM90.7 24.2h1.5v1.5h-1.5zM92.6 29.8h1v1h-1zM90.4 24.6h1v1h-1zM91.9 26h1.1v1.1h-1.1zM91.7 29h0.9v0.9h-0.9zM91.4 26.3h1.1v1.1h-1.1zM92.4 27h1.1v1.1h-1.1zM93.6 35.3h1.1v1.1h-1.1zM94.2 39.3h1.5v1.5h-1.5zM94.7 36.7h1.3v1.3h-1.3zM94.7 36h1.2v1.2h-1.2zM93.7 33.1h1.2v1.2h-1.2zM94.3 33.2h1v1h-1zM94.2 37.3h1.7v1.7h-1.7zM94.8 43.3h1.5v1.5h-1.5zM94.9 44.2h1.4v1.4h-1.4zM95 43h1.6v1.6h-1.6zM93.4 49.6h0.9v0.9h-0.9zM93.9 47.6h1.2v1.2h-1.2zM94.7 44.1h1.2v1.2h-1.2zM89.5 53.6h1.6v1.6h-1.6zM90.5 52.8h1.5v1.5h-1.5zM89.3 53.3h1.1v1.1h-1.1zM93.2 50.1h1.5v1.5h-1.5zM85 55.7h1.4v1.4h-1.4zM84.2 55.7h1.5v1.5h-1.5zM84.4 54.9h0.9v0.9h-0.9zM82.5 55.9h1v1h-1zM88 54.4h1.4v1.4h-1.4zM78 58h1.6v1.6h-1.6zM78.3 57.6h1.5v1.5h-1.5zM76.7 59.5h1v1h-1zM78.4 57h1.6v1.6h-1.6zM78.5 58.4h1.4v1.4h-1.4zM69.8 62.5h1v1h-1zM74.9 59.7h1.1v1.1h-1.1zM72.7 60.2h1.5v1.5h-1.5zM71.1 60.9h1.5v1.5h-1.5zM74.2 60.2h1.1v1.1h-1.1zM63.3 68h1.1v1.1h-1.1zM63.4 66.6h1.2v1.2h-1.2zM67.6 65.1h0.9v0.9h-0.9zM65.4 66.8h1.7v1.7h-1.7zM64.2 67.2h1.4v1.4h-1.4zM58.3 72.1h1.4v1.4h-1.4zM57.7 71.5h1.6v1.6h-1.6zM62.1 69.8h1.1v1.1h-1.1zM57.3 72.7h1.2v1.2h-1.2zM62.8 68.4h1.1v1.1h-1.1zM54.7 75.4h1v1h-1zM56.3 71.7h1.5v1.5h-1.5zM56 73.7h1.1v1.1h-1.1zM53.9 74.5h1.5v1.5h-1.5zM53.7 75.8h1.4v1.4h-1.4zM51.1 77.2h0.9v0.9h-0.9zM49.5 78.4h1.5v1.5h-1.5zM48.9 77.8h1v1h-1zM49.8 77.6h1.3v1.3h-1.3z" fill="#5500b6" /><path d="M44.4 20.1h1.1v1.1h-1.1zM40.7 25h1.5v1.5h-1.5zM42.2 23.1h0.8v0.8h-0.8zM43.6 22.7h1.1v1.1h-1.1zM43.1 21.3h1.2v1.2h-1.2zM45.6 19.6h0.9v0.9h-0.9zM49 14.9h1.3v1.3h-1.3zM46.7 18.2h1v1h-1zM49 14.8h1v1h-1zM45.8 17.1h1.4v1.4h-1.4zM52.1 14.1h1v1h-1zM54.6 10.9h0.9v0.9h-0.9zM54.3 11.9h1.4v1.4h-1.4zM54.7 10.7h1v1h-1zM58.7 10.8h1v1h-1zM60 9h1v1h-1zM64.3 10.2h0.9v0.9h-0.9zM64.5 9.3h1.2v1.2h-1.2zM64.2 9.9h1.2v1.2h-1.2zM64.1 9.5h1.5v1.5h-1.5zM73.9 11.2h1.5v1.5h-1.5zM77.1 11.3h1.5v1.5h-1.5zM70.7 9h0.9v0.9h-0.9zM76.4 10.7h1.5v1.5h-1.5zM79.8 12.4h1.5v1.5h-1.5zM78.3 12.5h1.2v1.2h-1.2zM78.4 12.9h0.8v0.8h-0.8zM80.3 12.8h1.1v1.1h-1.1zM88 21h0.9v0.9h-0.9zM88 20.6h0.8v0.8h-0.8zM85.2 16.2h1.5v1.5h-1.5zM87.3 20.2h0.9v0.9h-0.9zM89.4 20.6h0.9v0.9h-0.9zM92.1 27.7h1.2v1.2h-1.2zM93.9 29.9h1.3v1.3h-1.3zM92.1 25.2h1.1v1.1h-1.1zM92.7 28.9h1.1v1.1h-1.1zM93 28.9h1.2v1.2h-1.2zM94.7 32.4h1.5v1.5h-1.5zM95.8 38.7h1.4v1.4h-1.4zM96.1 39.3h1.1v1.1h-1.1zM96.4 41.1h1.1v1.1h-1.1zM95.1 36.3h0.9v0.9h-0.9zM95.8 38.3h1.3v1.3h-1.3zM95.6 46.1h1.2v1.2h-1.2zM96.8 44.6h1.2v1.2h-1.2zM95.9 44.8h1.4v1.4h-1.4zM95.2 50.1h1.4v1.4h-1.4zM90.6 53.9h1.1v1.1h-1.1zM91.9 52.1h1.2v1.2h-1.2zM92.4 53.5h1v1h-1zM82.9 57.7h1.2v1.2h-1.2zM88.2 56.1h1.3v1.3h-1.3zM85.1 56.1h0.9v0.9h-0.9zM88.5 56.1h1.1v1.1h-1.1zM77.8 59.7h1.4v1.4h-1.4zM80.3 57.7h1.5v1.5h-1.5zM82 58.7h1.1v1.1h-1.1zM82.3 57.1h1.3v1.3h-1.3zM73.1 61.6h0.9v0.9h-0.9zM75.5 60.7h1.1v1.1h-1.1zM71.4 62.6h1v1h-1zM72.2 62.3h1.3v1.3h-1.3zM68.4 65.8h1.3v1.3h-1.3zM67.5 66.6h1v1h-1zM64.6 68.9h1v1h-1zM64.7 68.2h1.4v1.4h-1.4zM59.9 72.6h1.2v1.2h-1.2zM61.8 70.6h1.4v1.4h-1.4zM60.8 71.5h1.2v1.2h-1.2zM61.4 69.9h1.2v1.2h-1.2zM56.6 73.9h1.3v1.3h-1.3zM55.2 74.8h1.5v1.5h-1.5zM54.4 76.2h0.9v0.9h-0.9zM53.1 76.5h1.3v1.3h-1.3zM47.3 81.3h1v1h-1zM47.3 81h0.9v0.9h-0.9zM51.2 77.6h1.2v1.2h-1.2z" fill="#fff" /><path d="M36.8 26.3h1.6v1.6h-1.6zM22.2 37.4h1.2v1.2h-1.2zM14.9 35.3h1.3v1.3h-1.3zM11.5 41.7h1.4v1.4h-1.4zM25 42.3h1.4v1.4h-1.4zM10.5 43.4h1.6v1.6h-1.6zM29.3 39.3h1.9v1.9h-1.9zM20.2 42.9h1.4v1.4h-1.4zM26.8 40.5h1.4v1.4h-1.4zM11.4 35.8h1.7v1.7h-1.7zM27.3 35.2h1.6v1.6h-1.6zM14.6 28.7h1.4v1.4h-1.4zM34.6 29.2h1.2v1.2h-1.2zM17.3 38.2h1.8v1.8h-1.8zM19.3 33.4h1.3v1.3h-1.3zM18.3 43.3h1.5v1.5h-1.5zM34.8 30.1h1.5v1.5h-1.5zM38.3 28.2h1.9v1.9h-1.9zM10.7 34.6h1.1v1.1h-1.1zM11.3 35.8h1.3v1.3h-1.3zM16.6 34.4h1.8v1.8h-1.8zM22.6 32.5h1.8v1.8h-1.8zM30.3 34.3h1.7v1.7h-1.7zM16.3 31.5h1.4v1.4h-1.4zM12.2 39.8h1.4v1.4h-1.4zM16.7 47.7h1.2v1.2h-1.2zM26.6 37.6h1.3v1.3h-1.3zM26.4 35.8h1.5v1.5h-1.5zM20.8 43.6h1.2v1.2h-1.2zM36 29.2h1.6v1.6h-1.6zM14.2 35.3h1.4v1.4h-1.4zM11.3 41.4h1.5v1.5h-1.5zM30.4 37.4h1.5v1.5h-1.5zM25.2 31.4h1.8v1.8h-1.8zM11.3 45.6h1.8v1.8h-1.8zM24.4 43.2h1.6v1.6h-1.6zM27.9 31.5h1.4v1.4h-1.4zM19.6 31.5h1.9v1.9h-1.9zM19.5 33.8h1.4v1.4h-1.4zM26.3 30.6h1.3v1.3h-1.3zM17.1 45.1h1.5v1.5h-1.5zM12.4 35.7h1.2v1.2h-1.2zM26.4 34.9h1.8v1.8h-1.8zM17 45.2h1.3v1.3h-1.3zM10.2 44.1h1.3v1.3h-1.3zM35 26.4h1.7v1.7h-1.7zM21.3 41h1.3v1.3h-1.3zM11.2 46.6h1.6v1.6h-1.6zM13.9 48h1.8v1.8h-1.8zM31.7 35.7h1.7v1.7h-1.7zM27.5 32.4h1.2v1.2h-1.2zM11.8 45.4h1.3v1.3h-1.3zM22.1 32h1.6v1.6h-1.6zM22.4 33.1h1.6v1.6h-1.6zM18.4 45.8h1.9v1.9h-1.9zM20.6 43.1h1.8v1.8h-1.8zM25.6 29.4h1.4v1.4h-1.4zM22.2 44.4h1.6v1.6h-1.6zM21.9 30.3h1.4v1.4h-1.4zM30 35.3h1.2v1.2h-1.2zM28.3 34.7h1.6v1.6h-1.6zM29.7 35h1.2v1.2h-1.2zM35.3 33.9h1.4v1.4h-1.4zM29.9 31.1h1.2v1.2h-1.2zM27.3 36.8h1.5v1.5h-1.5zM28.9 31.8h1.6v1.6h-1.6zM25.6 29.1h1.4v1.4h-1.4zM17.7 36.3h1.5v1.5h-1.5zM33.5 31.3h1.9v1.9h-1.9zM9.4 43.6h1.6v1.6h-1.6zM37.1 27.9h1.7v1.7h-1.7zM12.1 46.6h1.9v1.9h-1.9zM12.4 44.7h1.2v1.2h-1.2zM11.2 43.6h1.7v1.7h-1.7zM24.8 30.9h1.6v1.6h-1.6zM36.2 29h1.7v1.7h-1.7zM34.7 28.7h1.3v1.3h-1.3zM10.8 40.6h1.2v1.2h-1.2zM26.6 38.1h1.7v1.7h-1.7zM33.8 32.9h1.6v1.6h-1.6zM22 45.3h1.2v1.2h-1.2zM19 40.6h1.6v1.6h-1.6zM34.8 29.2h1.7v1.7h-1.7zM34 27.9h1.2v1.2h-1.2zM28.1 34.7h1.5v1.5h-1.5zM25.5 38.6h1.8v1.8h-1.8zM17 38.8h1.8v1.8h-1.8zM37.6 27.4h1.5v1.5h-1.5zM20 29.3h1.5v1.5h-1.5zM20.4 46h1.5v1.5h-1.5zM13.9 37.8h1.3v1.3h-1.3zM9.8 38.6h1.9v1.9h-1.9zM13.5 38h1.6v1.6h-1.6zM32.8 35.4h1.1v1.1h-1.1zM37.9 30.7h1.7v1.7h-1.7zM23.4 43.4h1.4v1.4h-1.4zM11.7 34.7h1.5v1.5h-1.5zM33.6 34.1h1.6v1.6h-1.6zM20.7 42.3h1.2v1.2h-1.2zM9.4 45.2h1.7v1.7h-1.7zM38 27.9h1.3v1.3h-1.3zM25.3 36.9h1.9v1.9h-1.9zM28.7 39.4h1.6v1.6h-1.6zM21.6 32.7h1.2v1.2h-1.2zM23.9 32.7h1.8v1.8h-1.8zM35.6 31.1h1.2v1.2h-1.2zM27.8 29.6h1.9v1.9h-1.9zM16.6 46.8h1.9v1.9h-1.9zM31.8 32.6h1.5v1.5h-1.5zM18.8 43.8h1.2v1.2h-1.2zM12.3 34.8h1.8v1.8h-1.8zM29.8 32.4h1.6v1.6h-1.6zM32.2 35.3h1.7v1.7h-1.7zM32.3 31.2h1.5v1.5h-1.5zM23.6 41.9h1.8v1.8h-1.8zM35.6 35.1h1.3v1.3h-1.3zM12.2 48.5h1.6v1.6h-1.6zM16.9 37.2h1.2v1.2h-1.2zM27.9 34.8h1.7v1.7h-1.7zM35.9 28.5h1.8v1.8h-1.8zM15.8 30.1h1.6v1.6h-1.6zM18.2 29.3h1.2v1.2h-1.2zM14.2 28.8h1.8v1.8h-1.8zM10.2 37.6h1.3v1.3h-1.3zM20.6 42.5h1.1v1.1h-1.1zM21.7 32.2h1.5v1.5h-1.5zM35.9 30.8h1.7v1.7h-1.7zM11.5 45.1h1.5v1.5h-1.5zM24.3 36.6h1.7v1.7h-1.7zM24.5 39.4h1.8v1.8h-1.8zM18.8 38.7h1.1v1.1h-1.1zM25.9 40.4h1.8v1.8h-1.8zM30.6 31.8h1.9v1.9h-1.9zM28.3 31.8h1.7v1.7h-1.7zM15.6 30h1.8v1.8h-1.8zM10.5 45.6h1.4v1.4h-1.4zM26.6 41h1.8v1.8h-1.8zM24.9 29.8h1.4v1.4h-1.4zM17.3 33.9h1.2v1.2h-1.2zM9.9 44.1h1.2v1.2h-1.2zM19.4 45.2h1.7v1.7h-1.7zM13.6 46.2h1.7v1.7h-1.7zM13.9 42.3h1.1v1.1h-1.1zM14.9 37.5h1.3v1.3h-1.3zM15.6 33h1.5v1.5h-1.5zM26.4 42h1.3v1.3h-1.3zM34.4 35.3h1.5v1.5h-1.5zM11 35.4h1.6v1.6h-1.6zM19.3 42.6h1.8v1.8h-1.8zM19.3 45.8h1.1v1.1h-1.1zM26.5 35.3h1.8v1.8h-1.8zM28.5 29.3h1.2v1.2h-1.2zM9.8 42.6h1.7v1.7h-1.7zM20.5 29.7h1.5v1.5h-1.5zM15 37.2h1.4v1.4h-1.4zM18.9 41.3h1.3v1.3h-1.3zM19 37.9h1.9v1.9h-1.9zM13.6 31.8h1.3v1.3h-1.3zM18.5 36.1h1.8v1.8h-1.8zM14.5 41.9h1.4v1.4h-1.4zM26.7 36.5h1.6v1.6h-1.6zM14.4 39.4h1.4v1.4h-1.4zM12.8 41.3h1.2v1.2h-1.2zM18.3 39.7h1.1v1.1h-1.1zM31.5 33.6h1.8v1.8h-1.8zM19.5 33.5h1.7v1.7h-1.7zM13.6 34.6h1.4v1.4h-1.4zM32.4 27.8h1.4v1.4h-1.4zM9.3 41.5h1.6v1.6h-1.6zM11 47.3h1.9v1.9h-1.9zM17.5 30.2h1.1v1.1h-1.1zM28.9 38.8h1.4v1.4h-1.4zM32.4 30.1h1.3v1.3h-1.3zM12.2 29.9h1.8v1.8h-1.8zM24 42.2h1.8v1.8h-1.8zM29.6 32.9h1.9v1.9h-1.9zM11.1 34.2h1.8v1.8h-1.8zM30.1 32.8h1.8v1.8h-1.8zM17.1 40.8h1.6v1.6h-1.6zM15.5 38.5h1.3v1.3h-1.3zM28 32h1.9v1.9h-1.9zM19.4 43.5h1.8v1.8h-1.8zM20.6 38.8h1.3v1.3h-1.3zM20.5 34.9h1.7v1.7h-1.7zM29.2 36.9h1.5v1.5h-1.5zM24.6 34.1h1.4v1.4h-1.4zM30.3 35.2h1.2v1.2h-1.2zM20.8 35.6h1.3v1.3h-1.3zM16.2 35.3h1.3v1.3h-1.3zM16.9 36.2h1.7v1.7h-1.7zM28.5 33h1.9v1.9h-1.9zM14.9 43.7h1.4v1.4h-1.4zM36.9 25.8h1.9v1.9h-1.9zM28.2 34.2h1.8v1.8h-1.8zM25.7 35.6h1.2v1.2h-1.2zM33.5 27.9h1.3v1.3h-1.3zM23.7 32.9h1.1v1.1h-1.1zM23.5 31.4h1.3v1.3h-1.3zM26 32.6h1.1v1.1h-1.1zM16.2 40.4h1.6v1.6h-1.6zM16.7 37.5h1.3v1.3h-1.3zM17.6 35.5h1.1v1.1h-1.1zM15.9 48.2h1.7v1.7h-1.7zM19.2 45.2h1.4v1.4h-1.4zM36.8 35.2h1.8v1.8h-1.8zM13.1 34h1.4v1.4h-1.4zM13.2 34.4h1.2v1.2h-1.2zM19.2 32.2h1.4v1.4h-1.4zM17.6 47.2h1.1v1.1h-1.1zM24.5 29.8h1.7v1.7h-1.7zM9.9 36.7h1.7v1.7h-1.7zM36.6 24.5h1.8v1.8h-1.8zM36 33.3h1.6v1.6h-1.6zM23.6 38.6h1.4v1.4h-1.4zM35.6 31.8h1.5v1.5h-1.5zM36.7 33h1.4v1.4h-1.4zM13.7 37.6h1.5v1.5h-1.5zM27.9 31h1.3v1.3h-1.3zM26 41.1h1.7v1.7h-1.7zM14.4 43.4h1.5v1.5h-1.5zM13.3 31.8h1.9v1.9h-1.9zM24.6 39.9h1.4v1.4h-1.4zM32 37.4h1.4v1.4h-1.4zM10.2 44.4h1.2v1.2h-1.2zM17.7 35.5h1.3v1.3h-1.3zM22.9 35h1.5v1.5h-1.5zM12.4 32.4h1.5v1.5h-1.5zM34.2 28h1.7v1.7h-1.7zM17.7 34.9h1.6v1.6h-1.6zM29.2 29.3h1.6v1.6h-1.6zM24.9 37.7h1.4v1.4h-1.4zM37.5 31.5h1.4v1.4h-1.4zM14 31.5h1.2v1.2h-1.2zM16.3 43.9h1.8v1.8h-1.8zM19.3 42.1h1.7v1.7h-1.7zM29.1 39.4h1.7v1.7h-1.7zM18.9 32.5h1.3v1.3h-1.3zM16 36.8h1.5v1.5h-1.5zM13.5 39.3h1.7v1.7h-1.7zM25.6 40.1h1.4v1.4h-1.4zM11 42.5h1.7v1.7h-1.7zM13.3 31.8h1.6v1.6h-1.6zM31 28.3h1.4v1.4h-1.4zM20.8 37.5h1.8v1.8h-1.8zM13.2 33.3h1.8v1.8h-1.8zM14.2 28.5h1.7v1.7h-1.7zM28.4 35.9h1.5v1.5h-1.5zM10.8 40h1.3v1.3h-1.3zM24.4 34h1.4v1.4h-1.4zM17.6 39.3h1.7v1.7h-1.7zM24.4 35.7h1.9v1.9h-1.9zM18.9 30.7h1.4v1.4h-1.4zM29.6 30.2h1.3v1.3h-1.3zM31.3 37.4h1.2v1.2h-1.2zM35.5 27.4h1.3v1.3h-1.3zM25.8 35.3h1.7v1.7h-1.7zM13.5 40.4h1.2v1.2h-1.2zM12.3 41.3h1.7v1.7h-1.7zM15.3 38.5h1.1v1.1h-1.1zM21 44.3h1.2v1.2h-1.2zM14.1 42.6h1.5v1.5h-1.5zM24.5 36h1.1v1.1h-1.1zM27 36.2h1.8v1.8h-1.8zM23.5 37.3h1.7v1.7h-1.7zM13.4 44.4h1.6v1.6h-1.6zM25.2 31.6h1.1v1.1h-1.1zM16.3 30.6h1.5v1.5h-1.5zM10.8 47.3h1.1v1.1h-1.1zM32 35.6h1.9v1.9h-1.9zM35.8 35.6h1.5v1.5h-1.5zM30.9 30.8h1.1v1.1h-1.1zM16 47.8h1.8v1.8h-1.8zM17.8 35h1.9v1.9h-1.9zM24.7 32h1.5v1.5h-1.5zM14.2 38.4h1.2v1.2h-1.2zM10 42.7h1.5v1.5h-1.5zM13.6 33.9h1.8v1.8h-1.8zM20.1 30.9h1.5v1.5h-1.5zM23.7 39.7h1.4v1.4h-1.4zM38.3 31h1.3v1.3h-1.3zM24 43.8h1.7v1.7h-1.7zM13.3 36.5h1.7v1.7h-1.7zM23.3 37.4h1.6v1.6h-1.6zM31.2 36.6h1.1v1.1h-1.1zM17.8 28.8h1.9v1.9h-1.9zM31.7 27.5h1.4v1.4h-1.4zM21.8 39.5h1.9v1.9h-1.9zM19.3 41.4h1.4v1.4h-1.4zM21 35.1h1.6v1.6h-1.6zM20.1 36.2h1.5v1.5h-1.5zM20.9 32.3h1.2v1.2h-1.2zM11.3 33.2h1.9v1.9h-1.9zM34.3 26.4h1.1v1.1h-1.1zM19 38.6h1.7v1.7h-1.7zM11.9 44.1h1.1v1.1h-1.1zM20.8 44.8h1.8v1.8h-1.8zM23.1 34.7h1.5v1.5h-1.5zM25.1 29.6h1.4v1.4h-1.4zM14.5 35.4h1.7v1.7h-1.7zM34.5 34.9h1.5v1.5h-1.5zM21.3 34.5h1.3v1.3h-1.3zM14.7 45.7h1.7v1.7h-1.7zM34.8 32.1h1.7v1.7h-1.7zM18.4 31.4h1.9v1.9h-1.9zM26.1 38.3h1.6v1.6h-1.6zM17.1 39.2h1.2v1.2h-1.2zM10 42.1h1.1v1.1h-1.1zM37.6 29.6h1.8v1.8h-1.8zM18.5 41.8h1.4v1.4h-1.4zM30.7 28.8h1.3v1.3h-1.3zM37 33.5h1.9v1.9h-1.9zM38.2 27.7h1.6v1.6h-1.6zM15.5 32.8h1.3v1.3h-1.3zM15.9 38.7h1.3v1.3h-1.3zM17.3 43.3h1.3v1.3h-1.3zM25 31.9h1.4v1.4h-1.4zM16.4 45.9h1.4v1.4h-1.4zM26.6 33h1.7v1.7h-1.7zM27.1 36.6h1.2v1.2h-1.2zM15.2 47.3h1.2v1.2h-1.2zM24.2 32.5h1.9v1.9h-1.9zM23.5 43.3h1.1v1.1h-1.1zM14 44.5h1.5v1.5h-1.5zM30.1 38.9h1.8v1.8h-1.8zM16.8 28.7h1.3v1.3h-1.3zM36 36.5h1.7v1.7h-1.7zM33 32.5h1.7v1.7h-1.7zM25.3 35.8h1.5v1.5h-1.5zM15.2 38.2h1.8v1.8h-1.8zM16.8 34.5h1.4v1.4h-1.4z" fill="#5500b6" /><path d="M59.1 82h1.1v1.1h-1.1zM60.8 81.7h1.5v1.5h-1.5zM59.9 82h1.7v1.7h-1.7zM58.9 81h1.7v1.7h-1.7zM61 81h1.2v1.2h-1.2zM90.9 64.3h1.1v1.1h-1.1zM89.4 62.5h1.4v1.4h-1.4zM89.4 64.2h1.6v1.6h-1.6zM89.6 64.5h1v1h-1zM88.7 63.5h1.6v1.6h-1.6zM87.2 70.1h1.1v1.1h-1.1zM86.4 67.8h1.1v1.1h-1.1zM86.1 69h1.7v1.7h-1.7zM85 68.5h1.7v1.7h-1.7zM87.2 68.9h1.2v1.2h-1.2zM77.8 69h1.3v1.3h-1.3zM78.3 68.3h1.3v1.3h-1.3zM78.5 67.9h1.1v1.1h-1.1zM77.5 68.2h1.6v1.6h-1.6zM76.8 68.3h1v1h-1zM70.3 71.1h1v1h-1zM71.7 70.6h1.6v1.6h-1.6zM70.4 70.4h1.3v1.3h-1.3zM70.1 69.4h1.2v1.2h-1.2zM69.5 69.5h1.6v1.6h-1.6zM73.5 82h1.6v1.6h-1.6zM73.1 81.3h1.5v1.5h-1.5zM73.4 82.5h1.3v1.3h-1.3zM72.6 81.8h1v1h-1zM74.8 82.8h1.4v1.4h-1.4zM87.9 66.3h1v1h-1zM88.7 65.6h1.7v1.7h-1.7zM88.2 67.8h1v1h-1zM89.2 68.1h1.1v1.1h-1.1zM86.9 66h1.4v1.4h-1.4zM55.8 85.7h1.2v1.2h-1.2zM56.1 84.8h1.5v1.5h-1.5zM55.3 86.4h1.6v1.6h-1.6zM56.8 84.7h1.1v1.1h-1.1zM54.5 83.8h1.7v1.7h-1.7zM63 87.7h1.2v1.2h-1.2zM63.1 88h1.4v1.4h-1.4zM65.1 86.5h1.2v1.2h-1.2zM62.2 86.2h1.7v1.7h-1.7zM63.9 87.2h1.2v1.2h-1.2zM60.2 84.9h1.2v1.2h-1.2zM58.8 86.1h1.5v1.5h-1.5zM58.7 85.2h1.2v1.2h-1.2zM60.6 85.6h1.7v1.7h-1.7zM58.6 86h1.4v1.4h-1.4zM88.2 72.5h1.7v1.7h-1.7zM89.3 71.4h1.1v1.1h-1.1zM89 73h1.3v1.3h-1.3zM89.1 72h1.2v1.2h-1.2zM87.8 71.6h1.7v1.7h-1.7zM87.6 70.8h1.4v1.4h-1.4zM86.3 68.8h1.5v1.5h-1.5zM87.5 69.1h1.1v1.1h-1.1zM85.5 70.6h1.6v1.6h-1.6zM86.8 70.1h1.5v1.5h-1.5zM58.7 77.7h1.1v1.1h-1.1zM59.8 75.4h1.4v1.4h-1.4zM60 75.2h1.3v1.3h-1.3zM57.3 76.5h1.3v1.3h-1.3zM60 76.3h1.6v1.6h-1.6zM77.3 66.7h1.7v1.7h-1.7zM76.3 65.1h1.3v1.3h-1.3zM78.6 65.3h1.3v1.3h-1.3zM76.8 64.7h1.4v1.4h-1.4zM76.5 65.9h1.5v1.5h-1.5zM79.1 68.1h1.5v1.5h-1.5zM77.2 67.3h1.5v1.5h-1.5zM78.9 68h1.4v1.4h-1.4zM79 68.6h1.6v1.6h-1.6zM79.6 69.2h1.4v1.4h-1.4zM58.5 79.6h1.7v1.7h-1.7zM58.1 81.9h1.4v1.4h-1.4zM60.4 81.6h1.1v1.1h-1.1zM58.1 81.8h1.3v1.3h-1.3zM58.9 81.4h1.4v1.4h-1.4zM80.3 77.3h1.1v1.1h-1.1zM81.6 77.5h1.1v1.1h-1.1zM79.4 77.9h1.1v1.1h-1.1zM81.1 76h1.1v1.1h-1.1zM80 75.1h1.6v1.6h-1.6zM57.7 87.8h1.6v1.6h-1.6zM56.9 86.7h1.1v1.1h-1.1zM54.9 86.8h1.7v1.7h-1.7zM57.9 86.3h1.4v1.4h-1.4zM57.5 85.9h1.5v1.5h-1.5zM75.9 72.9h1.1v1.1h-1.1zM75.4 75.2h1.6v1.6h-1.6zM74.8 74.7h1.1v1.1h-1.1zM76.2 75h1.6v1.6h-1.6zM77.3 75.3h1.4v1.4h-1.4zM80 77.7h1.6v1.6h-1.6zM79.2 79.2h1.1v1.1h-1.1zM78.3 78.8h1.5v1.5h-1.5zM79.3 79.2h1.5v1.5h-1.5zM78.2 78.2h1.7v1.7h-1.7zM80.2 78.7h1.5v1.5h-1.5zM80.2 77.2h1.6v1.6h-1.6zM79.2 77.5h1.3v1.3h-1.3zM77.4 78.7h1.7v1.7h-1.7zM78.7 79.2h1.1v1.1h-1.1zM77.7 63.8h1.5v1.5h-1.5zM77.6 65.7h1.5v1.5h-1.5zM76.1 66.4h1.5v1.5h-1.5zM78.7 64.6h1.2v1.2h-1.2zM78.1 66.6h1.4v1.4h-1.4zM61.2 73.9h1.7v1.7h-1.7zM62.5 73h1.6v1.6h-1.6zM63.5 74h1v1h-1zM62.8 73.7h1.1v1.1h-1.1zM63.5 73.9h1.1v1.1h-1.1zM63.4 91.1h1.2v1.2h-1.2zM62.6 90.1h1v1h-1zM63.5 90.8h1.5v1.5h-1.5zM64.9 92.3h1.1v1.1h-1.1zM64 90.1h1.2v1.2h-1.2zM68.9 72.5h1.1v1.1h-1.1zM67.9 71.7h1.6v1.6h-1.6zM66.8 71.7h1v1h-1zM67.3 73.6h1.1v1.1h-1.1zM68.2 73.9h1.2v1.2h-1.2zM77 72.6h1v1h-1zM77.8 73.1h1.1v1.1h-1.1zM77.2 72.5h1.4v1.4h-1.4zM78.8 73.4h1v1h-1zM76.1 72.9h1.6v1.6h-1.6zM84.7 61.9h1.5v1.5h-1.5zM84.5 62.7h1.5v1.5h-1.5zM86 60.4h1.6v1.6h-1.6zM84.2 61.7h1v1h-1zM86.3 61.5h1.4v1.4h-1.4zM66 83.7h1v1h-1zM67.7 83.4h1v1h-1zM68.3 84h1.3v1.3h-1.3zM68.1 84h1.6v1.6h-1.6zM68.8 83.5h1.2v1.2h-1.2zM58.3 89.9h1.1v1.1h-1.1zM59.9 88.7h1.2v1.2h-1.2zM59.5 89.5h1.3v1.3h-1.3zM58.3 89.8h1.3v1.3h-1.3zM58.5 89h1.3v1.3h-1.3zM68 79.1h1.5v1.5h-1.5zM67.4 77.4h1.5v1.5h-1.5zM68 78.1h1.6v1.6h-1.6zM66.9 77.6h1.4v1.4h-1.4zM67.8 79.4h1.1v1.1h-1.1zM71.6 78.5h1.1v1.1h-1.1zM70.9 78.6h1.6v1.6h-1.6zM70.2 80h1.7v1.7h-1.7zM71.7 78.4h1.4v1.4h-1.4zM72.8 79.1h1.5v1.5h-1.5zM67.9 78.4h1v1h-1zM65.6 79.6h1.5v1.5h-1.5zM66.6 79.9h1.3v1.3h-1.3zM65.5 80.7h1.2v1.2h-1.2zM65 78.3h1.2v1.2h-1.2zM79.7 70.2h1.5v1.5h-1.5zM81.1 68.9h1.6v1.6h-1.6zM81 69.5h1.6v1.6h-1.6zM79.9 69.1h1.4v1.4h-1.4zM81.1 70h1.1v1.1h-1.1zM65.6 84.8h1.4v1.4h-1.4zM68.1 86.3h1.2v1.2h-1.2zM65.6 87.2h1.5v1.5h-1.5zM68.1 85.2h1.5v1.5h-1.5zM65.8 84.9h1.3v1.3h-1.3zM65.9 83.3h1.6v1.6h-1.6zM67.3 83.7h1.5v1.5h-1.5zM64.9 83.3h1.6v1.6h-1.6zM66.4 82.9h1.2v1.2h-1.2zM67.3 83.5h1.7v1.7h-1.7zM87.1 70.1h1.3v1.3h-1.3zM84.6 70.6h1.7v1.7h-1.7zM86.5 69.9h1.6v1.6h-1.6zM87.4 72.8h1.3v1.3h-1.3zM85.1 72.2h1.4v1.4h-1.4zM77.3 83.8h1.1v1.1h-1.1zM75.4 83.1h1.3v1.3h-1.3zM76.4 85.5h1.4v1.4h-1.4zM77.7 84.7h1.5v1.5h-1.5zM77.7 85.3h1.5v1.5h-1.5zM71.4 86h1.1v1.1h-1.1zM71.2 85.6h1.1v1.1h-1.1zM71.3 87.1h1.7v1.7h-1.7zM72.4 87.3h1.4v1.4h-1.4zM70.9 87.3h1.4v1.4h-1.4zM72.1 85.6h1v1h-1zM70.2 86.6h1.4v1.4h-1.4zM70 85.7h1.3v1.3h-1.3zM69.2 86.2h1.6v1.6h-1.6zM71.8 87.3h1.1v1.1h-1.1zM54.5 83.2h1.3v1.3h-1.3zM54.4 83.2h1.3v1.3h-1.3zM54.2 82h1.4v1.4h-1.4zM54.4 82.7h1.3v1.3h-1.3zM56.4 81.6h1.6v1.6h-1.6zM67.6 87.6h1.6v1.6h-1.6zM69.3 89.5h1.2v1.2h-1.2zM69 89.3h1.5v1.5h-1.5zM67.8 89.3h1.6v1.6h-1.6zM66.8 87.9h1.7v1.7h-1.7zM54.8 85.6h1.5v1.5h-1.5zM55.4 87.9h1.6v1.6h-1.6zM54.4 85.3h1.1v1.1h-1.1zM54.3 85.9h1.3v1.3h-1.3zM54 87.1h1.6v1.6h-1.6zM67.6 77.1h1.5v1.5h-1.5zM66.6 76h1.2v1.2h-1.2zM68.7 76.9h1.3v1.3h-1.3zM68.7 76.5h1.6v1.6h-1.6zM67.1 76.8h1.1v1.1h-1.1zM86.6 72.2h1.2v1.2h-1.2zM84.4 71.6h1.6v1.6h-1.6zM85 71.5h1.7v1.7h-1.7zM86.1 70.9h1.4v1.4h-1.4zM86.8 72.1h1v1h-1zM75.7 83.7h1.3v1.3h-1.3zM74.5 81.9h1.7v1.7h-1.7zM76.5 82.2h1.1v1.1h-1.1zM73.4 82.7h1.5v1.5h-1.5zM74.5 82.5h1.3v1.3h-1.3zM77.1 77.7h1.3v1.3h-1.3zM77.3 77.2h1.7v1.7h-1.7zM77.5 79h1.5v1.5h-1.5zM78.6 76.6h1.2v1.2h-1.2zM77.2 79.3h1.3v1.3h-1.3zM62.1 77.7h1.1v1.1h-1.1zM60.7 77.9h1.6v1.6h-1.6zM59.2 79.8h1.2v1.2h-1.2zM60.8 79.6h1.4v1.4h-1.4zM60.1 80.5h1.3v1.3h-1.3zM77.4 66.6h1.1v1.1h-1.1zM77.1 67.7h1.3v1.3h-1.3zM78.4 68.3h1.5v1.5h-1.5zM77.7 68.4h1.3v1.3h-1.3zM78.3 66.3h1.7v1.7h-1.7zM85.3 64h1.3v1.3h-1.3zM86.6 62.3h1.3v1.3h-1.3zM87.1 64.4h1.4v1.4h-1.4zM87.2 63.3h1.7v1.7h-1.7zM86 63.7h1.3v1.3h-1.3zM85 72.9h1.5v1.5h-1.5zM85.8 73.7h1v1h-1zM85.4 73.3h1.6v1.6h-1.6zM86.5 71.8h1v1h-1zM86.8 70.9h1.7v1.7h-1.7zM70 83.6h1.2v1.2h-1.2zM72.3 84.2h1.3v1.3h-1.3zM72.3 85.8h1.3v1.3h-1.3zM71.6 84.4h1.4v1.4h-1.4zM71.7 84.2h1v1h-1zM81.7 81h1.4v1.4h-1.4zM80.7 81.5h1.3v1.3h-1.3zM81 83.6h1.1v1.1h-1.1zM79.6 83.6h1.4v1.4h-1.4zM80.2 83.1h1.7v1.7h-1.7zM75.6 73.8h1.5v1.5h-1.5zM73.9 74.8h1.2v1.2h-1.2zM74.4 74.1h1.4v1.4h-1.4zM75.3 72.9h1.2v1.2h-1.2zM75.6 73.7h1.1v1.1h-1.1zM63.9 77.4h1.4v1.4h-1.4zM65 77.2h1.1v1.1h-1.1zM62.3 77.2h1.3v1.3h-1.3zM64.3 77.6h1v1h-1zM63.6 76.8h1.3v1.3h-1.3zM82 69.3h1.1v1.1h-1.1zM81.3 68.3h1.1v1.1h-1.1zM82.1 67.7h1.4v1.4h-1.4zM80.4 69h1.3v1.3h-1.3zM80.6 69.5h1.1v1.1h-1.1zM74.5 77.3h1.5v1.5h-1.5zM75.3 79.7h1.6v1.6h-1.6zM74.2 80.1h1.2v1.2h-1.2zM75.1 78h1.4v1.4h-1.4zM75.9 78h1.2v1.2h-1.2zM76.4 74.8h1.7v1.7h-1.7zM77.6 75h1.2v1.2h-1.2zM75.1 74.9h1v1h-1zM75.3 76.2h1.7v1.7h-1.7zM76.3 74.9h1.6v1.6h-1.6zM57.8 79.8h1.1v1.1h-1.1zM56.7 80.2h1.5v1.5h-1.5zM57.7 79.3h1.5v1.5h-1.5zM57.7 80.9h1.4v1.4h-1.4zM56.6 78.8h1.2v1.2h-1.2zM75.2 77.6h1.6v1.6h-1.6zM72.9 76.7h1.5v1.5h-1.5zM75.2 77.2h1.2v1.2h-1.2zM75.1 79.4h1.6v1.6h-1.6zM74.1 78.3h1.6v1.6h-1.6zM91 67.6h1.4v1.4h-1.4zM89 66h1.5v1.5h-1.5zM90.9 66.3h1v1h-1zM88.8 65.6h1.2v1.2h-1.2zM89.4 66.1h1.3v1.3h-1.3zM63.4 74.9h1.5v1.5h-1.5zM66 74.2h1.4v1.4h-1.4zM65.5 74.3h1.3v1.3h-1.3zM65.3 74.8h1.2v1.2h-1.2zM63.5 75.5h1.4v1.4h-1.4zM61.3 76.8h1.4v1.4h-1.4zM62.6 78.3h1.6v1.6h-1.6zM61.9 76.8h1.6v1.6h-1.6zM60.9 77.3h1.1v1.1h-1.1zM61.9 77.9h1.2v1.2h-1.2zM76.1 77.6h1.5v1.5h-1.5zM74.9 78.3h1.1v1.1h-1.1zM73.8 77.4h1.1v1.1h-1.1zM76.2 79.1h1.1v1.1h-1.1zM75.4 79.3h1.4v1.4h-1.4zM64.9 87.4h1.7v1.7h-1.7zM65.7 88.6h1.4v1.4h-1.4zM66.4 87.6h1.2v1.2h-1.2zM63.5 88.7h1.6v1.6h-1.6zM64.6 89.2h1.3v1.3h-1.3zM74 77.6h1.7v1.7h-1.7zM75.1 78.4h1.2v1.2h-1.2zM73.6 78.9h1.3v1.3h-1.3zM72.9 77.4h1.7v1.7h-1.7zM72.9 79.1h1.2v1.2h-1.2zM70.4 78.4h1.4v1.4h-1.4zM69.3 77.1h1.7v1.7h-1.7zM69.3 79.5h1.2v1.2h-1.2zM69.7 78.9h1.4v1.4h-1.4zM71.5 77.7h1.5v1.5h-1.5zM70 81.9h1v1h-1zM68.3 81.6h1.2v1.2h-1.2zM67.9 82h1.6v1.6h-1.6zM68.8 80.8h1.6v1.6h-1.6zM68.8 81h1.2v1.2h-1.2zM60.5 87.1h1.5v1.5h-1.5zM59.5 86.9h1v1h-1zM59.3 86.7h1.6v1.6h-1.6zM61.3 87.7h1.1v1.1h-1.1zM60.2 86.8h1.3v1.3h-1.3zM89.1 72.3h1.4v1.4h-1.4zM88 71.4h1.7v1.7h-1.7zM87.6 70.3h1.2v1.2h-1.2zM87.8 71.2h1.2v1.2h-1.2zM88.4 70.6h1.5v1.5h-1.5zM72.7 76.3h1.2v1.2h-1.2zM73.1 76.6h1.3v1.3h-1.3zM70.7 77h1.3v1.3h-1.3zM71.3 76.5h1.6v1.6h-1.6zM73.1 77.8h1.1v1.1h-1.1zM79.4 74.2h1.2v1.2h-1.2zM79.6 71.6h1.6v1.6h-1.6zM81.2 71.6h1.2v1.2h-1.2zM79.7 71.9h1.1v1.1h-1.1zM78.7 72.7h1.4v1.4h-1.4zM72.5 71.6h1.4v1.4h-1.4zM73.2 71.6h1.5v1.5h-1.5zM72.3 71.4h1.4v1.4h-1.4zM74.2 73.1h1.1v1.1h-1.1zM72.5 71h1.6v1.6h-1.6zM68.8 83.9h1.6v1.6h-1.6zM66 83h1.5v1.5h-1.5zM66.5 82.4h1.3v1.3h-1.3zM66.3 82.4h1.1v1.1h-1.1zM67.6 84h1.5v1.5h-1.5zM65.4 80.8h1.4v1.4h-1.4zM64.5 78.8h1.1v1.1h-1.1zM64.7 79.1h1.6v1.6h-1.6zM65.3 80.8h1.2v1.2h-1.2zM64.5 80.4h1.7v1.7h-1.7zM76.3 67.4h1.4v1.4h-1.4zM77.5 67.4h1.1v1.1h-1.1zM76.5 68.4h1.7v1.7h-1.7zM76.3 66.9h1.5v1.5h-1.5zM77.9 67.1h1.2v1.2h-1.2zM91.8 63.9h1.5v1.5h-1.5zM91.7 64.5h1.1v1.1h-1.1zM89.8 64.3h1.4v1.4h-1.4zM90 64.2h1v1h-1zM92.3 64.5h1.4v1.4h-1.4zM65.5 83.9h1.6v1.6h-1.6zM68.4 84.9h1v1h-1zM66.7 83.2h1.3v1.3h-1.3zM67.8 84.6h1.1v1.1h-1.1zM67 84.3h1.2v1.2h-1.2zM71.3 76.5h1.1v1.1h-1.1zM71.6 75.7h1.7v1.7h-1.7zM69.2 77.4h1.7v1.7h-1.7zM69.5 76.2h1.3v1.3h-1.3zM70.3 76.2h1.3v1.3h-1.3zM66 81.7h1.6v1.6h-1.6zM65.3 82.9h1.1v1.1h-1.1zM66.2 83.1h1.2v1.2h-1.2zM67.3 80.6h1.7v1.7h-1.7zM67.1 81.2h1.6v1.6h-1.6zM81 74.7h1.2v1.2h-1.2zM80.5 74.4h1.5v1.5h-1.5zM81 73.1h1v1h-1zM79.8 73.4h1.3v1.3h-1.3zM79.5 74.6h1.6v1.6h-1.6zM75.6 80.9h1.2v1.2h-1.2zM74.9 80.2h1v1h-1zM75.6 78.9h1.5v1.5h-1.5zM76.1 79.4h1.2v1.2h-1.2zM75.3 78.6h1.4v1.4h-1.4zM79.4 81.5h1.7v1.7h-1.7zM78.5 80.5h1.4v1.4h-1.4zM78.8 79.6h1.6v1.6h-1.6zM80.6 80.9h1v1h-1zM78.7 81.5h1.3v1.3h-1.3zM76.6 83.5h1.5v1.5h-1.5zM75.5 84.8h1.6v1.6h-1.6zM75 84.9h1.7v1.7h-1.7zM75.6 85.3h1v1h-1zM75.1 85.9h1.3v1.3h-1.3zM69.1 74.9h1.4v1.4h-1.4zM68.6 76.2h1.1v1.1h-1.1zM67.5 74.5h1.1v1.1h-1.1zM69.6 75.2h1.1v1.1h-1.1zM66.9 75.2h1.7v1.7h-1.7zM86.4 74.2h1.1v1.1h-1.1zM86.5 75.3h1.3v1.3h-1.3zM87.1 74.7h1.1v1.1h-1.1zM85.8 73.9h1.5v1.5h-1.5zM85 74.7h1.1v1.1h-1.1zM75.7 77.4h1.6v1.6h-1.6zM74.5 78h1.1v1.1h-1.1zM74.2 77.1h1.6v1.6h-1.6zM74.2 75.8h1.5v1.5h-1.5zM76.4 77.2h1.5v1.5h-1.5zM65.1 79.3h1.2v1.2h-1.2zM65.4 79.3h1.7v1.7h-1.7zM66.2 80.4h1.3v1.3h-1.3zM64.7 80.7h1.6v1.6h-1.6zM64.5 81.3h1.5v1.5h-1.5zM74.5 68h1.4v1.4h-1.4zM74.6 66.4h1.5v1.5h-1.5zM76.4 67.7h1.7v1.7h-1.7zM75.4 67.4h1.5v1.5h-1.5zM75.1 67h1.6v1.6h-1.6zM75.3 76.4h1.4v1.4h-1.4zM75.5 77.4h1.4v1.4h-1.4zM74.6 75.3h1.7v1.7h-1.7zM75.9 77.9h1.1v1.1h-1.1zM76.2 77.6h1.3v1.3h-1.3zM81.2 77.3h1.3v1.3h-1.3zM82.1 77h1v1h-1zM79.4 76.1h1.5v1.5h-1.5zM79.6 76.2h1.5v1.5h-1.5zM81.6 77.7h1.5v1.5h-1.5zM73.1 74.7h1.3v1.3h-1.3zM74.8 72.9h1.2v1.2h-1.2zM74.3 75.2h1.4v1.4h-1.4zM74.8 74.5h1.4v1.4h-1.4zM73 73.9h1v1h-1zM56.4 86.7h1.7v1.7h-1.7zM55 86.9h1.3v1.3h-1.3zM57.2 85.9h1.2v1.2h-1.2zM54.8 87.7h1.2v1.2h-1.2zM56.6 85.8h1.5v1.5h-1.5zM63.7 82.5h1.3v1.3h-1.3zM65.1 80.8h1.2v1.2h-1.2zM64.3 82.2h1.1v1.1h-1.1zM64 82.1h1v1h-1zM63.6 83.2h1.1v1.1h-1.1zM85.3 63.3h1.2v1.2h-1.2zM85.6 63.6h1.2v1.2h-1.2zM84 64.2h1.3v1.3h-1.3zM84 64.6h1v1h-1zM84.9 62.1h1.1v1.1h-1.1zM62.8 80.4h1.3v1.3h-1.3zM61.6 81.7h1.1v1.1h-1.1zM63.4 79.7h1.3v1.3h-1.3zM63.4 79.7h1.4v1.4h-1.4zM61.7 80.7h1.5v1.5h-1.5zM67.3 71.6h1.2v1.2h-1.2zM66.3 72.5h1.3v1.3h-1.3zM64.7 73.4h1.3v1.3h-1.3zM66.7 71.2h1v1h-1zM66.7 72.5h1v1h-1zM72.7 86.4h1.1v1.1h-1.1zM73.6 86h1.7v1.7h-1.7zM71 85.1h1.1v1.1h-1.1zM73.3 86.7h1v1h-1zM70.7 87h1.6v1.6h-1.6zM89.2 65.6h1.6v1.6h-1.6zM87.4 65.5h1.3v1.3h-1.3zM87.3 66.7h1.6v1.6h-1.6zM89.1 65.2h1.3v1.3h-1.3zM89.5 66.1h1.4v1.4h-1.4zM71.8 81.2h1.4v1.4h-1.4zM72.5 79.7h1.2v1.2h-1.2zM73.2 79.2h1.4v1.4h-1.4zM72.9 80.5h1.6v1.6h-1.6zM73.5 80.2h1.5v1.5h-1.5zM85.8 68.4h1.1v1.1h-1.1zM85.5 67.5h1.7v1.7h-1.7zM85.4 68.3h1.4v1.4h-1.4zM85.9 69.2h1v1h-1zM84.7 69.3h1.3v1.3h-1.3zM74.9 69h1.7v1.7h-1.7zM74.5 66.7h1.3v1.3h-1.3zM73.6 69h1.2v1.2h-1.2zM74 66.9h1v1h-1zM74.2 68.6h1.2v1.2h-1.2zM73.2 79.3h1.5v1.5h-1.5zM74.3 80h1v1h-1zM73.8 78.4h1.3v1.3h-1.3zM73.5 79.4h1v1h-1zM73.5 77.9h1.6v1.6h-1.6zM64 82.6h1.1v1.1h-1.1zM64.6 83.2h1v1h-1zM66 84h1.2v1.2h-1.2zM65.7 85.1h1.4v1.4h-1.4zM64.6 85.3h1.4v1.4h-1.4zM58.4 78.3h1.1v1.1h-1.1zM59.4 79h1.2v1.2h-1.2zM57.5 76.8h1.3v1.3h-1.3zM58.4 77.5h1.1v1.1h-1.1zM58.2 78.7h1v1h-1zM71.7 72.9h1.5v1.5h-1.5zM71.7 71.8h1.4v1.4h-1.4zM72.5 72.9h1.3v1.3h-1.3zM72.7 70.9h1.4v1.4h-1.4zM70.8 71.2h1.2v1.2h-1.2zM85.5 77.2h1.6v1.6h-1.6zM84.5 76.3h1.6v1.6h-1.6zM86.2 76.5h1.1v1.1h-1.1zM84.3 75.1h1.6v1.6h-1.6zM85.8 76.1h1.7v1.7h-1.7zM82.5 72.2h1.1v1.1h-1.1zM83.7 69.8h1.2v1.2h-1.2zM84.3 71h1.3v1.3h-1.3zM83.3 72.6h1.4v1.4h-1.4zM84.4 70.2h1.4v1.4h-1.4zM60.4 82.2h1.4v1.4h-1.4zM60.5 83.6h1.6v1.6h-1.6zM61.7 84.5h1.1v1.1h-1.1zM59.9 83.6h1.6v1.6h-1.6zM59.7 83.2h1.2v1.2h-1.2zM79.6 77.9h1.4v1.4h-1.4zM82 75.5h1.5v1.5h-1.5zM79.6 75.9h1.3v1.3h-1.3zM81.1 78.2h1.6v1.6h-1.6zM79.9 76.2h1.7v1.7h-1.7zM67.3 76h1.2v1.2h-1.2zM67.4 75.3h1.3v1.3h-1.3zM66.9 75.4h1.4v1.4h-1.4zM67.2 74.2h1.2v1.2h-1.2zM67.5 74.9h1.4v1.4h-1.4z" fill="#5500b6" /></g><g id="pegs"><path d="M50.8 79.9h1.1v1.1h-1.1zM75.8 61.5h1.2v1.2h-1.2zM52 76.9h1.7v1.7h-1.7zM51.4 76.9h1.7v1.7h-1.7zM78.5 59.9h1.3v1.3h-1.3zM52.6 77.9h1.4v1.4h-1.4zM73.5 61.6h1.6v1.6h-1.6zM66.1 69.1h1.3v1.3h-1.3zM71.9 64.6h1.1v1.1h-1.1zM51.3 78.7h1.4v1.4h-1.4zM79.9 58.6h1.4v1.4h-1.4zM70.5 65.1h1.5v1.5h-1.5zM74.2 62.2h1.2v1.2h-1.2zM66.2 67.8h1.2v1.2h-1.2zM62.8 69.4h1.4v1.4h-1.4zM52.8 78.7h1.2v1.2h-1.2zM74.3 61.3h1.3v1.3h-1.3zM65.7 67.5h1.1v1.1h-1.1z" fill="#5500b6" /></g><g id="hct"><path d="M13.7,20.1 C13.72,18.5 14.17,16.4 14.8,14.8 C15.43,13.2 16.3,11.88 17.5,10.5 C18.7,9.12 20.33,7.65 22,6.5 C23.67,5.35 25.67,4.38 27.5,3.6 C29.33,2.82 31.13,2.3 33,1.8 C34.87,1.3 36.87,0.82 38.7,0.6 C40.53,0.38 42.07,0.45 44,0.5 C45.93,0.55 49.1,0.35 50.3,0.9 C51.5,1.45 51.37,2.52 51.2,3.8 C51.03,5.08 50.1,7.17 49.3,8.6 C48.5,10.03 47.52,10.97 46.4,12.4 C45.28,13.83 44.03,15.75 42.6,17.2 C41.17,18.65 39.57,19.9 37.8,21.1 C36.03,22.3 34.08,23.52 32,24.4 C29.92,25.28 27.55,26.07 25.3,26.4 C23.05,26.73 20.27,26.73 18.5,26.4 C16.73,26.07 15.5,25.45 14.7,24.4 C13.9,23.35 13.68,21.7 13.7,20.1Z" fill="#5500b6" /><path d="M28 17.8h0.9v0.9h-0.9zM41.5 3.7h1.2v1.2h-1.2zM38 3.5h1.1v1.1h-1.1zM29.8 10.5h1.3v1.3h-1.3zM20.7 8.6h1v1h-1zM49.1 5.5h0.9v0.9h-0.9zM35 14h1.3v1.3h-1.3zM44.7 9.3h0.9v0.9h-0.9zM14.2 18.9h1.2v1.2h-1.2zM37.5 5.6h1.2v1.2h-1.2zM40.5 5h1.1v1.1h-1.1zM25.8 8.7h1v1h-1zM24.6 4.5h1.1v1.1h-1.1zM33.7 17.5h0.8v0.8h-0.8zM20.4 23.8h1.1v1.1h-1.1zM39.3 2.5h1v1h-1zM30.2 20.7h1v1h-1zM42.9 14.6h0.9v0.9h-0.9zM25.7 18.4h1.2v1.2h-1.2zM30.9 12.8h1.2v1.2h-1.2zM23.6 9.6h1.1v1.1h-1.1zM37.1 1.1h0.9v0.9h-0.9zM18.3 18.7h1.1v1.1h-1.1zM22.6 19.7h1.3v1.3h-1.3zM27.3 7.4h0.9v0.9h-0.9z" fill="#fff" /></g><g id="pet"><path d="M14.2,18 C14.42,16.87 15.28,16.38 16,15.5 C16.72,14.62 17.58,13.73 18.5,12.7 C19.42,11.67 20.53,10.42 21.5,9.3 C22.47,8.18 23.03,7.03 24.3,6 C25.57,4.97 27.33,3.95 29.1,3.1 C30.87,2.25 32.75,1.3 34.9,0.9 C37.05,0.5 39.6,0.7 42,0.7 C44.4,0.7 47.77,0.5 49.3,0.9 C50.83,1.3 51.2,1.93 51.2,3.1 C51.2,4.27 50.25,6.15 49.3,7.9 C48.35,9.65 46.93,11.68 45.5,13.6 C44.07,15.52 42.63,17.55 40.7,19.4 C38.77,21.25 36.32,23.58 33.9,24.7 C31.48,25.82 28.6,25.93 26.2,26.1 C23.8,26.27 21.42,26.33 19.5,25.7 C17.58,25.07 15.58,23.58 14.7,22.3 C13.82,21.02 13.98,19.13 14.2,18Z" fill="#5500b6" /><path d="M24.9 23h1v1h-1zM40.3 2.7h1.1v1.1h-1.1zM41.7 3.5h0.8v0.8h-0.8zM48 4.4h1.2v1.2h-1.2zM41 14.6h1.1v1.1h-1.1zM42.2 15.2h0.9v0.9h-0.9zM25.9 6.4h1v1h-1zM43.7 11.4h1.2v1.2h-1.2zM38.2 1.5h1v1h-1zM28 5.2h0.8v0.8h-0.8zM31.8 24.3h1.2v1.2h-1.2zM36.5 13.5h1.1v1.1h-1.1zM22 9.7h1.2v1.2h-1.2zM20.9 21.8h1.1v1.1h-1.1zM36 21h1.1v1.1h-1.1zM25.3 24.6h1.3v1.3h-1.3zM30.6 2.3h1v1h-1zM16.6 18.2h1.3v1.3h-1.3zM21.5 20h1.1v1.1h-1.1zM31.6 23.3h1v1h-1zM43.9 0.9h1.3v1.3h-1.3zM38.7 19.7h1v1h-1zM22.2 11.4h1v1h-1zM44.3 6.6h1.1v1.1h-1.1zM41.5 2h1.1v1.1h-1.1z" fill="#fff" /></g><g id="hcto"><path d="M14.6 17.6h1.3v1.3h-1.3zM13.6 17h1.4v1.4h-1.4zM14.9 18.5h1.1v1.1h-1.1zM14 14.3h1.3v1.3h-1.3zM16.7 12.4h1.6v1.6h-1.6zM15.6 13.1h1.6v1.6h-1.6zM15.5 13.9h1.5v1.5h-1.5zM16.7 10h1.5v1.5h-1.5zM19.7 9h1.5v1.5h-1.5zM17.7 10.7h1.6v1.6h-1.6zM19.2 9.9h1v1h-1zM21.8 6.9h0.9v0.9h-0.9zM26.1 3.9h1v1h-1zM22.2 5.3h1.3v1.3h-1.3zM23.6 6.3h1.2v1.2h-1.2zM21.7 5.2h1.5v1.5h-1.5zM27.8 4h1.5v1.5h-1.5zM30.3 2.7h1.1v1.1h-1.1zM32 1.7h1v1h-1zM30.2 2.9h1.7v1.7h-1.7zM49.9 1.4h1.3v1.3h-1.3zM49.1 0.9h1.1v1.1h-1.1zM48.8 4h1.7v1.7h-1.7zM49 5.9h1.7v1.7h-1.7zM48.8 5.8h1.2v1.2h-1.2zM48.9 7.1h1v1h-1zM47.5 9.3h1v1h-1zM47.6 8h1.1v1.1h-1.1zM45.3 10.6h1.6v1.6h-1.6zM43.2 15h1.5v1.5h-1.5zM45.2 11.5h1.6v1.6h-1.6zM42.6 13.6h1.3v1.3h-1.3zM42.6 15.3h1.2v1.2h-1.2zM38.6 18.7h1.2v1.2h-1.2zM37.7 19.1h1.7v1.7h-1.7zM39 18h1.7v1.7h-1.7zM39.1 18.3h1.4v1.4h-1.4zM34.4 22.4h1.1v1.1h-1.1zM35.1 20.7h1.3v1.3h-1.3zM34.5 21.4h1.5v1.5h-1.5zM35.2 21.7h1.1v1.1h-1.1zM32.5 22.9h1.2v1.2h-1.2zM30.3 24.1h1.7v1.7h-1.7zM31.2 23.8h1.1v1.1h-1.1zM29.4 23.3h0.9v0.9h-0.9zM24.8 25.1h1.3v1.3h-1.3zM27.7 23.7h1v1h-1zM21.3 25.6h1.5v1.5h-1.5zM23.1 24.5h1.4v1.4h-1.4zM17.9 24.3h1.4v1.4h-1.4zM24.5 25.3h1.4v1.4h-1.4zM21.1 25.1h1v1h-1zM17.6 24.9h1.5v1.5h-1.5zM18.4 24.8h1.1v1.1h-1.1zM16.9 24.4h1.4v1.4h-1.4zM14.6 22.6h1.6v1.6h-1.6zM14.9 21.9h1.5v1.5h-1.5zM13.9 20h1.4v1.4h-1.4z" fill="#ff8000" /><path d="M13.6 14.3h1.2v1.2h-1.2zM13.8 17.2h0.8v0.8h-0.8zM12.9 17.2h1.3v1.3h-1.3zM14.1 12.2h0.9v0.9h-0.9zM16.3 11.6h1v1h-1zM13.4 12.9h1.3v1.3h-1.3zM18.5 6.7h1.5v1.5h-1.5zM17.9 7.6h1v1h-1zM19.4 6.3h1.1v1.1h-1.1zM24.7 3.3h0.9v0.9h-0.9zM25.7 3.8h1v1h-1zM22.5 4.9h1.5v1.5h-1.5zM29.1 1.3h0.9v0.9h-0.9zM28.4 2.9h1.1v1.1h-1.1zM31.9 0.7h1.3v1.3h-1.3zM49.8 1h1v1h-1zM49.5 8h1.5v1.5h-1.5zM49.4 7.1h0.9v0.9h-0.9zM49.4 6.1h1.1v1.1h-1.1zM47.1 10h1.5v1.5h-1.5zM49.7 9.2h0.8v0.8h-0.8zM46.4 12.1h0.9v0.9h-0.9zM44.2 15.4h1.1v1.1h-1.1zM44.7 14.7h1v1h-1zM45.3 13.9h1.1v1.1h-1.1zM38.2 20.2h1.3v1.3h-1.3zM39.5 18.9h1.1v1.1h-1.1zM39.6 19.1h1.3v1.3h-1.3zM33.8 23.6h1v1h-1zM32.9 24.5h1.1v1.1h-1.1zM32.3 24h1v1h-1zM37.2 21.4h1.3v1.3h-1.3zM27.3 25.7h0.9v0.9h-0.9zM31.6 24.5h1.3v1.3h-1.3zM25.3 26.7h1.2v1.2h-1.2zM24.6 25.4h1.5v1.5h-1.5zM21.2 26.3h1.2v1.2h-1.2zM22.2 26.2h1.4v1.4h-1.4zM20 27.1h1.1v1.1h-1.1zM23.4 26.3h1.3v1.3h-1.3zM16.3 25.8h1.3v1.3h-1.3zM16.6 24.8h1.3v1.3h-1.3zM12.7 23h0.8v0.8h-0.8zM12.6 20.8h1.4v1.4h-1.4z" fill="#fff" /><path d="M34.1 12.5h0.7v0.7h-0.7zM32.2 20.2h0.8v0.8h-0.8zM49.6 3h0.9v0.9h-0.9zM18 25.4h0.9v0.9h-0.9zM33.9 22.3h1.1v1.1h-1.1zM27.5 22.4h0.7v0.7h-0.7zM27.4 17h1v1h-1zM16.7 19.9h0.7v0.7h-0.7zM24.2 6.4h0.7v0.7h-0.7zM45.5 3.7h0.7v0.7h-0.7zM40.4 4.4h0.6v0.6h-0.6zM21.6 24.7h0.9v0.9h-0.9zM36.3 3.7h0.8v0.8h-0.8zM33.3 6.5h1.1v1.1h-1.1z" fill="#fff" fill-opacity="0.7"/></g><g id="peto"><path d="M14.9 18.2h1.1v1.1h-1.1zM16.6 15.8h1.1v1.1h-1.1zM17 13.7h1.2v1.2h-1.2zM18.3 13.5h1.1v1.1h-1.1zM17.4 13.9h1.4v1.4h-1.4zM18.5 11.9h1.3v1.3h-1.3zM21.4 9.6h1.4v1.4h-1.4zM19.8 12.1h1.1v1.1h-1.1zM21.7 7.5h1.4v1.4h-1.4zM23.7 6.5h1.6v1.6h-1.6zM23.6 7h1.1v1.1h-1.1zM28.9 3.7h1.5v1.5h-1.5zM29 3.4h1.6v1.6h-1.6zM27.8 4.1h1.5v1.5h-1.5zM24.9 6.1h1.2v1.2h-1.2zM32.7 2.3h1.3v1.3h-1.3zM30.1 2.4h1.6v1.6h-1.6zM33.7 1.8h1.6v1.6h-1.6zM33.4 1.3h1v1h-1zM50.4 2h1.7v1.7h-1.7zM49.9 1.9h1v1h-1zM49.4 6h1.2v1.2h-1.2zM50.5 3.1h1.1v1.1h-1.1zM49.4 5.5h1.6v1.6h-1.6zM49.1 5.3h1.5v1.5h-1.5zM48.3 7.5h1.3v1.3h-1.3zM44.8 11.8h0.9v0.9h-0.9zM45.2 12.9h1v1h-1zM46.6 10.7h1.2v1.2h-1.2zM47.5 8.2h1.2v1.2h-1.2zM42.6 15.2h1.3v1.3h-1.3zM41.3 16.5h1.3v1.3h-1.3zM43.3 14.6h1v1h-1zM42.3 15.4h1v1h-1zM42.8 14.3h1.3v1.3h-1.3zM41.6 16.4h1.6v1.6h-1.6zM38.3 18.5h1.2v1.2h-1.2zM37.8 19.8h1.7v1.7h-1.7zM34.3 21.1h1.7v1.7h-1.7zM36.4 20.5h0.9v0.9h-0.9zM34.5 23h1.2v1.2h-1.2zM35.1 21.8h1.3v1.3h-1.3zM30.5 23.9h1.6v1.6h-1.6zM33 24.3h1.4v1.4h-1.4zM32.7 24.1h1.1v1.1h-1.1zM32.8 23.5h1.7v1.7h-1.7zM26.5 25.3h1.7v1.7h-1.7zM26.2 24.2h1v1h-1zM23.3 25.2h1.5v1.5h-1.5zM20.6 24.8h1.7v1.7h-1.7zM20.8 24.2h1.2v1.2h-1.2zM19.7 24.3h1.5v1.5h-1.5zM19.6 25.4h0.9v0.9h-0.9zM18.6 23.2h1.2v1.2h-1.2zM17.4 23.2h1.3v1.3h-1.3zM17.4 22.6h1.3v1.3h-1.3zM15 22.4h1.5v1.5h-1.5zM14.6 19.7h1v1h-1zM13.5 17.8h1.5v1.5h-1.5zM13.3 19.3h1.7v1.7h-1.7z" fill="#ff8000" /><path d="M13.4 16.7h1.4v1.4h-1.4zM16.4 13.5h1.3v1.3h-1.3zM15.8 13.7h1v1h-1zM20.4 9.8h1v1h-1zM20.9 9.1h1.1v1.1h-1.1zM21.2 7.9h1.2v1.2h-1.2zM22.7 4.8h1v1h-1zM27.3 2.9h0.9v0.9h-0.9zM24.9 4.5h1.1v1.1h-1.1zM28.1 1.8h0.9v0.9h-0.9zM31.9 1.1h1v1h-1zM33.6 0.7h1.3v1.3h-1.3zM33.9 0.9h1v1h-1zM50.1 2.3h1.1v1.1h-1.1zM51.2 4h1.4v1.4h-1.4zM49.5 6.4h0.9v0.9h-0.9zM49.1 7h1v1h-1zM49.3 8.4h1.1v1.1h-1.1zM47.8 8.2h1.1v1.1h-1.1zM48.3 7.4h1.1v1.1h-1.1zM47 10.7h1.4v1.4h-1.4zM44.7 13.3h0.9v0.9h-0.9zM42.7 17.2h1v1h-1zM42.1 16.4h0.9v0.9h-0.9zM43.6 14.7h1v1h-1zM38.2 20.6h1.4v1.4h-1.4zM35.8 23.8h0.9v0.9h-0.9zM34.8 23.2h1.4v1.4h-1.4zM36.4 22.8h1.2v1.2h-1.2zM40.2 19.2h0.9v0.9h-0.9zM31.5 25.5h1.1v1.1h-1.1zM32.5 25.4h1v1h-1zM32.6 24.7h1v1h-1zM29.2 25.6h1.3v1.3h-1.3zM29 25.5h1v1h-1zM20.9 26h1.4v1.4h-1.4zM21.3 26.6h0.8v0.8h-0.8zM23.4 25.6h1.3v1.3h-1.3zM20 26h1v1h-1zM16 23.1h1.2v1.2h-1.2zM18 25.7h1.5v1.5h-1.5zM17.7 25.3h0.8v0.8h-0.8zM13.5 21.5h0.8v0.8h-0.8zM13.3 19.9h1.4v1.4h-1.4z" fill="#fff" /><path d="M45.4 11.8h0.7v0.7h-0.7zM38.5 8h0.9v0.9h-0.9zM22.4 19.6h0.6v0.6h-0.6zM24.6 24h0.6v0.6h-0.6zM28.2 5h0.8v0.8h-0.8zM42.2 12h0.7v0.7h-0.7zM23.7 8.4h0.8v0.8h-0.8zM17.4 15.1h0.7v0.7h-0.7zM23.5 22.6h0.6v0.6h-0.6zM43 1.5h0.8v0.8h-0.8z" fill="#fff" fill-opacity="0.7"/></g><g id="pello"><path d="M34.2 36.7h1.4v1.4h-1.4zM34.9 36.6h1.5v1.5h-1.5zM35.8 37.9h1.4v1.4h-1.4zM45.8 82.7h1.6v1.6h-1.6zM46.8 83.6h1.7v1.7h-1.7zM45.5 81.3h1.6v1.6h-1.6zM48.4 84.4h1v1h-1zM47.4 85.8h1.2v1.2h-1.2zM45.8 88h1.1v1.1h-1.1zM47.2 87.3h1.4v1.4h-1.4zM42.8 89.1h1.5v1.5h-1.5zM45.5 88.4h1.3v1.3h-1.3zM45.8 88.2h1.4v1.4h-1.4zM40.7 87.6h1v1h-1zM36.6 87.1h1.5v1.5h-1.5zM38.7 88h1.1v1.1h-1.1zM32 83.1h1.4v1.4h-1.4zM32.8 84.8h1.3v1.3h-1.3zM32.1 84h1.3v1.3h-1.3zM32.1 82.8h1.1v1.1h-1.1zM26.5 80.3h1.3v1.3h-1.3zM27.7 79.6h1.4v1.4h-1.4zM30.8 81.6h1.4v1.4h-1.4zM27.6 79.1h1.5v1.5h-1.5zM25.1 77.7h1v1h-1zM26 77.7h1v1h-1zM27 78.7h1.3v1.3h-1.3zM22.5 74.6h1.5v1.5h-1.5zM21.5 74.7h1.2v1.2h-1.2zM21.6 74.2h1.4v1.4h-1.4zM19.7 70.9h1v1h-1zM17.4 68h1v1h-1zM18.4 68.8h1.4v1.4h-1.4zM16.6 65.5h1.4v1.4h-1.4zM14.6 63.8h1.2v1.2h-1.2zM15 62.9h1.7v1.7h-1.7zM15.2 65.2h1.5v1.5h-1.5zM14.3 61.6h1.6v1.6h-1.6zM14.1 58h0.9v0.9h-0.9zM14 59h1v1h-1zM14.5 59.2h1.2v1.2h-1.2zM14.5 52.4h1.4v1.4h-1.4zM14.9 54.6h1.5v1.5h-1.5zM14.3 51.4h1.7v1.7h-1.7zM17.5 49.7h1.3v1.3h-1.3zM16.1 48.8h1.7v1.7h-1.7zM17.9 48.7h1.1v1.1h-1.1zM21.7 46.5h1.2v1.2h-1.2zM20.3 47.9h1v1h-1zM23.1 45.2h1.4v1.4h-1.4zM22.3 46.3h1.3v1.3h-1.3zM25.2 44.3h1v1h-1zM24 44.1h1.2v1.2h-1.2zM27.5 43.6h1.4v1.4h-1.4zM27.9 41.9h1.2v1.2h-1.2zM28.2 42.9h1.3v1.3h-1.3zM31.6 38.6h1.5v1.5h-1.5zM32.2 39.7h1.5v1.5h-1.5zM32.6 37.1h1.7v1.7h-1.7zM32.4 38.7h1.6v1.6h-1.6z" fill="#ff8000" /><path d="M36.1 37.1h0.9v0.9h-0.9zM36.3 38.4h1.3v1.3h-1.3zM45.9 80.2h1.3v1.3h-1.3zM45.1 78.8h0.8v0.8h-0.8zM47.3 83h1.4v1.4h-1.4zM49.3 85.1h1.3v1.3h-1.3zM49.4 86.5h1.4v1.4h-1.4zM49.1 87.1h1.2v1.2h-1.2zM43.3 90.1h1.3v1.3h-1.3zM45 89.4h1.1v1.1h-1.1zM39.7 89.6h1.4v1.4h-1.4zM38.7 88.7h0.8v0.8h-0.8zM37.1 88h0.9v0.9h-0.9zM32.2 85.2h0.8v0.8h-0.8zM34 85.6h0.8v0.8h-0.8zM34.6 86.6h1.4v1.4h-1.4zM30.3 83.5h1.3v1.3h-1.3zM29.7 84.2h1.2v1.2h-1.2zM28.2 81.1h1.2v1.2h-1.2zM25.6 79.2h1.1v1.1h-1.1zM23.2 77.2h1.2v1.2h-1.2zM20.4 75.3h1v1h-1zM20.9 74.5h0.9v0.9h-0.9zM17.8 72.1h1.2v1.2h-1.2zM16.7 69.3h1.5v1.5h-1.5zM18.4 72.2h1.4v1.4h-1.4zM14.9 67.2h1v1h-1zM15.5 67.9h1.4v1.4h-1.4zM14.3 64.4h1.4v1.4h-1.4zM12.8 59.9h1.4v1.4h-1.4zM14.3 60.3h1.4v1.4h-1.4zM13.4 56.3h1.2v1.2h-1.2zM13.2 53.6h1.1v1.1h-1.1zM13.7 53.5h1.3v1.3h-1.3zM16.6 49.4h1v1h-1zM16.2 49.4h1.3v1.3h-1.3zM18.7 47.7h1.1v1.1h-1.1zM21 45.6h0.9v0.9h-0.9zM23.7 44h0.8v0.8h-0.8zM23.6 44.1h1v1h-1zM23 43.4h1.2v1.2h-1.2zM28.2 40.7h1.1v1.1h-1.1zM27.6 40.4h1.4v1.4h-1.4zM30.6 38.4h0.8v0.8h-0.8zM31.9 36.3h1.3v1.3h-1.3zM31.7 37.3h1v1h-1z" fill="#fff" /></g><linearGradient id="gY" gradientUnits="userSpaceOnUse" x1="0" y1="0" x2="0" y2="100"><stop offset="0.54" stop-color="#5500b6"/><stop offset="0.54" stop-color="#d4d800"/></linearGradient><linearGradient id="gOY" gradientUnits="userSpaceOnUse" x1="0" y1="0" x2="0" y2="100"><stop offset="0.555" stop-color="#ff8000"/><stop offset="0.555" stop-color="#d4d800"/></linearGradient><linearGradient id="pY" gradientUnits="userSpaceOnUse" x1="0" y1="0" x2="0" y2="100"><stop offset="0.55" stop-color="#5500b6"/><stop offset="0.55" stop-color="#d4d800"/></linearGradient><linearGradient id="pP" gradientUnits="userSpaceOnUse" x1="0" y1="0" x2="0" y2="100"><stop offset="0.79" stop-color="#5500b6"/><stop offset="0.79" stop-color="#ff80f8"/></linearGradient><linearGradient id="pOYP" gradientUnits="userSpaceOnUse" x1="0" y1="0" x2="0" y2="100"><stop offset="0.555" stop-color="#ff8000"/><stop offset="0.555" stop-color="#d4d800"/><stop offset="0.79" stop-color="#d4d800"/><stop offset="0.79" stop-color="#ff80f8"/></linearGradient></defs>
<g transform="translate(43,14)">
<use href="#hcb"/>
<path d="M13.7,20.1 C13.72,18.5 14.17,16.4 14.8,14.8 C15.43,13.2 16.3,11.88 17.5,10.5 C18.7,9.12 20.33,7.65 22,6.5 C23.67,5.35 25.67,4.38 27.5,3.6 C29.33,2.82 31.13,2.3 33,1.8 C34.87,1.3 36.87,0.82 38.7,0.6 C40.53,0.38 42.07,0.45 44,0.5 C45.93,0.55 49.1,0.35 50.3,0.9 C51.5,1.45 51.37,2.52 51.2,3.8 C51.03,5.08 50.1,7.17 49.3,8.6 C48.5,10.03 47.52,10.97 46.4,12.4 C45.28,13.83 44.03,15.75 42.6,17.2 C41.17,18.65 39.57,19.9 37.8,21.1 C36.03,22.3 34.08,23.52 32,24.4 C29.92,25.28 27.55,26.07 25.3,26.4 C23.05,26.73 20.27,26.73 18.5,26.4 C16.73,26.07 15.5,25.45 14.7,24.4 C13.9,23.35 13.68,21.7 13.7,20.1Z" fill="#ff8000" />
<use href="#hcto"/>
<path d="M35,36 C35.75,35.92 36.83,36.67 37.5,38 C38.17,39.33 38.58,41.67 39,44 C39.42,46.33 39.75,50.08 40,52 C40.25,53.92 41.5,55 40.5,55.5 C39.5,56 36.25,55.17 34,55 C31.75,54.83 29.33,54.53 27,54.5 C24.67,54.47 21.95,54.72 20,54.8 C18.05,54.88 16.05,55.47 15.3,55 C14.55,54.53 15.13,53.08 15.5,52 C15.87,50.92 16.75,49.42 17.5,48.5 C18.25,47.58 18.92,47.25 20,46.5 C21.08,45.75 22.5,44.83 24,44 C25.5,43.17 27.5,42.42 29,41.5 C30.5,40.58 32,39.42 33,38.5 C34,37.58 34.25,36.08 35,36Z" fill="#ff8000" />
<path d="M16.1 62.1h1.2v1.2h-1.2zM16.8 63.1h1v1h-1zM16.6 62h1.4v1.4h-1.4zM15.8 62.8h1.6v1.6h-1.6zM14.8 63.5h1.1v1.1h-1.1zM40.9 56.1h1.5v1.5h-1.5zM39.3 55.8h1.1v1.1h-1.1zM39.5 57.6h1.3v1.3h-1.3zM41.5 57.9h1.1v1.1h-1.1zM39.8 55.5h1.4v1.4h-1.4zM32.3 72.4h1.5v1.5h-1.5zM31.9 72.3h1.6v1.6h-1.6zM33.3 72.9h1.6v1.6h-1.6zM31.5 73.6h1.3v1.3h-1.3zM33.1 72.5h1v1h-1zM34.5 55.7h1.3v1.3h-1.3zM36.6 58.2h1.3v1.3h-1.3zM36.3 56.3h1.1v1.1h-1.1zM36.8 57.6h1.1v1.1h-1.1zM35.1 58h1v1h-1zM21.4 67.4h1.1v1.1h-1.1zM22.1 68.4h1.6v1.6h-1.6zM20 66.7h1.5v1.5h-1.5zM21 68.7h1.2v1.2h-1.2zM21.2 68.3h1.3v1.3h-1.3zM30.1 53.9h1.3v1.3h-1.3zM30.3 55.9h1v1h-1zM31.1 55h1v1h-1zM29.5 55.3h1.1v1.1h-1.1zM29.9 54.7h1.3v1.3h-1.3zM14.5 53.1h1.3v1.3h-1.3zM14 54.6h1.5v1.5h-1.5zM15 54.3h1.3v1.3h-1.3zM16.1 53.2h1v1h-1zM14.1 55.1h1.6v1.6h-1.6zM28.8 59.3h1.2v1.2h-1.2zM27 60.9h1.6v1.6h-1.6zM26.9 60.5h1.5v1.5h-1.5zM29.6 61h1.1v1.1h-1.1zM28.5 59.8h1.3v1.3h-1.3zM23.8 59.6h1.4v1.4h-1.4zM25.7 59.7h1v1h-1zM24.6 59.3h1.6v1.6h-1.6zM24.3 59.3h1.3v1.3h-1.3zM25 60.4h1.3v1.3h-1.3zM15.5 58.7h1.1v1.1h-1.1zM17.4 58.8h1.4v1.4h-1.4zM16.2 58.8h1.3v1.3h-1.3zM16.7 59.1h1.3v1.3h-1.3zM17.6 58.7h1.1v1.1h-1.1zM14.9 56.3h1.4v1.4h-1.4zM15.6 56.8h1.1v1.1h-1.1zM15.9 56.4h1.1v1.1h-1.1zM15.8 55.2h1.4v1.4h-1.4zM15.1 55.5h1.4v1.4h-1.4zM25.8 73.7h1.6v1.6h-1.6zM26.1 72h1.4v1.4h-1.4zM25.4 72.6h1v1h-1zM26.9 74h1.1v1.1h-1.1zM27.1 72.7h1.3v1.3h-1.3zM20.1 68.8h1.5v1.5h-1.5zM20.5 68.4h1.5v1.5h-1.5zM20.5 68.8h1.4v1.4h-1.4zM19.6 69.8h1.4v1.4h-1.4zM20.4 69.2h1.2v1.2h-1.2zM24.5 59.4h1.4v1.4h-1.4zM22.6 59.7h1.2v1.2h-1.2zM22.2 58.9h1.5v1.5h-1.5zM23.2 60h1.1v1.1h-1.1zM24.7 61.3h1.1v1.1h-1.1zM32.6 54.3h1.1v1.1h-1.1zM33.8 55.1h1.5v1.5h-1.5zM31.9 54.3h1.5v1.5h-1.5zM33.2 54.3h1.5v1.5h-1.5zM34 53.5h1.1v1.1h-1.1zM16.3 62.4h1.5v1.5h-1.5zM16.4 62.4h1.1v1.1h-1.1zM16.6 62.4h1.3v1.3h-1.3zM16.2 61.4h1.1v1.1h-1.1zM15.2 63.7h1.3v1.3h-1.3zM22 70.4h1.3v1.3h-1.3zM24.5 69.7h1v1h-1zM22.9 68.7h1.4v1.4h-1.4zM24.1 68.8h1.3v1.3h-1.3zM24.2 69.3h1.2v1.2h-1.2zM37.9 59.4h1.3v1.3h-1.3zM36.6 57.9h1.1v1.1h-1.1zM36.6 58.1h1.2v1.2h-1.2zM37.3 59.1h1.3v1.3h-1.3zM37.5 57.7h1.1v1.1h-1.1zM39.5 61h1.4v1.4h-1.4zM40.3 60.7h1.1v1.1h-1.1zM40.2 60.8h1.4v1.4h-1.4zM39.4 61.6h1.3v1.3h-1.3zM39.9 60.6h1.4v1.4h-1.4zM25 60.7h1.3v1.3h-1.3zM26.3 59.3h1.5v1.5h-1.5zM26.3 59.7h1.2v1.2h-1.2zM26 60.7h1.1v1.1h-1.1zM25 59h1.5v1.5h-1.5zM16.3 57.7h1.5v1.5h-1.5zM14.2 59.2h1.1v1.1h-1.1zM16.2 57.6h1.4v1.4h-1.4zM14.3 60h1v1h-1zM16.2 59.7h1.5v1.5h-1.5zM37.2 72.8h1.2v1.2h-1.2zM37.1 72.5h1.5v1.5h-1.5zM39.5 73.3h1.4v1.4h-1.4zM38.6 73.6h1.1v1.1h-1.1zM38.5 73.8h1.5v1.5h-1.5zM34.3 61.6h1.4v1.4h-1.4zM34 62.3h1.1v1.1h-1.1zM33.1 60.6h1.3v1.3h-1.3zM35 61.9h1.4v1.4h-1.4zM33.5 60.4h1.5v1.5h-1.5zM26.6 72.9h1.4v1.4h-1.4zM25.8 72.9h1.6v1.6h-1.6zM26.2 72.3h1.1v1.1h-1.1zM27.3 72.8h1.4v1.4h-1.4zM27.4 71.9h1v1h-1zM31.1 54.3h1v1h-1zM30.9 54.8h1.4v1.4h-1.4zM32.4 54.4h1.4v1.4h-1.4zM31.1 55.1h1.1v1.1h-1.1zM32 56.2h1.4v1.4h-1.4zM31.5 59h1.6v1.6h-1.6zM32 57.3h1.6v1.6h-1.6zM31.6 58.4h1.4v1.4h-1.4zM32.1 57.9h1v1h-1zM31.7 58.1h1.4v1.4h-1.4zM17.9 53.4h1.3v1.3h-1.3zM16.7 54.4h1.5v1.5h-1.5zM17 55.2h1v1h-1zM17.9 55h1.4v1.4h-1.4zM17.7 54.5h1.2v1.2h-1.2zM27 66.3h1.2v1.2h-1.2zM25.8 66.8h1.2v1.2h-1.2zM27 67h1.2v1.2h-1.2zM26.9 66.6h1.6v1.6h-1.6zM24.9 65h1.4v1.4h-1.4zM15.1 59.9h1.1v1.1h-1.1zM14.4 58.7h1.5v1.5h-1.5zM14.5 59.2h1.2v1.2h-1.2zM13.9 57.7h1.4v1.4h-1.4zM14.6 59.8h1.5v1.5h-1.5zM19.8 60.6h1.3v1.3h-1.3zM19.2 61.2h1.3v1.3h-1.3zM18.5 60.8h1.4v1.4h-1.4zM19.5 59.3h1.3v1.3h-1.3zM18.5 61.1h1.1v1.1h-1.1zM28.5 72.1h1v1h-1zM28.8 73.3h1.3v1.3h-1.3zM29.2 72.3h1.4v1.4h-1.4zM27.9 72.1h1.5v1.5h-1.5zM29.7 71.6h1.4v1.4h-1.4zM37.8 54.2h1.3v1.3h-1.3zM37.3 55.8h1.6v1.6h-1.6zM39.2 55.6h1.1v1.1h-1.1zM38 55.9h1.2v1.2h-1.2zM39.7 56h1.1v1.1h-1.1zM40.9 57.1h1.1v1.1h-1.1zM38.4 55.2h1.5v1.5h-1.5zM40 57.3h1.5v1.5h-1.5zM39.3 55.8h1.3v1.3h-1.3zM40.2 55.2h1.1v1.1h-1.1zM39.7 56.9h1v1h-1zM38 55.5h1.6v1.6h-1.6zM38.2 56.4h1v1h-1zM39.2 54.7h1.1v1.1h-1.1zM39 55.2h1.2v1.2h-1.2zM21.3 53.2h1.3v1.3h-1.3zM23.6 53h1.1v1.1h-1.1zM21 54.5h1.4v1.4h-1.4zM22.3 55.3h1.1v1.1h-1.1zM22.5 54.2h1.2v1.2h-1.2zM26.3 56.9h1.1v1.1h-1.1zM24.3 55.9h1.1v1.1h-1.1zM25.4 54.9h1.6v1.6h-1.6zM26.4 55.4h1.2v1.2h-1.2zM26 55.6h1.4v1.4h-1.4zM32.5 63.2h1.1v1.1h-1.1zM31.1 62.7h1.6v1.6h-1.6zM32.8 62.6h1.1v1.1h-1.1zM32.3 62.8h1.2v1.2h-1.2zM33.1 62.8h1.2v1.2h-1.2zM21.8 59.3h1.4v1.4h-1.4zM20.9 59.2h1.6v1.6h-1.6zM20.7 58.4h1v1h-1zM20.9 58.8h1.1v1.1h-1.1zM20.6 59.2h1.4v1.4h-1.4zM36.9 58.8h1.3v1.3h-1.3zM36.8 59.9h1.6v1.6h-1.6zM38.4 60.8h1.1v1.1h-1.1zM38.3 60h1v1h-1zM39.7 59.1h1.3v1.3h-1.3zM32.5 55.2h1v1h-1zM33.5 55.1h1.3v1.3h-1.3zM34.1 56h1.2v1.2h-1.2zM33.2 55.2h1v1h-1zM33.6 54.4h1.4v1.4h-1.4zM31.9 67.6h1.1v1.1h-1.1zM30.5 67.1h1.4v1.4h-1.4zM30.3 68.4h1.6v1.6h-1.6zM31.5 67.7h1.4v1.4h-1.4zM32.4 66.1h1.1v1.1h-1.1zM20.3 65.3h1.6v1.6h-1.6zM20.6 67.4h1.4v1.4h-1.4zM18.8 65.3h1.4v1.4h-1.4zM18.8 66.2h1.1v1.1h-1.1zM19.4 66h1.1v1.1h-1.1zM21.4 54.9h1.5v1.5h-1.5zM21.1 54.7h1.2v1.2h-1.2zM21.8 52.8h1.3v1.3h-1.3zM20.4 53.6h1.2v1.2h-1.2zM22.2 53.2h1.4v1.4h-1.4zM15.4 59.6h1.5v1.5h-1.5zM16.4 60.1h1.1v1.1h-1.1zM16.2 60.4h1.3v1.3h-1.3zM14.8 60.3h1.3v1.3h-1.3zM15.8 61h1.2v1.2h-1.2zM30.8 66.8h1.1v1.1h-1.1zM29.8 66.5h1v1h-1zM29 65.9h1.4v1.4h-1.4zM30.9 67.9h1.2v1.2h-1.2zM28.5 66.3h1.1v1.1h-1.1zM26.6 67.3h1.2v1.2h-1.2zM25.9 68h1.3v1.3h-1.3zM28 66.8h1.1v1.1h-1.1zM27.4 67.3h1v1h-1zM27.2 66.7h1.4v1.4h-1.4zM30.3 55.6h1.1v1.1h-1.1zM28.5 55.3h1.5v1.5h-1.5zM29 53.7h1.1v1.1h-1.1zM27.6 54.2h1.2v1.2h-1.2zM28 53.5h1.4v1.4h-1.4zM28.8 73.9h1v1h-1zM30.2 75.4h1.1v1.1h-1.1zM31.2 75.3h1.1v1.1h-1.1zM28.8 76.4h1.3v1.3h-1.3zM31.1 76.6h1.1v1.1h-1.1zM19.4 60.9h1.2v1.2h-1.2zM20.1 61.8h1.2v1.2h-1.2zM20.2 60.5h1.5v1.5h-1.5zM20.3 60.1h1.1v1.1h-1.1zM19.1 59.4h1.3v1.3h-1.3zM37.1 60.7h1.3v1.3h-1.3zM39.2 61h1.2v1.2h-1.2zM38.7 62.3h1.5v1.5h-1.5zM39.1 61.8h1.1v1.1h-1.1zM37.8 61.5h1.6v1.6h-1.6zM30.2 54.8h1.2v1.2h-1.2zM28.2 55.4h1.3v1.3h-1.3zM27.9 54.6h1.1v1.1h-1.1zM29.8 53.7h1.5v1.5h-1.5zM30 54.6h1.1v1.1h-1.1zM41.4 76.4h1.3v1.3h-1.3zM40.3 75.8h1.6v1.6h-1.6zM40.2 74.7h1.1v1.1h-1.1zM40.4 76.3h1.3v1.3h-1.3zM40.8 74.9h1.5v1.5h-1.5zM36.7 65.7h1.2v1.2h-1.2zM37.7 64.2h1.5v1.5h-1.5zM36.9 65.3h1.6v1.6h-1.6zM39.3 65.1h1.2v1.2h-1.2zM37.5 65.6h1.3v1.3h-1.3zM39.6 60h1.3v1.3h-1.3zM40.4 60.5h1v1h-1zM41.4 60.1h1.1v1.1h-1.1zM39.9 61h1.4v1.4h-1.4zM39.2 60.7h1.2v1.2h-1.2zM22.6 61.8h1.2v1.2h-1.2zM24.1 61.7h1.2v1.2h-1.2zM22.5 62.5h1.1v1.1h-1.1zM22.7 62.1h1.5v1.5h-1.5zM23.1 62.3h1.4v1.4h-1.4zM29.8 60.8h1.1v1.1h-1.1zM29.3 59.7h1.5v1.5h-1.5zM30.7 62.1h1.2v1.2h-1.2zM31.6 60.8h1.1v1.1h-1.1zM30.8 61.4h1.6v1.6h-1.6zM19.3 58.5h1.1v1.1h-1.1zM20.1 57.2h1.1v1.1h-1.1zM19.1 59h1.4v1.4h-1.4zM18.1 56.3h1.6v1.6h-1.6zM18.9 58.3h1.2v1.2h-1.2zM37.3 65.4h1.3v1.3h-1.3zM39.2 66.6h1.2v1.2h-1.2zM38.2 66.2h1.3v1.3h-1.3zM38.6 66.2h1.2v1.2h-1.2zM36.8 65.4h1.4v1.4h-1.4zM20.1 63.6h1.6v1.6h-1.6zM19.4 64.2h1.1v1.1h-1.1zM18.6 63.4h1.4v1.4h-1.4zM20.4 64.3h1.1v1.1h-1.1zM19 64.7h1.6v1.6h-1.6zM27 58.9h1.6v1.6h-1.6zM28.1 57.8h1.4v1.4h-1.4zM27.6 57.4h1.4v1.4h-1.4zM26.8 57.6h1.1v1.1h-1.1zM27.7 58.7h1v1h-1zM20.2 66.4h1.3v1.3h-1.3zM20.5 64.9h1.1v1.1h-1.1zM21.7 65.6h1.5v1.5h-1.5zM21 65.5h1.1v1.1h-1.1zM22.3 65.6h1.5v1.5h-1.5zM27.4 70.1h1.3v1.3h-1.3zM26 69.3h1.4v1.4h-1.4zM27.1 68.9h1.5v1.5h-1.5zM28.7 69.3h1.6v1.6h-1.6zM28.4 68.5h1.3v1.3h-1.3zM18 54.4h1.5v1.5h-1.5zM17.7 55.1h1.2v1.2h-1.2zM16.2 53.2h1.4v1.4h-1.4zM18.6 53h1.6v1.6h-1.6zM16.4 54h1v1h-1zM15.2 62.4h1.5v1.5h-1.5zM14.7 64.2h1.4v1.4h-1.4zM14.9 62.7h1.2v1.2h-1.2zM16.9 62.4h1.6v1.6h-1.6zM15.6 62.1h1.1v1.1h-1.1zM21.3 63.3h1.2v1.2h-1.2zM21.1 64.1h1.6v1.6h-1.6zM19.7 64.5h1.1v1.1h-1.1zM20.4 64.7h1.3v1.3h-1.3zM21 64.7h1.2v1.2h-1.2zM37.7 78h1.3v1.3h-1.3zM39.2 76.2h1.2v1.2h-1.2zM38.6 77h1.4v1.4h-1.4zM38.2 76.3h1.5v1.5h-1.5zM38.6 78h1.1v1.1h-1.1zM27.5 53.9h1.2v1.2h-1.2zM28.9 54h1.5v1.5h-1.5zM27.2 55.7h1.2v1.2h-1.2zM27.6 53.7h1.1v1.1h-1.1zM29.3 55.8h1v1h-1zM33.1 60.5h1.4v1.4h-1.4zM32.1 61.4h1.5v1.5h-1.5zM32.5 60.9h1.3v1.3h-1.3zM32.6 61.6h1.3v1.3h-1.3zM32.5 59.5h1.1v1.1h-1.1zM18.9 57.7h1.4v1.4h-1.4zM18.6 59.1h1.6v1.6h-1.6zM19.8 57.8h1.5v1.5h-1.5zM20.3 59.8h1.6v1.6h-1.6zM18.7 58.5h1v1h-1zM28.3 63.6h1v1h-1zM26.1 60.7h1.6v1.6h-1.6zM27.4 61.1h1.6v1.6h-1.6zM25.8 60.7h1.6v1.6h-1.6zM26.4 61.3h1.3v1.3h-1.3zM32.6 59.5h1.1v1.1h-1.1zM30.1 58h1.1v1.1h-1.1zM32.5 57.4h1.2v1.2h-1.2zM30.6 58.7h1v1h-1zM31.1 59.6h1.2v1.2h-1.2zM40.3 67.3h1.4v1.4h-1.4zM41.8 69h1v1h-1zM41 68.5h1.6v1.6h-1.6zM42.3 67.7h1.4v1.4h-1.4zM40.8 67.3h1.4v1.4h-1.4zM32.2 61.4h1.5v1.5h-1.5zM31.9 63.8h1v1h-1zM30.8 63.1h1.4v1.4h-1.4zM30.8 63.3h1.6v1.6h-1.6zM31.7 62.9h1.3v1.3h-1.3zM34.4 74.4h1.2v1.2h-1.2zM34.8 75.4h1.5v1.5h-1.5zM32.5 73.1h1.4v1.4h-1.4zM34.9 73.6h1.3v1.3h-1.3zM32.5 74.2h1.2v1.2h-1.2zM36.4 64.7h1.3v1.3h-1.3zM35.6 64.5h1.5v1.5h-1.5zM36 63.1h1.6v1.6h-1.6zM36.3 64.1h1.3v1.3h-1.3zM37.4 63.4h1.3v1.3h-1.3zM28.6 59.2h1.2v1.2h-1.2zM30 58.5h1.4v1.4h-1.4zM30.4 58h1.2v1.2h-1.2zM30.7 59.3h1.1v1.1h-1.1zM28.6 58.7h1.5v1.5h-1.5zM32.5 69h1.1v1.1h-1.1zM32.9 69.2h1.2v1.2h-1.2zM32.9 69.5h1.5v1.5h-1.5zM32.6 69.7h1.1v1.1h-1.1zM32 69.9h1.3v1.3h-1.3zM33.2 64.1h1v1h-1zM31.3 62.4h1v1h-1zM31.7 61.7h1.3v1.3h-1.3zM31.8 61.5h1.3v1.3h-1.3zM30.4 61.2h1.6v1.6h-1.6zM31.1 54.2h1.4v1.4h-1.4zM29.5 54.3h1.6v1.6h-1.6zM29.7 54.4h1.1v1.1h-1.1zM31.1 55.1h1.6v1.6h-1.6zM29.2 54h1.3v1.3h-1.3zM35 81.9h1.1v1.1h-1.1zM35.4 81h1.5v1.5h-1.5zM35 81.3h1.1v1.1h-1.1zM37 82h1.4v1.4h-1.4zM35.9 83.5h1.2v1.2h-1.2zM42.8 70.2h1.2v1.2h-1.2zM42.1 69.1h1.6v1.6h-1.6zM41 67.5h1.5v1.5h-1.5zM40.7 68.7h1.3v1.3h-1.3zM40.4 69.2h1.4v1.4h-1.4zM37.4 56.6h1.1v1.1h-1.1zM39.1 55.6h1.1v1.1h-1.1zM37.5 55.5h1.3v1.3h-1.3zM38.1 56.3h1.5v1.5h-1.5zM39 55.2h1.4v1.4h-1.4zM34.1 68.2h1.2v1.2h-1.2zM33.5 67.9h1.5v1.5h-1.5zM34.3 66.2h1v1h-1zM34 68.1h1.3v1.3h-1.3zM35.2 67h1.6v1.6h-1.6zM22.7 58.1h1.5v1.5h-1.5zM23.4 58.8h1.6v1.6h-1.6zM24.5 57.7h1.4v1.4h-1.4zM24 57.6h1.1v1.1h-1.1zM23.6 59.3h1.2v1.2h-1.2zM28.9 60.7h1.6v1.6h-1.6zM31.5 59.4h1.4v1.4h-1.4zM29.6 59h1.2v1.2h-1.2zM31 58.8h1.3v1.3h-1.3zM30 59.6h1.6v1.6h-1.6zM35.8 62.3h1.4v1.4h-1.4zM35.1 61.5h1.2v1.2h-1.2zM35.4 60.7h1.2v1.2h-1.2zM34.8 61.3h1.6v1.6h-1.6zM35.4 62.8h1.2v1.2h-1.2zM22.5 62.1h1.5v1.5h-1.5zM24.2 61.1h1.3v1.3h-1.3zM23.9 61.9h1.3v1.3h-1.3zM23.1 59.3h1.6v1.6h-1.6zM24.5 61.7h1.2v1.2h-1.2zM33.1 57.7h1.4v1.4h-1.4zM35 57.2h1.1v1.1h-1.1zM33 57.7h1v1h-1zM34.6 56.8h1.5v1.5h-1.5zM33 56.4h1.5v1.5h-1.5zM37.5 63.8h1.6v1.6h-1.6zM38 63.4h1.5v1.5h-1.5zM37.4 62.7h1.5v1.5h-1.5zM38 64h1.1v1.1h-1.1zM37.1 62.8h1.1v1.1h-1.1zM41.9 70.3h1.5v1.5h-1.5zM41.6 71.3h1.5v1.5h-1.5zM42.4 70.3h1.2v1.2h-1.2zM40.8 69.6h1.4v1.4h-1.4zM41 70.2h1.5v1.5h-1.5zM19 64.4h1.1v1.1h-1.1zM17.5 63.7h1.3v1.3h-1.3zM16.8 64.8h1.4v1.4h-1.4zM19.3 62.7h1.1v1.1h-1.1zM18.4 63h1.3v1.3h-1.3zM30.6 75.1h1.6v1.6h-1.6zM31.3 76.7h1.2v1.2h-1.2zM31.3 76.5h1.5v1.5h-1.5zM30.8 74.5h1.1v1.1h-1.1zM32.5 75h1.3v1.3h-1.3zM37 77.3h1.2v1.2h-1.2zM36.4 77.3h1.4v1.4h-1.4zM36.5 77.9h1.2v1.2h-1.2zM38.4 76.5h1.4v1.4h-1.4zM36.1 78.4h1v1h-1zM31.7 65.1h1.1v1.1h-1.1zM29.6 65.1h1.4v1.4h-1.4zM30.4 63.8h1.6v1.6h-1.6zM30.9 65h1v1h-1zM31.6 63.8h1v1h-1zM40.9 78.1h1.4v1.4h-1.4zM42.1 77.2h1.5v1.5h-1.5zM40.8 78h1.3v1.3h-1.3zM42 77.5h1.2v1.2h-1.2zM42.8 79.1h1.5v1.5h-1.5zM40.9 65.5h1v1h-1zM41.6 65.4h1.5v1.5h-1.5zM41.9 64.4h1v1h-1zM40 64.9h1v1h-1zM41.1 63.4h1.2v1.2h-1.2zM35.1 65h1.3v1.3h-1.3zM34.7 63.5h1.3v1.3h-1.3zM34.2 63h1.2v1.2h-1.2zM34.7 64.1h1.4v1.4h-1.4zM34.5 63h1.6v1.6h-1.6zM30.9 55.6h1.6v1.6h-1.6zM30.3 54.3h1.3v1.3h-1.3zM30.2 53.9h1.6v1.6h-1.6zM30.5 56h1.4v1.4h-1.4zM31 54h1.6v1.6h-1.6zM29.4 55.9h1.5v1.5h-1.5zM28.4 56h1.4v1.4h-1.4zM29.4 55.7h1.3v1.3h-1.3zM27.6 54h1.3v1.3h-1.3zM29.8 56.2h1.3v1.3h-1.3zM33.4 68.7h1.3v1.3h-1.3zM35.7 70.9h1v1h-1zM34.3 69.3h1.4v1.4h-1.4zM33.5 70.3h1.5v1.5h-1.5zM32.9 70.1h1.5v1.5h-1.5zM23.8 55.6h1v1h-1zM22 54.9h1v1h-1zM22 56.5h1.3v1.3h-1.3zM23 55.5h1.2v1.2h-1.2zM23.3 55.6h1.4v1.4h-1.4zM17.2 53.7h1.1v1.1h-1.1zM15 54.3h1.3v1.3h-1.3zM16.9 55h1.4v1.4h-1.4zM15.6 53.9h1.3v1.3h-1.3zM16.4 54.9h1.2v1.2h-1.2zM19 57h1v1h-1zM16.8 57.3h1.2v1.2h-1.2zM17.4 57.9h1v1h-1zM17.4 58.2h1.1v1.1h-1.1zM17.8 57.4h1.1v1.1h-1.1zM20.5 57.3h1.3v1.3h-1.3zM22.3 56.9h1.3v1.3h-1.3zM21.2 57.5h1.1v1.1h-1.1zM20.3 56.2h1.6v1.6h-1.6zM22.8 55.9h1.1v1.1h-1.1zM29.7 55.3h1v1h-1zM28.5 56.5h1.1v1.1h-1.1zM28 56.1h1.2v1.2h-1.2zM28.4 56.8h1.2v1.2h-1.2zM29.6 55.2h1.3v1.3h-1.3zM35.7 64.3h1.2v1.2h-1.2zM33.6 63.7h1.6v1.6h-1.6zM35.4 61.5h1.5v1.5h-1.5zM36.3 63.7h1.3v1.3h-1.3zM34.4 62.2h1v1h-1zM29.8 55.8h1.1v1.1h-1.1zM30.7 53.4h1.3v1.3h-1.3zM29.2 55.4h1v1h-1zM28.6 54.4h1.4v1.4h-1.4zM28.4 55.3h1.5v1.5h-1.5zM19.9 63.8h1.5v1.5h-1.5zM20.3 64h1.1v1.1h-1.1zM18.7 61.9h1.4v1.4h-1.4zM20.1 61.6h1.2v1.2h-1.2zM19.5 62.2h1.1v1.1h-1.1zM36.3 61.1h1v1h-1zM37.4 62.2h1.4v1.4h-1.4zM36.7 61.1h1.2v1.2h-1.2zM36 61h1.6v1.6h-1.6zM35.7 60.6h1.5v1.5h-1.5zM18 61.5h1v1h-1zM17.9 59.4h1.1v1.1h-1.1zM18 59.5h1.1v1.1h-1.1zM18.7 61.3h1.6v1.6h-1.6zM16.8 59.8h1.5v1.5h-1.5zM32.3 75.9h1.3v1.3h-1.3zM34 75.4h1.3v1.3h-1.3zM31.6 77.8h1.1v1.1h-1.1zM32.8 75.9h1.1v1.1h-1.1zM33.8 76.7h1.2v1.2h-1.2zM30.8 64.1h1.5v1.5h-1.5zM32.5 66h1.3v1.3h-1.3zM32.4 64.7h1.2v1.2h-1.2zM31.8 63.8h1.3v1.3h-1.3zM30.6 63.5h1.5v1.5h-1.5zM31.6 55.5h1.1v1.1h-1.1zM33 56.5h1v1h-1zM32.7 58.1h1.3v1.3h-1.3zM30.6 56.2h1.1v1.1h-1.1zM32.7 56.3h1.5v1.5h-1.5zM28.5 61.1h1.3v1.3h-1.3zM30.4 61.8h1v1h-1zM29.2 62.8h1.1v1.1h-1.1zM29.3 62.4h1.3v1.3h-1.3zM28.1 62h1.1v1.1h-1.1zM22.8 55.5h1v1h-1zM22.7 53.5h1v1h-1zM21.9 54.1h1.3v1.3h-1.3zM22.7 54.7h1.4v1.4h-1.4zM24.1 54.6h1.6v1.6h-1.6zM24.7 60.6h1.5v1.5h-1.5zM25.8 61.6h1.4v1.4h-1.4zM25.2 60.6h1.1v1.1h-1.1zM24.5 61.1h1.5v1.5h-1.5zM24.4 61.2h1.3v1.3h-1.3zM25.8 60.5h1.5v1.5h-1.5zM26.4 59.7h1.4v1.4h-1.4zM28.3 61.1h1.1v1.1h-1.1zM26.5 58.9h1.2v1.2h-1.2zM25.6 59.8h1.4v1.4h-1.4zM18.2 69.4h1.5v1.5h-1.5zM20 68.2h1.6v1.6h-1.6zM18.4 69.4h1.2v1.2h-1.2zM19.9 68.3h1.3v1.3h-1.3zM18.7 67.8h1.1v1.1h-1.1zM36 59.7h1.6v1.6h-1.6zM34.8 59.3h1.1v1.1h-1.1zM35.2 59.2h1.4v1.4h-1.4zM35.3 61.4h1.2v1.2h-1.2zM34.8 61.2h1.2v1.2h-1.2zM24.5 56.6h1v1h-1zM26.1 58.1h1.4v1.4h-1.4zM26 58.6h1.4v1.4h-1.4zM24.2 57.4h1.4v1.4h-1.4zM25.8 56.7h1v1h-1zM32.9 69.4h1.4v1.4h-1.4zM31.6 68.5h1.3v1.3h-1.3zM31.8 68.3h1.4v1.4h-1.4zM31 69.7h1.3v1.3h-1.3zM31.6 68h1.3v1.3h-1.3zM28.9 56h1.5v1.5h-1.5zM27.3 57.7h1.4v1.4h-1.4zM28.1 57h1.3v1.3h-1.3zM26.8 58.5h1.2v1.2h-1.2zM27.2 57h1.5v1.5h-1.5zM24 61h1.2v1.2h-1.2zM24.9 62h1.3v1.3h-1.3zM24.5 61.6h1.2v1.2h-1.2zM26.2 61.1h1.5v1.5h-1.5zM24.1 61.9h1.5v1.5h-1.5zM25.3 66.9h1.1v1.1h-1.1zM25 66.3h1.5v1.5h-1.5zM24.4 67.6h1.1v1.1h-1.1zM24.8 67.5h1.4v1.4h-1.4zM26.6 68.3h1.3v1.3h-1.3zM30 67h1.3v1.3h-1.3zM31.5 67.2h1.4v1.4h-1.4zM29.3 67.8h1.1v1.1h-1.1zM29.5 67.4h1.3v1.3h-1.3zM31 68.5h1.4v1.4h-1.4zM20.9 60.7h1v1h-1zM20.1 58.3h1.3v1.3h-1.3zM21.6 60h1.5v1.5h-1.5zM21.1 59h1.5v1.5h-1.5zM21 58.7h1.4v1.4h-1.4zM31.9 66.9h1.1v1.1h-1.1zM32 67.7h1.5v1.5h-1.5zM31.9 66.7h1.4v1.4h-1.4zM32.7 67.8h1.3v1.3h-1.3zM30.9 69.1h1.6v1.6h-1.6zM26.4 57.3h1.4v1.4h-1.4zM25.2 57.6h1.5v1.5h-1.5zM25.1 55.3h1.3v1.3h-1.3zM25.9 56.5h1.2v1.2h-1.2zM25.7 56.5h1.1v1.1h-1.1zM26.8 70.7h1.1v1.1h-1.1zM27 71.3h1.4v1.4h-1.4zM25.4 71.5h1.5v1.5h-1.5zM25.6 70h1.4v1.4h-1.4zM25.3 70h1.5v1.5h-1.5zM29 57.4h1.5v1.5h-1.5zM29.3 58.3h1.4v1.4h-1.4zM27.4 55.8h1.3v1.3h-1.3zM28.2 57.1h1.1v1.1h-1.1zM28.7 58.5h1.1v1.1h-1.1zM21.5 62.7h1.2v1.2h-1.2zM22.7 61.6h1v1h-1zM22.4 61.2h1.3v1.3h-1.3zM21.6 62.3h1v1h-1zM23.4 61.4h1.6v1.6h-1.6zM40.9 73.5h1.2v1.2h-1.2zM39.8 71.1h1.3v1.3h-1.3zM40.2 70.7h1.3v1.3h-1.3zM39.8 72.8h1.6v1.6h-1.6zM41.6 72.7h1.3v1.3h-1.3zM24.8 55.1h1.4v1.4h-1.4zM26.5 56.1h1.4v1.4h-1.4zM26.9 55.7h1.2v1.2h-1.2zM26 55.3h1.4v1.4h-1.4zM25.4 56.1h1.1v1.1h-1.1zM40.6 65.1h1.3v1.3h-1.3zM41.3 64.3h1.3v1.3h-1.3zM38.8 65.2h1.5v1.5h-1.5zM40.6 64.5h1.5v1.5h-1.5zM39.7 64.5h1.2v1.2h-1.2zM22.3 66.7h1.6v1.6h-1.6zM20.3 67.1h1.1v1.1h-1.1zM20.5 67.7h1.5v1.5h-1.5zM21.4 68.4h1.3v1.3h-1.3zM21.5 67.4h1.3v1.3h-1.3zM30.8 54.7h1.6v1.6h-1.6zM29.8 55.1h1.2v1.2h-1.2zM29.7 54.5h1.6v1.6h-1.6zM30.4 55.1h1.3v1.3h-1.3zM29.6 53.2h1.2v1.2h-1.2zM17.6 62.2h1.3v1.3h-1.3zM18.3 63.8h1.4v1.4h-1.4zM16.6 64.6h1.3v1.3h-1.3zM18.3 62.3h1.3v1.3h-1.3zM16.8 62.3h1.1v1.1h-1.1zM32 70.5h1v1h-1zM32.1 70.7h1.4v1.4h-1.4zM32.1 69.2h1.6v1.6h-1.6zM33.9 70.1h1.3v1.3h-1.3zM31.9 69.3h1.4v1.4h-1.4zM22.6 60.7h1.1v1.1h-1.1zM21.8 60.8h1.4v1.4h-1.4zM23 59.5h1.4v1.4h-1.4zM23.7 61.5h1.4v1.4h-1.4zM22.4 61.5h1.3v1.3h-1.3zM40.6 61.7h1v1h-1zM38.9 62.8h1.4v1.4h-1.4zM39.6 61.5h1.2v1.2h-1.2zM39.6 62.7h1.6v1.6h-1.6zM40.5 62h1.4v1.4h-1.4zM27.4 55.8h1.4v1.4h-1.4zM27.3 56.9h1.3v1.3h-1.3zM25.9 55.3h1.2v1.2h-1.2zM26.8 56.1h1.5v1.5h-1.5zM26.5 56.5h1.2v1.2h-1.2zM17.4 59.9h1.4v1.4h-1.4zM18.2 61h1.2v1.2h-1.2zM15.7 59h1.6v1.6h-1.6zM16.6 61.5h1.2v1.2h-1.2zM17.8 61.4h1.6v1.6h-1.6zM37.7 72.2h1.4v1.4h-1.4zM36.1 74.3h1.5v1.5h-1.5zM37.3 72.3h1.2v1.2h-1.2zM36.8 73.4h1.3v1.3h-1.3zM36.1 71.7h1.5v1.5h-1.5zM36.2 54.1h1.4v1.4h-1.4zM36.5 55.7h1.3v1.3h-1.3zM37.1 54.2h1v1h-1zM36.7 56.2h1.3v1.3h-1.3zM35.9 54.1h1v1h-1zM38 65.3h1.5v1.5h-1.5zM36.2 66.5h1.6v1.6h-1.6zM36.3 65h1.1v1.1h-1.1zM36.4 66.6h1.2v1.2h-1.2zM36.5 65.5h1.3v1.3h-1.3zM37.1 57.4h1.5v1.5h-1.5zM37.5 56.5h1.4v1.4h-1.4zM36 56.7h1.2v1.2h-1.2zM36.9 57.4h1.4v1.4h-1.4zM36.4 57h1.5v1.5h-1.5zM27.7 61.7h1.2v1.2h-1.2zM27.3 63.1h1.2v1.2h-1.2zM28.8 63.4h1.4v1.4h-1.4zM28.7 62h1.4v1.4h-1.4zM29.5 62.1h1.4v1.4h-1.4zM34.4 80.3h1v1h-1zM34.3 78.5h1.6v1.6h-1.6zM34.8 78.3h1.1v1.1h-1.1zM32.6 80.2h1.3v1.3h-1.3zM32.4 79.4h1.3v1.3h-1.3zM21.2 66.3h1.5v1.5h-1.5zM21.7 67.5h1.4v1.4h-1.4zM23.6 66.4h1.3v1.3h-1.3zM21.4 66.1h1.5v1.5h-1.5zM22.6 67.2h1.4v1.4h-1.4zM14.7 55.3h1.5v1.5h-1.5zM14.7 55.8h1.1v1.1h-1.1zM16.1 53.9h1.2v1.2h-1.2zM14.8 56.2h1v1h-1zM15.1 55.6h1.2v1.2h-1.2z" fill="#ff8000" />
<path d="M11,28.8 C12.5,28.72 17.17,28.55 20,28.3 C22.83,28.05 25.5,27.88 28,27.3 C30.5,26.72 32.83,25.98 35,24.8 C37.17,23.62 39.17,21.92 41,20.2 C42.83,18.48 44.5,16.28 46,14.5 C47.5,12.72 48.83,11 50,9.5 C51.17,8 52.5,6.17 53,5.5" fill="none" stroke="#fff" stroke-width="1.2" stroke-linecap="round"/>
<path d="M16.5,47.8 C17.42,47.33 20.08,45.97 22,45 C23.92,44.03 26.08,43.07 28,42 C29.92,40.93 32.58,39.17 33.5,38.6" fill="none" stroke="#fff" stroke-width="1.4" stroke-linecap="round"/>
</g>
<g transform="translate(43,120.7)">
<use href="#peb"/>
<path d="M14.2,18 C14.42,16.87 15.28,16.38 16,15.5 C16.72,14.62 17.58,13.73 18.5,12.7 C19.42,11.67 20.53,10.42 21.5,9.3 C22.47,8.18 23.03,7.03 24.3,6 C25.57,4.97 27.33,3.95 29.1,3.1 C30.87,2.25 32.75,1.3 34.9,0.9 C37.05,0.5 39.6,0.7 42,0.7 C44.4,0.7 47.77,0.5 49.3,0.9 C50.83,1.3 51.2,1.93 51.2,3.1 C51.2,4.27 50.25,6.15 49.3,7.9 C48.35,9.65 46.93,11.68 45.5,13.6 C44.07,15.52 42.63,17.55 40.7,19.4 C38.77,21.25 36.32,23.58 33.9,24.7 C31.48,25.82 28.6,25.93 26.2,26.1 C23.8,26.27 21.42,26.33 19.5,25.7 C17.58,25.07 15.58,23.58 14.7,22.3 C13.82,21.02 13.98,19.13 14.2,18Z" fill="#ff8000" />
<use href="#peto"/>
<path d="M35,36.3 C36.08,36.22 36.75,38.38 37.5,40 C38.25,41.62 39,43.83 39.5,46 C40,48.17 40.25,50.67 40.5,53 C40.75,55.33 40.92,57.5 41,60 C41.08,62.5 40.83,65.5 41,68 C41.17,70.5 41.42,73 42,75 C42.58,77 43.42,78.5 44.5,80 C45.58,81.5 47.62,82.75 48.5,84 C49.38,85.25 50.05,86.55 49.8,87.5 C49.55,88.45 48.3,89.35 47,89.7 C45.7,90.05 43.67,89.95 42,89.6 C40.33,89.25 38.67,88.45 37,87.6 C35.33,86.75 33.67,85.68 32,84.5 C30.33,83.32 28.5,81.7 27,80.5 C25.5,79.3 24.17,78.47 23,77.3 C21.83,76.13 21,74.88 20,73.5 C19,72.12 17.83,70.75 17,69 C16.17,67.25 15.42,65.17 15,63 C14.58,60.83 14.47,57.92 14.5,56 C14.53,54.08 14.62,52.7 15.2,51.5 C15.78,50.3 16.87,49.63 18,48.8 C19.13,47.97 20.5,47.38 22,46.5 C23.5,45.62 25.5,44.5 27,43.5 C28.5,42.5 29.67,41.7 31,40.5 C32.33,39.3 33.92,36.38 35,36.3Z" fill="#ff8000" />
<use href="#pello"/>
<path d="M50.5,79 C50.92,78.17 52.75,77.42 54,76.5 C55.25,75.58 56.67,74.5 58,73.5 C59.33,72.5 60.67,71.42 62,70.5 C63.33,69.58 64.67,68.92 66,68 C67.33,67.08 68.67,65.92 70,65 C71.33,64.08 72.67,63.33 74,62.5 C75.33,61.67 76.75,60.78 78,60 C79.25,59.22 81.08,57.72 81.5,57.8 C81.92,57.88 81.25,59.55 80.5,60.5 C79.75,61.45 78.25,62.5 77,63.5 C75.75,64.5 74.33,65.5 73,66.5 C71.67,67.5 70.33,68.58 69,69.5 C67.67,70.42 66.33,71.17 65,72 C63.67,72.83 62.33,73.58 61,74.5 C59.67,75.42 58.17,76.58 57,77.5 C55.83,78.42 54.92,79.33 54,80 C53.08,80.67 52.08,81.67 51.5,81.5 C50.92,81.33 50.08,79.83 50.5,79Z" fill="#fff" />
<path d="M67.3 76.2h1.8v1.8h-1.8zM65.1 81h1.8v1.8h-1.8zM59.9 82.6h1.8v1.8h-1.8zM56.7 84.7h1.8v1.8h-1.8zM64.6 85.2h1.8v1.8h-1.8zM69.4 85.7h1.8v1.8h-1.8zM54.6 86.3h1.8v1.8h-1.8zM61.1 79.1h1.8v1.8h-1.8z" fill="#ff8000" />
<use href="#pegs"/>
<path d="M12,27.6 C13.33,27.72 17.33,28.23 20,28.3 C22.67,28.37 25.5,28.47 28,28 C30.5,27.53 32.83,26.67 35,25.5 C37.17,24.33 39.17,22.75 41,21 C42.83,19.25 44.5,16.92 46,15 C47.5,13.08 48.83,11.08 50,9.5 C51.17,7.92 52.5,6.17 53,5.5" fill="none" stroke="#fff" stroke-width="1.2" stroke-linecap="round"/>
</g>
<g transform="translate(150,14)">
<use href="#hcb"/>
<use href="#hct"/>
<path d="M35,35.5 C36,35.25 38,35.58 39,37 C40,38.42 40.5,41.5 41,44 C41.5,46.5 41.75,50.08 42,52 C42.25,53.92 43.83,55 42.5,55.5 C41.17,56 36.58,55.17 34,55 C31.42,54.83 29.33,54.53 27,54.5 C24.67,54.47 21.95,54.72 20,54.8 C18.05,54.88 16.05,55.47 15.3,55 C14.55,54.53 15.13,53.08 15.5,52 C15.87,50.92 16.75,49.42 17.5,48.5 C18.25,47.58 18.92,47.25 20,46.5 C21.08,45.75 22.5,44.83 24,44 C25.5,43.17 27.5,42.42 29,41.5 C30.5,40.58 32,39.5 33,38.5 C34,37.5 34,35.75 35,35.5Z" fill="#5500b6" />
<path d="M26.7 61.5h1.4v1.4h-1.4zM25.7 60.9h1.4v1.4h-1.4zM25.8 62h1.4v1.4h-1.4zM26.6 61.2h1.1v1.1h-1.1zM24.7 62h1.1v1.1h-1.1zM34.1 73.3h1.5v1.5h-1.5zM34.3 73.9h1.4v1.4h-1.4zM34 73.7h1.4v1.4h-1.4zM32.3 75.9h1.4v1.4h-1.4zM34.8 73.6h1.2v1.2h-1.2zM33.6 75.4h1.2v1.2h-1.2zM31.5 74.8h1.2v1.2h-1.2zM32.9 74.3h1.2v1.2h-1.2zM31.1 73.3h1.3v1.3h-1.3zM33 74.1h1.4v1.4h-1.4zM32.1 63.1h1.5v1.5h-1.5zM34.6 65.3h1.1v1.1h-1.1zM33.8 63.3h1.5v1.5h-1.5zM33.9 65.1h1.4v1.4h-1.4zM33.1 65.3h1.6v1.6h-1.6zM35.6 67h1.1v1.1h-1.1zM34.6 66.8h1.5v1.5h-1.5zM33.7 68.7h1.2v1.2h-1.2zM35.2 68.1h1.4v1.4h-1.4zM33.5 66.7h1v1h-1zM15.6 61.1h1.1v1.1h-1.1zM16.8 60.3h1.6v1.6h-1.6zM16.8 62.1h1.3v1.3h-1.3zM16.4 62.7h1.5v1.5h-1.5zM17.4 60.2h1.4v1.4h-1.4zM34.1 58.3h1.3v1.3h-1.3zM33.5 59h1.4v1.4h-1.4zM34.5 60.7h1.2v1.2h-1.2zM32.3 60.4h1.4v1.4h-1.4zM34.3 60.6h1.2v1.2h-1.2zM34.9 60.9h1.1v1.1h-1.1zM34.4 60.4h1.3v1.3h-1.3zM35.9 62.6h1v1h-1zM35.3 62.1h1.4v1.4h-1.4zM33.3 62.4h1.1v1.1h-1.1zM36.9 65.6h1.1v1.1h-1.1zM38.8 64.6h1.1v1.1h-1.1zM38.3 64.7h1v1h-1zM38.7 64h1v1h-1zM38.5 65.1h1.2v1.2h-1.2zM20.7 60.3h1.5v1.5h-1.5zM20 60.3h1.1v1.1h-1.1zM19.7 58.3h1.5v1.5h-1.5zM21.4 60h1.5v1.5h-1.5zM19.9 60.5h1.1v1.1h-1.1zM20.5 58.2h1.5v1.5h-1.5zM19.2 59.9h1.1v1.1h-1.1zM20.6 60.1h1.5v1.5h-1.5zM20 59.8h1.5v1.5h-1.5zM20.8 58.1h1.5v1.5h-1.5zM38.1 65.2h1.3v1.3h-1.3zM38.2 65.3h1.2v1.2h-1.2zM37.6 65.4h1.2v1.2h-1.2zM37.6 66.5h1.1v1.1h-1.1zM37.9 66h1.3v1.3h-1.3zM22 60.8h1.5v1.5h-1.5zM24.1 61.5h1.2v1.2h-1.2zM23 62.9h1v1h-1zM23 61.1h1.6v1.6h-1.6zM22.5 63.3h1.3v1.3h-1.3zM33 54.4h1.1v1.1h-1.1zM33.2 53.5h1.3v1.3h-1.3zM34.7 55.6h1.4v1.4h-1.4zM34.8 55.3h1.4v1.4h-1.4zM33.2 53.4h1.5v1.5h-1.5zM43.8 80.1h1.3v1.3h-1.3zM42.5 79.4h1v1h-1zM43 80.4h1.1v1.1h-1.1zM43.6 80.9h1.5v1.5h-1.5zM42.7 79.6h1.3v1.3h-1.3zM22.3 59.1h1.3v1.3h-1.3zM21.9 59.9h1.1v1.1h-1.1zM23.8 58.4h1.5v1.5h-1.5zM22.2 60.4h1.5v1.5h-1.5zM24.1 58.6h1.6v1.6h-1.6zM18.9 64.3h1.3v1.3h-1.3zM20.1 66.2h1.4v1.4h-1.4zM17.8 66.9h1.2v1.2h-1.2zM20.2 64.5h1.2v1.2h-1.2zM20.2 66.3h1.1v1.1h-1.1zM27 70.9h1.3v1.3h-1.3zM27.6 71.6h1.3v1.3h-1.3zM27.3 71.7h1.5v1.5h-1.5zM26.8 70.9h1.3v1.3h-1.3zM27.1 71.9h1.5v1.5h-1.5zM20.8 64.7h1.1v1.1h-1.1zM20.8 66.5h1.3v1.3h-1.3zM22.3 65.3h1.4v1.4h-1.4zM21.6 65.4h1.6v1.6h-1.6zM21.6 65.4h1.1v1.1h-1.1zM25 57.8h1.1v1.1h-1.1zM25.9 58.7h1.6v1.6h-1.6zM25.9 58.3h1.5v1.5h-1.5zM25.7 57.6h1.3v1.3h-1.3zM27.1 57.2h1.5v1.5h-1.5zM33.8 54.4h1v1h-1zM32.7 54.6h1.3v1.3h-1.3zM32.5 55.7h1.4v1.4h-1.4zM32.5 54.3h1.5v1.5h-1.5zM31.9 54.4h1.5v1.5h-1.5zM17.7 59.2h1.4v1.4h-1.4zM17.6 57.2h1.2v1.2h-1.2zM17.2 58.1h1.2v1.2h-1.2zM17 57.8h1v1h-1zM17.5 57.1h1.3v1.3h-1.3zM35.5 69.8h1.4v1.4h-1.4zM36.3 69.2h1.2v1.2h-1.2zM35 68h1.4v1.4h-1.4zM33.9 69.6h1.4v1.4h-1.4zM35.4 68.2h1.4v1.4h-1.4zM14.3 55.1h1.6v1.6h-1.6zM14.9 55h1.2v1.2h-1.2zM16.3 52.7h1.6v1.6h-1.6zM15.4 53.2h1.3v1.3h-1.3zM14.2 52.6h1.3v1.3h-1.3zM28.2 66h1.4v1.4h-1.4zM28.9 65.6h1.4v1.4h-1.4zM29.9 64.7h1.5v1.5h-1.5zM30.9 65.8h1.1v1.1h-1.1zM29.3 65.2h1.6v1.6h-1.6zM27.9 69.3h1.4v1.4h-1.4zM28.3 70.7h1.4v1.4h-1.4zM28.5 69.9h1.5v1.5h-1.5zM27.8 70.3h1.5v1.5h-1.5zM30.4 69.5h1.4v1.4h-1.4zM27 58.2h1.5v1.5h-1.5zM26.6 58h1.5v1.5h-1.5zM27 56.6h1v1h-1zM26.8 55.8h1.2v1.2h-1.2zM27.9 56.4h1.4v1.4h-1.4zM32.8 62.6h1.6v1.6h-1.6zM32.6 64.2h1.3v1.3h-1.3zM32.6 63.8h1.2v1.2h-1.2zM30.5 63.5h1.4v1.4h-1.4zM32.1 63.1h1.3v1.3h-1.3zM17.8 59h1.4v1.4h-1.4zM17.7 57h1.4v1.4h-1.4zM16.4 56.8h1.3v1.3h-1.3zM15.6 57.4h1.1v1.1h-1.1zM15.8 59h1.3v1.3h-1.3zM29.3 58.9h1.3v1.3h-1.3zM31.2 58.6h1.2v1.2h-1.2zM30 57.8h1.6v1.6h-1.6zM30.9 59.2h1.4v1.4h-1.4zM31.9 59.2h1v1h-1zM16.1 54.6h1.4v1.4h-1.4zM16.1 53.9h1.5v1.5h-1.5zM16.1 55.6h1.3v1.3h-1.3zM17.4 54.3h1.4v1.4h-1.4zM17.6 54.5h1.2v1.2h-1.2zM15.6 60.6h1.1v1.1h-1.1zM15.9 60.6h1.5v1.5h-1.5zM14.6 61.7h1.3v1.3h-1.3zM14.4 59.4h1.5v1.5h-1.5zM14 61.3h1.5v1.5h-1.5zM36 56.1h1.3v1.3h-1.3zM34.6 55.9h1.1v1.1h-1.1zM35.3 58h1.1v1.1h-1.1zM33.5 56.8h1.2v1.2h-1.2zM35.9 56.1h1v1h-1zM23.2 66.8h1.6v1.6h-1.6zM22.1 66.6h1.5v1.5h-1.5zM22.8 66.7h1.2v1.2h-1.2zM23.8 68.3h1.5v1.5h-1.5zM22.7 68.8h1.1v1.1h-1.1zM37.5 82.2h1.3v1.3h-1.3zM38.5 83.8h1.5v1.5h-1.5zM36.4 82.3h1.6v1.6h-1.6zM38.6 83.8h1.1v1.1h-1.1zM36.8 82.9h1.4v1.4h-1.4zM41.6 67.1h1.4v1.4h-1.4zM41.3 68.5h1.3v1.3h-1.3zM40.7 68.3h1v1h-1zM40.5 66.3h1.4v1.4h-1.4zM41.7 67h1.1v1.1h-1.1zM22.6 63.3h1.5v1.5h-1.5zM22.7 62.9h1.1v1.1h-1.1zM23.2 64.5h1.2v1.2h-1.2zM21.9 63.3h1.2v1.2h-1.2zM23 63.2h1.3v1.3h-1.3zM26.8 61.2h1.2v1.2h-1.2zM26.1 61.6h1.3v1.3h-1.3zM25.7 61.4h1.2v1.2h-1.2zM26.2 63.4h1v1h-1zM26.5 60.8h1.4v1.4h-1.4zM25.8 64.8h1.2v1.2h-1.2zM25.1 65h1v1h-1zM25 63.7h1.5v1.5h-1.5zM25.2 63.7h1v1h-1zM24.2 63.7h1.1v1.1h-1.1zM27.1 56.2h1.1v1.1h-1.1zM27.2 56.2h1.1v1.1h-1.1zM28.7 57.5h1.1v1.1h-1.1zM26.2 56.8h1.2v1.2h-1.2zM28.5 56.3h1.6v1.6h-1.6zM23.5 58.7h1.3v1.3h-1.3zM24.3 59.5h1.6v1.6h-1.6zM24.1 58.4h1v1h-1zM23.7 58h1.4v1.4h-1.4zM22 59.2h1.3v1.3h-1.3zM34.6 60.7h1.1v1.1h-1.1zM34.1 61.4h1v1h-1zM34.5 61h1.3v1.3h-1.3zM35.3 61.8h1.3v1.3h-1.3zM33.7 59.9h1.6v1.6h-1.6zM28.4 69.9h1.3v1.3h-1.3zM28.1 71.3h1.5v1.5h-1.5zM29.3 71.4h1.1v1.1h-1.1zM28.4 69.6h1.2v1.2h-1.2zM28.1 70.2h1.3v1.3h-1.3zM25.8 58.2h1.6v1.6h-1.6zM27.6 56.2h1.4v1.4h-1.4zM26.7 56.6h1.5v1.5h-1.5zM27.7 55.6h1.6v1.6h-1.6zM27 56.5h1.2v1.2h-1.2zM26.1 68.5h1.5v1.5h-1.5zM25.8 69h1.3v1.3h-1.3zM27.7 68.6h1.5v1.5h-1.5zM26.3 69.6h1.3v1.3h-1.3zM28.3 71.3h1.2v1.2h-1.2zM32.8 65h1.3v1.3h-1.3zM31.3 64.3h1.3v1.3h-1.3zM32.8 64h1.3v1.3h-1.3zM32.8 63.5h1.1v1.1h-1.1zM32.5 63.3h1.6v1.6h-1.6zM26.9 75h1.5v1.5h-1.5zM27.5 74.3h1v1h-1zM26.5 75.5h1.1v1.1h-1.1zM26.2 74.8h1.1v1.1h-1.1zM27.5 74.5h1.1v1.1h-1.1zM26.4 70.5h1.3v1.3h-1.3zM25.1 68.9h1.3v1.3h-1.3zM24.9 69.4h1.4v1.4h-1.4zM26.6 70.8h1v1h-1zM26.4 69.5h1.1v1.1h-1.1zM24.6 54.7h1.3v1.3h-1.3zM22.3 54.2h1.2v1.2h-1.2zM24.4 53.6h1.2v1.2h-1.2zM22.1 52.9h1.2v1.2h-1.2zM22.6 54.1h1.5v1.5h-1.5zM31 74.2h1.3v1.3h-1.3zM29.1 74.8h1v1h-1zM30 73.6h1.6v1.6h-1.6zM29.8 73.8h1.4v1.4h-1.4zM29 74.7h1.3v1.3h-1.3zM21.3 60.8h1v1h-1zM21.5 62.5h1.2v1.2h-1.2zM19.9 62.8h1.2v1.2h-1.2zM21 62.9h1.1v1.1h-1.1zM21.6 61.3h1.4v1.4h-1.4zM27.7 59.4h1.3v1.3h-1.3zM27.9 61.5h1.2v1.2h-1.2zM26.4 60.1h1.5v1.5h-1.5zM26.3 61.5h1.3v1.3h-1.3zM27.4 60.6h1.4v1.4h-1.4zM32.1 63.4h1.2v1.2h-1.2zM31.8 65.3h1.5v1.5h-1.5zM33 64.8h1.2v1.2h-1.2zM31.8 63.3h1.5v1.5h-1.5zM33 64.7h1v1h-1zM29 65.5h1.1v1.1h-1.1zM28.1 63.9h1.2v1.2h-1.2zM29.7 65.1h1.3v1.3h-1.3zM27 65.2h1.4v1.4h-1.4zM29.6 63.7h1.2v1.2h-1.2zM27.9 68.5h1v1h-1zM26.2 66.4h1.3v1.3h-1.3zM26.1 67.7h1.5v1.5h-1.5zM26.4 68.5h1.1v1.1h-1.1zM25.8 66.2h1.5v1.5h-1.5zM37.5 72.2h1.4v1.4h-1.4zM37.3 72.8h1.2v1.2h-1.2zM38.7 72.8h1.6v1.6h-1.6zM38.3 72.6h1.1v1.1h-1.1zM39.4 73.5h1.3v1.3h-1.3zM24.9 52.8h1.2v1.2h-1.2zM25.6 52.9h1.6v1.6h-1.6zM25.6 54.3h1.4v1.4h-1.4zM25.4 54.4h1.2v1.2h-1.2zM24.9 53.1h1.3v1.3h-1.3zM32.6 54.9h1.2v1.2h-1.2zM34.1 54.5h1.5v1.5h-1.5zM34.2 54.2h1.4v1.4h-1.4zM31.9 54.5h1.2v1.2h-1.2zM32.6 54.4h1.1v1.1h-1.1zM34.2 62.2h1.2v1.2h-1.2zM31.8 61.5h1.1v1.1h-1.1zM32 63.2h1.4v1.4h-1.4zM32.6 62.5h1.2v1.2h-1.2zM32 64.1h1.1v1.1h-1.1zM26.7 53.2h1.4v1.4h-1.4zM26.8 54.9h1.3v1.3h-1.3zM26.3 54.9h1.3v1.3h-1.3zM27.7 55.5h1.5v1.5h-1.5zM27.4 53.9h1v1h-1zM40.1 58.4h1.2v1.2h-1.2zM39.6 58.1h1.1v1.1h-1.1zM38.8 59.7h1.4v1.4h-1.4zM38.6 60.8h1.1v1.1h-1.1zM38.7 59h1.1v1.1h-1.1zM26.3 53.6h1.3v1.3h-1.3zM25.4 55.4h1.1v1.1h-1.1zM26.5 54h1.6v1.6h-1.6zM24.5 53.8h1.5v1.5h-1.5zM25.1 55h1.5v1.5h-1.5zM15.7 60.1h1.5v1.5h-1.5zM15.8 61.1h1.2v1.2h-1.2zM14.7 62.3h1.2v1.2h-1.2zM14.8 61.6h1.3v1.3h-1.3zM15 60.3h1.4v1.4h-1.4zM27.1 55.5h1.3v1.3h-1.3zM27.6 56.8h1.3v1.3h-1.3zM26.6 57.4h1.3v1.3h-1.3zM26 56.8h1.6v1.6h-1.6zM28.4 57.1h1.4v1.4h-1.4zM20 59.8h1.2v1.2h-1.2zM19.6 60.9h1.1v1.1h-1.1zM18.7 59.8h1.2v1.2h-1.2zM20 58.9h1.1v1.1h-1.1zM18.4 58.3h1.2v1.2h-1.2zM24.4 54.4h1.4v1.4h-1.4zM24.8 54.8h1.5v1.5h-1.5zM24.6 53.4h1.3v1.3h-1.3zM24.5 53.9h1.1v1.1h-1.1zM23.5 53.7h1.2v1.2h-1.2zM35.2 64.1h1.3v1.3h-1.3zM35.1 63.3h1.4v1.4h-1.4zM32.7 62.9h1.2v1.2h-1.2zM32.7 61.9h1.4v1.4h-1.4zM33 62.8h1.5v1.5h-1.5zM35.4 65.7h1.1v1.1h-1.1zM35.6 66h1v1h-1zM36.4 65.6h1.5v1.5h-1.5zM36.2 67.9h1v1h-1zM34.2 68h1.3v1.3h-1.3zM28.7 55.6h1.2v1.2h-1.2zM30.8 56.4h1.2v1.2h-1.2zM31.5 55.2h1.1v1.1h-1.1zM29.4 56.5h1.3v1.3h-1.3zM31.2 54.7h1.5v1.5h-1.5zM23.9 62.7h1.3v1.3h-1.3zM25.3 62.5h1.6v1.6h-1.6zM24.8 62.6h1.6v1.6h-1.6zM24.4 65.3h1.1v1.1h-1.1zM26 63.7h1v1h-1zM29.3 56.3h1.4v1.4h-1.4zM29.7 57.7h1.1v1.1h-1.1zM28.4 56.1h1.2v1.2h-1.2zM29.6 56.2h1.1v1.1h-1.1zM28.8 55.9h1.5v1.5h-1.5zM33.1 61.8h1.5v1.5h-1.5zM32.4 62h1.2v1.2h-1.2zM32.5 61.9h1.6v1.6h-1.6zM33.7 62.2h1.5v1.5h-1.5zM32.8 62.6h1.1v1.1h-1.1zM26.9 63.2h1.1v1.1h-1.1zM27.1 62.6h1.3v1.3h-1.3zM26.5 61.1h1.6v1.6h-1.6zM27.3 62.7h1.6v1.6h-1.6zM27.8 61.5h1.4v1.4h-1.4zM15.7 59.1h1.5v1.5h-1.5zM14.5 58h1.6v1.6h-1.6zM14.9 57.5h1.4v1.4h-1.4zM15 59.7h1.1v1.1h-1.1zM15.6 60.2h1.2v1.2h-1.2zM26.6 59.8h1v1h-1zM25.4 61.4h1.1v1.1h-1.1zM26.8 61.7h1v1h-1zM25.2 59.7h1.2v1.2h-1.2zM25.3 59.4h1.6v1.6h-1.6zM20.5 61h1.2v1.2h-1.2zM21.9 62h1.3v1.3h-1.3zM20.1 61.9h1.5v1.5h-1.5zM21.2 60.9h1.4v1.4h-1.4zM19.8 61.9h1.2v1.2h-1.2zM26.1 59.6h1.4v1.4h-1.4zM25.9 60.9h1.1v1.1h-1.1zM25.3 60.8h1.3v1.3h-1.3zM25.2 60.3h1.2v1.2h-1.2zM27.1 59.9h1.5v1.5h-1.5zM38.5 86.9h1.6v1.6h-1.6zM41 86.5h1.4v1.4h-1.4zM38.7 85.6h1.4v1.4h-1.4zM39.3 86.8h1.5v1.5h-1.5zM39.4 86.4h1.5v1.5h-1.5zM33 68.2h1.1v1.1h-1.1zM33.7 66.5h1v1h-1zM34.8 68.2h1v1h-1zM33.8 68.4h1.4v1.4h-1.4zM33.1 66.1h1.4v1.4h-1.4zM22.5 55.6h1.3v1.3h-1.3zM22.4 54.9h1.1v1.1h-1.1zM21.5 54.2h1.2v1.2h-1.2zM21.4 54.9h1.1v1.1h-1.1zM21.4 53.7h1.5v1.5h-1.5zM39 54.4h1.3v1.3h-1.3zM38.7 54.8h1.3v1.3h-1.3zM39.4 56.1h1.3v1.3h-1.3zM37.2 55.8h1v1h-1zM38.9 54.9h1.1v1.1h-1.1zM21.3 60.1h1.4v1.4h-1.4zM22.1 58.5h1.4v1.4h-1.4zM22.1 59h1.2v1.2h-1.2zM21.1 59.5h1.3v1.3h-1.3zM21.1 57.9h1.5v1.5h-1.5zM40.8 62.3h1.4v1.4h-1.4zM40.7 60.1h1.6v1.6h-1.6zM40 60.3h1.6v1.6h-1.6zM40.4 60.4h1.1v1.1h-1.1zM39 62.1h1.5v1.5h-1.5zM18.8 53.7h1.5v1.5h-1.5zM20.9 53.8h1v1h-1zM19.7 55.4h1.3v1.3h-1.3zM18.5 54.5h1.4v1.4h-1.4zM20.6 54.9h1.3v1.3h-1.3zM29.6 53.6h1v1h-1zM27.9 54.9h1.5v1.5h-1.5zM30 53.2h1.5v1.5h-1.5zM29.3 52.9h1.4v1.4h-1.4zM30.2 53.7h1.4v1.4h-1.4zM20.5 59.1h1.3v1.3h-1.3zM18.9 58.1h1.3v1.3h-1.3zM17.9 59.2h1.6v1.6h-1.6zM18.1 59.5h1.1v1.1h-1.1zM19.8 58.9h1.2v1.2h-1.2zM24 60.7h1.5v1.5h-1.5zM25.9 62.7h1.2v1.2h-1.2zM24.4 61.9h1.5v1.5h-1.5zM24.1 62h1.5v1.5h-1.5zM24.1 62h1.3v1.3h-1.3zM16.2 59.7h1.2v1.2h-1.2zM16.8 59.7h1.3v1.3h-1.3zM16.2 58.7h1.6v1.6h-1.6zM16.4 58.6h1.6v1.6h-1.6zM15.5 58.3h1.1v1.1h-1.1zM21.4 59.6h1v1h-1zM22.3 58.1h1v1h-1zM22.9 59.3h1.2v1.2h-1.2zM23.8 59.2h1v1h-1zM22.4 59.5h1v1h-1zM24.6 68.7h1.3v1.3h-1.3zM22.9 67.3h1.4v1.4h-1.4zM24.8 68.2h1.3v1.3h-1.3zM23.7 67.9h1.1v1.1h-1.1zM24 66.2h1.4v1.4h-1.4zM32.5 60.5h1.1v1.1h-1.1zM33.4 60.7h1.3v1.3h-1.3zM32.5 60.5h1.3v1.3h-1.3zM31.4 60.9h1.4v1.4h-1.4zM31.6 60.6h1.1v1.1h-1.1zM41.4 76.7h1.2v1.2h-1.2zM42.5 76.1h1.4v1.4h-1.4zM41.2 75.3h1.4v1.4h-1.4zM42.6 76.4h1.5v1.5h-1.5zM42.5 76.2h1.3v1.3h-1.3zM41.4 63.7h1.2v1.2h-1.2zM40.7 62h1.6v1.6h-1.6zM40.1 61.6h1.4v1.4h-1.4zM41.1 61.6h1.1v1.1h-1.1zM40.9 63h1.4v1.4h-1.4zM34.1 58.8h1.2v1.2h-1.2zM35.3 59.8h1.2v1.2h-1.2zM35.3 60.6h1.5v1.5h-1.5zM34.7 61h1.4v1.4h-1.4zM35.1 60.6h1.1v1.1h-1.1zM38.3 73.8h1.6v1.6h-1.6zM38.6 74.2h1.1v1.1h-1.1zM37.2 75.2h1.2v1.2h-1.2zM37.7 73.9h1.4v1.4h-1.4zM39.1 75h1.5v1.5h-1.5zM36.8 61.5h1.1v1.1h-1.1zM37.3 62.4h1.2v1.2h-1.2zM34.9 62.8h1.4v1.4h-1.4zM36.7 61.7h1.4v1.4h-1.4zM35.8 62.8h1.1v1.1h-1.1zM41.6 74.3h1.5v1.5h-1.5zM41.6 75.2h1.4v1.4h-1.4zM41.9 74.4h1.1v1.1h-1.1zM43 73.3h1.1v1.1h-1.1zM43.1 75.7h1.2v1.2h-1.2zM20.1 67.9h1.4v1.4h-1.4zM19.9 66.5h1.5v1.5h-1.5zM19 68.2h1.3v1.3h-1.3zM18.1 68.6h1.2v1.2h-1.2zM18.5 68.7h1v1h-1zM34.3 57.2h1.3v1.3h-1.3zM34.7 58.8h1.2v1.2h-1.2zM35 57.9h1.4v1.4h-1.4zM34.7 56.9h1v1h-1zM35.8 58.5h1.5v1.5h-1.5zM27 55.6h1.5v1.5h-1.5zM26.5 57.7h1.2v1.2h-1.2zM25.7 57h1.1v1.1h-1.1zM26.7 57.9h1.4v1.4h-1.4zM26 57.1h1.4v1.4h-1.4zM19.9 61.7h1.3v1.3h-1.3zM19.2 62.6h1.1v1.1h-1.1zM18.4 60.5h1.1v1.1h-1.1zM19.9 60.6h1.2v1.2h-1.2zM20.8 62.3h1.3v1.3h-1.3zM23 54.7h1.3v1.3h-1.3zM24.6 54.3h1v1h-1zM21.9 54.8h1.3v1.3h-1.3zM23.2 56.8h1.1v1.1h-1.1zM23.3 54.9h1.3v1.3h-1.3zM19.3 57.5h1.3v1.3h-1.3zM18.5 57.4h1.1v1.1h-1.1zM18.5 56.1h1.3v1.3h-1.3zM18.1 55.1h1.1v1.1h-1.1zM18.2 55.7h1.1v1.1h-1.1zM29.9 63.8h1.5v1.5h-1.5zM30.4 63.3h1.2v1.2h-1.2zM31.9 63.5h1.3v1.3h-1.3zM30.4 62.6h1.5v1.5h-1.5zM31.2 63.9h1.5v1.5h-1.5zM29.9 70.3h1.4v1.4h-1.4zM30.5 72h1.1v1.1h-1.1zM29 70.4h1.5v1.5h-1.5zM28.4 70.4h1.4v1.4h-1.4zM29.5 72.3h1v1h-1zM24.4 61h1.2v1.2h-1.2zM23.9 60.3h1.2v1.2h-1.2zM24.3 62.3h1.3v1.3h-1.3zM22.4 59.5h1.3v1.3h-1.3zM22.4 61.1h1.4v1.4h-1.4zM20.3 59.8h1.4v1.4h-1.4zM17.9 59.7h1.2v1.2h-1.2zM19.1 59.7h1.2v1.2h-1.2zM19.9 59.8h1.1v1.1h-1.1zM19.1 59h1.5v1.5h-1.5zM37.7 59.6h1.3v1.3h-1.3zM37.2 60.9h1.5v1.5h-1.5zM36.8 59.9h1.3v1.3h-1.3zM36.8 60.7h1.2v1.2h-1.2zM36.4 62h1.2v1.2h-1.2zM27.8 68h1.1v1.1h-1.1zM27.1 69.6h1.1v1.1h-1.1zM27.6 68.5h1.4v1.4h-1.4zM27.1 68.4h1.2v1.2h-1.2zM26.6 69h1.2v1.2h-1.2zM33.8 55.1h1.5v1.5h-1.5zM34.5 55.5h1.3v1.3h-1.3zM34.5 54.8h1.6v1.6h-1.6zM34.4 54.6h1.6v1.6h-1.6zM35.8 55.4h1.5v1.5h-1.5zM37.6 73.5h1.4v1.4h-1.4zM35.9 73.4h1.6v1.6h-1.6zM36.7 73.4h1.5v1.5h-1.5zM35.6 73.5h1.5v1.5h-1.5zM36.9 73.8h1.4v1.4h-1.4zM33.7 57.4h1.3v1.3h-1.3zM34.6 55.8h1.4v1.4h-1.4zM33.5 56.6h1.1v1.1h-1.1zM34.9 57.3h1.3v1.3h-1.3zM33.6 56.8h1.1v1.1h-1.1zM24.2 69.8h1.1v1.1h-1.1zM22.7 69.8h1.3v1.3h-1.3zM23.2 71.2h1.5v1.5h-1.5zM22.3 70.7h1.2v1.2h-1.2zM23.2 71.3h1.2v1.2h-1.2zM28.1 53.3h1.3v1.3h-1.3zM28.9 54.5h1.1v1.1h-1.1zM28.4 53.5h1.2v1.2h-1.2zM28.6 54.8h1.1v1.1h-1.1zM29.3 55.2h1.2v1.2h-1.2zM27.3 56h1.5v1.5h-1.5zM28.5 56.8h1.2v1.2h-1.2zM25.9 54.8h1.5v1.5h-1.5zM26.6 56.6h1.4v1.4h-1.4zM26 56.2h1.1v1.1h-1.1zM22.1 59.7h1.1v1.1h-1.1zM21.1 61.4h1.3v1.3h-1.3zM22.9 61.5h1v1h-1zM21.6 60.4h1.6v1.6h-1.6zM23.2 61.3h1.2v1.2h-1.2zM19.8 55.7h1.2v1.2h-1.2zM20 54.9h1.4v1.4h-1.4zM19.9 55.6h1.5v1.5h-1.5zM21.4 54.6h1v1h-1zM21.9 55h1.1v1.1h-1.1zM30.3 57.6h1.1v1.1h-1.1zM29.4 57.8h1.4v1.4h-1.4zM29.5 58.7h1.4v1.4h-1.4zM31.9 57.5h1.3v1.3h-1.3zM29.8 59.6h1.1v1.1h-1.1zM32.3 57.2h1.1v1.1h-1.1zM30 57.7h1.4v1.4h-1.4zM32.2 58.9h1.6v1.6h-1.6zM32.1 59.1h1.3v1.3h-1.3zM30.2 56.8h1.4v1.4h-1.4zM35 66h1.2v1.2h-1.2zM35.2 65.8h1.4v1.4h-1.4zM33.2 65.4h1.2v1.2h-1.2zM35 65.9h1.3v1.3h-1.3zM33.1 65.8h1.6v1.6h-1.6zM31.1 55.3h1.5v1.5h-1.5zM28.6 54h1.6v1.6h-1.6zM29.6 55.4h1.5v1.5h-1.5zM29 54.4h1.4v1.4h-1.4zM31.2 53.7h1.6v1.6h-1.6zM22.2 65.9h1.3v1.3h-1.3zM22 65.7h1.5v1.5h-1.5zM21.1 66.9h1.4v1.4h-1.4zM22.1 65.2h1.3v1.3h-1.3zM19.6 64.7h1.3v1.3h-1.3zM36 77.5h1.1v1.1h-1.1zM37.6 77.9h1.2v1.2h-1.2zM37 78.5h1.5v1.5h-1.5zM36.5 77.6h1.4v1.4h-1.4zM35.8 77.1h1.2v1.2h-1.2zM29.1 67.2h1v1h-1zM27.5 66.5h1.4v1.4h-1.4zM27.2 66.6h1.1v1.1h-1.1zM28.7 66.9h1.1v1.1h-1.1zM26.9 66.6h1.2v1.2h-1.2zM29.2 62.4h1.1v1.1h-1.1zM28.6 61.8h1v1h-1zM29.3 60.8h1.1v1.1h-1.1zM28.9 63h1.4v1.4h-1.4zM29.7 61.7h1.4v1.4h-1.4zM14.7 62.2h1.5v1.5h-1.5zM14.4 59.8h1.4v1.4h-1.4zM16.1 61.4h1.4v1.4h-1.4zM15.7 60.9h1.5v1.5h-1.5zM14.5 62.1h1.3v1.3h-1.3zM29.7 64.3h1.5v1.5h-1.5zM31.6 62.5h1.4v1.4h-1.4zM32.4 62.8h1.5v1.5h-1.5zM31.9 61.9h1.3v1.3h-1.3zM32 63.2h1.6v1.6h-1.6zM34.7 57.4h1.1v1.1h-1.1zM33.8 59.1h1.5v1.5h-1.5zM32.6 59.4h1.3v1.3h-1.3zM33.4 58.4h1.2v1.2h-1.2zM34.5 58.1h1.3v1.3h-1.3zM37.2 65.8h1.5v1.5h-1.5zM39 65h1.2v1.2h-1.2zM38.5 66.2h1.6v1.6h-1.6zM38.3 65.5h1.5v1.5h-1.5zM39.8 65.3h1.4v1.4h-1.4zM25.8 54.2h1.1v1.1h-1.1zM24.9 53.3h1.2v1.2h-1.2zM25.2 55h1.3v1.3h-1.3zM23.6 52.9h1.1v1.1h-1.1zM24.3 54.1h1.3v1.3h-1.3zM22 56.4h1.3v1.3h-1.3zM19.9 55.8h1.2v1.2h-1.2zM21.4 56.4h1.5v1.5h-1.5zM21 56.9h1.2v1.2h-1.2zM21.1 57.3h1.2v1.2h-1.2zM32 60.8h1.4v1.4h-1.4zM32.8 58.8h1.3v1.3h-1.3zM32.9 59.3h1.2v1.2h-1.2zM33.3 58.7h1.5v1.5h-1.5zM31.4 59.9h1.3v1.3h-1.3zM35.3 56.6h1.3v1.3h-1.3zM36.7 55.3h1.2v1.2h-1.2zM37.1 57h1.4v1.4h-1.4zM36.9 54.6h1.4v1.4h-1.4zM36.4 56.6h1.2v1.2h-1.2zM23.4 60.1h1v1h-1zM24.8 59.6h1.3v1.3h-1.3zM23.9 58.2h1.1v1.1h-1.1zM24.3 58.3h1.3v1.3h-1.3zM25.1 59h1.3v1.3h-1.3zM18.6 66.7h1.5v1.5h-1.5zM19.7 68.6h1.5v1.5h-1.5zM17.2 66.5h1.5v1.5h-1.5zM17.9 68.4h1.3v1.3h-1.3zM18 67.8h1.4v1.4h-1.4zM25.3 58.8h1v1h-1zM24.8 60.1h1.3v1.3h-1.3zM24.9 58.4h1.4v1.4h-1.4zM25.1 59.8h1.4v1.4h-1.4zM23.9 58.4h1.5v1.5h-1.5zM30 63.1h1.4v1.4h-1.4zM31.7 63.1h1.6v1.6h-1.6zM30.9 64.2h1.4v1.4h-1.4zM29.7 63.6h1.3v1.3h-1.3zM30.1 65.2h1.2v1.2h-1.2zM23.4 65.8h1.3v1.3h-1.3zM23.1 66.8h1.2v1.2h-1.2zM21.8 64.6h1.5v1.5h-1.5zM21.2 66.6h1.3v1.3h-1.3zM22.1 66.1h1.2v1.2h-1.2zM38.5 60.6h1.4v1.4h-1.4zM39.4 60.8h1.6v1.6h-1.6zM38 60.2h1.6v1.6h-1.6zM38.7 61.1h1.2v1.2h-1.2zM40 61.5h1.4v1.4h-1.4zM38.8 57.7h1.3v1.3h-1.3zM37.5 56.3h1v1h-1zM37 56.7h1.5v1.5h-1.5zM36.7 57.7h1.2v1.2h-1.2zM36.7 57.4h1.4v1.4h-1.4zM21.1 66.4h1.5v1.5h-1.5zM20.3 67.9h1.5v1.5h-1.5zM22.4 66.9h1.5v1.5h-1.5zM22.8 67h1.2v1.2h-1.2zM22.8 66.7h1.2v1.2h-1.2zM20.6 64.3h1.6v1.6h-1.6zM22.5 65.8h1v1h-1zM22.1 66h1v1h-1zM22.9 64.7h1.1v1.1h-1.1zM22.7 65.9h1.6v1.6h-1.6zM29.9 67.2h1.6v1.6h-1.6zM30.1 65.5h1.5v1.5h-1.5zM29.4 64.9h1.1v1.1h-1.1zM30.6 66h1.3v1.3h-1.3zM30.5 67.3h1.2v1.2h-1.2zM40.3 66.4h1.2v1.2h-1.2zM40.7 66.3h1.2v1.2h-1.2zM40 68.2h1.2v1.2h-1.2zM38.8 68.3h1.4v1.4h-1.4zM38.9 66.9h1.2v1.2h-1.2zM39.2 55.7h1.6v1.6h-1.6zM38.6 56.3h1.6v1.6h-1.6zM36.8 57.2h1.4v1.4h-1.4zM37.2 56.1h1.2v1.2h-1.2zM36.9 56.6h1.3v1.3h-1.3zM26.4 62.8h1.5v1.5h-1.5zM28.3 62.3h1.5v1.5h-1.5zM28.1 62.1h1.3v1.3h-1.3zM27.5 62.5h1.2v1.2h-1.2zM28.1 62.7h1.3v1.3h-1.3zM24.4 60.6h1v1h-1zM23.6 60.5h1.4v1.4h-1.4zM24.5 60.5h1.3v1.3h-1.3zM22.5 59h1.5v1.5h-1.5zM25.1 60h1v1h-1zM31.8 74.8h1v1h-1zM32.5 72.9h1.3v1.3h-1.3zM32 75.4h1.4v1.4h-1.4zM32.6 73.5h1.3v1.3h-1.3zM31.3 74.7h1.4v1.4h-1.4zM31.8 62.9h1.5v1.5h-1.5zM32.3 61.6h1.1v1.1h-1.1zM32.1 64h1.2v1.2h-1.2zM33 62.1h1.1v1.1h-1.1zM31.2 61.6h1.2v1.2h-1.2zM32.1 62.5h1.5v1.5h-1.5zM32.4 61.5h1.4v1.4h-1.4zM31.4 61.6h1.4v1.4h-1.4zM32.2 61.6h1.2v1.2h-1.2zM31.8 62.1h1.3v1.3h-1.3z" fill="#d4d800" />
<path d="M11,28.8 C12.5,28.72 17.17,28.55 20,28.3 C22.83,28.05 25.5,27.88 28,27.3 C30.5,26.72 32.83,25.98 35,24.8 C37.17,23.62 39.17,21.92 41,20.2 C42.83,18.48 44.5,16.28 46,14.5 C47.5,12.72 48.83,11 50,9.5 C51.17,8 52.5,6.17 53,5.5" fill="none" stroke="#fff" stroke-width="1.2" stroke-linecap="round"/>
<path d="M16.5,47.8 C17.42,47.33 20.08,45.97 22,45 C23.92,44.03 26.08,43.07 28,42 C29.92,40.93 32.58,39.17 33.5,38.6" fill="none" stroke="#fff" stroke-width="1.4" stroke-linecap="round"/>
</g>
<g transform="translate(150,120.7)">
<use href="#peb"/>
<use href="#pet"/>
<path d="M35,36.3 C36.08,36.22 36.75,38.38 37.5,40 C38.25,41.62 39,43.83 39.5,46 C40,48.17 40.25,50.67 40.5,53 C40.75,55.33 40.92,57.5 41,60 C41.08,62.5 40.83,65.5 41,68 C41.17,70.5 41.42,73 42,75 C42.58,77 43.42,78.5 44.5,80 C45.58,81.5 47.62,82.75 48.5,84 C49.38,85.25 50.05,86.55 49.8,87.5 C49.55,88.45 48.3,89.35 47,89.7 C45.7,90.05 43.67,89.95 42,89.6 C40.33,89.25 38.67,88.45 37,87.6 C35.33,86.75 33.67,85.68 32,84.5 C30.33,83.32 28.5,81.7 27,80.5 C25.5,79.3 24.17,78.47 23,77.3 C21.83,76.13 21,74.88 20,73.5 C19,72.12 17.83,70.75 17,69 C16.17,67.25 15.42,65.17 15,63 C14.58,60.83 14.47,57.92 14.5,56 C14.53,54.08 14.62,52.7 15.2,51.5 C15.78,50.3 16.87,49.63 18,48.8 C19.13,47.97 20.5,47.38 22,46.5 C23.5,45.62 25.5,44.5 27,43.5 C28.5,42.5 29.67,41.7 31,40.5 C32.33,39.3 33.92,36.38 35,36.3Z" fill="#5500b6" />
<path d="M14.6,58 C15.1,56.97 16.77,57.13 18,56.8 C19.23,56.47 20.67,56.2 22,56 C23.33,55.8 24.67,55.77 26,55.6 C27.33,55.43 28.83,55.23 30,55 C31.17,54.77 32,54.43 33,54.2 C34,53.97 34.92,53.3 36,53.6 C37.08,53.9 38.75,54.93 39.5,56 C40.25,57.07 40.25,58 40.5,60 C40.75,62 40.75,65.5 41,68 C41.25,70.5 41.42,73 42,75 C42.58,77 43.42,78.5 44.5,80 C45.58,81.5 47.62,82.75 48.5,84 C49.38,85.25 50.05,86.55 49.8,87.5 C49.55,88.45 48.3,89.35 47,89.7 C45.7,90.05 43.67,89.95 42,89.6 C40.33,89.25 38.67,88.45 37,87.6 C35.33,86.75 33.67,85.68 32,84.5 C30.33,83.32 28.5,81.7 27,80.5 C25.5,79.3 24.17,78.47 23,77.3 C21.83,76.13 21,74.88 20,73.5 C19,72.12 17.83,70.75 17,69 C16.17,67.25 15.4,64.83 15,63 C14.6,61.17 14.1,59.03 14.6,58Z" fill="#d4d800" />
<path d="M50.5,79 C50.92,78.17 52.75,77.42 54,76.5 C55.25,75.58 56.67,74.5 58,73.5 C59.33,72.5 60.67,71.42 62,70.5 C63.33,69.58 64.67,68.92 66,68 C67.33,67.08 68.67,65.92 70,65 C71.33,64.08 72.67,63.33 74,62.5 C75.33,61.67 76.75,60.78 78,60 C79.25,59.22 81.08,57.72 81.5,57.8 C81.92,57.88 81.25,59.55 80.5,60.5 C79.75,61.45 78.25,62.5 77,63.5 C75.75,64.5 74.33,65.5 73,66.5 C71.67,67.5 70.33,68.58 69,69.5 C67.67,70.42 66.33,71.17 65,72 C63.67,72.83 62.33,73.58 61,74.5 C59.67,75.42 58.17,76.58 57,77.5 C55.83,78.42 54.92,79.33 54,80 C53.08,80.67 52.08,81.67 51.5,81.5 C50.92,81.33 50.08,79.83 50.5,79Z" fill="#fff" />
<use href="#pegs"/>
<path d="M12,27.6 C13.33,27.72 17.33,28.23 20,28.3 C22.67,28.37 25.5,28.47 28,28 C30.5,27.53 32.83,26.67 35,25.5 C37.17,24.33 39.17,22.75 41,21 C42.83,19.25 44.5,16.92 46,15 C47.5,13.08 48.83,11.08 50,9.5 C51.17,7.92 52.5,6.17 53,5.5" fill="none" stroke="#fff" stroke-width="1.2" stroke-linecap="round"/>
</g>
<g transform="translate(257,14)">
<use href="#hcb"/>
<use href="#hct"/>
<path d="M35,35.5 C36,35.25 38,35.58 39,37 C40,38.42 40.5,41.5 41,44 C41.5,46.5 41.75,50.08 42,52 C42.25,53.92 43.83,55 42.5,55.5 C41.17,56 36.58,55.17 34,55 C31.42,54.83 29.33,54.53 27,54.5 C24.67,54.47 21.95,54.72 20,54.8 C18.05,54.88 16.05,55.47 15.3,55 C14.55,54.53 15.13,53.08 15.5,52 C15.87,50.92 16.75,49.42 17.5,48.5 C18.25,47.58 18.92,47.25 20,46.5 C21.08,45.75 22.5,44.83 24,44 C25.5,43.17 27.5,42.42 29,41.5 C30.5,40.58 32,39.5 33,38.5 C34,37.5 34,35.75 35,35.5Z" fill="#5500b6" />
<path d="M32.2 54.8h1.4v1.4h-1.4zM34.1 53.1h1.3v1.3h-1.3zM31.7 53.4h1.3v1.3h-1.3zM31.6 53.3h1.4v1.4h-1.4zM33.1 53.4h1.4v1.4h-1.4zM25.2 56.7h1.5v1.5h-1.5zM24.8 56.5h1.6v1.6h-1.6zM23.9 56.6h1.5v1.5h-1.5zM24.6 57.5h1.3v1.3h-1.3zM25 55.4h1.1v1.1h-1.1zM21.8 55.4h1.4v1.4h-1.4zM22.7 55.8h1.1v1.1h-1.1zM22.3 57.3h1.4v1.4h-1.4zM23.2 55.1h1.4v1.4h-1.4zM21.9 55.6h1.6v1.6h-1.6zM23.3 60.1h1.4v1.4h-1.4zM22.1 61.8h1.3v1.3h-1.3zM21.7 59.9h1.3v1.3h-1.3zM21.6 60.7h1.5v1.5h-1.5zM21.9 59.7h1.6v1.6h-1.6zM28.1 56.8h1.5v1.5h-1.5zM29.1 55.3h1.2v1.2h-1.2zM30.5 56.4h1.6v1.6h-1.6zM30.2 55.1h1.4v1.4h-1.4zM29.9 56.7h1.2v1.2h-1.2zM32.8 58.4h1.5v1.5h-1.5zM32.5 57.3h1.1v1.1h-1.1zM34.3 58.3h1.2v1.2h-1.2zM33.5 57.6h1.1v1.1h-1.1zM33.7 57.2h1.5v1.5h-1.5zM25.1 55h1.2v1.2h-1.2zM22.6 54.9h1.6v1.6h-1.6zM22.9 54.1h1v1h-1zM24.8 54.9h1.1v1.1h-1.1zM24 54.2h1.2v1.2h-1.2zM39.9 68.7h1.1v1.1h-1.1zM39.1 69.3h1.4v1.4h-1.4zM39.6 68.1h1.1v1.1h-1.1zM38.9 67.5h1.4v1.4h-1.4zM39.1 67.3h1v1h-1zM33.8 60.1h1.1v1.1h-1.1zM33.3 60.6h1.1v1.1h-1.1zM34 61.5h1.3v1.3h-1.3zM33.7 62.2h1.1v1.1h-1.1zM31.7 61.1h1.3v1.3h-1.3zM18.6 66.6h1.1v1.1h-1.1zM17.4 67.1h1.2v1.2h-1.2zM16.8 68.4h1.3v1.3h-1.3zM18.6 67.5h1v1h-1zM18.7 68h1.6v1.6h-1.6zM27.2 60.2h1.6v1.6h-1.6zM27.9 61.5h1.3v1.3h-1.3zM28.2 61.9h1.6v1.6h-1.6zM28.8 61.4h1.1v1.1h-1.1zM28 62h1.3v1.3h-1.3zM17.6 59.1h1.1v1.1h-1.1zM18 59h1.4v1.4h-1.4zM17.3 59.5h1.4v1.4h-1.4zM17.1 61.1h1.1v1.1h-1.1zM17.6 59.1h1.2v1.2h-1.2zM34.6 62.5h1.3v1.3h-1.3zM35.5 65.2h1v1h-1zM33 62.9h1.6v1.6h-1.6zM35 64.8h1.2v1.2h-1.2zM32.9 64.6h1.4v1.4h-1.4zM17.3 57.3h1.4v1.4h-1.4zM17.2 57.5h1.2v1.2h-1.2zM17.8 58.1h1.5v1.5h-1.5zM16.9 56.9h1.2v1.2h-1.2zM16.5 57.8h1.4v1.4h-1.4zM29.2 69.1h1.5v1.5h-1.5zM30.6 69h1.3v1.3h-1.3zM29.6 67.1h1.2v1.2h-1.2zM31.5 68.8h1.5v1.5h-1.5zM31.7 67.4h1.1v1.1h-1.1zM38.5 83.2h1.6v1.6h-1.6zM38.7 84.7h1.5v1.5h-1.5zM37.4 84.7h1.1v1.1h-1.1zM39 84.8h1.1v1.1h-1.1zM38.9 83.7h1.2v1.2h-1.2zM36.5 60.6h1.5v1.5h-1.5zM38.7 60.5h1.4v1.4h-1.4zM37.2 62.5h1.3v1.3h-1.3zM38.6 60h1.6v1.6h-1.6zM36.6 62.6h1.2v1.2h-1.2zM35.1 63.5h1.2v1.2h-1.2zM34.1 63.4h1.6v1.6h-1.6zM35.8 64.8h1.4v1.4h-1.4zM34.9 64h1v1h-1zM34.7 63.5h1.3v1.3h-1.3zM37.6 59.6h1.2v1.2h-1.2zM38.3 59.9h1.4v1.4h-1.4zM36.9 58.5h1v1h-1zM36.7 59h1.5v1.5h-1.5zM36.3 58.9h1.4v1.4h-1.4zM27.4 62.4h1.5v1.5h-1.5zM27.8 61.7h1.1v1.1h-1.1zM30.3 62h1v1h-1zM28.1 62.8h1.3v1.3h-1.3zM29.5 62.1h1.6v1.6h-1.6zM35.2 70h1.5v1.5h-1.5zM36.1 70.1h1.2v1.2h-1.2zM34.9 69.2h1.2v1.2h-1.2zM35.6 69.9h1.1v1.1h-1.1zM35.2 70.2h1.4v1.4h-1.4zM30 68.8h1.4v1.4h-1.4zM30.7 68.6h1.5v1.5h-1.5zM29.9 66.4h1.2v1.2h-1.2zM30.8 68.5h1.6v1.6h-1.6zM30 68.4h1.3v1.3h-1.3zM31.8 59.7h1.2v1.2h-1.2zM32.6 60.8h1.1v1.1h-1.1zM31.8 59.9h1.4v1.4h-1.4zM30.6 60.6h1.3v1.3h-1.3zM30.7 61.5h1.1v1.1h-1.1zM27 54.5h1.5v1.5h-1.5zM27.5 55.7h1.5v1.5h-1.5zM27.4 54.1h1v1h-1zM28.1 56.5h1.2v1.2h-1.2zM28.3 55.8h1.4v1.4h-1.4zM19.3 54.5h1.3v1.3h-1.3zM19.5 54.5h1.5v1.5h-1.5zM19.4 54.3h1.4v1.4h-1.4zM19.2 54.8h1.6v1.6h-1.6zM19.3 52.8h1.2v1.2h-1.2zM33.7 57.3h1.1v1.1h-1.1zM34.1 57.7h1.2v1.2h-1.2zM32.4 56.5h1.3v1.3h-1.3zM32.1 57.7h1.5v1.5h-1.5zM31.5 58.1h1.4v1.4h-1.4zM36.4 61.3h1.5v1.5h-1.5zM34.9 62.5h1.4v1.4h-1.4zM35.2 61.2h1.5v1.5h-1.5zM34.7 61.7h1.5v1.5h-1.5zM35.1 63.6h1.4v1.4h-1.4zM21.4 54.3h1.3v1.3h-1.3zM23.3 54.2h1.4v1.4h-1.4zM22.7 54.6h1.1v1.1h-1.1zM21.9 54.3h1.2v1.2h-1.2zM22.8 53.6h1.3v1.3h-1.3zM21.6 60.9h1.3v1.3h-1.3zM23.2 61.2h1.1v1.1h-1.1zM22.2 62.5h1.6v1.6h-1.6zM22.6 61.5h1.1v1.1h-1.1zM21.7 61.4h1.1v1.1h-1.1zM31.5 77.3h1.5v1.5h-1.5zM30.8 77.3h1.3v1.3h-1.3zM29.5 76h1.6v1.6h-1.6zM30.5 78.3h1.2v1.2h-1.2zM29.5 77.9h1v1h-1zM17.7 59.2h1.4v1.4h-1.4zM18.5 58.5h1.4v1.4h-1.4zM19.7 59.2h1.4v1.4h-1.4zM20.3 60.1h1.4v1.4h-1.4zM19.6 60.6h1.3v1.3h-1.3zM37.8 56.5h1.3v1.3h-1.3zM37.7 54.7h1.4v1.4h-1.4zM38.9 57.1h1.3v1.3h-1.3zM38.5 54.8h1v1h-1zM38.3 55.4h1.2v1.2h-1.2zM22.2 55h1.5v1.5h-1.5zM21.5 54.9h1.4v1.4h-1.4zM22.4 53.6h1.2v1.2h-1.2zM21.8 55.1h1.5v1.5h-1.5zM22 55.3h1.2v1.2h-1.2zM29 63.9h1.3v1.3h-1.3zM29.1 64.6h1.3v1.3h-1.3zM27.5 63.4h1.2v1.2h-1.2zM28.3 64.5h1.5v1.5h-1.5zM26.7 64.2h1.6v1.6h-1.6zM32.4 61.9h1.1v1.1h-1.1zM33.5 62.8h1.3v1.3h-1.3zM31.1 62.5h1.3v1.3h-1.3zM32.8 61.7h1.2v1.2h-1.2zM33.1 63h1.1v1.1h-1.1zM39.2 64.1h1.3v1.3h-1.3zM40.4 62.3h1.2v1.2h-1.2zM39.7 64.3h1.3v1.3h-1.3zM38.5 63h1.2v1.2h-1.2zM39.6 63h1.3v1.3h-1.3zM24 59h1.5v1.5h-1.5zM22.5 60.5h1.4v1.4h-1.4zM24.7 59.5h1.4v1.4h-1.4zM24.8 61.2h1.3v1.3h-1.3zM22.6 59.8h1.4v1.4h-1.4zM16.8 57h1.4v1.4h-1.4zM15.5 54.5h1.4v1.4h-1.4zM16.7 55.5h1.4v1.4h-1.4zM16.7 54.4h1.5v1.5h-1.5zM15.2 55.5h1.1v1.1h-1.1zM19.7 55.2h1.5v1.5h-1.5zM18.6 56h1.2v1.2h-1.2zM18.8 54.6h1.5v1.5h-1.5zM20.8 56.7h1.1v1.1h-1.1zM19.3 55.6h1.4v1.4h-1.4zM34 67.2h1.2v1.2h-1.2zM32.9 67.2h1.3v1.3h-1.3zM33.3 69.4h1.2v1.2h-1.2zM34.4 68.5h1.2v1.2h-1.2zM33.1 68.4h1.4v1.4h-1.4zM33.5 64.8h1.1v1.1h-1.1zM32.7 64.8h1.1v1.1h-1.1zM32 64h1.6v1.6h-1.6zM33.2 65.1h1.5v1.5h-1.5zM32.5 64.9h1.3v1.3h-1.3zM21.6 55.5h1.1v1.1h-1.1zM20 55h1.5v1.5h-1.5zM20.9 54.1h1.1v1.1h-1.1zM22.6 53.7h1.3v1.3h-1.3zM20.3 55.4h1.1v1.1h-1.1zM18.9 67.3h1.6v1.6h-1.6zM17.8 67.3h1.3v1.3h-1.3zM20.5 68.8h1.1v1.1h-1.1zM19.5 67.6h1.6v1.6h-1.6zM18.8 67.5h1.1v1.1h-1.1zM34 73.3h1.1v1.1h-1.1zM33.2 72.7h1.5v1.5h-1.5zM32.1 73h1.5v1.5h-1.5zM32.5 72.8h1.5v1.5h-1.5zM31.8 75.1h1.1v1.1h-1.1zM19 60.8h1v1h-1zM19.2 61.3h1.2v1.2h-1.2zM17.4 60.7h1.4v1.4h-1.4zM18.5 62.7h1.3v1.3h-1.3zM19.3 62.2h1.1v1.1h-1.1zM15.5 55.5h1.4v1.4h-1.4zM16.7 55.5h1.6v1.6h-1.6zM16.8 56h1.4v1.4h-1.4zM15.5 56.6h1.5v1.5h-1.5zM17.1 56.8h1.4v1.4h-1.4zM20.4 68.8h1.2v1.2h-1.2zM19.6 68.7h1.4v1.4h-1.4zM20.3 67.8h1.6v1.6h-1.6zM19.7 70h1.1v1.1h-1.1zM19.6 69.5h1.5v1.5h-1.5zM24.5 58.2h1.5v1.5h-1.5zM24.7 58.8h1.4v1.4h-1.4zM23.8 57.9h1.1v1.1h-1.1zM24.7 56.9h1.1v1.1h-1.1zM25 57.1h1.5v1.5h-1.5zM39.1 62.1h1.2v1.2h-1.2zM37.1 63.6h1.3v1.3h-1.3zM38.1 61.5h1.4v1.4h-1.4zM37.2 63.4h1.1v1.1h-1.1zM38.3 62.2h1.2v1.2h-1.2zM17.5 55.7h1.2v1.2h-1.2zM17.6 55.1h1.3v1.3h-1.3zM16.6 56h1.1v1.1h-1.1zM16.8 54.5h1.4v1.4h-1.4zM17.2 55.8h1v1h-1zM25.5 73.3h1.1v1.1h-1.1zM25.5 73.7h1v1h-1zM26.7 73.2h1.2v1.2h-1.2zM26.5 73.9h1.5v1.5h-1.5zM26.7 72.7h1.5v1.5h-1.5zM16.9 54.2h1.3v1.3h-1.3zM16.6 53.9h1.1v1.1h-1.1zM14.4 53.4h1.5v1.5h-1.5zM16.1 54.8h1.6v1.6h-1.6zM14.8 55h1.1v1.1h-1.1zM22.7 65.2h1.1v1.1h-1.1zM23.6 66.2h1.2v1.2h-1.2zM24.1 65.9h1.5v1.5h-1.5zM22.9 64.2h1.1v1.1h-1.1zM23.8 65.7h1.4v1.4h-1.4zM38.3 74.9h1.2v1.2h-1.2zM38.8 73.7h1.3v1.3h-1.3zM39.1 75h1v1h-1zM40.3 73.7h1.5v1.5h-1.5zM40.4 75.3h1.3v1.3h-1.3zM32.5 63.3h1.1v1.1h-1.1zM34.4 63.9h1.4v1.4h-1.4zM33.4 63.6h1.1v1.1h-1.1zM33.2 64.3h1.3v1.3h-1.3zM32.5 64.2h1.2v1.2h-1.2zM36.2 76.2h1.2v1.2h-1.2zM37.8 76h1.5v1.5h-1.5zM38.3 75.2h1.3v1.3h-1.3zM36.2 75.1h1.6v1.6h-1.6zM37.8 75.4h1.4v1.4h-1.4zM32.9 67.1h1.1v1.1h-1.1zM34.5 68h1.1v1.1h-1.1zM32.1 66.7h1.5v1.5h-1.5zM32 68.6h1.5v1.5h-1.5zM34.3 66.7h1.2v1.2h-1.2zM35.6 58.7h1.5v1.5h-1.5zM37.5 57h1.3v1.3h-1.3zM36.5 58.4h1.1v1.1h-1.1zM36.4 57.2h1.4v1.4h-1.4zM36.6 58h1.2v1.2h-1.2zM19.8 62.2h1.1v1.1h-1.1zM19.7 63h1.2v1.2h-1.2zM19.2 61.2h1.5v1.5h-1.5zM17.5 61.7h1.6v1.6h-1.6zM17.9 61.9h1.2v1.2h-1.2zM14.7 56.6h1.2v1.2h-1.2zM14 56.3h1.5v1.5h-1.5zM15.9 56.1h1.1v1.1h-1.1zM14.8 56.1h1.4v1.4h-1.4zM14.4 55.8h1.3v1.3h-1.3zM15.7 56.2h1.4v1.4h-1.4zM14.9 55.1h1.2v1.2h-1.2zM14.3 54.8h1.3v1.3h-1.3zM15.7 56.1h1.1v1.1h-1.1zM16.1 56.5h1v1h-1zM29.3 62.1h1.1v1.1h-1.1zM29.3 62.3h1.1v1.1h-1.1zM30.8 60.5h1.3v1.3h-1.3zM29.4 63h1.3v1.3h-1.3zM29.1 61.6h1.4v1.4h-1.4zM36 65.8h1.1v1.1h-1.1zM36.5 64.7h1.4v1.4h-1.4zM36.2 65.8h1v1h-1zM36.6 64.8h1.2v1.2h-1.2zM34.6 64.1h1v1h-1zM29.3 61.6h1.5v1.5h-1.5zM31.4 61.7h1.1v1.1h-1.1zM29.8 63.1h1.4v1.4h-1.4zM31.2 61.6h1.6v1.6h-1.6zM30.1 62h1.6v1.6h-1.6zM36.5 56.3h1.2v1.2h-1.2zM34.4 56.6h1.2v1.2h-1.2zM35.7 55.8h1.4v1.4h-1.4zM35 54.7h1.5v1.5h-1.5zM35.2 57.5h1.2v1.2h-1.2zM43.1 85.6h1.5v1.5h-1.5zM43.4 87.4h1.1v1.1h-1.1zM43.2 87h1v1h-1zM41.6 86.9h1.2v1.2h-1.2zM42.4 86.2h1.4v1.4h-1.4zM34 62h1.2v1.2h-1.2zM33.5 61.4h1.2v1.2h-1.2zM33.2 63.4h1.2v1.2h-1.2zM34.6 62.1h1.1v1.1h-1.1zM34.2 61.7h1.5v1.5h-1.5zM28.4 55.9h1.2v1.2h-1.2zM26.1 56.4h1.5v1.5h-1.5zM28.3 56.8h1.6v1.6h-1.6zM27.8 57.2h1.3v1.3h-1.3zM26.5 55.6h1.1v1.1h-1.1zM37 55.1h1.3v1.3h-1.3zM37.7 53.2h1.2v1.2h-1.2zM38.7 54.9h1.3v1.3h-1.3zM38.2 55.3h1v1h-1zM38.7 54.7h1.3v1.3h-1.3zM38.2 75.1h1.5v1.5h-1.5zM35.9 74.5h1.1v1.1h-1.1zM36 74.9h1.4v1.4h-1.4zM36.5 76.5h1.5v1.5h-1.5zM38 74.7h1.4v1.4h-1.4zM30.7 57.8h1.1v1.1h-1.1zM31.6 56.7h1.4v1.4h-1.4zM31 57.9h1.5v1.5h-1.5zM30.8 58.7h1v1h-1zM29.2 58h1.3v1.3h-1.3zM30.1 74.8h1.5v1.5h-1.5zM29.6 74.5h1v1h-1zM27.7 74.8h1.3v1.3h-1.3zM28.2 75.3h1.2v1.2h-1.2zM29.4 75.5h1.5v1.5h-1.5zM26.9 62h1.2v1.2h-1.2zM28.3 61.8h1.5v1.5h-1.5zM27.1 62.1h1.3v1.3h-1.3zM27.5 63.3h1.3v1.3h-1.3zM28.1 62.6h1.2v1.2h-1.2zM20.8 66.5h1.4v1.4h-1.4zM20.6 65.5h1.5v1.5h-1.5zM20.6 66.5h1.4v1.4h-1.4zM21.6 65.2h1.2v1.2h-1.2zM21 64.7h1.3v1.3h-1.3zM37 61.8h1.6v1.6h-1.6zM36.3 63.9h1.2v1.2h-1.2zM37.9 63.8h1.1v1.1h-1.1zM36.8 63.1h1v1h-1zM35.6 62.5h1.3v1.3h-1.3zM36.7 63.7h1.4v1.4h-1.4zM35.3 64.6h1.2v1.2h-1.2zM36.3 65h1.4v1.4h-1.4zM36.6 64.2h1.4v1.4h-1.4zM34.4 63.5h1.6v1.6h-1.6zM35.6 73.7h1.5v1.5h-1.5zM34.5 74.1h1v1h-1zM36.8 72.5h1v1h-1zM34.8 72.4h1.4v1.4h-1.4zM35 74.1h1.6v1.6h-1.6zM38.7 78h1.2v1.2h-1.2zM40.2 78.9h1.2v1.2h-1.2zM38.8 79.9h1.2v1.2h-1.2zM39.2 79.4h1.4v1.4h-1.4zM40.1 79.2h1.4v1.4h-1.4zM19.5 63.2h1.2v1.2h-1.2zM19.5 61h1.4v1.4h-1.4zM19.5 61.3h1.6v1.6h-1.6zM21.1 61.3h1.1v1.1h-1.1zM20.5 61.4h1.6v1.6h-1.6zM38.4 63h1.3v1.3h-1.3zM37.1 63.4h1.1v1.1h-1.1zM37.8 64.5h1.4v1.4h-1.4zM36.7 63.7h1.4v1.4h-1.4zM37 63.8h1.3v1.3h-1.3zM33.5 54h1.5v1.5h-1.5zM31.4 55.2h1.6v1.6h-1.6zM32.6 56.3h1.5v1.5h-1.5zM32.8 54.2h1.6v1.6h-1.6zM32.3 55.4h1.5v1.5h-1.5zM41.4 59.1h1.3v1.3h-1.3zM41.1 60.6h1.6v1.6h-1.6zM41 58h1.3v1.3h-1.3zM38.9 60.8h1.2v1.2h-1.2zM41.3 59.5h1.3v1.3h-1.3zM20.2 56.7h1.1v1.1h-1.1zM20.8 58h1.3v1.3h-1.3zM20.8 56.2h1.5v1.5h-1.5zM21.3 58.1h1.3v1.3h-1.3zM19.1 57.8h1.1v1.1h-1.1zM17.9 63.7h1.5v1.5h-1.5zM19.9 63.9h1.4v1.4h-1.4zM17.3 64.9h1.4v1.4h-1.4zM17.5 63.5h1.2v1.2h-1.2zM18.3 64.4h1.5v1.5h-1.5zM36 63.5h1.4v1.4h-1.4zM34.2 63.2h1.1v1.1h-1.1zM35.6 64.4h1.2v1.2h-1.2zM35 64h1.3v1.3h-1.3zM35.4 63.4h1.1v1.1h-1.1zM33.6 56.2h1.3v1.3h-1.3zM35.1 55.1h1.2v1.2h-1.2zM35 55.1h1.1v1.1h-1.1zM35.1 54.9h1.3v1.3h-1.3zM35.7 55.9h1.3v1.3h-1.3zM28.7 56h1.2v1.2h-1.2zM28.6 56h1.3v1.3h-1.3zM26.6 55h1v1h-1zM29.3 56.7h1v1h-1zM29 54.1h1.2v1.2h-1.2zM24.8 60.2h1.1v1.1h-1.1zM23.3 58.2h1.2v1.2h-1.2zM25.1 59.6h1.3v1.3h-1.3zM25.6 58.8h1.2v1.2h-1.2zM23.9 60.7h1.4v1.4h-1.4zM21 57.5h1v1h-1zM21.3 56.6h1.1v1.1h-1.1zM19.9 58h1v1h-1zM20.5 56.1h1.5v1.5h-1.5zM21.2 56.3h1.4v1.4h-1.4zM33 64.9h1.1v1.1h-1.1zM33.3 63h1.6v1.6h-1.6zM35 65.5h1.4v1.4h-1.4zM33.6 64.3h1.6v1.6h-1.6zM35.1 64.8h1.5v1.5h-1.5zM23.5 68.4h1.3v1.3h-1.3zM24.7 67.1h1.4v1.4h-1.4zM24.6 68.9h1.3v1.3h-1.3zM25.2 68h1.1v1.1h-1.1zM23 66.8h1.4v1.4h-1.4zM41.8 81.8h1.2v1.2h-1.2zM41.5 82.8h1.5v1.5h-1.5zM40.2 83.2h1.4v1.4h-1.4zM41.2 82.4h1.5v1.5h-1.5zM40.8 84h1v1h-1zM43 86.6h1.1v1.1h-1.1zM41.7 85.6h1.5v1.5h-1.5zM41.7 87.3h1.2v1.2h-1.2zM41.7 86.2h1.2v1.2h-1.2zM41.7 86.7h1.1v1.1h-1.1zM25.4 72h1.6v1.6h-1.6zM26.9 72.6h1.1v1.1h-1.1zM26 72.3h1.5v1.5h-1.5zM26.5 73.1h1.4v1.4h-1.4zM25.7 73.5h1.6v1.6h-1.6zM33.8 69.3h1.4v1.4h-1.4zM33 71.4h1.3v1.3h-1.3zM33.6 69.2h1v1h-1zM34 71.5h1.4v1.4h-1.4zM33.7 69.9h1.5v1.5h-1.5zM27.4 53.7h1.2v1.2h-1.2zM29.9 52.1h1.5v1.5h-1.5zM29 54.3h1.5v1.5h-1.5zM27.7 52.6h1.1v1.1h-1.1zM27.7 53.6h1.5v1.5h-1.5zM21.9 67.1h1.6v1.6h-1.6zM21.5 67.5h1.5v1.5h-1.5zM22.7 68h1.5v1.5h-1.5zM21.2 66.7h1.3v1.3h-1.3zM21.2 65.8h1.1v1.1h-1.1zM17.1 60.7h1v1h-1zM14.6 61.7h1.5v1.5h-1.5zM15.9 59.2h1.6v1.6h-1.6zM15.3 61.9h1.4v1.4h-1.4zM16.6 61.3h1.2v1.2h-1.2zM17.7 58.5h1.5v1.5h-1.5zM16.5 59.8h1.1v1.1h-1.1zM18.2 59.6h1.3v1.3h-1.3zM18.2 57.7h1.3v1.3h-1.3zM17.7 58.4h1.5v1.5h-1.5zM38.3 54.4h1.2v1.2h-1.2zM38 54.1h1.4v1.4h-1.4zM37.3 53.2h1.4v1.4h-1.4zM37.8 55.1h1v1h-1zM35.8 54.9h1.4v1.4h-1.4zM34.5 63.8h1.2v1.2h-1.2zM35.3 63.3h1.1v1.1h-1.1zM35.8 64.5h1.2v1.2h-1.2zM34.7 64h1.1v1.1h-1.1zM36.2 63.8h1.2v1.2h-1.2zM24 67.7h1.6v1.6h-1.6zM23.3 65.8h1.2v1.2h-1.2zM22 66.2h1.3v1.3h-1.3zM21.8 66.6h1.3v1.3h-1.3zM23.1 65.6h1.2v1.2h-1.2zM31.2 61.4h1.2v1.2h-1.2zM32.1 61h1.2v1.2h-1.2zM31.1 60.9h1.5v1.5h-1.5zM33.1 59.1h1.2v1.2h-1.2zM33 59.3h1.2v1.2h-1.2zM26.1 57.4h1.4v1.4h-1.4zM26.1 58.6h1.3v1.3h-1.3zM26.6 57.2h1.2v1.2h-1.2zM26.4 58.1h1.5v1.5h-1.5zM25.6 57.2h1.4v1.4h-1.4zM36.6 80.5h1.2v1.2h-1.2zM35.1 81.7h1.4v1.4h-1.4zM35.3 81.4h1.2v1.2h-1.2zM36.2 80.6h1.4v1.4h-1.4zM34 81.3h1.4v1.4h-1.4zM31.9 69h1.3v1.3h-1.3zM30.8 67.5h1.1v1.1h-1.1zM31 70.1h1.1v1.1h-1.1zM32.4 67.8h1.2v1.2h-1.2zM31 67.9h1.3v1.3h-1.3zM34.7 76.1h1.1v1.1h-1.1zM32.2 76.7h1.6v1.6h-1.6zM32.6 76.5h1.1v1.1h-1.1zM33.8 76.7h1v1h-1zM33.5 75.8h1.4v1.4h-1.4zM39 54.7h1.2v1.2h-1.2zM37.6 54.7h1.5v1.5h-1.5zM37.9 55.9h1.4v1.4h-1.4zM38.2 55.8h1.2v1.2h-1.2zM38.7 55.7h1.5v1.5h-1.5zM16.5 57h1.4v1.4h-1.4zM17.2 57.9h1.1v1.1h-1.1zM16.7 57.1h1.4v1.4h-1.4zM17.5 58.2h1.6v1.6h-1.6zM17.3 58.1h1.1v1.1h-1.1zM23.4 67.6h1.1v1.1h-1.1zM24.6 70.2h1.3v1.3h-1.3zM23.7 69.5h1.2v1.2h-1.2zM24.8 69h1v1h-1zM22.4 69.7h1.2v1.2h-1.2zM22.3 72.5h1.5v1.5h-1.5zM22.8 70.9h1.1v1.1h-1.1zM23.3 72.8h1.2v1.2h-1.2zM23.4 70.5h1.4v1.4h-1.4zM22.8 73.4h1.1v1.1h-1.1zM37.1 61h1.4v1.4h-1.4zM37.4 60.7h1.1v1.1h-1.1zM36.2 60.8h1v1h-1zM36.5 60.9h1.3v1.3h-1.3zM36.5 62.2h1.2v1.2h-1.2zM44.1 77.5h1.6v1.6h-1.6zM44.4 77.9h1.1v1.1h-1.1zM43.9 76h1.4v1.4h-1.4zM43.8 77.5h1.4v1.4h-1.4zM43 77.1h1.2v1.2h-1.2zM39.3 57.8h1.2v1.2h-1.2zM41.3 56.2h1v1h-1zM40.6 57.1h1.4v1.4h-1.4zM39.8 57.1h1.2v1.2h-1.2zM38.8 56.7h1.1v1.1h-1.1zM27.9 60.2h1.3v1.3h-1.3zM27.2 60.7h1.2v1.2h-1.2zM27.6 59.5h1.1v1.1h-1.1zM27.9 60.7h1.1v1.1h-1.1zM28.1 60.6h1v1h-1zM33.5 59.2h1.2v1.2h-1.2zM34.9 57.2h1.2v1.2h-1.2zM35.6 57h1.2v1.2h-1.2zM33.9 58.5h1.1v1.1h-1.1zM35 58.6h1v1h-1zM28.8 56.5h1.4v1.4h-1.4zM29.2 59.3h1.3v1.3h-1.3zM27.3 56.8h1.2v1.2h-1.2zM29 56.9h1.2v1.2h-1.2zM29.3 56.8h1.5v1.5h-1.5zM35.4 58.2h1v1h-1zM36.6 57.7h1.4v1.4h-1.4zM36.7 57h1.2v1.2h-1.2zM36.9 59.1h1.1v1.1h-1.1zM35.1 58.6h1.4v1.4h-1.4zM22.5 58.3h1.4v1.4h-1.4zM23.9 58.9h1.4v1.4h-1.4zM24.7 58.7h1.2v1.2h-1.2zM23.7 58.1h1.4v1.4h-1.4zM23 56.8h1.5v1.5h-1.5zM44 85.8h1.2v1.2h-1.2zM43.3 86.2h1.6v1.6h-1.6zM43.9 84.3h1v1h-1zM42.4 84.4h1v1h-1zM43.7 85.6h1.4v1.4h-1.4zM32.3 62h1.5v1.5h-1.5zM32.4 62.6h1.4v1.4h-1.4zM33.4 63.6h1v1h-1zM32.8 63.5h1.5v1.5h-1.5zM31.1 61.8h1.3v1.3h-1.3zM36.6 79.6h1.1v1.1h-1.1zM37.1 78.9h1.5v1.5h-1.5zM36.7 78.1h1.1v1.1h-1.1zM36.6 78.1h1.5v1.5h-1.5zM36.6 77.5h1.5v1.5h-1.5zM22.7 54.4h1.3v1.3h-1.3zM22 55.5h1.3v1.3h-1.3zM22.2 55h1.1v1.1h-1.1zM22.7 56.3h1.1v1.1h-1.1zM22.4 54.2h1.5v1.5h-1.5zM35.7 68.5h1.2v1.2h-1.2zM34.7 67.5h1.3v1.3h-1.3zM36.9 66.8h1.5v1.5h-1.5zM37.4 69.2h1v1h-1zM35.7 67.1h1.5v1.5h-1.5zM23.3 72.7h1.2v1.2h-1.2zM24.4 72.3h1.4v1.4h-1.4zM24.1 73.3h1.1v1.1h-1.1zM25.2 73.2h1.1v1.1h-1.1zM22.7 72.3h1.1v1.1h-1.1zM40.2 87.1h1.4v1.4h-1.4zM38.8 86.3h1.1v1.1h-1.1zM39.7 84.8h1.6v1.6h-1.6zM40.3 84.9h1.6v1.6h-1.6zM40.9 86.2h1.4v1.4h-1.4zM18 55.4h1.3v1.3h-1.3zM17 58h1.1v1.1h-1.1zM16.3 56h1.5v1.5h-1.5zM17.7 57.4h1.2v1.2h-1.2zM16.5 55.5h1.1v1.1h-1.1zM36.1 73.5h1.2v1.2h-1.2zM37.2 74.9h1.1v1.1h-1.1zM36.6 73h1.1v1.1h-1.1zM36 73.9h1.5v1.5h-1.5zM37.5 72.1h1.5v1.5h-1.5zM23.6 56.5h1.4v1.4h-1.4zM23.5 58h1v1h-1zM23.7 56.3h1.4v1.4h-1.4zM23.3 56.3h1.5v1.5h-1.5zM22.9 55h1.5v1.5h-1.5zM34.2 72.2h1v1h-1zM34.4 73.4h1.1v1.1h-1.1zM34.3 74.4h1.2v1.2h-1.2zM32 73.4h1.1v1.1h-1.1zM33.4 74.4h1.2v1.2h-1.2zM19.1 62h1v1h-1zM20 60.1h1.2v1.2h-1.2zM19.5 61h1v1h-1zM19.1 59.8h1.1v1.1h-1.1zM20.6 60.8h1.4v1.4h-1.4zM28.4 65.8h1.5v1.5h-1.5zM29.7 65.4h1.6v1.6h-1.6zM29 67.3h1.6v1.6h-1.6zM30.3 65.6h1.4v1.4h-1.4zM28.3 67.5h1.6v1.6h-1.6zM39.6 59.9h1.5v1.5h-1.5zM37.5 59.9h1.6v1.6h-1.6zM39.2 59.7h1.1v1.1h-1.1zM40.3 60.5h1.3v1.3h-1.3zM38.5 59.5h1.1v1.1h-1.1zM20 62.2h1.1v1.1h-1.1zM20.2 61.4h1.6v1.6h-1.6zM22.4 60.5h1v1h-1zM21.5 62h1.5v1.5h-1.5zM22.2 61.8h1.6v1.6h-1.6zM24.9 55.7h1.6v1.6h-1.6zM26.8 58.1h1.4v1.4h-1.4zM25 58.1h1.4v1.4h-1.4zM27.3 57.7h1.1v1.1h-1.1zM26.3 56h1.2v1.2h-1.2zM35.7 59h1.2v1.2h-1.2zM35.9 59.2h1v1h-1zM34.6 58.8h1.6v1.6h-1.6zM33.5 57.8h1.6v1.6h-1.6zM33.5 58.5h1.1v1.1h-1.1zM26.4 61.9h1.1v1.1h-1.1zM26 62.1h1.4v1.4h-1.4zM28.8 63.6h1.3v1.3h-1.3zM27.2 62.7h1.1v1.1h-1.1zM27.4 63.5h1.4v1.4h-1.4zM35.4 58.4h1.2v1.2h-1.2zM35.7 57.9h1.1v1.1h-1.1zM34 59.6h1.3v1.3h-1.3zM35.5 57.8h1.4v1.4h-1.4zM34.8 59.1h1v1h-1zM39.3 57.8h1.4v1.4h-1.4zM40.9 59.5h1.2v1.2h-1.2zM39.7 58.2h1v1h-1zM40.5 59.8h1.1v1.1h-1.1zM39.9 58.6h1.2v1.2h-1.2zM32.4 73.2h1.2v1.2h-1.2zM32.5 75.1h1.2v1.2h-1.2zM33.3 74h1.4v1.4h-1.4zM32.6 74.3h1.1v1.1h-1.1zM34.7 73.7h1.3v1.3h-1.3zM21.5 68.1h1.5v1.5h-1.5zM22.7 68.3h1.2v1.2h-1.2zM22.3 70.7h1.4v1.4h-1.4zM22.3 70.3h1.5v1.5h-1.5zM21.9 69.4h1.5v1.5h-1.5zM28.8 56h1.5v1.5h-1.5zM29.1 56.5h1.4v1.4h-1.4zM27.4 56.9h1.1v1.1h-1.1zM29.6 57.3h1.5v1.5h-1.5zM27.1 55.7h1.6v1.6h-1.6zM25 66.8h1.5v1.5h-1.5zM26.6 67.4h1.3v1.3h-1.3zM25.7 66.9h1.1v1.1h-1.1zM25.9 67.7h1.6v1.6h-1.6zM27.1 67.4h1.1v1.1h-1.1zM26.8 65.3h1.2v1.2h-1.2zM25.4 66.8h1.4v1.4h-1.4zM25.2 67.7h1.2v1.2h-1.2zM25.6 67.1h1.6v1.6h-1.6zM27.5 65.1h1.5v1.5h-1.5zM23.8 61.8h1.5v1.5h-1.5zM22.3 64.4h1.3v1.3h-1.3zM24.3 62.4h1.3v1.3h-1.3zM23.8 62.2h1.1v1.1h-1.1zM24.2 63.6h1.5v1.5h-1.5zM39.9 62.6h1.2v1.2h-1.2zM39.5 61.9h1.4v1.4h-1.4zM37.7 60.7h1.2v1.2h-1.2zM38.8 60.9h1.5v1.5h-1.5zM39 61.6h1.1v1.1h-1.1zM22.9 67.9h1.5v1.5h-1.5zM23.3 67.3h1.2v1.2h-1.2zM22.5 65.3h1.5v1.5h-1.5zM23.5 65.2h1.5v1.5h-1.5zM23.4 67.1h1v1h-1zM32.7 67.3h1.3v1.3h-1.3zM33.6 68.9h1.2v1.2h-1.2zM31.9 68h1.4v1.4h-1.4zM34 67.6h1.4v1.4h-1.4zM33.5 67.5h1.1v1.1h-1.1zM40.9 64.7h1.5v1.5h-1.5zM41.1 63.9h1.4v1.4h-1.4zM40.7 64.2h1.4v1.4h-1.4zM41.7 63h1.3v1.3h-1.3zM39.9 62.3h1.4v1.4h-1.4zM30.2 59.9h1.5v1.5h-1.5zM32.2 60.4h1.3v1.3h-1.3zM31.9 60.7h1.5v1.5h-1.5zM30.3 58.9h1.1v1.1h-1.1zM30.3 60.7h1.5v1.5h-1.5z" fill="#5500b6" />
<path d="M35.3 69.9h1.6v1.6h-1.6zM26.5 59.6h1.3v1.3h-1.3zM32.7 54.5h1.4v1.4h-1.4zM15 55.8h1.3v1.3h-1.3zM21.2 62.7h1.5v1.5h-1.5z" fill="#ff80f8" />
<path d="M11,28.8 C12.5,28.72 17.17,28.55 20,28.3 C22.83,28.05 25.5,27.88 28,27.3 C30.5,26.72 32.83,25.98 35,24.8 C37.17,23.62 39.17,21.92 41,20.2 C42.83,18.48 44.5,16.28 46,14.5 C47.5,12.72 48.83,11 50,9.5 C51.17,8 52.5,6.17 53,5.5" fill="none" stroke="#fff" stroke-width="1.2" stroke-linecap="round"/>
<path d="M16.5,47.8 C17.42,47.33 20.08,45.97 22,45 C23.92,44.03 26.08,43.07 28,42 C29.92,40.93 32.58,39.17 33.5,38.6" fill="none" stroke="#fff" stroke-width="1.4" stroke-linecap="round"/>
</g>
<g transform="translate(257,120.7)">
<use href="#peb"/>
<use href="#pet"/>
<path d="M35,36.3 C36.08,36.22 36.75,38.38 37.5,40 C38.25,41.62 39,43.83 39.5,46 C40,48.17 40.25,50.67 40.5,53 C40.75,55.33 40.92,57.5 41,60 C41.08,62.5 40.83,65.5 41,68 C41.17,70.5 41.42,73 42,75 C42.58,77 43.42,78.5 44.5,80 C45.58,81.5 47.62,82.75 48.5,84 C49.38,85.25 50.05,86.55 49.8,87.5 C49.55,88.45 48.3,89.35 47,89.7 C45.7,90.05 43.67,89.95 42,89.6 C40.33,89.25 38.67,88.45 37,87.6 C35.33,86.75 33.67,85.68 32,84.5 C30.33,83.32 28.5,81.7 27,80.5 C25.5,79.3 24.17,78.47 23,77.3 C21.83,76.13 21,74.88 20,73.5 C19,72.12 17.83,70.75 17,69 C16.17,67.25 15.42,65.17 15,63 C14.58,60.83 14.47,57.92 14.5,56 C14.53,54.08 14.62,52.7 15.2,51.5 C15.78,50.3 16.87,49.63 18,48.8 C19.13,47.97 20.5,47.38 22,46.5 C23.5,45.62 25.5,44.5 27,43.5 C28.5,42.5 29.67,41.7 31,40.5 C32.33,39.3 33.92,36.38 35,36.3Z" fill="#5500b6" />
<path d="M31,84 C31.08,83.28 32.92,82.2 34,81.5 C35.08,80.8 36.33,80.28 37.5,79.8 C38.67,79.32 40,78.65 41,78.6 C42,78.55 42.67,78.93 43.5,79.5 C44.33,80.07 45.17,81.2 46,82 C46.83,82.8 47.87,83.38 48.5,84.3 C49.13,85.22 50.05,86.6 49.8,87.5 C49.55,88.4 48.3,89.35 47,89.7 C45.7,90.05 43.67,89.95 42,89.6 C40.33,89.25 38.42,88.23 37,87.6 C35.58,86.97 34.5,86.4 33.5,85.8 C32.5,85.2 30.92,84.72 31,84Z" fill="#ff80f8" />
<path d="M29.2 62.2h1.6v1.6h-1.6zM35.2 68.2h1.6v1.6h-1.6zM28.2 71.2h1.6v1.6h-1.6zM25.2 59.2h1.6v1.6h-1.6zM39.2 65.2h1.6v1.6h-1.6zM32.2 64.2h1.6v1.6h-1.6zM23.2 65.2h1.6v1.6h-1.6zM37.2 73.2h1.6v1.6h-1.6zM20.2 61.2h1.6v1.6h-1.6zM34.2 59.2h1.6v1.6h-1.6zM27.2 67.2h1.6v1.6h-1.6zM30.2 75.2h1.6v1.6h-1.6z" fill="#ff80f8" />
<path d="M50.5,79 C50.92,78.17 52.75,77.42 54,76.5 C55.25,75.58 56.67,74.5 58,73.5 C59.33,72.5 60.67,71.42 62,70.5 C63.33,69.58 64.67,68.92 66,68 C67.33,67.08 68.67,65.92 70,65 C71.33,64.08 72.67,63.33 74,62.5 C75.33,61.67 76.75,60.78 78,60 C79.25,59.22 81.08,57.72 81.5,57.8 C81.92,57.88 81.25,59.55 80.5,60.5 C79.75,61.45 78.25,62.5 77,63.5 C75.75,64.5 74.33,65.5 73,66.5 C71.67,67.5 70.33,68.58 69,69.5 C67.67,70.42 66.33,71.17 65,72 C63.67,72.83 62.33,73.58 61,74.5 C59.67,75.42 58.17,76.58 57,77.5 C55.83,78.42 54.92,79.33 54,80 C53.08,80.67 52.08,81.67 51.5,81.5 C50.92,81.33 50.08,79.83 50.5,79Z" fill="#fff" />
<use href="#pegs"/>
<path d="M12,27.6 C13.33,27.72 17.33,28.23 20,28.3 C22.67,28.37 25.5,28.47 28,28 C30.5,27.53 32.83,26.67 35,25.5 C37.17,24.33 39.17,22.75 41,21 C42.83,19.25 44.5,16.92 46,15 C47.5,13.08 48.83,11.08 50,9.5 C51.17,7.92 52.5,6.17 53,5.5" fill="none" stroke="#fff" stroke-width="1.2" stroke-linecap="round"/>
</g>
<g transform="translate(364,14)">
<use href="#hcb"/>
<path d="M13.7,20.1 C13.72,18.5 14.17,16.4 14.8,14.8 C15.43,13.2 16.3,11.88 17.5,10.5 C18.7,9.12 20.33,7.65 22,6.5 C23.67,5.35 25.67,4.38 27.5,3.6 C29.33,2.82 31.13,2.3 33,1.8 C34.87,1.3 36.87,0.82 38.7,0.6 C40.53,0.38 42.07,0.45 44,0.5 C45.93,0.55 49.1,0.35 50.3,0.9 C51.5,1.45 51.37,2.52 51.2,3.8 C51.03,5.08 50.1,7.17 49.3,8.6 C48.5,10.03 47.52,10.97 46.4,12.4 C45.28,13.83 44.03,15.75 42.6,17.2 C41.17,18.65 39.57,19.9 37.8,21.1 C36.03,22.3 34.08,23.52 32,24.4 C29.92,25.28 27.55,26.07 25.3,26.4 C23.05,26.73 20.27,26.73 18.5,26.4 C16.73,26.07 15.5,25.45 14.7,24.4 C13.9,23.35 13.68,21.7 13.7,20.1Z" fill="#ff8000" />
<use href="#hcto"/>
<path d="M35,36 C35.75,35.92 36.83,36.67 37.5,38 C38.17,39.33 38.58,41.67 39,44 C39.42,46.33 39.75,50.08 40,52 C40.25,53.92 41.5,55 40.5,55.5 C39.5,56 36.25,55.17 34,55 C31.75,54.83 29.33,54.53 27,54.5 C24.67,54.47 21.95,54.72 20,54.8 C18.05,54.88 16.05,55.47 15.3,55 C14.55,54.53 15.13,53.08 15.5,52 C15.87,50.92 16.75,49.42 17.5,48.5 C18.25,47.58 18.92,47.25 20,46.5 C21.08,45.75 22.5,44.83 24,44 C25.5,43.17 27.5,42.42 29,41.5 C30.5,40.58 32,39.42 33,38.5 C34,37.58 34.25,36.08 35,36Z" fill="#ff8000" />
<path d="M27.4 70.1h1.5v1.5h-1.5zM27.8 71.3h1.3v1.3h-1.3zM26.7 71.4h1.5v1.5h-1.5zM27.3 69.4h1.3v1.3h-1.3zM27.6 71.3h1.4v1.4h-1.4zM16.9 54.8h1.5v1.5h-1.5zM16 54.2h1.5v1.5h-1.5zM16.2 56.6h1.4v1.4h-1.4zM14.8 55.7h1.5v1.5h-1.5zM17.2 55h1.3v1.3h-1.3zM35.5 57.8h1.4v1.4h-1.4zM34.4 58.2h1.4v1.4h-1.4zM36.2 59.4h1.1v1.1h-1.1zM34.6 59.8h1.6v1.6h-1.6zM35.2 57.7h1.6v1.6h-1.6zM30.9 56.8h1.1v1.1h-1.1zM32.8 55.1h1.3v1.3h-1.3zM31.9 55.1h1v1h-1zM33.2 57.7h1.1v1.1h-1.1zM32.5 57.5h1.5v1.5h-1.5zM17 61h1.3v1.3h-1.3zM16.5 60.6h1.5v1.5h-1.5zM16.9 60.1h1.1v1.1h-1.1zM16.4 61.3h1.4v1.4h-1.4zM18.5 60.8h1.6v1.6h-1.6zM20.8 61.3h1.1v1.1h-1.1zM21 58.7h1v1h-1zM21.1 60.1h1.3v1.3h-1.3zM22 60.7h1.6v1.6h-1.6zM21.4 59.3h1.1v1.1h-1.1zM37.1 57.6h1.4v1.4h-1.4zM35.9 58.6h1v1h-1zM36.3 58.3h1.2v1.2h-1.2zM35.5 58.8h1.4v1.4h-1.4zM35.8 57.5h1.2v1.2h-1.2zM33.6 63.5h1.1v1.1h-1.1zM34 63.4h1.3v1.3h-1.3zM35.1 62.1h1.4v1.4h-1.4zM34.2 62.7h1.3v1.3h-1.3zM35.9 63.5h1.3v1.3h-1.3zM30.6 73.5h1.5v1.5h-1.5zM29.9 72h1.1v1.1h-1.1zM30.5 73.6h1.5v1.5h-1.5zM30.5 72.3h1.6v1.6h-1.6zM29.8 73.8h1.3v1.3h-1.3zM22.4 64h1.5v1.5h-1.5zM22.7 64.7h1.5v1.5h-1.5zM23.8 65.1h1.2v1.2h-1.2zM24 64.4h1.3v1.3h-1.3zM22.9 66.6h1.1v1.1h-1.1zM30.7 72.5h1.5v1.5h-1.5zM30.7 70.5h1.6v1.6h-1.6zM31.8 72h1.5v1.5h-1.5zM30.9 71.4h1.5v1.5h-1.5zM30.7 70.7h1.5v1.5h-1.5zM39.7 70.5h1.5v1.5h-1.5zM38.1 70.1h1.4v1.4h-1.4zM38.5 70.8h1.3v1.3h-1.3zM38.6 71h1.4v1.4h-1.4zM37.7 71.6h1.3v1.3h-1.3zM37.3 63.8h1.4v1.4h-1.4zM38.1 63.1h1.6v1.6h-1.6zM37.8 62.1h1.2v1.2h-1.2zM36.8 64.3h1.5v1.5h-1.5zM37.3 63.7h1.1v1.1h-1.1zM39.4 66.4h1.5v1.5h-1.5zM40.5 68h1.1v1.1h-1.1zM40.1 66.5h1.1v1.1h-1.1zM38.5 66.3h1.5v1.5h-1.5zM39.6 68.5h1.4v1.4h-1.4zM22 63.4h1.2v1.2h-1.2zM21.9 62.7h1.4v1.4h-1.4zM22.1 63.4h1.3v1.3h-1.3zM21.4 62.1h1.3v1.3h-1.3zM22.2 63.1h1v1h-1zM38.4 59.5h1.1v1.1h-1.1zM38 58.7h1.1v1.1h-1.1zM38.3 57.9h1.4v1.4h-1.4zM38.1 58.8h1.1v1.1h-1.1zM38.8 57.4h1.2v1.2h-1.2zM17.8 55.2h1.1v1.1h-1.1zM17.5 56.9h1.1v1.1h-1.1zM17.9 56.4h1.6v1.6h-1.6zM18.5 57.7h1.2v1.2h-1.2zM18.7 55.9h1.2v1.2h-1.2zM25.8 54.6h1v1h-1zM26.5 53.3h1.6v1.6h-1.6zM26.4 53.8h1.2v1.2h-1.2zM25.9 54.6h1.2v1.2h-1.2zM26.3 53.7h1.2v1.2h-1.2zM37 61.1h1.2v1.2h-1.2zM36.2 60.3h1.6v1.6h-1.6zM38.6 60.7h1.3v1.3h-1.3zM36.4 61.2h1.4v1.4h-1.4zM36.9 61.3h1.1v1.1h-1.1zM24 63.4h1.3v1.3h-1.3zM23.9 63.3h1.2v1.2h-1.2zM24.6 64.2h1.2v1.2h-1.2zM23.6 64.6h1v1h-1zM24.5 62.5h1.1v1.1h-1.1zM41.5 73.6h1.2v1.2h-1.2zM41.5 71.8h1.6v1.6h-1.6zM42 72h1.4v1.4h-1.4zM40 74.7h1.3v1.3h-1.3zM41.7 72.6h1.4v1.4h-1.4zM22.4 58.1h1.1v1.1h-1.1zM21.9 59.4h1.4v1.4h-1.4zM21.3 60.2h1.2v1.2h-1.2zM23.7 58.9h1.3v1.3h-1.3zM21.8 58h1.6v1.6h-1.6zM23.1 62.5h1.4v1.4h-1.4zM24.1 62.9h1.5v1.5h-1.5zM24.1 64.1h1.2v1.2h-1.2zM23.9 63.4h1v1h-1zM23.6 63.7h1.5v1.5h-1.5zM30 61.4h1.2v1.2h-1.2zM30.1 61.2h1.3v1.3h-1.3zM28.6 61.3h1.1v1.1h-1.1zM29.7 61.2h1.2v1.2h-1.2zM28.5 63.1h1.1v1.1h-1.1zM22 58.7h1.3v1.3h-1.3zM21.1 59.3h1.1v1.1h-1.1zM22.3 58.8h1.3v1.3h-1.3zM22.2 57.3h1.5v1.5h-1.5zM22.1 58.1h1.5v1.5h-1.5zM31.5 54.7h1.5v1.5h-1.5zM33 55.6h1.4v1.4h-1.4zM32.3 53.9h1.2v1.2h-1.2zM33 53.7h1.1v1.1h-1.1zM30.9 54.5h1.2v1.2h-1.2zM27.2 60.1h1.5v1.5h-1.5zM28.1 60.5h1.4v1.4h-1.4zM28.6 59.8h1.3v1.3h-1.3zM27.5 60.6h1.1v1.1h-1.1zM29.4 59.1h1.3v1.3h-1.3zM40.1 67.9h1.2v1.2h-1.2zM38 66.7h1.3v1.3h-1.3zM39 67.1h1v1h-1zM39.1 67.1h1.3v1.3h-1.3zM37.5 66.7h1.6v1.6h-1.6zM29.1 55.5h1.1v1.1h-1.1zM30.6 55.9h1.4v1.4h-1.4zM29.7 56.5h1.3v1.3h-1.3zM28.5 55.4h1.1v1.1h-1.1zM30.4 56.9h1.6v1.6h-1.6zM35 60.6h1.2v1.2h-1.2zM35.5 60.5h1v1h-1zM35.6 60.7h1.4v1.4h-1.4zM35.9 60.4h1.2v1.2h-1.2zM34 60.5h1.3v1.3h-1.3zM18.7 62.2h1v1h-1zM18.2 62h1.4v1.4h-1.4zM20.4 60.9h1.4v1.4h-1.4zM20.4 60.7h1.1v1.1h-1.1zM18.4 60.7h1.5v1.5h-1.5zM35.9 54.5h1.4v1.4h-1.4zM38.3 56h1.2v1.2h-1.2zM37.3 55.1h1v1h-1zM36.4 55h1.3v1.3h-1.3zM37.4 54.3h1.6v1.6h-1.6zM40.2 63.2h1.3v1.3h-1.3zM40.7 63.9h1.4v1.4h-1.4zM39.6 62.6h1.3v1.3h-1.3zM40.9 64.2h1.5v1.5h-1.5zM40.7 64.1h1.2v1.2h-1.2zM36 55.3h1v1h-1zM34.1 53.3h1.6v1.6h-1.6zM35.3 54.3h1.1v1.1h-1.1zM35.7 54.8h1.2v1.2h-1.2zM34.6 54.4h1v1h-1zM14.5 60h1.4v1.4h-1.4zM16.3 59.3h1.2v1.2h-1.2zM14.3 57.5h1.1v1.1h-1.1zM15.1 58.7h1.5v1.5h-1.5zM16.7 59.7h1.4v1.4h-1.4zM36.3 67.1h1.5v1.5h-1.5zM37.8 69.2h1.5v1.5h-1.5zM36.3 68.7h1.1v1.1h-1.1zM36.9 67.6h1.3v1.3h-1.3zM37 67.3h1.5v1.5h-1.5zM30.3 58.8h1.1v1.1h-1.1zM30.8 58.2h1.6v1.6h-1.6zM29.2 58.3h1.4v1.4h-1.4zM30.6 60.2h1.2v1.2h-1.2zM29 59.9h1.2v1.2h-1.2zM16.4 65h1.5v1.5h-1.5zM18.1 63.7h1v1h-1zM17.8 63.2h1.5v1.5h-1.5zM16.8 63h1.5v1.5h-1.5zM19.2 63.9h1.2v1.2h-1.2zM15.8 61.2h1.2v1.2h-1.2zM16.5 58.9h1.1v1.1h-1.1zM14.7 61.1h1.4v1.4h-1.4zM14.2 60.6h1.5v1.5h-1.5zM15.2 60h1.5v1.5h-1.5zM19.6 63.8h1v1h-1zM19.3 62.8h1.3v1.3h-1.3zM19.7 61.9h1.1v1.1h-1.1zM21.2 62.5h1.2v1.2h-1.2zM20.9 63.5h1.3v1.3h-1.3zM32.8 63.8h1.2v1.2h-1.2zM31.9 61.8h1.3v1.3h-1.3zM32.1 63.2h1.5v1.5h-1.5zM33.1 63.8h1.3v1.3h-1.3zM31.1 63.5h1v1h-1zM28 53.6h1.3v1.3h-1.3zM26.6 54.9h1.1v1.1h-1.1zM26.7 54.8h1.2v1.2h-1.2zM27.8 54.1h1.3v1.3h-1.3zM27.9 54.1h1v1h-1zM27.7 73.2h1.2v1.2h-1.2zM28 70.7h1.3v1.3h-1.3zM30.1 72.7h1.3v1.3h-1.3zM29.7 72.3h1.4v1.4h-1.4zM30.2 71.4h1.3v1.3h-1.3zM22.2 64.5h1v1h-1zM24.7 65.6h1.6v1.6h-1.6zM23.3 66h1.4v1.4h-1.4zM22.3 66h1.1v1.1h-1.1zM22.2 64.9h1.5v1.5h-1.5zM36.2 57.5h1.2v1.2h-1.2zM36.1 58.8h1.6v1.6h-1.6zM35.8 58.8h1.1v1.1h-1.1zM37.9 59.1h1.4v1.4h-1.4zM37.4 57.9h1v1h-1zM34.7 55h1.1v1.1h-1.1zM32 54.5h1.5v1.5h-1.5zM33.9 54.1h1.2v1.2h-1.2zM33.7 53.7h1.1v1.1h-1.1zM33.2 54.2h1.4v1.4h-1.4zM35.2 65.5h1.4v1.4h-1.4zM34.6 63h1.3v1.3h-1.3zM34.5 64.5h1.3v1.3h-1.3zM34.4 64.1h1.3v1.3h-1.3zM34.1 65.2h1.2v1.2h-1.2zM40 54.5h1.2v1.2h-1.2zM37.9 56h1.2v1.2h-1.2zM39.9 53.9h1.5v1.5h-1.5zM38.7 55.1h1.2v1.2h-1.2zM39 55.3h1.1v1.1h-1.1zM23.3 66.1h1.1v1.1h-1.1zM24.1 66.6h1.5v1.5h-1.5zM22.8 68.2h1v1h-1zM22.2 68.1h1.2v1.2h-1.2zM23.6 66.5h1.1v1.1h-1.1zM33.1 69.8h1.2v1.2h-1.2zM32.8 69.7h1v1h-1zM31 68h1.4v1.4h-1.4zM31.2 70h1.6v1.6h-1.6zM32.2 69h1.2v1.2h-1.2zM21.3 68.8h1v1h-1zM21.3 69.1h1.1v1.1h-1.1zM21.2 69h1.2v1.2h-1.2zM21.6 67.2h1.1v1.1h-1.1zM20.2 67.7h1.5v1.5h-1.5zM26.2 73.6h1.3v1.3h-1.3zM25.6 73.3h1.3v1.3h-1.3zM24.6 74.1h1v1h-1zM24.9 73.4h1.1v1.1h-1.1zM24.7 73.1h1.4v1.4h-1.4zM41.4 59.7h1.3v1.3h-1.3zM40.1 59.5h1.3v1.3h-1.3zM40.6 60.1h1.4v1.4h-1.4zM41.2 59.7h1.5v1.5h-1.5zM39.3 58.8h1v1h-1zM32.1 67.1h1.4v1.4h-1.4zM30 65.3h1.1v1.1h-1.1zM31.6 65.7h1.1v1.1h-1.1zM31.5 66.4h1.2v1.2h-1.2zM31.3 66h1.6v1.6h-1.6zM25.9 63.5h1.4v1.4h-1.4zM26.1 63.5h1.3v1.3h-1.3zM26.5 63.6h1.2v1.2h-1.2zM26.6 62.3h1.4v1.4h-1.4zM27 64.2h1.4v1.4h-1.4zM28.2 56.7h1.1v1.1h-1.1zM27.6 55.9h1.3v1.3h-1.3zM28.4 55.8h1.3v1.3h-1.3zM28 56.3h1.5v1.5h-1.5zM28 55h1.6v1.6h-1.6zM37.1 57.9h1.4v1.4h-1.4zM38.1 59.8h1.2v1.2h-1.2zM39.6 58.2h1.3v1.3h-1.3zM39.3 59.9h1.2v1.2h-1.2zM39 58.6h1.2v1.2h-1.2zM17.9 61.9h1.2v1.2h-1.2zM19.3 62h1.3v1.3h-1.3zM18.5 63.2h1.6v1.6h-1.6zM18.3 63.7h1.6v1.6h-1.6zM19.4 61.7h1.4v1.4h-1.4zM38.8 61.9h1.2v1.2h-1.2zM39.6 63.9h1.2v1.2h-1.2zM39.4 63.8h1.2v1.2h-1.2zM38.7 62.4h1.1v1.1h-1.1zM40.8 63.1h1.3v1.3h-1.3zM28.6 71.3h1.3v1.3h-1.3zM28.4 70.9h1.1v1.1h-1.1zM28.5 69.6h1.6v1.6h-1.6zM27.5 68.7h1.6v1.6h-1.6zM28.9 71.2h1.2v1.2h-1.2zM28.4 61h1.1v1.1h-1.1zM28.7 61.5h1.5v1.5h-1.5zM28.8 59.9h1.5v1.5h-1.5zM26.8 61.2h1.4v1.4h-1.4zM27.1 60.4h1.6v1.6h-1.6zM31.5 70.9h1.3v1.3h-1.3zM31.7 71h1.4v1.4h-1.4zM32.5 69.5h1.4v1.4h-1.4zM32.5 70.9h1.3v1.3h-1.3zM30.3 69.2h1.3v1.3h-1.3zM14.7 63.2h1.5v1.5h-1.5zM16.8 64.9h1.4v1.4h-1.4zM17.3 62.8h1.6v1.6h-1.6zM17.5 63h1.2v1.2h-1.2zM17.2 64.4h1.4v1.4h-1.4zM33.4 76.5h1.2v1.2h-1.2zM34.9 74.8h1.4v1.4h-1.4zM34.2 74.3h1.5v1.5h-1.5zM32.9 74.4h1.1v1.1h-1.1zM33.6 74.1h1v1h-1zM34.4 59.4h1.5v1.5h-1.5zM35.9 60.1h1.3v1.3h-1.3zM34.3 61.7h1.6v1.6h-1.6zM35.5 60h1.1v1.1h-1.1zM35.6 62h1.1v1.1h-1.1zM32.9 68.5h1.5v1.5h-1.5zM31.7 68.7h1.5v1.5h-1.5zM31.7 70.2h1.1v1.1h-1.1zM31.4 70.3h1.2v1.2h-1.2zM32.2 69.8h1.3v1.3h-1.3zM33.6 63.7h1.1v1.1h-1.1zM34 63.7h1.1v1.1h-1.1zM33.1 63.5h1.1v1.1h-1.1zM32 64.3h1.5v1.5h-1.5zM33.4 63.5h1.3v1.3h-1.3zM29.3 59.6h1.1v1.1h-1.1zM30.4 58.5h1.2v1.2h-1.2zM28.8 60.2h1.6v1.6h-1.6zM29.1 59.1h1.2v1.2h-1.2zM28.4 60.2h1.5v1.5h-1.5zM22.6 59.6h1.6v1.6h-1.6zM20.5 58.8h1.1v1.1h-1.1zM21.4 58.8h1.1v1.1h-1.1zM21.6 57.9h1.2v1.2h-1.2zM21.5 58.8h1.1v1.1h-1.1zM20.9 62.9h1.2v1.2h-1.2zM19.3 61.7h1.6v1.6h-1.6zM20.9 63.1h1.4v1.4h-1.4zM20.1 61.4h1.3v1.3h-1.3zM21 62.3h1.2v1.2h-1.2zM29.5 54.9h1.4v1.4h-1.4zM30.1 56.4h1.5v1.5h-1.5zM30.2 54.8h1.2v1.2h-1.2zM29.5 54.6h1.4v1.4h-1.4zM31.1 57.1h1.3v1.3h-1.3zM28.1 75.4h1.1v1.1h-1.1zM27.3 73.4h1.4v1.4h-1.4zM28 74.7h1.2v1.2h-1.2zM29.7 74.9h1v1h-1zM27.5 75.9h1.5v1.5h-1.5zM42.6 68.5h1.1v1.1h-1.1zM40.2 68.2h1.1v1.1h-1.1zM39.8 69.3h1.5v1.5h-1.5zM40.4 69h1.5v1.5h-1.5zM39.7 68.5h1.3v1.3h-1.3zM16.7 59.9h1.2v1.2h-1.2zM15.8 60h1.6v1.6h-1.6zM17.2 58.7h1.4v1.4h-1.4zM15.5 61.2h1.3v1.3h-1.3zM15.5 60.6h1.2v1.2h-1.2zM16.5 61.7h1.4v1.4h-1.4zM17.3 61.8h1.6v1.6h-1.6zM17 63.3h1.3v1.3h-1.3zM17.3 64.1h1.1v1.1h-1.1zM16.8 63.5h1.4v1.4h-1.4zM27.5 55.6h1.6v1.6h-1.6zM27.7 54.7h1.4v1.4h-1.4zM28 54.8h1.1v1.1h-1.1zM27.4 56.5h1.2v1.2h-1.2zM27.1 55.2h1.1v1.1h-1.1zM29 59.1h1.6v1.6h-1.6zM29.3 59.5h1.4v1.4h-1.4zM30 60.9h1.3v1.3h-1.3zM28.6 60.1h1.5v1.5h-1.5zM31.1 60.2h1.3v1.3h-1.3zM31 63.4h1.1v1.1h-1.1zM31 62.5h1.5v1.5h-1.5zM31.2 64.1h1.1v1.1h-1.1zM30.5 64.8h1.2v1.2h-1.2zM31.3 63.6h1.6v1.6h-1.6zM17.7 64.1h1v1h-1zM18.8 62.9h1.1v1.1h-1.1zM17.3 63.7h1.6v1.6h-1.6zM19.1 62.6h1.3v1.3h-1.3zM19 63.9h1.2v1.2h-1.2zM40 54.8h1.4v1.4h-1.4zM38.2 56.6h1.6v1.6h-1.6zM38.5 56.6h1.5v1.5h-1.5zM37.7 55.1h1.4v1.4h-1.4zM39.7 56.1h1.4v1.4h-1.4zM20.3 56.9h1.1v1.1h-1.1zM21.6 57.4h1.6v1.6h-1.6zM22.4 56.7h1.5v1.5h-1.5zM20.6 55.8h1.1v1.1h-1.1zM20.8 56.2h1.6v1.6h-1.6zM17.4 56.9h1.4v1.4h-1.4zM19 57.6h1.1v1.1h-1.1zM17.8 57h1.1v1.1h-1.1zM17 59.1h1.4v1.4h-1.4zM18.7 58h1.3v1.3h-1.3zM21.3 63.9h1v1h-1zM19.9 63.4h1.4v1.4h-1.4zM21 62.2h1.4v1.4h-1.4zM20.2 64.4h1.2v1.2h-1.2zM20.3 63.8h1.3v1.3h-1.3zM29.2 53.7h1.5v1.5h-1.5zM28.1 55.9h1.1v1.1h-1.1zM30.1 53.7h1.2v1.2h-1.2zM28.4 53.7h1.5v1.5h-1.5zM28.1 55.1h1.6v1.6h-1.6zM19.8 56.9h1.2v1.2h-1.2zM17.5 57.7h1.2v1.2h-1.2zM19.1 58.8h1.1v1.1h-1.1zM17.2 56.9h1.4v1.4h-1.4zM17.3 58.6h1.5v1.5h-1.5zM24.4 54.4h1.5v1.5h-1.5zM26.3 52.9h1.1v1.1h-1.1zM25.1 54.8h1.3v1.3h-1.3zM24.7 54.9h1.5v1.5h-1.5zM24.7 53.1h1.2v1.2h-1.2zM27 56h1.3v1.3h-1.3zM25.7 54.8h1.3v1.3h-1.3zM26.5 53.8h1v1h-1zM26.9 54.1h1.3v1.3h-1.3zM27.2 54.4h1.3v1.3h-1.3zM40.4 74.1h1.6v1.6h-1.6zM38.8 75.2h1.4v1.4h-1.4zM39.7 74.6h1.5v1.5h-1.5zM40.7 75.6h1.5v1.5h-1.5zM39.1 76h1.2v1.2h-1.2zM36.1 62.2h1.2v1.2h-1.2zM37.1 62.7h1.2v1.2h-1.2zM36.5 61.3h1.4v1.4h-1.4zM37.1 62.9h1.3v1.3h-1.3zM37.9 62.6h1.4v1.4h-1.4zM24.6 57.8h1.1v1.1h-1.1zM25.3 58.1h1v1h-1zM24.3 56.8h1.4v1.4h-1.4zM24.2 57.2h1.2v1.2h-1.2zM22.9 56.8h1.4v1.4h-1.4zM32.2 63.4h1.4v1.4h-1.4zM33.7 63.3h1.1v1.1h-1.1zM33.6 62.6h1.4v1.4h-1.4zM33.1 61.8h1.4v1.4h-1.4zM31.2 63.9h1.6v1.6h-1.6zM18.5 54.5h1.2v1.2h-1.2zM19.2 53.8h1.5v1.5h-1.5zM18.7 55h1.2v1.2h-1.2zM17.2 52.5h1.3v1.3h-1.3zM18.4 54.5h1.1v1.1h-1.1zM31.2 68h1.1v1.1h-1.1zM30.1 67.2h1.3v1.3h-1.3zM30.6 66.9h1.2v1.2h-1.2zM29.5 67h1.4v1.4h-1.4zM29.7 67h1.2v1.2h-1.2zM25.7 68.2h1.2v1.2h-1.2zM26 68.4h1.3v1.3h-1.3zM26.7 69.2h1.5v1.5h-1.5zM27.1 70.5h1.2v1.2h-1.2zM25.7 67.6h1.6v1.6h-1.6zM38.6 71.5h1.5v1.5h-1.5zM37.2 72.2h1.5v1.5h-1.5zM37.2 70.7h1.2v1.2h-1.2zM37.6 70.8h1.2v1.2h-1.2zM39.5 71.9h1.3v1.3h-1.3zM22 69.6h1.3v1.3h-1.3zM22.5 69.2h1v1h-1zM21.8 71.5h1.1v1.1h-1.1zM21.2 69.9h1.3v1.3h-1.3zM22.2 71h1.3v1.3h-1.3zM18.4 54.4h1.4v1.4h-1.4zM19.1 56.4h1.2v1.2h-1.2zM18 55.2h1.6v1.6h-1.6zM16.9 55.7h1.5v1.5h-1.5zM17.1 55.3h1.5v1.5h-1.5zM22.9 61h1.6v1.6h-1.6zM21 60.9h1.4v1.4h-1.4zM22.1 60h1.5v1.5h-1.5zM21.1 60.3h1.4v1.4h-1.4zM22.1 61.4h1.4v1.4h-1.4zM24.5 60.1h1.6v1.6h-1.6zM24 59.8h1.6v1.6h-1.6zM25.9 60.5h1.6v1.6h-1.6zM24 60.7h1.5v1.5h-1.5zM24.8 59.1h1v1h-1zM44.1 84.6h1.1v1.1h-1.1zM43.9 82.8h1.5v1.5h-1.5zM41.9 84.3h1.1v1.1h-1.1zM42.7 84.7h1.5v1.5h-1.5zM43.2 83.4h1.3v1.3h-1.3zM29.4 63.9h1v1h-1zM28.5 64.1h1.2v1.2h-1.2zM29.6 63.8h1.3v1.3h-1.3zM28.4 63.9h1.6v1.6h-1.6zM28.4 63.7h1.4v1.4h-1.4zM24.1 66.6h1v1h-1zM24.4 66.5h1.3v1.3h-1.3zM25.3 64.8h1.1v1.1h-1.1zM25.4 65.5h1.4v1.4h-1.4zM24.3 64.9h1.2v1.2h-1.2zM21 58.3h1.4v1.4h-1.4zM21.2 59.8h1.4v1.4h-1.4zM21.9 58.4h1.2v1.2h-1.2zM21.7 60.3h1.4v1.4h-1.4zM21.2 60.3h1.3v1.3h-1.3zM35.1 63.5h1.3v1.3h-1.3zM34 61.3h1.3v1.3h-1.3zM36 60.8h1.5v1.5h-1.5zM34.5 63.4h1.5v1.5h-1.5zM33.7 63.4h1.1v1.1h-1.1zM37.8 53.4h1.4v1.4h-1.4zM38.2 55.5h1.2v1.2h-1.2zM39.1 55.5h1.1v1.1h-1.1zM39.1 55.3h1v1h-1zM39.1 53.7h1.1v1.1h-1.1zM32.7 59.5h1.3v1.3h-1.3zM32.8 60.1h1.3v1.3h-1.3zM32.6 60.4h1v1h-1zM32.3 60.7h1.1v1.1h-1.1zM32 58.3h1.3v1.3h-1.3zM21.7 66h1.6v1.6h-1.6zM24.2 64.7h1.1v1.1h-1.1zM23.9 65.3h1.5v1.5h-1.5zM23.4 65.4h1.1v1.1h-1.1zM23.2 64.9h1.2v1.2h-1.2zM33.2 75.3h1.5v1.5h-1.5zM33.8 74.5h1.1v1.1h-1.1zM34.8 74.5h1.2v1.2h-1.2zM33.6 76.5h1.2v1.2h-1.2zM33 76.1h1.5v1.5h-1.5zM20.7 57.6h1.2v1.2h-1.2zM20.6 56.8h1.1v1.1h-1.1zM23.2 57.2h1.4v1.4h-1.4zM22.4 55.4h1.3v1.3h-1.3zM22.6 55.5h1.3v1.3h-1.3zM32.9 64.7h1.3v1.3h-1.3zM33.4 64.6h1v1h-1zM32.3 64.6h1.3v1.3h-1.3zM33.5 62.6h1.5v1.5h-1.5zM31.3 63.8h1.4v1.4h-1.4zM33.9 69.9h1.1v1.1h-1.1zM35 68.6h1.4v1.4h-1.4zM33.9 69h1.5v1.5h-1.5zM34 70h1.2v1.2h-1.2zM33 68.4h1.3v1.3h-1.3zM41.1 63.7h1.3v1.3h-1.3zM40.4 65.1h1.3v1.3h-1.3zM40.8 62.5h1.3v1.3h-1.3zM40.7 62.4h1.3v1.3h-1.3zM40.3 62.5h1.1v1.1h-1.1zM38.7 64.9h1.2v1.2h-1.2zM37.5 65.6h1.4v1.4h-1.4zM36.9 65.3h1.4v1.4h-1.4zM38.2 65h1.2v1.2h-1.2zM37.7 65.8h1.2v1.2h-1.2zM15.4 62.2h1.4v1.4h-1.4zM13.7 59.8h1.2v1.2h-1.2zM13.8 60h1.3v1.3h-1.3zM15 60.7h1.2v1.2h-1.2zM13.9 60.1h1.1v1.1h-1.1zM28.3 60.6h1.4v1.4h-1.4zM30.5 61.1h1v1h-1zM30.9 59.8h1.2v1.2h-1.2zM28.2 60.6h1.5v1.5h-1.5zM29.2 61.2h1.3v1.3h-1.3zM36.5 55.3h1.4v1.4h-1.4zM35.3 55.3h1.3v1.3h-1.3zM34.6 56.4h1.1v1.1h-1.1zM35.7 56h1.2v1.2h-1.2zM36.6 54.8h1.3v1.3h-1.3zM30.7 60.4h1.3v1.3h-1.3zM29.9 62h1.2v1.2h-1.2zM31 62.1h1.3v1.3h-1.3zM30.1 60.3h1.4v1.4h-1.4zM30.6 61.7h1.4v1.4h-1.4zM26.4 58.1h1.4v1.4h-1.4zM26.3 57.1h1.1v1.1h-1.1zM27.3 57.1h1.2v1.2h-1.2zM27.3 58.7h1.1v1.1h-1.1zM27.3 58.9h1.2v1.2h-1.2zM19.8 54.9h1.3v1.3h-1.3zM21.4 53.9h1.4v1.4h-1.4zM21.9 54.2h1.3v1.3h-1.3zM21.4 52.7h1.6v1.6h-1.6zM21.4 54.3h1.3v1.3h-1.3zM29.1 63.1h1.2v1.2h-1.2zM27.7 63.1h1.6v1.6h-1.6zM28.6 62.5h1v1h-1zM28 63.2h1.1v1.1h-1.1zM28.5 61.7h1.2v1.2h-1.2zM40.7 65h1.1v1.1h-1.1zM40.1 62.9h1.6v1.6h-1.6zM41.9 63h1.5v1.5h-1.5zM40.8 64.9h1.5v1.5h-1.5zM39.9 64.6h1.2v1.2h-1.2zM27.6 56.8h1.1v1.1h-1.1zM26.2 57.5h1.5v1.5h-1.5zM26.3 58.8h1.4v1.4h-1.4zM26.6 57h1.2v1.2h-1.2zM26.9 57.8h1.1v1.1h-1.1zM17 60.9h1v1h-1zM15.3 61.2h1.3v1.3h-1.3zM16.9 61.9h1.2v1.2h-1.2zM15 61.9h1.1v1.1h-1.1zM15.7 61h1.4v1.4h-1.4zM15 61.7h1.6v1.6h-1.6zM16.4 59.2h1.2v1.2h-1.2zM15.4 61.6h1.3v1.3h-1.3zM13.8 61.3h1.6v1.6h-1.6zM15.3 59.7h1.5v1.5h-1.5zM35 78h1.1v1.1h-1.1zM35.2 78.5h1.5v1.5h-1.5zM33.6 76.8h1.3v1.3h-1.3zM33.9 76.6h1.6v1.6h-1.6zM34.3 76.9h1.6v1.6h-1.6zM28.2 61.1h1.5v1.5h-1.5zM26.7 62.6h1.1v1.1h-1.1zM26.3 62.8h1.2v1.2h-1.2zM27.9 63h1.4v1.4h-1.4zM28.7 62.2h1v1h-1zM20.7 67.9h1.5v1.5h-1.5zM20.2 66.6h1.2v1.2h-1.2zM20 68.9h1.1v1.1h-1.1zM19.5 66.9h1v1h-1zM20.5 67.7h1.3v1.3h-1.3zM21 66.3h1.5v1.5h-1.5zM19.2 66h1.1v1.1h-1.1zM19.6 65.4h1.2v1.2h-1.2zM20.3 66.1h1.2v1.2h-1.2zM21.1 65.7h1.3v1.3h-1.3zM21.4 66.5h1.4v1.4h-1.4zM19.9 66.9h1.4v1.4h-1.4zM20.7 65.5h1.4v1.4h-1.4zM21.4 65.3h1.3v1.3h-1.3zM21.1 65.3h1.5v1.5h-1.5zM36.2 71h1.5v1.5h-1.5zM37.7 71.9h1.3v1.3h-1.3zM38.5 71.1h1.1v1.1h-1.1zM36.9 72.2h1v1h-1zM36.5 71.2h1.5v1.5h-1.5zM34.4 54.6h1.6v1.6h-1.6zM35.4 55.6h1.1v1.1h-1.1zM35.2 56.2h1v1h-1zM35.2 54.9h1.5v1.5h-1.5zM34.3 55.3h1.2v1.2h-1.2zM22.5 55.2h1.4v1.4h-1.4zM25 55.8h1.2v1.2h-1.2zM23.7 55.2h1.5v1.5h-1.5zM24.4 53.8h1.2v1.2h-1.2zM24.4 55.1h1.4v1.4h-1.4zM39.2 76.4h1.4v1.4h-1.4zM39.3 76.9h1.2v1.2h-1.2zM37.7 77.6h1.4v1.4h-1.4zM38.9 76.7h1.5v1.5h-1.5zM38.9 75.3h1.2v1.2h-1.2zM25.2 58.3h1.4v1.4h-1.4zM24.4 57.1h1.3v1.3h-1.3zM26.8 57.7h1.2v1.2h-1.2zM26.7 59.1h1.4v1.4h-1.4zM24.8 58.4h1.1v1.1h-1.1zM23.5 73.2h1.2v1.2h-1.2zM25.6 72.7h1v1h-1zM24.1 72.8h1.3v1.3h-1.3zM25.2 72.6h1.4v1.4h-1.4zM24.5 72.8h1v1h-1zM17.3 60.4h1.3v1.3h-1.3zM16.8 60.4h1.2v1.2h-1.2zM16.7 60.9h1.1v1.1h-1.1zM17.9 62.5h1.1v1.1h-1.1zM17.3 61.5h1.6v1.6h-1.6zM31.4 61h1.1v1.1h-1.1zM33.9 62.5h1.2v1.2h-1.2zM31.5 61.7h1.5v1.5h-1.5zM31.5 62.5h1.3v1.3h-1.3zM33.5 62.4h1.1v1.1h-1.1zM17.3 60.3h1.4v1.4h-1.4zM16.6 60.8h1.6v1.6h-1.6zM16.7 60.4h1v1h-1zM18.2 61.6h1.4v1.4h-1.4zM18.7 61.5h1.2v1.2h-1.2zM31.4 61.5h1.5v1.5h-1.5zM33.1 61.9h1.1v1.1h-1.1zM32.6 59.4h1.2v1.2h-1.2zM33.5 60.6h1.5v1.5h-1.5zM31.3 60.3h1.2v1.2h-1.2zM19.6 66.5h1.3v1.3h-1.3zM19.4 67.8h1.5v1.5h-1.5zM20.9 66.7h1.5v1.5h-1.5zM21.6 67h1.4v1.4h-1.4zM21.5 67.3h1.4v1.4h-1.4zM37.5 61.7h1v1h-1zM38.9 61.9h1.4v1.4h-1.4zM36.7 61.7h1.6v1.6h-1.6zM38.1 61.2h1.2v1.2h-1.2zM37.9 59.7h1.5v1.5h-1.5zM21.9 65.6h1.1v1.1h-1.1zM21.2 64.2h1.4v1.4h-1.4zM23.2 65.5h1.3v1.3h-1.3zM22.3 65.8h1.2v1.2h-1.2zM23.4 64.7h1v1h-1zM16.6 60h1.2v1.2h-1.2zM17 58.5h1.3v1.3h-1.3zM17.5 59.6h1v1h-1zM16.2 58.5h1.2v1.2h-1.2zM16.1 58.6h1.3v1.3h-1.3zM28 56.1h1.5v1.5h-1.5zM28.6 56.1h1.3v1.3h-1.3zM28.7 56.3h1.3v1.3h-1.3zM27.5 56.8h1.4v1.4h-1.4zM28.8 56.7h1v1h-1zM29.6 60.7h1.5v1.5h-1.5zM31.2 62.7h1v1h-1zM30.8 60.7h1.1v1.1h-1.1zM32 62.5h1.4v1.4h-1.4zM31.5 62h1.1v1.1h-1.1zM38.3 74.1h1.6v1.6h-1.6zM39 72.9h1.4v1.4h-1.4zM39 73.5h1.4v1.4h-1.4zM37.1 72.1h1.6v1.6h-1.6zM38.8 74h1.3v1.3h-1.3zM18.9 61.8h1.2v1.2h-1.2zM19 60.1h1.5v1.5h-1.5zM17.8 61h1.2v1.2h-1.2zM18.1 61.2h1.4v1.4h-1.4zM18.7 62.1h1.2v1.2h-1.2zM42.8 84.2h1v1h-1zM40.8 86.2h1.4v1.4h-1.4zM42.8 84.7h1.2v1.2h-1.2zM41.3 86.3h1.2v1.2h-1.2zM42.4 86.6h1.2v1.2h-1.2zM15.6 57.4h1.5v1.5h-1.5zM15.2 56.8h1.5v1.5h-1.5zM14.5 55.5h1.3v1.3h-1.3zM14.3 55.7h1.5v1.5h-1.5zM14.2 55.5h1.3v1.3h-1.3zM43.4 85h1.1v1.1h-1.1zM44.1 85.7h1.3v1.3h-1.3zM43.8 84.5h1.2v1.2h-1.2zM42 85.4h1.2v1.2h-1.2zM43 85.8h1.5v1.5h-1.5z" fill="#d4d800" />
<path d="M41.4 71.2h1.5v1.5h-1.5zM15.6 59h1.6v1.6h-1.6zM36 62.3h1.5v1.5h-1.5zM19.5 65.7h1.4v1.4h-1.4zM21.2 58.1h1.4v1.4h-1.4z" fill="#ff80f8" />
<path d="M11,28.8 C12.5,28.72 17.17,28.55 20,28.3 C22.83,28.05 25.5,27.88 28,27.3 C30.5,26.72 32.83,25.98 35,24.8 C37.17,23.62 39.17,21.92 41,20.2 C42.83,18.48 44.5,16.28 46,14.5 C47.5,12.72 48.83,11 50,9.5 C51.17,8 52.5,6.17 53,5.5" fill="none" stroke="#fff" stroke-width="1.2" stroke-linecap="round"/>
<path d="M16.5,47.8 C17.42,47.33 20.08,45.97 22,45 C23.92,44.03 26.08,43.07 28,42 C29.92,40.93 32.58,39.17 33.5,38.6" fill="none" stroke="#fff" stroke-width="1.4" stroke-linecap="round"/>
</g>
<g transform="translate(364,120.7)">
<use href="#peb"/>
<path d="M14.2,18 C14.42,16.87 15.28,16.38 16,15.5 C16.72,14.62 17.58,13.73 18.5,12.7 C19.42,11.67 20.53,10.42 21.5,9.3 C22.47,8.18 23.03,7.03 24.3,6 C25.57,4.97 27.33,3.95 29.1,3.1 C30.87,2.25 32.75,1.3 34.9,0.9 C37.05,0.5 39.6,0.7 42,0.7 C44.4,0.7 47.77,0.5 49.3,0.9 C50.83,1.3 51.2,1.93 51.2,3.1 C51.2,4.27 50.25,6.15 49.3,7.9 C48.35,9.65 46.93,11.68 45.5,13.6 C44.07,15.52 42.63,17.55 40.7,19.4 C38.77,21.25 36.32,23.58 33.9,24.7 C31.48,25.82 28.6,25.93 26.2,26.1 C23.8,26.27 21.42,26.33 19.5,25.7 C17.58,25.07 15.58,23.58 14.7,22.3 C13.82,21.02 13.98,19.13 14.2,18Z" fill="#ff8000" />
<use href="#peto"/>
<path d="M35,36.3 C36.08,36.22 36.75,38.38 37.5,40 C38.25,41.62 39,43.83 39.5,46 C40,48.17 40.25,50.67 40.5,53 C40.75,55.33 40.92,57.5 41,60 C41.08,62.5 40.83,65.5 41,68 C41.17,70.5 41.42,73 42,75 C42.58,77 43.42,78.5 44.5,80 C45.58,81.5 47.62,82.75 48.5,84 C49.38,85.25 50.05,86.55 49.8,87.5 C49.55,88.45 48.3,89.35 47,89.7 C45.7,90.05 43.67,89.95 42,89.6 C40.33,89.25 38.67,88.45 37,87.6 C35.33,86.75 33.67,85.68 32,84.5 C30.33,83.32 28.5,81.7 27,80.5 C25.5,79.3 24.17,78.47 23,77.3 C21.83,76.13 21,74.88 20,73.5 C19,72.12 17.83,70.75 17,69 C16.17,67.25 15.42,65.17 15,63 C14.58,60.83 14.47,57.92 14.5,56 C14.53,54.08 14.62,52.7 15.2,51.5 C15.78,50.3 16.87,49.63 18,48.8 C19.13,47.97 20.5,47.38 22,46.5 C23.5,45.62 25.5,44.5 27,43.5 C28.5,42.5 29.67,41.7 31,40.5 C32.33,39.3 33.92,36.38 35,36.3Z" fill="#ff8000" />
<use href="#pello"/>
<path d="M14.6,58 C15.1,56.97 16.77,57.13 18,56.8 C19.23,56.47 20.67,56.2 22,56 C23.33,55.8 24.67,55.77 26,55.6 C27.33,55.43 28.83,55.23 30,55 C31.17,54.77 32,54.43 33,54.2 C34,53.97 34.92,53.3 36,53.6 C37.08,53.9 38.75,54.93 39.5,56 C40.25,57.07 40.25,58 40.5,60 C40.75,62 40.75,65.5 41,68 C41.25,70.5 41.42,73 42,75 C42.58,77 43.42,78.5 44.5,80 C45.58,81.5 47.62,82.75 48.5,84 C49.38,85.25 50.05,86.55 49.8,87.5 C49.55,88.45 48.3,89.35 47,89.7 C45.7,90.05 43.67,89.95 42,89.6 C40.33,89.25 38.67,88.45 37,87.6 C35.33,86.75 33.67,85.68 32,84.5 C30.33,83.32 28.5,81.7 27,80.5 C25.5,79.3 24.17,78.47 23,77.3 C21.83,76.13 21,74.88 20,73.5 C19,72.12 17.83,70.75 17,69 C16.17,67.25 15.4,64.83 15,63 C14.6,61.17 14.1,59.03 14.6,58Z" fill="#d4d800" />
<path d="M31,84 C31.08,83.28 32.92,82.2 34,81.5 C35.08,80.8 36.33,80.28 37.5,79.8 C38.67,79.32 40,78.65 41,78.6 C42,78.55 42.67,78.93 43.5,79.5 C44.33,80.07 45.17,81.2 46,82 C46.83,82.8 47.87,83.38 48.5,84.3 C49.13,85.22 50.05,86.6 49.8,87.5 C49.55,88.4 48.3,89.35 47,89.7 C45.7,90.05 43.67,89.95 42,89.6 C40.33,89.25 38.42,88.23 37,87.6 C35.58,86.97 34.5,86.4 33.5,85.8 C32.5,85.2 30.92,84.72 31,84Z" fill="#ff80f8" />
<path d="M29.2 62.2h1.6v1.6h-1.6zM35.2 68.2h1.6v1.6h-1.6zM28.2 71.2h1.6v1.6h-1.6zM25.2 59.2h1.6v1.6h-1.6zM39.2 65.2h1.6v1.6h-1.6zM32.2 64.2h1.6v1.6h-1.6zM23.2 65.2h1.6v1.6h-1.6zM37.2 73.2h1.6v1.6h-1.6zM20.2 61.2h1.6v1.6h-1.6zM34.2 59.2h1.6v1.6h-1.6zM27.2 67.2h1.6v1.6h-1.6zM30.2 75.2h1.6v1.6h-1.6z" fill="#ff80f8" />
<path d="M50.5,79 C50.92,78.17 52.75,77.42 54,76.5 C55.25,75.58 56.67,74.5 58,73.5 C59.33,72.5 60.67,71.42 62,70.5 C63.33,69.58 64.67,68.92 66,68 C67.33,67.08 68.67,65.92 70,65 C71.33,64.08 72.67,63.33 74,62.5 C75.33,61.67 76.75,60.78 78,60 C79.25,59.22 81.08,57.72 81.5,57.8 C81.92,57.88 81.25,59.55 80.5,60.5 C79.75,61.45 78.25,62.5 77,63.5 C75.75,64.5 74.33,65.5 73,66.5 C71.67,67.5 70.33,68.58 69,69.5 C67.67,70.42 66.33,71.17 65,72 C63.67,72.83 62.33,73.58 61,74.5 C59.67,75.42 58.17,76.58 57,77.5 C55.83,78.42 54.92,79.33 54,80 C53.08,80.67 52.08,81.67 51.5,81.5 C50.92,81.33 50.08,79.83 50.5,79Z" fill="#fff" />
<path d="M67.3 76.2h1.8v1.8h-1.8zM65.1 81h1.8v1.8h-1.8zM59.9 82.6h1.8v1.8h-1.8zM56.7 84.7h1.8v1.8h-1.8zM64.6 85.2h1.8v1.8h-1.8zM69.4 85.7h1.8v1.8h-1.8zM54.6 86.3h1.8v1.8h-1.8zM61.1 79.1h1.8v1.8h-1.8z" fill="#ff8000" />
<use href="#pegs"/>
<path d="M12,27.6 C13.33,27.72 17.33,28.23 20,28.3 C22.67,28.37 25.5,28.47 28,28 C30.5,27.53 32.83,26.67 35,25.5 C37.17,24.33 39.17,22.75 41,21 C42.83,19.25 44.5,16.92 46,15 C47.5,13.08 48.83,11.08 50,9.5 C51.17,7.92 52.5,6.17 53,5.5" fill="none" stroke="#fff" stroke-width="1.2" stroke-linecap="round"/>
</g>
<rect x="43.5" y="14.5" width="103.0" height="102.0" fill="none" stroke="#5e5e5e" stroke-width="1.15"/>
<rect x="150.5" y="14.5" width="103.0" height="102.0" fill="none" stroke="#5e5e5e" stroke-width="1.15"/>
<rect x="257.5" y="14.5" width="103.0" height="102.0" fill="none" stroke="#5e5e5e" stroke-width="1.15"/>
<rect x="364.5" y="14.5" width="103.0" height="102.0" fill="none" stroke="#5e5e5e" stroke-width="1.15"/>
<rect x="43.5" y="120.5" width="103.0" height="103.0" fill="none" stroke="#5e5e5e" stroke-width="1.15"/>
<rect x="150.5" y="120.5" width="103.0" height="103.0" fill="none" stroke="#5e5e5e" stroke-width="1.15"/>
<rect x="257.5" y="120.5" width="103.0" height="103.0" fill="none" stroke="#5e5e5e" stroke-width="1.15"/>
<rect x="364.5" y="120.5" width="103.0" height="103.0" fill="none" stroke="#5e5e5e" stroke-width="1.15"/>
<text x="7.5" y="19.2" font-size="11" text-anchor="start" font-weight="bold" fill="#000" >A</text>
<text x="23" y="68.8" font-size="10.4" text-anchor="start" font-weight="bold" fill="#000" >HC</text>
<text x="15.2" y="172.6" font-size="10.4" text-anchor="start" font-weight="bold" fill="#000" textLength="21.6" lengthAdjust="spacingAndGlyphs">p-ES</text>
<rect x="45.2" y="226.3" width="22" height="6.7" fill="#ff8000"/>
<rect x="151" y="226.3" width="21.8" height="6.7" fill="#d4d800"/>
<rect x="258" y="226.3" width="22" height="6.7" fill="#ff80f8"/>
<text x="70.6" y="233" font-size="7.3" fill="#111">CD45RA<tspan font-size="5" dy="-2.5">-</tspan><tspan dy="2.5">/CXCR5</tspan><tspan font-size="5" dy="-2.5">+</tspan></text>
<text x="175" y="233" font-size="7.3" fill="#111">CD45RA<tspan font-size="5" dy="-2.5">-</tspan><tspan dy="2.5">/CXCR5</tspan><tspan font-size="5" dy="-2.5">+</tspan><tspan dy="2.5">/PD-1</tspan><tspan font-size="5" dy="-2.5">+</tspan></text>
<text x="282.3" y="233" font-size="7.3" fill="#111">CD45RA<tspan font-size="5" dy="-2.5">-</tspan><tspan dy="2.5">/CXCR5</tspan><tspan font-size="5" dy="-2.5">+</tspan><tspan dy="2.5">/HLA-DR+</tspan></text>
<text x="388" y="233" font-size="7.3" fill="#111">Overlaid expression</text>
<text x="215.2" y="273" font-size="9.6" fill="#111">CD45RA<tspan font-size="6" dy="-3.5">-</tspan><tspan dy="3.5">CD4</tspan><tspan font-size="6" dy="-3.5">+</tspan><tspan dy="3.5"> (memory)</tspan></text>
<line x1="44.4" y1="278" x2="478" y2="278" stroke="#6a6a6a" stroke-width="1.4"/>
<text x="215.2" y="498.4" font-size="9.6" fill="#111">CD45RA<tspan font-size="6" dy="-3.5">-</tspan><tspan dy="3.5">CD4</tspan><tspan font-size="6" dy="-3.5">+</tspan><tspan dy="3.5"> (memory)</tspan></text>
<line x1="48.7" y1="504.2" x2="482.3" y2="504.2" stroke="#6a6a6a" stroke-width="1.4"/>
<line x1="45" y1="315" x2="45" y2="435" stroke="#151515" stroke-width="1.3"/>
<line x1="42" y1="434.5" x2="167.5" y2="434.5" stroke="#151515" stroke-width="1.3"/>
<line x1="42" y1="315.2" x2="45" y2="315.2" stroke="#111" stroke-width="1.1"/>
<text x="40.3" y="318.1" font-size="8" text-anchor="end" font-weight="normal" fill="#222" >60</text>
<line x1="42" y1="355.2" x2="45" y2="355.2" stroke="#111" stroke-width="1.1"/>
<text x="40.3" y="358.1" font-size="8" text-anchor="end" font-weight="normal" fill="#222" >40</text>
<line x1="42" y1="395" x2="45" y2="395" stroke="#111" stroke-width="1.1"/>
<text x="40.3" y="397.9" font-size="8" text-anchor="end" font-weight="normal" fill="#222" >20</text>
<line x1="42" y1="434.5" x2="45" y2="434.5" stroke="#111" stroke-width="1.1"/>
<text x="40.3" y="437.4" font-size="8" text-anchor="end" font-weight="normal" fill="#222" >0</text>
<line x1="69.6" y1="434.5" x2="69.6" y2="437.5" stroke="#111" stroke-width="1.1"/>
<line x1="106.3" y1="434.5" x2="106.3" y2="437.5" stroke="#111" stroke-width="1.1"/>
<line x1="143.1" y1="434.5" x2="143.1" y2="437.5" stroke="#111" stroke-width="1.1"/>
<text transform="translate(75.2,444.1) rotate(-45)" font-size="10.6" text-anchor="end" fill="#111">HC</text>
<text transform="translate(111.9,444.1) rotate(-45)" font-size="10.6" text-anchor="end" fill="#111" textLength="17.4" lengthAdjust="spacingAndGlyphs">pES</text>
<text transform="translate(148.7,444.1) rotate(-45)" font-size="10.6" text-anchor="end" fill="#111" textLength="18.3" lengthAdjust="spacingAndGlyphs">cITP</text>
<text transform="translate(25.9,375) rotate(-90) scale(0.839,1)" font-size="8.4" text-anchor="middle" fill="#444" stroke="#444" stroke-width="0.15">% Total cTfh (CXCR5<tspan font-size="5.5" dy="-2.5">+</tspan><tspan dy="2.5">)</tspan></text>
<line x1="65.2" y1="310.2" x2="141" y2="310.2" stroke="#555" stroke-width="1.1"/>
<text x="103.1" y="307.6" font-size="9" text-anchor="middle" font-weight="normal" fill="#222" >ns</text>
<line x1="66.6" y1="319.6" x2="103.6" y2="319.6" stroke="#555" stroke-width="1.1"/>
<polygon points="78.75,313.5 79.31,314.73 80.66,314.88 79.66,315.79 79.93,317.12 78.75,316.45 77.58,317.12 77.85,315.79 76.85,314.88 78.2,314.73" fill="#111"/>
<polygon points="82.98,313.5 83.54,314.73 84.89,314.88 83.89,315.79 84.16,317.12 82.98,316.45 81.81,317.12 82.08,315.79 81.08,314.88 82.43,314.73" fill="#111"/>
<polygon points="87.21,313.5 87.77,314.73 89.12,314.88 88.12,315.79 88.39,317.12 87.21,316.45 86.04,317.12 86.31,315.79 85.31,314.88 86.66,314.73" fill="#111"/>
<polygon points="91.44,313.5 92,314.73 93.35,314.88 92.35,315.79 92.62,317.12 91.44,316.45 90.27,317.12 90.54,315.79 89.54,314.88 90.89,314.73" fill="#111"/>
<line x1="108.1" y1="323.2" x2="141" y2="323.2" stroke="#555" stroke-width="1.1"/>
<polygon points="118.2,317.1 118.76,318.33 120.11,318.48 119.11,319.39 119.38,320.72 118.2,320.05 117.03,320.72 117.3,319.39 116.3,318.48 117.65,318.33" fill="#111"/>
<polygon points="122.44,317.1 122.99,318.33 124.34,318.48 123.34,319.39 123.61,320.72 122.44,320.05 121.26,320.72 121.53,319.39 120.53,318.48 121.88,318.33" fill="#111"/>
<polygon points="126.66,317.1 127.22,318.33 128.57,318.48 127.57,319.39 127.84,320.72 126.66,320.05 125.49,320.72 125.76,319.39 124.76,318.48 126.11,318.33" fill="#111"/>
<polygon points="130.9,317.1 131.45,318.33 132.8,318.48 131.8,319.39 132.07,320.72 130.9,320.05 129.72,320.72 129.99,319.39 128.99,318.48 130.34,318.33" fill="#111"/>
<line x1="62" y1="401.5" x2="78" y2="401.5" stroke="#111" stroke-width="1.3"/>
<line x1="94.1" y1="364.8" x2="118.8" y2="364.8" stroke="#111" stroke-width="1.3"/>
<line x1="132" y1="402.7" x2="155" y2="402.7" stroke="#111" stroke-width="1.3"/>
<line x1="100.4" y1="368.7" x2="112.3" y2="368.7" stroke="#333" stroke-width="1.0"/>
<line x1="100.4" y1="360.9" x2="112.3" y2="360.9" stroke="#333" stroke-width="1.0"/>
<circle cx="68.3" cy="389.3" r="2.25" fill="#e4163f" stroke="#000" stroke-width="0.85"/>
<circle cx="70.9" cy="389.6" r="2.25" fill="#e4163f" stroke="#000" stroke-width="0.85"/>
<circle cx="67.4" cy="391.6" r="2.25" fill="#e4163f" stroke="#000" stroke-width="0.85"/>
<circle cx="70.9" cy="393.9" r="2.25" fill="#e4163f" stroke="#000" stroke-width="0.85"/>
<circle cx="69.1" cy="397.4" r="2.25" fill="#e4163f" stroke="#000" stroke-width="0.85"/>
<circle cx="66.5" cy="398.6" r="2.25" fill="#e4163f" stroke="#000" stroke-width="0.85"/>
<circle cx="71.7" cy="400.3" r="2.25" fill="#e4163f" stroke="#000" stroke-width="0.85"/>
<circle cx="66.5" cy="401.7" r="2.25" fill="#e4163f" stroke="#000" stroke-width="0.85"/>
<circle cx="77.2" cy="401.4" r="2.25" fill="#e4163f" stroke="#000" stroke-width="0.85"/>
<circle cx="59.3" cy="403.2" r="2.25" fill="#e4163f" stroke="#000" stroke-width="0.85"/>
<circle cx="61.9" cy="403.8" r="2.25" fill="#e4163f" stroke="#000" stroke-width="0.85"/>
<circle cx="69.1" cy="403.8" r="2.25" fill="#e4163f" stroke="#000" stroke-width="0.85"/>
<circle cx="72.3" cy="403.5" r="2.25" fill="#e4163f" stroke="#000" stroke-width="0.85"/>
<circle cx="79.8" cy="404.9" r="2.25" fill="#e4163f" stroke="#000" stroke-width="0.85"/>
<circle cx="65.1" cy="406.1" r="2.25" fill="#e4163f" stroke="#000" stroke-width="0.85"/>
<circle cx="74" cy="406.6" r="2.25" fill="#e4163f" stroke="#000" stroke-width="0.85"/>
<circle cx="62.8" cy="408.7" r="2.25" fill="#e4163f" stroke="#000" stroke-width="0.85"/>
<circle cx="67.7" cy="408.4" r="2.25" fill="#e4163f" stroke="#000" stroke-width="0.85"/>
<circle cx="71.7" cy="409.8" r="2.25" fill="#e4163f" stroke="#000" stroke-width="0.85"/>
<circle cx="76.6" cy="409.5" r="2.25" fill="#e4163f" stroke="#000" stroke-width="0.85"/>
<circle cx="101.4" cy="331.9" r="2.25" fill="#1f69ad" stroke="#000" stroke-width="0.85"/>
<circle cx="111.4" cy="334.4" r="2.25" fill="#1f69ad" stroke="#000" stroke-width="0.85"/>
<circle cx="106.4" cy="338.1" r="2.25" fill="#1f69ad" stroke="#000" stroke-width="0.85"/>
<circle cx="111.4" cy="339.4" r="2.25" fill="#1f69ad" stroke="#000" stroke-width="0.85"/>
<circle cx="106.4" cy="342.8" r="2.25" fill="#1f69ad" stroke="#000" stroke-width="0.85"/>
<circle cx="111.4" cy="345.4" r="2.25" fill="#1f69ad" stroke="#000" stroke-width="0.85"/>
<circle cx="106.4" cy="348.8" r="2.25" fill="#1f69ad" stroke="#000" stroke-width="0.85"/>
<circle cx="101.4" cy="360" r="2.25" fill="#1f69ad" stroke="#000" stroke-width="0.85"/>
<circle cx="106.4" cy="358.8" r="2.25" fill="#1f69ad" stroke="#000" stroke-width="0.85"/>
<circle cx="111.4" cy="357.7" r="2.25" fill="#1f69ad" stroke="#000" stroke-width="0.85"/>
<circle cx="106.4" cy="364.2" r="2.25" fill="#1f69ad" stroke="#000" stroke-width="0.85"/>
<circle cx="111.4" cy="363.3" r="2.25" fill="#1f69ad" stroke="#000" stroke-width="0.85"/>
<circle cx="106.4" cy="370.2" r="2.25" fill="#1f69ad" stroke="#000" stroke-width="0.85"/>
<circle cx="96.4" cy="374.2" r="2.25" fill="#1f69ad" stroke="#000" stroke-width="0.85"/>
<circle cx="101.4" cy="373.8" r="2.25" fill="#1f69ad" stroke="#000" stroke-width="0.85"/>
<circle cx="111.4" cy="374.2" r="2.25" fill="#1f69ad" stroke="#000" stroke-width="0.85"/>
<circle cx="116.4" cy="371.8" r="2.25" fill="#1f69ad" stroke="#000" stroke-width="0.85"/>
<circle cx="101.4" cy="379.5" r="2.25" fill="#1f69ad" stroke="#000" stroke-width="0.85"/>
<circle cx="106.4" cy="378.1" r="2.25" fill="#1f69ad" stroke="#000" stroke-width="0.85"/>
<circle cx="111.4" cy="379.2" r="2.25" fill="#1f69ad" stroke="#000" stroke-width="0.85"/>
<circle cx="116.4" cy="378.5" r="2.25" fill="#1f69ad" stroke="#000" stroke-width="0.85"/>
<circle cx="103.8" cy="394.2" r="2.25" fill="#1f69ad" stroke="#000" stroke-width="0.85"/>
<circle cx="108.8" cy="394.6" r="2.25" fill="#1f69ad" stroke="#000" stroke-width="0.85"/>
<circle cx="106.4" cy="400.2" r="2.25" fill="#1f69ad" stroke="#000" stroke-width="0.85"/>
<circle cx="143.2" cy="374.4" r="2.25" fill="#3fd34f" stroke="#000" stroke-width="0.85"/>
<circle cx="141.4" cy="382.5" r="2.25" fill="#3fd34f" stroke="#000" stroke-width="0.85"/>
<circle cx="145" cy="382.5" r="2.25" fill="#3fd34f" stroke="#000" stroke-width="0.85"/>
<circle cx="146.5" cy="390.8" r="2.25" fill="#3fd34f" stroke="#000" stroke-width="0.85"/>
<circle cx="139.6" cy="393.8" r="2.25" fill="#3fd34f" stroke="#000" stroke-width="0.85"/>
<circle cx="143.2" cy="396.2" r="2.25" fill="#3fd34f" stroke="#000" stroke-width="0.85"/>
<circle cx="133.3" cy="401.2" r="2.25" fill="#3fd34f" stroke="#000" stroke-width="0.85"/>
<circle cx="153.1" cy="401.5" r="2.25" fill="#3fd34f" stroke="#000" stroke-width="0.85"/>
<circle cx="139.6" cy="403.1" r="2.25" fill="#3fd34f" stroke="#000" stroke-width="0.85"/>
<circle cx="136.5" cy="406.2" r="2.25" fill="#3fd34f" stroke="#000" stroke-width="0.85"/>
<circle cx="143.2" cy="406.2" r="2.25" fill="#3fd34f" stroke="#000" stroke-width="0.85"/>
<circle cx="146.5" cy="405.8" r="2.25" fill="#3fd34f" stroke="#000" stroke-width="0.85"/>
<circle cx="133.3" cy="408.1" r="2.25" fill="#3fd34f" stroke="#000" stroke-width="0.85"/>
<circle cx="149.6" cy="408.1" r="2.25" fill="#3fd34f" stroke="#000" stroke-width="0.85"/>
<circle cx="153.1" cy="407.2" r="2.25" fill="#3fd34f" stroke="#000" stroke-width="0.85"/>
<circle cx="139.6" cy="409.2" r="2.25" fill="#3fd34f" stroke="#000" stroke-width="0.85"/>
<circle cx="143.2" cy="413.8" r="2.25" fill="#3fd34f" stroke="#000" stroke-width="0.85"/>
<circle cx="141.4" cy="420.8" r="2.25" fill="#3fd34f" stroke="#000" stroke-width="0.85"/>
<circle cx="145.2" cy="421.8" r="2.25" fill="#3fd34f" stroke="#000" stroke-width="0.85"/>
<circle cx="141.4" cy="427.3" r="2.25" fill="#3fd34f" stroke="#000" stroke-width="0.85"/>
<circle cx="145.2" cy="427.7" r="2.25" fill="#3fd34f" stroke="#000" stroke-width="0.85"/>
<circle cx="143.2" cy="434.4" r="2.25" fill="#3fd34f" stroke="#000" stroke-width="0.85"/>
<text x="7.8" y="294.2" font-size="11" text-anchor="start" font-weight="bold" fill="#000" >B</text>
<line x1="216" y1="314.6" x2="216" y2="431.4" stroke="#151515" stroke-width="1.3"/>
<line x1="213" y1="431.4" x2="336.3" y2="431.4" stroke="#151515" stroke-width="1.3"/>
<line x1="213" y1="314.6" x2="216" y2="314.6" stroke="#111" stroke-width="1.1"/>
<text x="211.3" y="317.5" font-size="8" text-anchor="end" font-weight="normal" fill="#222" >40</text>
<line x1="213" y1="343.8" x2="216" y2="343.8" stroke="#111" stroke-width="1.1"/>
<text x="211.3" y="346.7" font-size="8" text-anchor="end" font-weight="normal" fill="#222" >30</text>
<line x1="213" y1="373" x2="216" y2="373" stroke="#111" stroke-width="1.1"/>
<text x="211.3" y="375.9" font-size="8" text-anchor="end" font-weight="normal" fill="#222" >20</text>
<line x1="213" y1="402.2" x2="216" y2="402.2" stroke="#111" stroke-width="1.1"/>
<text x="211.3" y="405.1" font-size="8" text-anchor="end" font-weight="normal" fill="#222" >10</text>
<line x1="213" y1="431.4" x2="216" y2="431.4" stroke="#111" stroke-width="1.1"/>
<text x="211.3" y="434.3" font-size="8" text-anchor="end" font-weight="normal" fill="#222" >0</text>
<line x1="240" y1="431.4" x2="240" y2="434.4" stroke="#111" stroke-width="1.1"/>
<line x1="275.8" y1="431.4" x2="275.8" y2="434.4" stroke="#111" stroke-width="1.1"/>
<line x1="312" y1="431.4" x2="312" y2="434.4" stroke="#111" stroke-width="1.1"/>
<text transform="translate(245.6,441) rotate(-45)" font-size="10.6" text-anchor="end" fill="#111">HC</text>
<text transform="translate(281.4,441) rotate(-45)" font-size="10.6" text-anchor="end" fill="#111" textLength="17.4" lengthAdjust="spacingAndGlyphs">pES</text>
<text transform="translate(317.6,441) rotate(-45)" font-size="10.6" text-anchor="end" fill="#111" textLength="18.3" lengthAdjust="spacingAndGlyphs">cITP</text>
<text transform="translate(195.8,372.7) rotate(-90) scale(0.849,1)" font-size="8.4" text-anchor="middle" fill="#444" stroke="#444" stroke-width="0.15">% cTfh (PD-1<tspan font-size="5.5" dy="-2.5">+</tspan><tspan dy="2.5">CXCR5</tspan><tspan font-size="5.5" dy="-2.5">+</tspan><tspan dy="2.5">)</tspan></text>
<line x1="238.3" y1="313.2" x2="314.5" y2="313.2" stroke="#555" stroke-width="1.1"/>
<text x="276.4" y="310.6" font-size="9" text-anchor="middle" font-weight="normal" fill="#222" >ns</text>
<line x1="238.3" y1="325" x2="275.9" y2="325" stroke="#555" stroke-width="1.1"/>
<polygon points="250.76,318.9 251.31,320.13 252.66,320.28 251.66,321.19 251.93,322.52 250.76,321.85 249.58,322.52 249.85,321.19 248.85,320.28 250.2,320.13" fill="#111"/>
<polygon points="254.99,318.9 255.54,320.13 256.89,320.28 255.89,321.19 256.16,322.52 254.99,321.85 253.81,322.52 254.08,321.19 253.08,320.28 254.43,320.13" fill="#111"/>
<polygon points="259.22,318.9 259.77,320.13 261.12,320.28 260.12,321.19 260.39,322.52 259.22,321.85 258.04,322.52 258.31,321.19 257.31,320.28 258.66,320.13" fill="#111"/>
<polygon points="263.45,318.9 264,320.13 265.35,320.28 264.35,321.19 264.62,322.52 263.45,321.85 262.27,322.52 262.54,321.19 261.54,320.28 262.89,320.13" fill="#111"/>
<line x1="277.1" y1="327.9" x2="314.5" y2="327.9" stroke="#555" stroke-width="1.1"/>
<polygon points="289.45,321.8 290.01,323.03 291.36,323.18 290.36,324.09 290.63,325.42 289.45,324.75 288.28,325.42 288.55,324.09 287.55,323.18 288.9,323.03" fill="#111"/>
<polygon points="293.69,321.8 294.24,323.03 295.59,323.18 294.59,324.09 294.86,325.42 293.69,324.75 292.51,325.42 292.78,324.09 291.78,323.18 293.13,323.03" fill="#111"/>
<polygon points="297.92,321.8 298.47,323.03 299.82,323.18 298.82,324.09 299.09,325.42 297.92,324.75 296.74,325.42 297.01,324.09 296.01,323.18 297.36,323.03" fill="#111"/>
<polygon points="302.15,321.8 302.7,323.03 304.05,323.18 303.05,324.09 303.32,325.42 302.15,324.75 300.97,325.42 301.24,324.09 300.24,323.18 301.59,323.03" fill="#111"/>
<line x1="234" y1="421" x2="246" y2="421" stroke="#111" stroke-width="1.3"/>
<line x1="264.1" y1="380.3" x2="288.1" y2="380.3" stroke="#111" stroke-width="1.3"/>
<line x1="306" y1="421.5" x2="318" y2="421.5" stroke="#111" stroke-width="1.3"/>
<line x1="270" y1="376.3" x2="282" y2="376.3" stroke="#333" stroke-width="1.0"/>
<line x1="270" y1="384.3" x2="282" y2="384.3" stroke="#333" stroke-width="1.0"/>
<circle cx="240" cy="409" r="2.25" fill="#e4163f" stroke="#000" stroke-width="0.85"/>
<circle cx="242.5" cy="408.3" r="2.25" fill="#e4163f" stroke="#000" stroke-width="0.85"/>
<circle cx="235.2" cy="411.3" r="2.25" fill="#e4163f" stroke="#000" stroke-width="0.85"/>
<circle cx="244.8" cy="413.8" r="2.25" fill="#e4163f" stroke="#000" stroke-width="0.85"/>
<circle cx="240" cy="415.6" r="2.25" fill="#e4163f" stroke="#000" stroke-width="0.85"/>
<circle cx="235.2" cy="417.1" r="2.25" fill="#e4163f" stroke="#000" stroke-width="0.85"/>
<circle cx="242.5" cy="417.9" r="2.25" fill="#e4163f" stroke="#000" stroke-width="0.85"/>
<circle cx="230.5" cy="421.3" r="2.25" fill="#e4163f" stroke="#000" stroke-width="0.85"/>
<circle cx="235.2" cy="421.3" r="2.25" fill="#e4163f" stroke="#000" stroke-width="0.85"/>
<circle cx="240" cy="420.8" r="2.25" fill="#e4163f" stroke="#000" stroke-width="0.85"/>
<circle cx="247.5" cy="421.9" r="2.25" fill="#e4163f" stroke="#000" stroke-width="0.85"/>
<circle cx="249.8" cy="423.1" r="2.25" fill="#e4163f" stroke="#000" stroke-width="0.85"/>
<circle cx="232.5" cy="424.2" r="2.25" fill="#e4163f" stroke="#000" stroke-width="0.85"/>
<circle cx="237.7" cy="424.8" r="2.25" fill="#e4163f" stroke="#000" stroke-width="0.85"/>
<circle cx="242.5" cy="424.8" r="2.25" fill="#e4163f" stroke="#000" stroke-width="0.85"/>
<circle cx="230.2" cy="427.5" r="2.25" fill="#e4163f" stroke="#000" stroke-width="0.85"/>
<circle cx="235.2" cy="426.5" r="2.25" fill="#e4163f" stroke="#000" stroke-width="0.85"/>
<circle cx="244.8" cy="427.5" r="2.25" fill="#e4163f" stroke="#000" stroke-width="0.85"/>
<circle cx="249.8" cy="427.7" r="2.25" fill="#e4163f" stroke="#000" stroke-width="0.85"/>
<circle cx="240" cy="428.8" r="2.25" fill="#e4163f" stroke="#000" stroke-width="0.85"/>
<circle cx="276" cy="342.7" r="2.25" fill="#1f69ad" stroke="#000" stroke-width="0.85"/>
<circle cx="271.2" cy="350" r="2.25" fill="#1f69ad" stroke="#000" stroke-width="0.85"/>
<circle cx="276" cy="351.3" r="2.25" fill="#1f69ad" stroke="#000" stroke-width="0.85"/>
<circle cx="281" cy="349.8" r="2.25" fill="#1f69ad" stroke="#000" stroke-width="0.85"/>
<circle cx="276" cy="361.5" r="2.25" fill="#1f69ad" stroke="#000" stroke-width="0.85"/>
<circle cx="276" cy="367.2" r="2.25" fill="#1f69ad" stroke="#000" stroke-width="0.85"/>
<circle cx="281" cy="371" r="2.25" fill="#1f69ad" stroke="#000" stroke-width="0.85"/>
<circle cx="276" cy="374" r="2.25" fill="#1f69ad" stroke="#000" stroke-width="0.85"/>
<circle cx="271.2" cy="375.5" r="2.25" fill="#1f69ad" stroke="#000" stroke-width="0.85"/>
<circle cx="276" cy="379.7" r="2.25" fill="#1f69ad" stroke="#000" stroke-width="0.85"/>
<circle cx="266.4" cy="382.2" r="2.25" fill="#1f69ad" stroke="#000" stroke-width="0.85"/>
<circle cx="285.8" cy="382.2" r="2.25" fill="#1f69ad" stroke="#000" stroke-width="0.85"/>
<circle cx="281" cy="384.3" r="2.25" fill="#1f69ad" stroke="#000" stroke-width="0.85"/>
<circle cx="276" cy="386.1" r="2.25" fill="#1f69ad" stroke="#000" stroke-width="0.85"/>
<circle cx="271.2" cy="386.8" r="2.25" fill="#1f69ad" stroke="#000" stroke-width="0.85"/>
<circle cx="266.4" cy="387.8" r="2.25" fill="#1f69ad" stroke="#000" stroke-width="0.85"/>
<circle cx="285.8" cy="388.2" r="2.25" fill="#1f69ad" stroke="#000" stroke-width="0.85"/>
<circle cx="281" cy="392.2" r="2.25" fill="#1f69ad" stroke="#000" stroke-width="0.85"/>
<circle cx="271.2" cy="396.5" r="2.25" fill="#1f69ad" stroke="#000" stroke-width="0.85"/>
<circle cx="276" cy="398.4" r="2.25" fill="#1f69ad" stroke="#000" stroke-width="0.85"/>
<circle cx="281" cy="400.7" r="2.25" fill="#1f69ad" stroke="#000" stroke-width="0.85"/>
<circle cx="276" cy="403.5" r="2.25" fill="#1f69ad" stroke="#000" stroke-width="0.85"/>
<circle cx="271.2" cy="406.8" r="2.25" fill="#1f69ad" stroke="#000" stroke-width="0.85"/>
<circle cx="281" cy="406.8" r="2.25" fill="#1f69ad" stroke="#000" stroke-width="0.85"/>
<circle cx="309" cy="409.1" r="2.25" fill="#3fd34f" stroke="#000" stroke-width="0.85"/>
<circle cx="302.4" cy="413.5" r="2.25" fill="#3fd34f" stroke="#000" stroke-width="0.85"/>
<circle cx="312.1" cy="412.3" r="2.25" fill="#3fd34f" stroke="#000" stroke-width="0.85"/>
<circle cx="318.8" cy="413.1" r="2.25" fill="#3fd34f" stroke="#000" stroke-width="0.85"/>
<circle cx="322.2" cy="414" r="2.25" fill="#3fd34f" stroke="#000" stroke-width="0.85"/>
<circle cx="308.8" cy="415.2" r="2.25" fill="#3fd34f" stroke="#000" stroke-width="0.85"/>
<circle cx="315.3" cy="415" r="2.25" fill="#3fd34f" stroke="#000" stroke-width="0.85"/>
<circle cx="302.1" cy="419.6" r="2.25" fill="#3fd34f" stroke="#000" stroke-width="0.85"/>
<circle cx="305.5" cy="420.6" r="2.25" fill="#3fd34f" stroke="#000" stroke-width="0.85"/>
<circle cx="312.1" cy="419.8" r="2.25" fill="#3fd34f" stroke="#000" stroke-width="0.85"/>
<circle cx="315.3" cy="419.8" r="2.25" fill="#3fd34f" stroke="#000" stroke-width="0.85"/>
<circle cx="318.4" cy="418.5" r="2.25" fill="#3fd34f" stroke="#000" stroke-width="0.85"/>
<circle cx="321.8" cy="421.5" r="2.25" fill="#3fd34f" stroke="#000" stroke-width="0.85"/>
<circle cx="308.8" cy="422.7" r="2.25" fill="#3fd34f" stroke="#000" stroke-width="0.85"/>
<circle cx="312.1" cy="425.8" r="2.25" fill="#3fd34f" stroke="#000" stroke-width="0.85"/>
<circle cx="315.3" cy="424.6" r="2.25" fill="#3fd34f" stroke="#000" stroke-width="0.85"/>
<circle cx="318.4" cy="424.6" r="2.25" fill="#3fd34f" stroke="#000" stroke-width="0.85"/>
<circle cx="305.5" cy="431.2" r="2.25" fill="#3fd34f" stroke="#000" stroke-width="0.85"/>
<circle cx="308.8" cy="429.1" r="2.25" fill="#3fd34f" stroke="#000" stroke-width="0.85"/>
<circle cx="312.1" cy="430.9" r="2.25" fill="#3fd34f" stroke="#000" stroke-width="0.85"/>
<circle cx="315.3" cy="429.2" r="2.25" fill="#3fd34f" stroke="#000" stroke-width="0.85"/>
<circle cx="318.8" cy="431.5" r="2.25" fill="#3fd34f" stroke="#000" stroke-width="0.85"/>
<text x="191.8" y="294.4" font-size="11" text-anchor="start" font-weight="bold" fill="#000" >C</text>
<line x1="385.3" y1="309.8" x2="385.3" y2="343.6" stroke="#151515" stroke-width="1.3"/>
<line x1="385.3" y1="353" x2="385.3" y2="432" stroke="#151515" stroke-width="1.3"/>
<line x1="383" y1="432" x2="510.7" y2="432" stroke="#151515" stroke-width="1.3"/>
<line x1="382.3" y1="309.8" x2="385.3" y2="309.8" stroke="#111" stroke-width="1.1"/>
<text x="380.6" y="312.7" font-size="8" text-anchor="end" font-weight="normal" fill="#222" >12</text>
<line x1="382.3" y1="326.8" x2="385.3" y2="326.8" stroke="#111" stroke-width="1.1"/>
<text x="380.6" y="329.7" font-size="8" text-anchor="end" font-weight="normal" fill="#222" >8</text>
<line x1="382.3" y1="343.6" x2="385.3" y2="343.6" stroke="#111" stroke-width="1.1"/>
<text x="380.6" y="346.5" font-size="8" text-anchor="end" font-weight="normal" fill="#222" >4</text>
<line x1="382.3" y1="353" x2="385.3" y2="353" stroke="#111" stroke-width="1.1"/>
<text x="380.6" y="355.9" font-size="8" text-anchor="end" font-weight="normal" fill="#222" >3</text>
<line x1="382.3" y1="379.4" x2="385.3" y2="379.4" stroke="#111" stroke-width="1.1"/>
<text x="380.6" y="382.3" font-size="8" text-anchor="end" font-weight="normal" fill="#222" >2</text>
<line x1="382.3" y1="405.7" x2="385.3" y2="405.7" stroke="#111" stroke-width="1.1"/>
<text x="380.6" y="408.6" font-size="8" text-anchor="end" font-weight="normal" fill="#222" >1</text>
<line x1="382.3" y1="432" x2="385.3" y2="432" stroke="#111" stroke-width="1.1"/>
<text x="380.6" y="434.9" font-size="8" text-anchor="end" font-weight="normal" fill="#222" >0</text>
<line x1="382.3" y1="343.6" x2="388.7" y2="343.6" stroke="#111" stroke-width="1.2"/>
<line x1="382.3" y1="353" x2="388.7" y2="353" stroke="#111" stroke-width="1.2"/>
<line x1="410.3" y1="432" x2="410.3" y2="435" stroke="#111" stroke-width="1.1"/>
<line x1="448.1" y1="432" x2="448.1" y2="435" stroke="#111" stroke-width="1.1"/>
<line x1="485.7" y1="432" x2="485.7" y2="435" stroke="#111" stroke-width="1.1"/>
<text transform="translate(415.9,441.6) rotate(-45)" font-size="10.6" text-anchor="end" fill="#111">HC</text>
<text transform="translate(453.7,441.6) rotate(-45)" font-size="10.6" text-anchor="end" fill="#111" textLength="17.4" lengthAdjust="spacingAndGlyphs">pES</text>
<text transform="translate(491.3,441.6) rotate(-45)" font-size="10.6" text-anchor="end" fill="#111" textLength="18.3" lengthAdjust="spacingAndGlyphs">cITP</text>
<text transform="translate(370.6,370.6) rotate(-90) scale(0.856,1)" font-size="8.4" text-anchor="middle" fill="#444" stroke="#444" stroke-width="0.15">PD-1<tspan font-size="5.5" dy="-2.5">+</tspan><tspan dy="2.5"> vs PD-1</tspan><tspan font-size="5.5" dy="-2.5">-</tspan><tspan dy="2.5"> (CXCR5</tspan><tspan font-size="5.5" dy="-2.5">+</tspan><tspan dy="2.5">) ratio</tspan></text>
<line x1="409.5" y1="307.6" x2="484.8" y2="307.6" stroke="#555" stroke-width="1.1"/>
<text x="447.15" y="305" font-size="9" text-anchor="middle" font-weight="normal" fill="#222" >ns</text>
<line x1="410.7" y1="317.2" x2="445.3" y2="317.2" stroke="#555" stroke-width="1.1"/>
<polygon points="421.65,311.1 422.21,312.33 423.56,312.48 422.56,313.39 422.83,314.72 421.65,314.05 420.48,314.72 420.75,313.39 419.75,312.48 421.1,312.33" fill="#111"/>
<polygon points="425.88,311.1 426.44,312.33 427.79,312.48 426.79,313.39 427.06,314.72 425.88,314.05 424.71,314.72 424.98,313.39 423.98,312.48 425.33,312.33" fill="#111"/>
<polygon points="430.12,311.1 430.67,312.33 432.02,312.48 431.02,313.39 431.29,314.72 430.12,314.05 428.94,314.72 429.21,313.39 428.21,312.48 429.56,312.33" fill="#111"/>
<polygon points="434.35,311.1 434.9,312.33 436.25,312.48 435.25,313.39 435.52,314.72 434.35,314.05 433.17,314.72 433.44,313.39 432.44,312.48 433.79,312.33" fill="#111"/>
<line x1="449.3" y1="320.1" x2="484.8" y2="320.1" stroke="#555" stroke-width="1.1"/>
<polygon points="460.7,314 461.26,315.23 462.61,315.38 461.61,316.29 461.88,317.62 460.7,316.95 459.53,317.62 459.8,316.29 458.8,315.38 460.15,315.23" fill="#111"/>
<polygon points="464.94,314 465.49,315.23 466.84,315.38 465.84,316.29 466.11,317.62 464.94,316.95 463.76,317.62 464.03,316.29 463.03,315.38 464.38,315.23" fill="#111"/>
<polygon points="469.17,314 469.72,315.23 471.07,315.38 470.07,316.29 470.34,317.62 469.17,316.95 467.99,317.62 468.26,316.29 467.26,315.38 468.61,315.23" fill="#111"/>
<polygon points="473.4,314 473.95,315.23 475.3,315.38 474.3,316.29 474.57,317.62 473.4,316.95 472.22,317.62 472.49,316.29 471.49,315.38 472.84,315.23" fill="#111"/>
<line x1="398.3" y1="423.4" x2="422.8" y2="423.4" stroke="#111" stroke-width="1.3"/>
<line x1="436" y1="397.1" x2="460.6" y2="397.1" stroke="#111" stroke-width="1.3"/>
<line x1="473.5" y1="423" x2="498" y2="423" stroke="#111" stroke-width="1.3"/>
<line x1="442.3" y1="390.4" x2="453.8" y2="390.4" stroke="#333" stroke-width="1.0"/>
<line x1="442.3" y1="403.5" x2="453.8" y2="403.5" stroke="#333" stroke-width="1.0"/>
<circle cx="410.8" cy="404.1" r="2.25" fill="#e4163f" stroke="#000" stroke-width="0.85"/>
<circle cx="410.8" cy="408" r="2.25" fill="#e4163f" stroke="#000" stroke-width="0.85"/>
<circle cx="410.8" cy="418.1" r="2.25" fill="#e4163f" stroke="#000" stroke-width="0.85"/>
<circle cx="408.4" cy="419.5" r="2.25" fill="#e4163f" stroke="#000" stroke-width="0.85"/>
<circle cx="417.5" cy="420.2" r="2.25" fill="#e4163f" stroke="#000" stroke-width="0.85"/>
<circle cx="412.7" cy="421" r="2.25" fill="#e4163f" stroke="#000" stroke-width="0.85"/>
<circle cx="415.6" cy="423.1" r="2.25" fill="#e4163f" stroke="#000" stroke-width="0.85"/>
<circle cx="404" cy="423.4" r="2.25" fill="#e4163f" stroke="#000" stroke-width="0.85"/>
<circle cx="402.1" cy="425.6" r="2.25" fill="#e4163f" stroke="#000" stroke-width="0.85"/>
<circle cx="408.8" cy="424.3" r="2.25" fill="#e4163f" stroke="#000" stroke-width="0.85"/>
<circle cx="404.5" cy="427.2" r="2.25" fill="#e4163f" stroke="#000" stroke-width="0.85"/>
<circle cx="410.3" cy="426.3" r="2.25" fill="#e4163f" stroke="#000" stroke-width="0.85"/>
<circle cx="413.2" cy="425.8" r="2.25" fill="#e4163f" stroke="#000" stroke-width="0.85"/>
<circle cx="400.2" cy="429.1" r="2.25" fill="#e4163f" stroke="#000" stroke-width="0.85"/>
<circle cx="408.4" cy="430.1" r="2.25" fill="#e4163f" stroke="#000" stroke-width="0.85"/>
<circle cx="414.1" cy="428.8" r="2.25" fill="#e4163f" stroke="#000" stroke-width="0.85"/>
<circle cx="418" cy="428.7" r="2.25" fill="#e4163f" stroke="#000" stroke-width="0.85"/>
<circle cx="420.4" cy="428.2" r="2.25" fill="#e4163f" stroke="#000" stroke-width="0.85"/>
<circle cx="447.9" cy="331.4" r="2.25" fill="#1f69ad" stroke="#000" stroke-width="0.85"/>
<circle cx="448.1" cy="362.5" r="2.25" fill="#1f69ad" stroke="#000" stroke-width="0.85"/>
<circle cx="448.1" cy="385.6" r="2.25" fill="#1f69ad" stroke="#000" stroke-width="0.85"/>
<circle cx="449.5" cy="391.7" r="2.25" fill="#1f69ad" stroke="#000" stroke-width="0.85"/>
<circle cx="452.9" cy="392" r="2.25" fill="#1f69ad" stroke="#000" stroke-width="0.85"/>
<circle cx="438" cy="394.9" r="2.25" fill="#1f69ad" stroke="#000" stroke-width="0.85"/>
<circle cx="455.3" cy="395.9" r="2.25" fill="#1f69ad" stroke="#000" stroke-width="0.85"/>
<circle cx="452.4" cy="399.4" r="2.25" fill="#1f69ad" stroke="#000" stroke-width="0.85"/>
<circle cx="438" cy="401.9" r="2.25" fill="#1f69ad" stroke="#000" stroke-width="0.85"/>
<circle cx="441.8" cy="402.1" r="2.25" fill="#1f69ad" stroke="#000" stroke-width="0.85"/>
<circle cx="446.2" cy="402.6" r="2.25" fill="#1f69ad" stroke="#000" stroke-width="0.85"/>
<circle cx="450.5" cy="402.1" r="2.25" fill="#1f69ad" stroke="#000" stroke-width="0.85"/>
<circle cx="454.8" cy="402.3" r="2.25" fill="#1f69ad" stroke="#000" stroke-width="0.85"/>
<circle cx="458.7" cy="401.9" r="2.25" fill="#1f69ad" stroke="#000" stroke-width="0.85"/>
<circle cx="444.7" cy="410.4" r="2.25" fill="#1f69ad" stroke="#000" stroke-width="0.85"/>
<circle cx="448.1" cy="410.4" r="2.25" fill="#1f69ad" stroke="#000" stroke-width="0.85"/>
<circle cx="442.3" cy="413.8" r="2.25" fill="#1f69ad" stroke="#000" stroke-width="0.85"/>
<circle cx="451" cy="413.8" r="2.25" fill="#1f69ad" stroke="#000" stroke-width="0.85"/>
<circle cx="454.3" cy="412.8" r="2.25" fill="#1f69ad" stroke="#000" stroke-width="0.85"/>
<circle cx="443.8" cy="418.3" r="2.25" fill="#1f69ad" stroke="#000" stroke-width="0.85"/>
<circle cx="449.5" cy="422.4" r="2.25" fill="#1f69ad" stroke="#000" stroke-width="0.85"/>
<circle cx="452.4" cy="421.2" r="2.25" fill="#1f69ad" stroke="#000" stroke-width="0.85"/>
<circle cx="443.8" cy="423.7" r="2.25" fill="#1f69ad" stroke="#000" stroke-width="0.85"/>
<circle cx="485.7" cy="402.2" r="2.25" fill="#3fd34f" stroke="#000" stroke-width="0.85"/>
<circle cx="485.7" cy="408.5" r="2.25" fill="#3fd34f" stroke="#000" stroke-width="0.85"/>
<circle cx="484.2" cy="415.2" r="2.25" fill="#3fd34f" stroke="#000" stroke-width="0.85"/>
<circle cx="487.1" cy="415.2" r="2.25" fill="#3fd34f" stroke="#000" stroke-width="0.85"/>
<circle cx="484.7" cy="420.5" r="2.25" fill="#3fd34f" stroke="#000" stroke-width="0.85"/>
<circle cx="495.8" cy="420.5" r="2.25" fill="#3fd34f" stroke="#000" stroke-width="0.85"/>
<circle cx="477.5" cy="422.9" r="2.25" fill="#3fd34f" stroke="#000" stroke-width="0.85"/>
<circle cx="489" cy="422.4" r="2.25" fill="#3fd34f" stroke="#000" stroke-width="0.85"/>
<circle cx="493.4" cy="423.4" r="2.25" fill="#3fd34f" stroke="#000" stroke-width="0.85"/>
<circle cx="475.1" cy="425.8" r="2.25" fill="#3fd34f" stroke="#000" stroke-width="0.85"/>
<circle cx="481.3" cy="423.8" r="2.25" fill="#3fd34f" stroke="#000" stroke-width="0.85"/>
<circle cx="486.2" cy="424.8" r="2.25" fill="#3fd34f" stroke="#000" stroke-width="0.85"/>
<circle cx="495.8" cy="425.6" r="2.25" fill="#3fd34f" stroke="#000" stroke-width="0.85"/>
<circle cx="478" cy="428.7" r="2.25" fill="#3fd34f" stroke="#000" stroke-width="0.85"/>
<circle cx="482.3" cy="428.2" r="2.25" fill="#3fd34f" stroke="#000" stroke-width="0.85"/>
<circle cx="489" cy="427.7" r="2.25" fill="#3fd34f" stroke="#000" stroke-width="0.85"/>
<circle cx="493.8" cy="428.2" r="2.25" fill="#3fd34f" stroke="#000" stroke-width="0.85"/>
<circle cx="486.6" cy="431.1" r="2.25" fill="#3fd34f" stroke="#000" stroke-width="0.85"/>
<circle cx="491.4" cy="430.6" r="2.25" fill="#3fd34f" stroke="#000" stroke-width="0.85"/>
<text x="355.8" y="294.2" font-size="11" text-anchor="start" font-weight="bold" fill="#000" >D</text>
<line x1="49.4" y1="539.7" x2="49.4" y2="654.3" stroke="#151515" stroke-width="1.3"/>
<line x1="47" y1="654.3" x2="166.5" y2="654.3" stroke="#151515" stroke-width="1.3"/>
<line x1="46.4" y1="539.7" x2="49.4" y2="539.7" stroke="#111" stroke-width="1.1"/>
<text x="44.7" y="542.6" font-size="8" text-anchor="end" font-weight="normal" fill="#222" >10</text>
<line x1="46.4" y1="562.6" x2="49.4" y2="562.6" stroke="#111" stroke-width="1.1"/>
<text x="44.7" y="565.5" font-size="8" text-anchor="end" font-weight="normal" fill="#222" >8</text>
<line x1="46.4" y1="585.5" x2="49.4" y2="585.5" stroke="#111" stroke-width="1.1"/>
<text x="44.7" y="588.4" font-size="8" text-anchor="end" font-weight="normal" fill="#222" >6</text>
<line x1="46.4" y1="608.4" x2="49.4" y2="608.4" stroke="#111" stroke-width="1.1"/>
<text x="44.7" y="611.3" font-size="8" text-anchor="end" font-weight="normal" fill="#222" >4</text>
<line x1="46.4" y1="631.4" x2="49.4" y2="631.4" stroke="#111" stroke-width="1.1"/>
<text x="44.7" y="634.3" font-size="8" text-anchor="end" font-weight="normal" fill="#222" >2</text>
<line x1="46.4" y1="654.3" x2="49.4" y2="654.3" stroke="#111" stroke-width="1.1"/>
<text x="44.7" y="657.2" font-size="8" text-anchor="end" font-weight="normal" fill="#222" >0</text>
<line x1="72.3" y1="654.3" x2="72.3" y2="657.3" stroke="#111" stroke-width="1.1"/>
<line x1="107.7" y1="654.3" x2="107.7" y2="657.3" stroke="#111" stroke-width="1.1"/>
<line x1="142.5" y1="654.3" x2="142.5" y2="657.3" stroke="#111" stroke-width="1.1"/>
<text transform="translate(77.9,663.9) rotate(-45)" font-size="10.6" text-anchor="end" fill="#111">HC</text>
<text transform="translate(113.3,663.9) rotate(-45)" font-size="10.6" text-anchor="end" fill="#111" textLength="17.4" lengthAdjust="spacingAndGlyphs">pES</text>
<text transform="translate(148.1,663.9) rotate(-45)" font-size="10.6" text-anchor="end" fill="#111" textLength="18.3" lengthAdjust="spacingAndGlyphs">cITP</text>
<text transform="translate(31.3,597.2) rotate(-90) scale(0.827,1)" font-size="8.4" text-anchor="middle" fill="#444" stroke="#444" stroke-width="0.15">% CXCR5<tspan font-size="5.5" dy="-2.5">+</tspan><tspan dy="2.5">HLA-DR</tspan><tspan font-size="5.5" dy="-2.5">+</tspan></text>
<line x1="74.4" y1="536.1" x2="145.3" y2="536.1" stroke="#555" stroke-width="1.1"/>
<text x="109.85" y="533.5" font-size="9" text-anchor="middle" font-weight="normal" fill="#222" >ns</text>
<line x1="74.4" y1="545.4" x2="104.8" y2="545.4" stroke="#555" stroke-width="1.1"/>
<polygon points="83.25,539.3 83.81,540.53 85.16,540.68 84.16,541.59 84.43,542.92 83.25,542.25 82.08,542.92 82.35,541.59 81.35,540.68 82.7,540.53" fill="#111"/>
<polygon points="87.48,539.3 88.04,540.53 89.39,540.68 88.39,541.59 88.66,542.92 87.48,542.25 86.31,542.92 86.58,541.59 85.58,540.68 86.93,540.53" fill="#111"/>
<polygon points="91.71,539.3 92.27,540.53 93.62,540.68 92.62,541.59 92.89,542.92 91.71,542.25 90.54,542.92 90.81,541.59 89.81,540.68 91.16,540.53" fill="#111"/>
<polygon points="95.94,539.3 96.5,540.53 97.85,540.68 96.85,541.59 97.12,542.92 95.94,542.25 94.77,542.92 95.04,541.59 94.04,540.68 95.39,540.53" fill="#111"/>
<line x1="111.4" y1="547.5" x2="144.6" y2="547.5" stroke="#555" stroke-width="1.1"/>
<polygon points="121.66,541.4 122.21,542.63 123.56,542.78 122.56,543.69 122.83,545.02 121.66,544.35 120.48,545.02 120.75,543.69 119.75,542.78 121.1,542.63" fill="#111"/>
<polygon points="125.89,541.4 126.44,542.63 127.79,542.78 126.79,543.69 127.06,545.02 125.89,544.35 124.71,545.02 124.98,543.69 123.98,542.78 125.33,542.63" fill="#111"/>
<polygon points="130.12,541.4 130.67,542.63 132.02,542.78 131.02,543.69 131.29,545.02 130.12,544.35 128.94,545.02 129.21,543.69 128.21,542.78 129.56,542.63" fill="#111"/>
<polygon points="134.34,541.4 134.9,542.63 136.25,542.78 135.25,543.69 135.52,545.02 134.34,544.35 133.17,545.02 133.44,543.69 132.44,542.78 133.79,542.63" fill="#111"/>
<line x1="61" y1="650.5" x2="84" y2="650.5" stroke="#111" stroke-width="1.3"/>
<line x1="96.3" y1="623" x2="119.3" y2="623" stroke="#111" stroke-width="1.3"/>
<line x1="131" y1="650.5" x2="155" y2="650.5" stroke="#111" stroke-width="1.3"/>
<line x1="102.2" y1="617.6" x2="113.7" y2="617.6" stroke="#333" stroke-width="1.0"/>
<line x1="102.2" y1="628.1" x2="113.7" y2="628.1" stroke="#333" stroke-width="1.0"/>
<circle cx="72.9" cy="640.2" r="2.25" fill="#e4163f" stroke="#000" stroke-width="0.85"/>
<circle cx="72.9" cy="648.5" r="2.25" fill="#e4163f" stroke="#000" stroke-width="0.85"/>
<circle cx="64" cy="650.8" r="2.25" fill="#e4163f" stroke="#000" stroke-width="0.85"/>
<circle cx="68.1" cy="651.9" r="2.25" fill="#e4163f" stroke="#000" stroke-width="0.85"/>
<circle cx="80.2" cy="650.2" r="2.25" fill="#e4163f" stroke="#000" stroke-width="0.85"/>
<circle cx="63.5" cy="653.3" r="2.25" fill="#e4163f" stroke="#000" stroke-width="0.85"/>
<circle cx="66.9" cy="654.2" r="2.25" fill="#e4163f" stroke="#000" stroke-width="0.85"/>
<circle cx="69.2" cy="653.7" r="2.25" fill="#e4163f" stroke="#000" stroke-width="0.85"/>
<circle cx="72.9" cy="653.1" r="2.25" fill="#e4163f" stroke="#000" stroke-width="0.85"/>
<circle cx="76.7" cy="653.1" r="2.25" fill="#e4163f" stroke="#000" stroke-width="0.85"/>
<circle cx="81.3" cy="653.3" r="2.25" fill="#e4163f" stroke="#000" stroke-width="0.85"/>
<circle cx="78.5" cy="654.2" r="2.25" fill="#e4163f" stroke="#000" stroke-width="0.85"/>
<circle cx="107.6" cy="552.4" r="2.25" fill="#1f69ad" stroke="#000" stroke-width="0.85"/>
<circle cx="107.6" cy="572.5" r="2.25" fill="#1f69ad" stroke="#000" stroke-width="0.85"/>
<circle cx="107.7" cy="592.9" r="2.25" fill="#1f69ad" stroke="#000" stroke-width="0.85"/>
<circle cx="107.7" cy="598" r="2.25" fill="#1f69ad" stroke="#000" stroke-width="0.85"/>
<circle cx="101.9" cy="606.9" r="2.25" fill="#1f69ad" stroke="#000" stroke-width="0.85"/>
<circle cx="106" cy="607.2" r="2.25" fill="#1f69ad" stroke="#000" stroke-width="0.85"/>
<circle cx="109.8" cy="609.7" r="2.25" fill="#1f69ad" stroke="#000" stroke-width="0.85"/>
<circle cx="106" cy="613.7" r="2.25" fill="#1f69ad" stroke="#000" stroke-width="0.85"/>
<circle cx="101.9" cy="617.8" r="2.25" fill="#1f69ad" stroke="#000" stroke-width="0.85"/>
<circle cx="109.8" cy="619.2" r="2.25" fill="#1f69ad" stroke="#000" stroke-width="0.85"/>
<circle cx="106" cy="621.9" r="2.25" fill="#1f69ad" stroke="#000" stroke-width="0.85"/>
<circle cx="109.8" cy="624.6" r="2.25" fill="#1f69ad" stroke="#000" stroke-width="0.85"/>
<circle cx="106" cy="637.6" r="2.25" fill="#1f69ad" stroke="#000" stroke-width="0.85"/>
<circle cx="109.8" cy="636.9" r="2.25" fill="#1f69ad" stroke="#000" stroke-width="0.85"/>
<circle cx="113.5" cy="637.6" r="2.25" fill="#1f69ad" stroke="#000" stroke-width="0.85"/>
<circle cx="117.5" cy="637.6" r="2.25" fill="#1f69ad" stroke="#000" stroke-width="0.85"/>
<circle cx="98.3" cy="641.2" r="2.25" fill="#1f69ad" stroke="#000" stroke-width="0.85"/>
<circle cx="102.2" cy="644" r="2.25" fill="#1f69ad" stroke="#000" stroke-width="0.85"/>
<circle cx="106" cy="644.8" r="2.25" fill="#1f69ad" stroke="#000" stroke-width="0.85"/>
<circle cx="109.8" cy="642" r="2.25" fill="#1f69ad" stroke="#000" stroke-width="0.85"/>
<circle cx="113.5" cy="642.7" r="2.25" fill="#1f69ad" stroke="#000" stroke-width="0.85"/>
<circle cx="117.5" cy="643.2" r="2.25" fill="#1f69ad" stroke="#000" stroke-width="0.85"/>
<circle cx="109.8" cy="647.3" r="2.25" fill="#1f69ad" stroke="#000" stroke-width="0.85"/>
<circle cx="107.7" cy="653.7" r="2.25" fill="#1f69ad" stroke="#000" stroke-width="0.85"/>
<circle cx="141.5" cy="640.4" r="2.25" fill="#3fd34f" stroke="#000" stroke-width="0.85"/>
<circle cx="143.1" cy="641.2" r="2.25" fill="#3fd34f" stroke="#000" stroke-width="0.85"/>
<circle cx="144.6" cy="644.2" r="2.25" fill="#3fd34f" stroke="#000" stroke-width="0.85"/>
<circle cx="145.4" cy="646.2" r="2.25" fill="#3fd34f" stroke="#000" stroke-width="0.85"/>
<circle cx="140.4" cy="646.9" r="2.25" fill="#3fd34f" stroke="#000" stroke-width="0.85"/>
<circle cx="142.3" cy="649" r="2.25" fill="#3fd34f" stroke="#000" stroke-width="0.85"/>
<circle cx="133.5" cy="651.5" r="2.25" fill="#3fd34f" stroke="#000" stroke-width="0.85"/>
<circle cx="135.8" cy="651.5" r="2.25" fill="#3fd34f" stroke="#000" stroke-width="0.85"/>
<circle cx="146.5" cy="651.2" r="2.25" fill="#3fd34f" stroke="#000" stroke-width="0.85"/>
<circle cx="151.9" cy="651.8" r="2.25" fill="#3fd34f" stroke="#000" stroke-width="0.85"/>
<circle cx="133.1" cy="653.5" r="2.25" fill="#3fd34f" stroke="#000" stroke-width="0.85"/>
<circle cx="138.1" cy="654.1" r="2.25" fill="#3fd34f" stroke="#000" stroke-width="0.85"/>
<circle cx="141.2" cy="654.1" r="2.25" fill="#3fd34f" stroke="#000" stroke-width="0.85"/>
<circle cx="149.2" cy="653.5" r="2.25" fill="#3fd34f" stroke="#000" stroke-width="0.85"/>
<circle cx="152.7" cy="652.7" r="2.25" fill="#3fd34f" stroke="#000" stroke-width="0.85"/>
<circle cx="143.8" cy="653.1" r="2.25" fill="#3fd34f" stroke="#000" stroke-width="0.85"/>
<text x="7.4" y="522.6" font-size="11" text-anchor="start" font-weight="bold" fill="#000" >E</text>
<line x1="218" y1="539.4" x2="218" y2="653.2" stroke="#151515" stroke-width="1.3"/>
<line x1="215.5" y1="653.2" x2="335.2" y2="653.2" stroke="#151515" stroke-width="1.3"/>
<line x1="215" y1="539.4" x2="218" y2="539.4" stroke="#111" stroke-width="1.1"/>
<text x="213.3" y="542.3" font-size="8" text-anchor="end" font-weight="normal" fill="#222" >4</text>
<line x1="215" y1="567.9" x2="218" y2="567.9" stroke="#111" stroke-width="1.1"/>
<text x="213.3" y="570.8" font-size="8" text-anchor="end" font-weight="normal" fill="#222" >3</text>
<line x1="215" y1="596.3" x2="218" y2="596.3" stroke="#111" stroke-width="1.1"/>
<text x="213.3" y="599.2" font-size="8" text-anchor="end" font-weight="normal" fill="#222" >2</text>
<line x1="215" y1="624.7" x2="218" y2="624.7" stroke="#111" stroke-width="1.1"/>
<text x="213.3" y="627.6" font-size="8" text-anchor="end" font-weight="normal" fill="#222" >1</text>
<line x1="215" y1="653.2" x2="218" y2="653.2" stroke="#111" stroke-width="1.1"/>
<text x="213.3" y="656.1" font-size="8" text-anchor="end" font-weight="normal" fill="#222" >0</text>
<line x1="241.5" y1="653.2" x2="241.5" y2="656.2" stroke="#111" stroke-width="1.1"/>
<line x1="276.5" y1="653.2" x2="276.5" y2="656.2" stroke="#111" stroke-width="1.1"/>
<line x1="311.5" y1="653.2" x2="311.5" y2="656.2" stroke="#111" stroke-width="1.1"/>
<text transform="translate(247.1,662.8) rotate(-45)" font-size="10.6" text-anchor="end" fill="#111">HC</text>
<text transform="translate(282.1,662.8) rotate(-45)" font-size="10.6" text-anchor="end" fill="#111" textLength="17.4" lengthAdjust="spacingAndGlyphs">pES</text>
<text transform="translate(317.1,662.8) rotate(-45)" font-size="10.6" text-anchor="end" fill="#111" textLength="18.3" lengthAdjust="spacingAndGlyphs">cITP</text>
<text transform="translate(203,597) rotate(-90) scale(0.867,1)" font-size="8.4" text-anchor="middle" fill="#444" stroke="#444" stroke-width="0.15">% CXCR5<tspan font-size="5.5" dy="-2.5">+</tspan><tspan dy="2.5">Tim3</tspan><tspan font-size="5.5" dy="-2.5">+</tspan></text>
<line x1="241.8" y1="537" x2="311.7" y2="537" stroke="#555" stroke-width="1.1"/>
<text x="276.75" y="534.4" font-size="9" text-anchor="middle" font-weight="normal" fill="#222" >ns</text>
<line x1="241.8" y1="545.3" x2="276.4" y2="545.3" stroke="#555" stroke-width="1.1"/>
<polygon points="252.76,539.2 253.31,540.43 254.66,540.58 253.66,541.49 253.93,542.82 252.76,542.15 251.58,542.82 251.85,541.49 250.85,540.58 252.2,540.43" fill="#111"/>
<polygon points="256.99,539.2 257.54,540.43 258.89,540.58 257.89,541.49 258.16,542.82 256.99,542.15 255.81,542.82 256.08,541.49 255.08,540.58 256.43,540.43" fill="#111"/>
<polygon points="261.22,539.2 261.77,540.43 263.12,540.58 262.12,541.49 262.39,542.82 261.22,542.15 260.04,542.82 260.31,541.49 259.31,540.58 260.66,540.43" fill="#111"/>
<polygon points="265.45,539.2 266,540.43 267.35,540.58 266.35,541.49 266.62,542.82 265.45,542.15 264.27,542.82 264.54,541.49 263.54,540.58 264.89,540.43" fill="#111"/>
<line x1="278.5" y1="548.2" x2="311.7" y2="548.2" stroke="#555" stroke-width="1.1"/>
<polygon points="290.87,542.1 291.43,543.33 292.77,543.48 291.77,544.39 292.05,545.72 290.87,545.05 289.69,545.72 289.97,544.39 288.97,543.48 290.31,543.33" fill="#111"/>
<polygon points="295.1,542.1 295.66,543.33 297,543.48 296,544.39 296.28,545.72 295.1,545.05 293.92,545.72 294.2,544.39 293.2,543.48 294.54,543.33" fill="#111"/>
<polygon points="299.33,542.1 299.89,543.33 301.23,543.48 300.23,544.39 300.51,545.72 299.33,545.05 298.15,545.72 298.43,544.39 297.43,543.48 298.77,543.33" fill="#111"/>
<line x1="234" y1="650.5" x2="249" y2="650.5" stroke="#111" stroke-width="1.3"/>
<line x1="265.1" y1="630.3" x2="287.9" y2="630.3" stroke="#111" stroke-width="1.3"/>
<line x1="304" y1="650.5" x2="318" y2="650.5" stroke="#111" stroke-width="1.3"/>
<line x1="270.8" y1="624.4" x2="282.2" y2="624.4" stroke="#333" stroke-width="1.0"/>
<line x1="271.2" y1="636" x2="282.2" y2="636" stroke="#333" stroke-width="1.0"/>
<line x1="276.5" y1="624.4" x2="276.5" y2="636" stroke="#333" stroke-width="1.0"/>
<circle cx="241.5" cy="637.8" r="2.25" fill="#e4163f" stroke="#000" stroke-width="0.85"/>
<circle cx="241.5" cy="642.9" r="2.25" fill="#e4163f" stroke="#000" stroke-width="0.85"/>
<circle cx="241.5" cy="648.2" r="2.25" fill="#e4163f" stroke="#000" stroke-width="0.85"/>
<circle cx="232.9" cy="650.5" r="2.25" fill="#e4163f" stroke="#000" stroke-width="0.85"/>
<circle cx="236.9" cy="651.3" r="2.25" fill="#e4163f" stroke="#000" stroke-width="0.85"/>
<circle cx="249.8" cy="649.4" r="2.25" fill="#e4163f" stroke="#000" stroke-width="0.85"/>
<circle cx="231.7" cy="652.8" r="2.25" fill="#e4163f" stroke="#000" stroke-width="0.85"/>
<circle cx="235.8" cy="653.3" r="2.25" fill="#e4163f" stroke="#000" stroke-width="0.85"/>
<circle cx="239.2" cy="652.5" r="2.25" fill="#e4163f" stroke="#000" stroke-width="0.85"/>
<circle cx="243.3" cy="652.5" r="2.25" fill="#e4163f" stroke="#000" stroke-width="0.85"/>
<circle cx="246.7" cy="651.3" r="2.25" fill="#e4163f" stroke="#000" stroke-width="0.85"/>
<circle cx="250.8" cy="652.5" r="2.25" fill="#e4163f" stroke="#000" stroke-width="0.85"/>
<circle cx="248.5" cy="653.3" r="2.25" fill="#e4163f" stroke="#000" stroke-width="0.85"/>
<circle cx="276.5" cy="553.6" r="2.25" fill="#1f69ad" stroke="#000" stroke-width="0.85"/>
<circle cx="276.5" cy="576.4" r="2.25" fill="#1f69ad" stroke="#000" stroke-width="0.85"/>
<circle cx="276.5" cy="594.4" r="2.25" fill="#1f69ad" stroke="#000" stroke-width="0.85"/>
<circle cx="276.5" cy="609.2" r="2.25" fill="#1f69ad" stroke="#000" stroke-width="0.85"/>
<circle cx="271.5" cy="618" r="2.25" fill="#1f69ad" stroke="#000" stroke-width="0.85"/>
<circle cx="281.3" cy="618" r="2.25" fill="#1f69ad" stroke="#000" stroke-width="0.85"/>
<circle cx="278.9" cy="620.2" r="2.25" fill="#1f69ad" stroke="#000" stroke-width="0.85"/>
<circle cx="276.5" cy="622.6" r="2.25" fill="#1f69ad" stroke="#000" stroke-width="0.85"/>
<circle cx="275.2" cy="635.1" r="2.25" fill="#1f69ad" stroke="#000" stroke-width="0.85"/>
<circle cx="277.8" cy="637.3" r="2.25" fill="#1f69ad" stroke="#000" stroke-width="0.85"/>
<circle cx="274.3" cy="643" r="2.25" fill="#1f69ad" stroke="#000" stroke-width="0.85"/>
<circle cx="269" cy="647.4" r="2.25" fill="#1f69ad" stroke="#000" stroke-width="0.85"/>
<circle cx="276.5" cy="647.4" r="2.25" fill="#1f69ad" stroke="#000" stroke-width="0.85"/>
<circle cx="286.1" cy="645.6" r="2.25" fill="#1f69ad" stroke="#000" stroke-width="0.85"/>
<circle cx="267.3" cy="649.6" r="2.25" fill="#1f69ad" stroke="#000" stroke-width="0.85"/>
<circle cx="271.7" cy="648.7" r="2.25" fill="#1f69ad" stroke="#000" stroke-width="0.85"/>
<circle cx="279.6" cy="648.7" r="2.25" fill="#1f69ad" stroke="#000" stroke-width="0.85"/>
<circle cx="283.5" cy="649.6" r="2.25" fill="#1f69ad" stroke="#000" stroke-width="0.85"/>
<circle cx="276.5" cy="651.8" r="2.25" fill="#1f69ad" stroke="#000" stroke-width="0.85"/>
<circle cx="286.1" cy="651.3" r="2.25" fill="#1f69ad" stroke="#000" stroke-width="0.85"/>
<circle cx="311.2" cy="642.3" r="2.25" fill="#3fd34f" stroke="#000" stroke-width="0.85"/>
<circle cx="312.3" cy="643.5" r="2.25" fill="#3fd34f" stroke="#000" stroke-width="0.85"/>
<circle cx="313.1" cy="647.7" r="2.25" fill="#3fd34f" stroke="#000" stroke-width="0.85"/>
<circle cx="303.5" cy="648.8" r="2.25" fill="#3fd34f" stroke="#000" stroke-width="0.85"/>
<circle cx="306.9" cy="649.6" r="2.25" fill="#3fd34f" stroke="#000" stroke-width="0.85"/>
<circle cx="309.6" cy="649.2" r="2.25" fill="#3fd34f" stroke="#000" stroke-width="0.85"/>
<circle cx="321.2" cy="648.8" r="2.25" fill="#3fd34f" stroke="#000" stroke-width="0.85"/>
<circle cx="319.6" cy="650.8" r="2.25" fill="#3fd34f" stroke="#000" stroke-width="0.85"/>
<circle cx="301.9" cy="652.3" r="2.25" fill="#3fd34f" stroke="#000" stroke-width="0.85"/>
<circle cx="306.9" cy="653.3" r="2.25" fill="#3fd34f" stroke="#000" stroke-width="0.85"/>
<circle cx="311.9" cy="653.1" r="2.25" fill="#3fd34f" stroke="#000" stroke-width="0.85"/>
<circle cx="315.8" cy="652.7" r="2.25" fill="#3fd34f" stroke="#000" stroke-width="0.85"/>
<text x="192.2" y="522.6" font-size="11" text-anchor="start" font-weight="bold" fill="#000" >F</text>
<line x1="386.1" y1="536.2" x2="386.1" y2="649.5" stroke="#151515" stroke-width="1.3"/>
<line x1="383" y1="649.5" x2="503" y2="649.5" stroke="#151515" stroke-width="1.3"/>
<line x1="383.1" y1="536.2" x2="386.1" y2="536.2" stroke="#111" stroke-width="1.1"/>
<text x="381.4" y="539.1" font-size="8" text-anchor="end" font-weight="normal" fill="#222" >15</text>
<line x1="383.1" y1="574" x2="386.1" y2="574" stroke="#111" stroke-width="1.1"/>
<text x="381.4" y="576.9" font-size="8" text-anchor="end" font-weight="normal" fill="#222" >10</text>
<line x1="383.1" y1="611.7" x2="386.1" y2="611.7" stroke="#111" stroke-width="1.1"/>
<text x="381.4" y="614.6" font-size="8" text-anchor="end" font-weight="normal" fill="#222" >5</text>
<line x1="383.1" y1="649.5" x2="386.1" y2="649.5" stroke="#111" stroke-width="1.1"/>
<text x="381.4" y="652.4" font-size="8" text-anchor="end" font-weight="normal" fill="#222" >0</text>
<line x1="408.8" y1="649.5" x2="408.8" y2="652.5" stroke="#111" stroke-width="1.1"/>
<line x1="444.2" y1="649.5" x2="444.2" y2="652.5" stroke="#111" stroke-width="1.1"/>
<line x1="479" y1="649.5" x2="479" y2="652.5" stroke="#111" stroke-width="1.1"/>
<text transform="translate(414.4,659.1) rotate(-45)" font-size="10.6" text-anchor="end" fill="#111">HC</text>
<text transform="translate(449.8,659.1) rotate(-45)" font-size="10.6" text-anchor="end" fill="#111" textLength="17.4" lengthAdjust="spacingAndGlyphs">pES</text>
<text transform="translate(484.6,659.1) rotate(-45)" font-size="10.6" text-anchor="end" fill="#111" textLength="18.3" lengthAdjust="spacingAndGlyphs">cITP</text>
<text transform="translate(365.8,593) rotate(-90) scale(0.862,1)" font-size="8.4" text-anchor="middle" fill="#444" stroke="#444" stroke-width="0.15">% CXCR5<tspan font-size="5.5" dy="-2.5">+</tspan><tspan dy="2.5">CD57</tspan><tspan font-size="5.5" dy="-2.5">+</tspan></text>
<line x1="409.5" y1="535.2" x2="476.7" y2="535.2" stroke="#555" stroke-width="1.1"/>
<text x="443.1" y="532.6" font-size="9" text-anchor="middle" font-weight="normal" fill="#222" >ns</text>
<line x1="409.5" y1="545.6" x2="443.8" y2="545.6" stroke="#555" stroke-width="1.1"/>
<polygon points="420.3,539.5 420.86,540.73 422.21,540.88 421.21,541.79 421.48,543.12 420.3,542.45 419.13,543.12 419.4,541.79 418.4,540.88 419.75,540.73" fill="#111"/>
<polygon points="424.53,539.5 425.09,540.73 426.44,540.88 425.44,541.79 425.71,543.12 424.53,542.45 423.36,543.12 423.63,541.79 422.63,540.88 423.98,540.73" fill="#111"/>
<polygon points="428.76,539.5 429.32,540.73 430.67,540.88 429.67,541.79 429.94,543.12 428.76,542.45 427.59,543.12 427.86,541.79 426.86,540.88 428.21,540.73" fill="#111"/>
<polygon points="433,539.5 433.55,540.73 434.9,540.88 433.9,541.79 434.17,543.12 433,542.45 431.82,543.12 432.09,541.79 431.09,540.88 432.44,540.73" fill="#111"/>
<line x1="445" y1="549.1" x2="479.1" y2="549.1" stroke="#555" stroke-width="1.1"/>
<polygon points="455.7,543 456.26,544.23 457.61,544.38 456.61,545.29 456.88,546.62 455.7,545.95 454.53,546.62 454.8,545.29 453.8,544.38 455.15,544.23" fill="#111"/>
<polygon points="459.94,543 460.49,544.23 461.84,544.38 460.84,545.29 461.11,546.62 459.94,545.95 458.76,546.62 459.03,545.29 458.03,544.38 459.38,544.23" fill="#111"/>
<polygon points="464.17,543 464.72,544.23 466.07,544.38 465.07,545.29 465.34,546.62 464.17,545.95 462.99,546.62 463.26,545.29 462.26,544.38 463.61,544.23" fill="#111"/>
<polygon points="468.4,543 468.95,544.23 470.3,544.38 469.3,545.29 469.57,546.62 468.4,545.95 467.22,546.62 467.49,545.29 466.49,544.38 467.84,544.23" fill="#111"/>
<line x1="402" y1="642.5" x2="416" y2="642.5" stroke="#111" stroke-width="1.3"/>
<line x1="432.7" y1="620.4" x2="455.8" y2="620.4" stroke="#111" stroke-width="1.3"/>
<line x1="472" y1="645" x2="486" y2="645" stroke="#111" stroke-width="1.3"/>
<line x1="438.5" y1="615.4" x2="450" y2="615.4" stroke="#333" stroke-width="1.0"/>
<line x1="438.5" y1="625.2" x2="450" y2="625.2" stroke="#333" stroke-width="1.0"/>
<circle cx="401.5" cy="638.1" r="2.25" fill="#e4163f" stroke="#000" stroke-width="0.85"/>
<circle cx="406.2" cy="637.7" r="2.25" fill="#e4163f" stroke="#000" stroke-width="0.85"/>
<circle cx="410.4" cy="638.5" r="2.25" fill="#e4163f" stroke="#000" stroke-width="0.85"/>
<circle cx="414.5" cy="635.8" r="2.25" fill="#e4163f" stroke="#000" stroke-width="0.85"/>
<circle cx="416.5" cy="638.1" r="2.25" fill="#e4163f" stroke="#000" stroke-width="0.85"/>
<circle cx="399.8" cy="641.9" r="2.25" fill="#e4163f" stroke="#000" stroke-width="0.85"/>
<circle cx="404" cy="640.2" r="2.25" fill="#e4163f" stroke="#000" stroke-width="0.85"/>
<circle cx="408.1" cy="642.3" r="2.25" fill="#e4163f" stroke="#000" stroke-width="0.85"/>
<circle cx="414.5" cy="641.7" r="2.25" fill="#e4163f" stroke="#000" stroke-width="0.85"/>
<circle cx="418.8" cy="640.9" r="2.25" fill="#e4163f" stroke="#000" stroke-width="0.85"/>
<circle cx="404" cy="645.4" r="2.25" fill="#e4163f" stroke="#000" stroke-width="0.85"/>
<circle cx="410.4" cy="644.8" r="2.25" fill="#e4163f" stroke="#000" stroke-width="0.85"/>
<circle cx="399.8" cy="647.1" r="2.25" fill="#e4163f" stroke="#000" stroke-width="0.85"/>
<circle cx="408.1" cy="648.5" r="2.25" fill="#e4163f" stroke="#000" stroke-width="0.85"/>
<circle cx="412.3" cy="647.7" r="2.25" fill="#e4163f" stroke="#000" stroke-width="0.85"/>
<circle cx="416.5" cy="647.5" r="2.25" fill="#e4163f" stroke="#000" stroke-width="0.85"/>
<circle cx="418.8" cy="645.4" r="2.25" fill="#e4163f" stroke="#000" stroke-width="0.85"/>
<circle cx="444.2" cy="564.8" r="2.25" fill="#1f69ad" stroke="#000" stroke-width="0.85"/>
<circle cx="444.2" cy="589.8" r="2.25" fill="#1f69ad" stroke="#000" stroke-width="0.85"/>
<circle cx="449.8" cy="595" r="2.25" fill="#1f69ad" stroke="#000" stroke-width="0.85"/>
<circle cx="438.5" cy="598.1" r="2.25" fill="#1f69ad" stroke="#000" stroke-width="0.85"/>
<circle cx="442.5" cy="599.1" r="2.25" fill="#1f69ad" stroke="#000" stroke-width="0.85"/>
<circle cx="446.2" cy="603.2" r="2.25" fill="#1f69ad" stroke="#000" stroke-width="0.85"/>
<circle cx="442.3" cy="606" r="2.25" fill="#1f69ad" stroke="#000" stroke-width="0.85"/>
<circle cx="446.2" cy="609.6" r="2.25" fill="#1f69ad" stroke="#000" stroke-width="0.85"/>
<circle cx="446.2" cy="619.5" r="2.25" fill="#1f69ad" stroke="#000" stroke-width="0.85"/>
<circle cx="442.3" cy="620.8" r="2.25" fill="#1f69ad" stroke="#000" stroke-width="0.85"/>
<circle cx="442.3" cy="625.4" r="2.25" fill="#1f69ad" stroke="#000" stroke-width="0.85"/>
<circle cx="446.2" cy="625.2" r="2.25" fill="#1f69ad" stroke="#000" stroke-width="0.85"/>
<circle cx="446.2" cy="632.5" r="2.25" fill="#1f69ad" stroke="#000" stroke-width="0.85"/>
<circle cx="438.5" cy="634.6" r="2.25" fill="#1f69ad" stroke="#000" stroke-width="0.85"/>
<circle cx="453.8" cy="634.8" r="2.25" fill="#1f69ad" stroke="#000" stroke-width="0.85"/>
<circle cx="442.5" cy="635.8" r="2.25" fill="#1f69ad" stroke="#000" stroke-width="0.85"/>
<circle cx="434.6" cy="638.8" r="2.25" fill="#1f69ad" stroke="#000" stroke-width="0.85"/>
<circle cx="446.2" cy="637.9" r="2.25" fill="#1f69ad" stroke="#000" stroke-width="0.85"/>
<circle cx="450" cy="638.8" r="2.25" fill="#1f69ad" stroke="#000" stroke-width="0.85"/>
<circle cx="442.3" cy="641.8" r="2.25" fill="#1f69ad" stroke="#000" stroke-width="0.85"/>
<circle cx="446.2" cy="644.6" r="2.25" fill="#1f69ad" stroke="#000" stroke-width="0.85"/>
<circle cx="442.3" cy="648.5" r="2.25" fill="#1f69ad" stroke="#000" stroke-width="0.85"/>
<circle cx="477.5" cy="639.2" r="2.25" fill="#3fd34f" stroke="#000" stroke-width="0.85"/>
<circle cx="481.5" cy="640.2" r="2.25" fill="#3fd34f" stroke="#000" stroke-width="0.85"/>
<circle cx="470.6" cy="641.9" r="2.25" fill="#3fd34f" stroke="#000" stroke-width="0.85"/>
<circle cx="487.7" cy="641.7" r="2.25" fill="#3fd34f" stroke="#000" stroke-width="0.85"/>
<circle cx="473.1" cy="644.5" r="2.25" fill="#3fd34f" stroke="#000" stroke-width="0.85"/>
<circle cx="478.8" cy="643.5" r="2.25" fill="#3fd34f" stroke="#000" stroke-width="0.85"/>
<circle cx="485" cy="644.6" r="2.25" fill="#3fd34f" stroke="#000" stroke-width="0.85"/>
<circle cx="476.5" cy="645.8" r="2.25" fill="#3fd34f" stroke="#000" stroke-width="0.85"/>
<circle cx="480.6" cy="646.2" r="2.25" fill="#3fd34f" stroke="#000" stroke-width="0.85"/>
<circle cx="469.8" cy="648.6" r="2.25" fill="#3fd34f" stroke="#000" stroke-width="0.85"/>
<circle cx="474.2" cy="647.8" r="2.25" fill="#3fd34f" stroke="#000" stroke-width="0.85"/>
<circle cx="478.1" cy="649.4" r="2.25" fill="#3fd34f" stroke="#000" stroke-width="0.85"/>
<circle cx="482.3" cy="648.6" r="2.25" fill="#3fd34f" stroke="#000" stroke-width="0.85"/>
<circle cx="486.2" cy="649.1" r="2.25" fill="#3fd34f" stroke="#000" stroke-width="0.85"/>
<circle cx="488.6" cy="648.1" r="2.25" fill="#3fd34f" stroke="#000" stroke-width="0.85"/>
<text x="355.2" y="522.6" font-size="11" text-anchor="start" font-weight="bold" fill="#000" >G</text>
</svg></div></body></html>
